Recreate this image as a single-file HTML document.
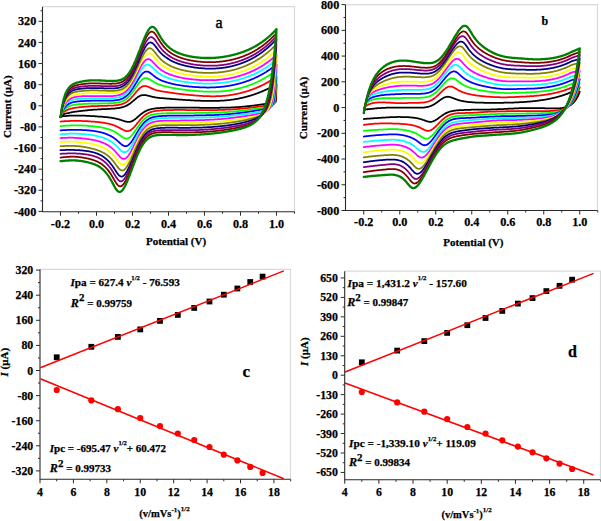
<!DOCTYPE html>
<html><head><meta charset="utf-8"><style>
html,body{margin:0;padding:0;background:#fff;}
svg{display:block;}
text{font-family:'Liberation Serif', serif;font-weight:bold;fill:#000;stroke:#000;stroke-width:0.25px;}
</style></head><body>
<svg width="601" height="521" viewBox="0 0 601 521">
<rect width="601" height="521" fill="#fff"/>
<g>
<polyline points="60.5,117.2 60.9,116.6 61.2,116.2 61.6,115.8 61.9,115.4 62.3,115.1 62.7,114.8 63.0,114.6 63.4,114.4 63.7,114.2 64.1,114.0 64.5,113.9 64.8,113.8 65.2,113.7 65.5,113.6 65.9,113.5 66.3,113.4 66.6,113.4 67.0,113.3 67.3,113.3 67.7,113.2 68.1,113.1 68.4,113.1 68.8,113.0 69.1,112.9 69.5,112.8 69.9,112.7 70.2,112.6 70.6,112.5 70.9,112.4 71.3,112.3 71.7,112.3 72.0,112.2 72.4,112.1 72.7,112.1 73.1,112.0 73.5,111.9 73.8,111.9 74.2,111.8 74.5,111.8 74.9,111.7 75.3,111.7 75.6,111.6 76.0,111.6 76.3,111.5 76.7,111.5 77.1,111.4 77.4,111.4 77.8,111.3 78.1,111.3 78.5,111.3 78.9,111.2 79.2,111.2 79.6,111.1 79.9,111.1 80.3,111.0 80.7,111.0 81.0,111.0 81.4,110.9 81.7,110.9 82.1,110.8 82.5,110.8 82.8,110.8 83.2,110.7 83.5,110.7 83.9,110.6 84.3,110.6 84.6,110.6 85.0,110.5 85.3,110.5 85.7,110.4 86.1,110.4 86.4,110.4 86.8,110.3 87.1,110.3 87.5,110.3 87.9,110.2 88.2,110.2 88.6,110.1 88.9,110.1 89.3,110.1 89.7,110.0 90.0,110.0 90.4,110.0 90.7,109.9 91.1,109.9 91.5,109.9 91.8,109.8 92.2,109.8 92.5,109.8 92.9,109.7 93.3,109.7 93.6,109.7 94.0,109.7 94.3,109.6 94.7,109.6 95.1,109.6 95.4,109.6 95.8,109.5 96.1,109.5 96.5,109.5 96.9,109.5 97.2,109.5 97.6,109.4 97.9,109.4 98.3,109.4 98.7,109.4 99.0,109.4 99.4,109.3 99.7,109.3 100.1,109.3 100.5,109.3 100.8,109.3 101.2,109.3 101.5,109.2 101.9,109.2 102.3,109.2 102.6,109.2 103.0,109.2 103.3,109.1 103.7,109.1 104.1,109.1 104.4,109.1 104.8,109.1 105.1,109.1 105.5,109.0 105.9,109.0 106.2,109.0 106.6,109.0 106.9,109.0 107.3,109.0 107.7,108.9 108.0,108.9 108.4,108.9 108.7,108.9 109.1,108.9 109.5,108.8 109.8,108.8 110.2,108.8 110.5,108.8 110.9,108.8 111.3,108.7 111.6,108.7 112.0,108.7 112.3,108.7 112.7,108.6 113.1,108.6 113.4,108.6 113.8,108.6 114.1,108.5 114.5,108.5 114.9,108.5 115.2,108.4 115.6,108.4 115.9,108.4 116.3,108.3 116.7,108.3 117.0,108.2 117.4,108.2 117.7,108.2 118.1,108.1 118.5,108.1 118.8,108.0 119.2,107.9 119.5,107.9 119.9,107.8 120.3,107.7 120.6,107.7 121.0,107.6 121.3,107.5 121.7,107.4 122.1,107.3 122.4,107.2 122.8,107.1 123.1,107.0 123.5,106.9 123.9,106.8 124.2,106.7 124.6,106.5 124.9,106.4 125.3,106.2 125.7,106.1 126.0,105.9 126.4,105.7 126.7,105.6 127.1,105.4 127.5,105.2 127.8,105.0 128.2,104.8 128.5,104.5 128.9,104.3 129.3,104.1 129.6,103.8 130.0,103.5 130.3,103.3 130.7,103.0 131.1,102.7 131.4,102.4 131.8,102.1 132.1,101.9 132.5,101.5 132.9,101.2 133.2,100.9 133.6,100.6 133.9,100.3 134.3,100.0 134.7,99.7 135.0,99.4 135.4,99.1 135.7,98.8 136.1,98.5 136.5,98.2 136.8,97.9 137.2,97.6 137.5,97.3 137.9,97.1 138.3,96.8 138.6,96.6 139.0,96.4 139.3,96.2 139.7,96.0 140.1,95.8 140.4,95.6 140.8,95.5 141.1,95.4 141.5,95.3 141.9,95.2 142.2,95.1 142.6,95.0 142.9,95.0 143.3,95.0 143.7,95.0 144.0,95.0 144.4,95.0 144.7,95.0 145.1,95.0 145.5,95.1 145.8,95.2 146.2,95.2 146.5,95.3 146.9,95.4 147.3,95.5 147.6,95.5 148.0,95.6 148.3,95.7 148.7,95.8 149.1,95.9 149.4,96.0 149.8,96.1 150.1,96.2 150.5,96.3 150.9,96.4 151.2,96.5 151.6,96.6 151.9,96.7 152.3,96.8 152.7,96.8 153.0,96.9 153.4,97.0 153.7,97.1 154.1,97.1 154.5,97.2 154.8,97.3 155.2,97.3 155.5,97.4 155.9,97.5 156.3,97.5 156.6,97.6 157.0,97.6 157.3,97.7 157.7,97.7 158.1,97.8 158.4,97.8 158.8,97.8 159.1,97.9 159.5,97.9 159.9,98.0 160.2,98.0 160.6,98.0 160.9,98.1 161.3,98.1 161.7,98.1 162.0,98.1 162.4,98.2 162.7,98.2 163.1,98.2 163.5,98.3 163.8,98.3 164.2,98.3 164.5,98.3 164.9,98.4 165.3,98.4 165.6,98.4 166.0,98.5 166.3,98.5 166.7,98.5 167.1,98.5 167.4,98.6 167.8,98.6 168.1,98.6 168.5,98.7 168.9,98.7 169.2,98.7 169.6,98.8 169.9,98.8 170.3,98.8 170.7,98.9 171.0,98.9 171.4,98.9 171.7,99.0 172.1,99.0 172.5,99.0 172.8,99.0 173.2,99.1 173.5,99.1 173.9,99.1 174.3,99.2 174.6,99.2 175.0,99.2 175.3,99.2 175.7,99.3 176.1,99.3 176.4,99.3 176.8,99.3 177.1,99.4 177.5,99.4 177.9,99.4 178.2,99.4 178.6,99.5 178.9,99.5 179.3,99.5 179.7,99.6 180.0,99.6 180.4,99.6 180.7,99.6 181.1,99.7 181.5,99.7 181.8,99.7 182.2,99.7 182.5,99.8 182.9,99.8 183.3,99.8 183.6,99.8 184.0,99.8 184.3,99.9 184.7,99.9 185.1,99.9 185.4,99.9 185.8,100.0 186.1,100.0 186.5,100.0 186.9,100.0 187.2,100.1 187.6,100.1 187.9,100.1 188.3,100.1 188.7,100.1 189.0,100.2 189.4,100.2 189.7,100.2 190.1,100.2 190.5,100.3 190.8,100.3 191.2,100.3 191.5,100.3 191.9,100.3 192.3,100.4 192.6,100.4 193.0,100.4 193.3,100.4 193.7,100.4 194.1,100.5 194.4,100.5 194.8,100.5 195.1,100.5 195.5,100.5 195.9,100.5 196.2,100.6 196.6,100.6 196.9,100.6 197.3,100.6 197.7,100.6 198.0,100.6 198.4,100.7 198.7,100.7 199.1,100.7 199.5,100.7 199.8,100.7 200.2,100.7 200.5,100.7 200.9,100.8 201.3,100.8 201.6,100.8 202.0,100.8 202.3,100.8 202.7,100.8 203.1,100.8 203.4,100.8 203.8,100.8 204.1,100.9 204.5,100.9 204.9,100.9 205.2,100.9 205.6,100.9 205.9,100.9 206.3,100.9 206.7,100.9 207.0,100.9 207.4,100.9 207.7,100.9 208.1,100.9 208.5,100.9 208.8,100.9 209.2,100.9 209.5,100.9 209.9,100.9 210.3,100.9 210.6,100.9 211.0,100.9 211.3,100.9 211.7,100.9 212.1,100.9 212.4,100.9 212.8,100.9 213.1,100.9 213.5,100.9 213.9,100.9 214.2,100.9 214.6,100.9 214.9,100.9 215.3,100.9 215.7,100.9 216.0,100.9 216.4,100.9 216.7,100.9 217.1,100.9 217.5,100.8 217.8,100.8 218.2,100.8 218.5,100.8 218.9,100.8 219.3,100.8 219.6,100.8 220.0,100.7 220.3,100.7 220.7,100.7 221.1,100.7 221.4,100.7 221.8,100.6 222.1,100.6 222.5,100.6 222.9,100.6 223.2,100.6 223.6,100.5 223.9,100.5 224.3,100.5 224.7,100.4 225.0,100.4 225.4,100.4 225.7,100.4 226.1,100.3 226.5,100.3 226.8,100.3 227.2,100.2 227.5,100.2 227.9,100.2 228.3,100.1 228.6,100.1 229.0,100.0 229.3,100.0 229.7,100.0 230.1,99.9 230.4,99.9 230.8,99.8 231.1,99.8 231.5,99.7 231.9,99.7 232.2,99.6 232.6,99.6 232.9,99.5 233.3,99.5 233.7,99.4 234.0,99.4 234.4,99.3 234.7,99.3 235.1,99.2 235.5,99.1 235.8,99.1 236.2,99.0 236.5,98.9 236.9,98.9 237.3,98.8 237.6,98.8 238.0,98.7 238.3,98.6 238.7,98.5 239.1,98.5 239.4,98.4 239.8,98.3 240.1,98.2 240.5,98.2 240.9,98.1 241.2,98.0 241.6,97.9 241.9,97.9 242.3,97.8 242.7,97.7 243.0,97.6 243.4,97.5 243.7,97.4 244.1,97.3 244.5,97.3 244.8,97.2 245.2,97.1 245.5,97.0 245.9,96.9 246.3,96.8 246.6,96.7 247.0,96.6 247.3,96.5 247.7,96.4 248.1,96.3 248.4,96.2 248.8,96.1 249.1,96.0 249.5,95.9 249.9,95.8 250.2,95.7 250.6,95.6 250.9,95.5 251.3,95.3 251.7,95.2 252.0,95.1 252.4,95.0 252.7,94.9 253.1,94.8 253.5,94.6 253.8,94.5 254.2,94.4 254.5,94.3 254.9,94.2 255.3,94.0 255.6,93.9 256.0,93.8 256.3,93.6 256.7,93.5 257.1,93.4 257.4,93.3 257.8,93.1 258.1,93.0 258.5,92.8 258.9,92.7 259.2,92.6 259.6,92.4 259.9,92.3 260.3,92.1 260.7,92.0 261.0,91.9 261.4,91.7 261.7,91.6 262.1,91.4 262.5,91.3 262.8,91.1 263.2,91.0 263.5,90.8 263.9,90.6 264.3,90.5 264.6,90.3 265.0,90.2 265.3,90.0 265.7,89.8 266.1,89.7 266.4,89.5 266.8,89.3 267.1,89.2 267.5,89.0 267.9,88.8 268.2,88.7 268.6,88.5 268.9,88.3 269.3,88.1 269.7,87.9 270.0,87.8 270.4,87.6 270.7,87.4 271.1,87.2 271.5,87.0 271.8,86.8 272.2,86.7 272.5,86.5 272.9,86.3 273.3,86.1 273.6,85.9 274.0,85.7 274.3,85.5 274.7,85.3 275.1,85.1 275.4,84.9 275.8,84.7 276.1,84.5 276.5,84.3 276.1,99.4 275.8,101.7 275.4,102.1 275.1,102.2 274.7,102.3 274.3,102.4 274.0,102.4 273.6,102.5 273.3,102.6 272.9,102.6 272.5,102.7 272.2,102.7 271.8,102.8 271.5,102.9 271.1,102.9 270.7,103.0 270.4,103.1 270.0,103.1 269.7,103.2 269.3,103.2 268.9,103.3 268.6,103.4 268.2,103.4 267.9,103.5 267.5,103.5 267.1,103.6 266.8,103.7 266.4,103.7 266.1,103.8 265.7,103.8 265.3,103.9 265.0,103.9 264.6,104.0 264.3,104.1 263.9,104.1 263.5,104.2 263.2,104.2 262.8,104.3 262.5,104.3 262.1,104.4 261.7,104.4 261.4,104.5 261.0,104.5 260.7,104.6 260.3,104.6 259.9,104.7 259.6,104.7 259.2,104.8 258.9,104.8 258.5,104.9 258.1,104.9 257.8,105.0 257.4,105.0 257.1,105.1 256.7,105.1 256.3,105.2 256.0,105.2 255.6,105.3 255.3,105.3 254.9,105.4 254.5,105.4 254.2,105.5 253.8,105.5 253.5,105.6 253.1,105.6 252.7,105.6 252.4,105.7 252.0,105.7 251.7,105.8 251.3,105.8 250.9,105.9 250.6,105.9 250.2,105.9 249.9,106.0 249.5,106.0 249.1,106.1 248.8,106.1 248.4,106.1 248.1,106.2 247.7,106.2 247.3,106.2 247.0,106.3 246.6,106.3 246.3,106.4 245.9,106.4 245.5,106.4 245.2,106.5 244.8,106.5 244.5,106.5 244.1,106.6 243.7,106.6 243.4,106.6 243.0,106.7 242.7,106.7 242.3,106.7 241.9,106.8 241.6,106.8 241.2,106.8 240.9,106.8 240.5,106.9 240.1,106.9 239.8,106.9 239.4,107.0 239.1,107.0 238.7,107.0 238.3,107.0 238.0,107.1 237.6,107.1 237.3,107.1 236.9,107.1 236.5,107.2 236.2,107.2 235.8,107.2 235.5,107.2 235.1,107.2 234.7,107.3 234.4,107.3 234.0,107.3 233.7,107.3 233.3,107.3 232.9,107.4 232.6,107.4 232.2,107.4 231.9,107.4 231.5,107.4 231.1,107.4 230.8,107.5 230.4,107.5 230.1,107.5 229.7,107.5 229.3,107.5 229.0,107.5 228.6,107.5 228.3,107.6 227.9,107.6 227.5,107.6 227.2,107.6 226.8,107.6 226.5,107.6 226.1,107.6 225.7,107.6 225.4,107.6 225.0,107.6 224.7,107.7 224.3,107.7 223.9,107.7 223.6,107.7 223.2,107.7 222.9,107.7 222.5,107.7 222.1,107.7 221.8,107.7 221.4,107.7 221.1,107.7 220.7,107.7 220.3,107.7 220.0,107.7 219.6,107.8 219.3,107.8 218.9,107.8 218.5,107.8 218.2,107.8 217.8,107.8 217.5,107.8 217.1,107.8 216.7,107.8 216.4,107.8 216.0,107.8 215.7,107.8 215.3,107.8 214.9,107.8 214.6,107.8 214.2,107.8 213.9,107.8 213.5,107.8 213.1,107.8 212.8,107.8 212.4,107.8 212.1,107.8 211.7,107.8 211.3,107.8 211.0,107.8 210.6,107.8 210.3,107.8 209.9,107.8 209.5,107.8 209.2,107.8 208.8,107.8 208.5,107.8 208.1,107.8 207.7,107.8 207.4,107.8 207.0,107.8 206.7,107.8 206.3,107.8 205.9,107.8 205.6,107.8 205.2,107.8 204.9,107.8 204.5,107.8 204.1,107.8 203.8,107.8 203.4,107.8 203.1,107.8 202.7,107.8 202.3,107.8 202.0,107.8 201.6,107.8 201.3,107.8 200.9,107.8 200.5,107.8 200.2,107.8 199.8,107.8 199.5,107.8 199.1,107.7 198.7,107.7 198.4,107.7 198.0,107.7 197.7,107.7 197.3,107.7 196.9,107.7 196.6,107.7 196.2,107.7 195.9,107.7 195.5,107.7 195.1,107.7 194.8,107.7 194.4,107.7 194.1,107.7 193.7,107.7 193.3,107.7 193.0,107.7 192.6,107.7 192.3,107.7 191.9,107.7 191.5,107.7 191.2,107.7 190.8,107.7 190.5,107.7 190.1,107.7 189.7,107.7 189.4,107.7 189.0,107.6 188.7,107.6 188.3,107.6 187.9,107.6 187.6,107.6 187.2,107.6 186.9,107.6 186.5,107.6 186.1,107.6 185.8,107.6 185.4,107.6 185.1,107.6 184.7,107.6 184.3,107.6 184.0,107.6 183.6,107.6 183.3,107.6 182.9,107.6 182.5,107.6 182.2,107.6 181.8,107.6 181.5,107.6 181.1,107.6 180.7,107.6 180.4,107.6 180.0,107.6 179.7,107.6 179.3,107.6 178.9,107.6 178.6,107.6 178.2,107.6 177.9,107.6 177.5,107.6 177.1,107.6 176.8,107.6 176.4,107.6 176.1,107.6 175.7,107.6 175.3,107.6 175.0,107.6 174.6,107.6 174.3,107.6 173.9,107.6 173.5,107.6 173.2,107.6 172.8,107.6 172.5,107.6 172.1,107.6 171.7,107.6 171.4,107.6 171.0,107.6 170.7,107.6 170.3,107.6 169.9,107.6 169.6,107.6 169.2,107.6 168.9,107.6 168.5,107.6 168.1,107.7 167.8,107.7 167.4,107.7 167.1,107.7 166.7,107.7 166.3,107.7 166.0,107.7 165.6,107.7 165.3,107.7 164.9,107.7 164.5,107.8 164.2,107.8 163.8,107.8 163.5,107.8 163.1,107.8 162.7,107.8 162.4,107.8 162.0,107.9 161.7,107.9 161.3,107.9 160.9,107.9 160.6,107.9 160.2,108.0 159.9,108.0 159.5,108.0 159.1,108.0 158.8,108.1 158.4,108.1 158.1,108.1 157.7,108.2 157.3,108.2 157.0,108.2 156.6,108.3 156.3,108.3 155.9,108.4 155.5,108.4 155.2,108.4 154.8,108.5 154.5,108.5 154.1,108.6 153.7,108.6 153.4,108.7 153.0,108.8 152.7,108.8 152.3,108.9 151.9,109.0 151.6,109.0 151.2,109.1 150.9,109.2 150.5,109.3 150.1,109.4 149.8,109.5 149.4,109.6 149.1,109.7 148.7,109.8 148.3,110.0 148.0,110.1 147.6,110.2 147.3,110.4 146.9,110.5 146.5,110.7 146.2,110.9 145.8,111.0 145.5,111.2 145.1,111.4 144.7,111.6 144.4,111.8 144.0,112.0 143.7,112.3 143.3,112.5 142.9,112.8 142.6,113.0 142.2,113.3 141.9,113.5 141.5,113.8 141.1,114.1 140.8,114.4 140.4,114.7 140.1,115.0 139.7,115.3 139.3,115.6 139.0,115.9 138.6,116.2 138.3,116.5 137.9,116.8 137.5,117.2 137.2,117.5 136.8,117.8 136.5,118.1 136.1,118.4 135.7,118.7 135.4,119.0 135.0,119.3 134.7,119.5 134.3,119.8 133.9,120.0 133.6,120.3 133.2,120.5 132.9,120.7 132.5,120.9 132.1,121.1 131.8,121.2 131.4,121.4 131.1,121.5 130.7,121.6 130.3,121.7 130.0,121.8 129.6,121.8 129.3,121.9 128.9,121.9 128.5,121.9 128.2,121.9 127.8,121.9 127.5,121.8 127.1,121.8 126.7,121.7 126.4,121.7 126.0,121.6 125.7,121.5 125.3,121.4 124.9,121.3 124.6,121.2 124.2,121.1 123.9,121.0 123.5,120.9 123.1,120.7 122.8,120.6 122.4,120.5 122.1,120.4 121.7,120.3 121.3,120.1 121.0,120.0 120.6,119.9 120.3,119.8 119.9,119.7 119.5,119.6 119.2,119.5 118.8,119.4 118.5,119.2 118.1,119.2 117.7,119.1 117.4,119.0 117.0,118.9 116.7,118.8 116.3,118.7 115.9,118.6 115.6,118.5 115.2,118.5 114.9,118.4 114.5,118.3 114.1,118.2 113.8,118.2 113.4,118.1 113.1,118.0 112.7,118.0 112.3,117.9 112.0,117.9 111.6,117.8 111.3,117.7 110.9,117.7 110.5,117.6 110.2,117.6 109.8,117.5 109.5,117.5 109.1,117.4 108.7,117.4 108.4,117.4 108.0,117.3 107.7,117.3 107.3,117.2 106.9,117.2 106.6,117.2 106.2,117.1 105.9,117.1 105.5,117.1 105.1,117.0 104.8,117.0 104.4,117.0 104.1,116.9 103.7,116.9 103.3,116.9 103.0,116.8 102.6,116.8 102.3,116.8 101.9,116.7 101.5,116.7 101.2,116.7 100.8,116.7 100.5,116.6 100.1,116.6 99.7,116.6 99.4,116.6 99.0,116.5 98.7,116.5 98.3,116.5 97.9,116.5 97.6,116.4 97.2,116.4 96.9,116.4 96.5,116.4 96.1,116.3 95.8,116.3 95.4,116.3 95.1,116.3 94.7,116.2 94.3,116.2 94.0,116.2 93.6,116.2 93.3,116.2 92.9,116.1 92.5,116.1 92.2,116.1 91.8,116.1 91.5,116.0 91.1,116.0 90.7,116.0 90.4,116.0 90.0,116.0 89.7,115.9 89.3,115.9 88.9,115.9 88.6,115.9 88.2,115.9 87.9,115.9 87.5,115.8 87.1,115.8 86.8,115.8 86.4,115.8 86.1,115.8 85.7,115.8 85.3,115.7 85.0,115.7 84.6,115.7 84.3,115.7 83.9,115.7 83.5,115.7 83.2,115.7 82.8,115.6 82.5,115.6 82.1,115.6 81.7,115.6 81.4,115.6 81.0,115.6 80.7,115.6 80.3,115.5 79.9,115.5 79.6,115.5 79.2,115.5 78.9,115.5 78.5,115.5 78.1,115.5 77.8,115.5 77.4,115.5 77.1,115.5 76.7,115.5 76.3,115.5 76.0,115.5 75.6,115.5 75.3,115.5 74.9,115.5 74.5,115.5 74.2,115.5 73.8,115.5 73.5,115.5 73.1,115.5 72.7,115.5 72.4,115.5 72.0,115.6 71.7,115.6 71.3,115.6 70.9,115.6 70.6,115.6 70.2,115.6 69.9,115.7 69.5,115.7 69.1,115.7 68.8,115.7 68.4,115.8 68.1,115.8 67.7,115.8 67.3,115.9 67.0,115.9 66.6,115.9 66.3,115.9 65.9,116.0 65.5,116.0 65.2,116.0 64.8,116.1 64.5,116.1 64.1,116.1 63.7,116.2 63.4,116.2 63.0,116.2 62.7,116.3 62.3,116.3 61.9,116.3 61.6,116.4 61.2,116.4 60.9,116.5 60.5,116.5" fill="none" stroke="#000000" stroke-width="1.75" stroke-linejoin="round" stroke-linecap="round"/>
<polyline points="60.5,117.2 60.9,116.4 61.2,115.6 61.6,115.0 61.9,114.4 62.3,113.8 62.7,113.4 63.0,112.9 63.4,112.5 63.7,112.2 64.1,111.8 64.5,111.5 64.8,111.3 65.2,111.0 65.5,110.8 65.9,110.6 66.3,110.4 66.6,110.2 67.0,110.1 67.3,109.9 67.7,109.8 68.1,109.6 68.4,109.5 68.8,109.4 69.1,109.2 69.5,109.1 69.9,109.0 70.2,108.9 70.6,108.7 70.9,108.6 71.3,108.5 71.7,108.5 72.0,108.4 72.4,108.3 72.7,108.2 73.1,108.1 73.5,108.1 73.8,108.0 74.2,107.9 74.5,107.9 74.9,107.8 75.3,107.8 75.6,107.7 76.0,107.7 76.3,107.6 76.7,107.6 77.1,107.5 77.4,107.5 77.8,107.4 78.1,107.4 78.5,107.4 78.9,107.3 79.2,107.3 79.6,107.2 79.9,107.2 80.3,107.2 80.7,107.1 81.0,107.1 81.4,107.0 81.7,107.0 82.1,107.0 82.5,106.9 82.8,106.9 83.2,106.9 83.5,106.8 83.9,106.8 84.3,106.8 84.6,106.7 85.0,106.7 85.3,106.7 85.7,106.7 86.1,106.6 86.4,106.6 86.8,106.6 87.1,106.5 87.5,106.5 87.9,106.5 88.2,106.4 88.6,106.4 88.9,106.4 89.3,106.4 89.7,106.3 90.0,106.3 90.4,106.3 90.7,106.3 91.1,106.2 91.5,106.2 91.8,106.2 92.2,106.2 92.5,106.2 92.9,106.1 93.3,106.1 93.6,106.1 94.0,106.1 94.3,106.1 94.7,106.1 95.1,106.0 95.4,106.0 95.8,106.0 96.1,106.0 96.5,106.0 96.9,106.0 97.2,106.0 97.6,106.0 97.9,106.0 98.3,106.0 98.7,105.9 99.0,105.9 99.4,105.9 99.7,105.9 100.1,105.9 100.5,105.9 100.8,105.9 101.2,105.9 101.5,105.9 101.9,105.9 102.3,105.9 102.6,105.9 103.0,105.9 103.3,105.8 103.7,105.8 104.1,105.8 104.4,105.8 104.8,105.8 105.1,105.8 105.5,105.8 105.9,105.8 106.2,105.8 106.6,105.8 106.9,105.8 107.3,105.8 107.7,105.7 108.0,105.7 108.4,105.7 108.7,105.7 109.1,105.7 109.5,105.7 109.8,105.7 110.2,105.7 110.5,105.6 110.9,105.6 111.3,105.6 111.6,105.6 112.0,105.6 112.3,105.6 112.7,105.5 113.1,105.5 113.4,105.5 113.8,105.5 114.1,105.4 114.5,105.4 114.9,105.4 115.2,105.4 115.6,105.3 115.9,105.3 116.3,105.2 116.7,105.2 117.0,105.2 117.4,105.1 117.7,105.1 118.1,105.0 118.5,104.9 118.8,104.9 119.2,104.8 119.5,104.7 119.9,104.7 120.3,104.6 120.6,104.5 121.0,104.4 121.3,104.3 121.7,104.2 122.1,104.1 122.4,103.9 122.8,103.8 123.1,103.7 123.5,103.5 123.9,103.4 124.2,103.2 124.6,103.0 124.9,102.9 125.3,102.7 125.7,102.4 126.0,102.2 126.4,102.0 126.7,101.8 127.1,101.5 127.5,101.3 127.8,101.0 128.2,100.7 128.5,100.4 128.9,100.1 129.3,99.8 129.6,99.4 130.0,99.1 130.3,98.7 130.7,98.4 131.1,98.0 131.4,97.6 131.8,97.2 132.1,96.8 132.5,96.4 132.9,96.0 133.2,95.6 133.6,95.1 133.9,94.7 134.3,94.3 134.7,93.8 135.0,93.4 135.4,93.0 135.7,92.5 136.1,92.1 136.5,91.7 136.8,91.3 137.2,90.8 137.5,90.4 137.9,90.0 138.3,89.7 138.6,89.3 139.0,88.9 139.3,88.6 139.7,88.3 140.1,88.0 140.4,87.7 140.8,87.4 141.1,87.2 141.5,86.9 141.9,86.7 142.2,86.6 142.6,86.4 142.9,86.3 143.3,86.2 143.7,86.1 144.0,86.0 144.4,86.0 144.7,86.0 145.1,86.0 145.5,86.0 145.8,86.1 146.2,86.2 146.5,86.2 146.9,86.3 147.3,86.5 147.6,86.6 148.0,86.7 148.3,86.9 148.7,87.0 149.1,87.2 149.4,87.3 149.8,87.5 150.1,87.7 150.5,87.8 150.9,88.0 151.2,88.2 151.6,88.3 151.9,88.5 152.3,88.6 152.7,88.8 153.0,88.9 153.4,89.1 153.7,89.2 154.1,89.4 154.5,89.5 154.8,89.6 155.2,89.7 155.5,89.9 155.9,90.0 156.3,90.1 156.6,90.2 157.0,90.3 157.3,90.4 157.7,90.5 158.1,90.6 158.4,90.7 158.8,90.7 159.1,90.8 159.5,90.9 159.9,91.0 160.2,91.0 160.6,91.1 160.9,91.2 161.3,91.2 161.7,91.3 162.0,91.4 162.4,91.4 162.7,91.5 163.1,91.5 163.5,91.6 163.8,91.6 164.2,91.7 164.5,91.7 164.9,91.8 165.3,91.8 165.6,91.9 166.0,92.0 166.3,92.0 166.7,92.1 167.1,92.1 167.4,92.2 167.8,92.2 168.1,92.3 168.5,92.3 168.9,92.4 169.2,92.5 169.6,92.5 169.9,92.6 170.3,92.6 170.7,92.7 171.0,92.7 171.4,92.8 171.7,92.8 172.1,92.9 172.5,92.9 172.8,93.0 173.2,93.0 173.5,93.1 173.9,93.1 174.3,93.2 174.6,93.2 175.0,93.3 175.3,93.3 175.7,93.4 176.1,93.4 176.4,93.5 176.8,93.5 177.1,93.5 177.5,93.6 177.9,93.6 178.2,93.7 178.6,93.7 178.9,93.8 179.3,93.8 179.7,93.9 180.0,93.9 180.4,93.9 180.7,94.0 181.1,94.0 181.5,94.1 181.8,94.1 182.2,94.1 182.5,94.2 182.9,94.2 183.3,94.3 183.6,94.3 184.0,94.3 184.3,94.4 184.7,94.4 185.1,94.5 185.4,94.5 185.8,94.5 186.1,94.6 186.5,94.6 186.9,94.7 187.2,94.7 187.6,94.7 187.9,94.8 188.3,94.8 188.7,94.8 189.0,94.9 189.4,94.9 189.7,94.9 190.1,95.0 190.5,95.0 190.8,95.0 191.2,95.1 191.5,95.1 191.9,95.1 192.3,95.2 192.6,95.2 193.0,95.2 193.3,95.3 193.7,95.3 194.1,95.3 194.4,95.4 194.8,95.4 195.1,95.4 195.5,95.5 195.9,95.5 196.2,95.5 196.6,95.6 196.9,95.6 197.3,95.6 197.7,95.6 198.0,95.7 198.4,95.7 198.7,95.7 199.1,95.7 199.5,95.8 199.8,95.8 200.2,95.8 200.5,95.8 200.9,95.9 201.3,95.9 201.6,95.9 202.0,95.9 202.3,95.9 202.7,96.0 203.1,96.0 203.4,96.0 203.8,96.0 204.1,96.0 204.5,96.1 204.9,96.1 205.2,96.1 205.6,96.1 205.9,96.1 206.3,96.1 206.7,96.2 207.0,96.2 207.4,96.2 207.7,96.2 208.1,96.2 208.5,96.2 208.8,96.2 209.2,96.2 209.5,96.2 209.9,96.2 210.3,96.3 210.6,96.3 211.0,96.3 211.3,96.3 211.7,96.3 212.1,96.3 212.4,96.3 212.8,96.3 213.1,96.3 213.5,96.3 213.9,96.3 214.2,96.3 214.6,96.3 214.9,96.3 215.3,96.3 215.7,96.3 216.0,96.2 216.4,96.2 216.7,96.2 217.1,96.2 217.5,96.2 217.8,96.2 218.2,96.2 218.5,96.2 218.9,96.2 219.3,96.1 219.6,96.1 220.0,96.1 220.3,96.1 220.7,96.1 221.1,96.0 221.4,96.0 221.8,96.0 222.1,96.0 222.5,95.9 222.9,95.9 223.2,95.9 223.6,95.9 223.9,95.8 224.3,95.8 224.7,95.8 225.0,95.7 225.4,95.7 225.7,95.7 226.1,95.6 226.5,95.6 226.8,95.5 227.2,95.5 227.5,95.5 227.9,95.4 228.3,95.4 228.6,95.3 229.0,95.3 229.3,95.2 229.7,95.2 230.1,95.1 230.4,95.1 230.8,95.0 231.1,94.9 231.5,94.9 231.9,94.8 232.2,94.8 232.6,94.7 232.9,94.6 233.3,94.6 233.7,94.5 234.0,94.4 234.4,94.4 234.7,94.3 235.1,94.2 235.5,94.2 235.8,94.1 236.2,94.0 236.5,94.0 236.9,93.9 237.3,93.8 237.6,93.7 238.0,93.6 238.3,93.6 238.7,93.5 239.1,93.4 239.4,93.3 239.8,93.2 240.1,93.1 240.5,93.1 240.9,93.0 241.2,92.9 241.6,92.8 241.9,92.7 242.3,92.6 242.7,92.5 243.0,92.4 243.4,92.3 243.7,92.2 244.1,92.1 244.5,92.0 244.8,91.9 245.2,91.8 245.5,91.7 245.9,91.6 246.3,91.5 246.6,91.4 247.0,91.3 247.3,91.1 247.7,91.0 248.1,90.9 248.4,90.8 248.8,90.7 249.1,90.6 249.5,90.4 249.9,90.3 250.2,90.2 250.6,90.1 250.9,89.9 251.3,89.8 251.7,89.7 252.0,89.5 252.4,89.4 252.7,89.3 253.1,89.1 253.5,89.0 253.8,88.9 254.2,88.7 254.5,88.6 254.9,88.4 255.3,88.3 255.6,88.2 256.0,88.0 256.3,87.9 256.7,87.7 257.1,87.6 257.4,87.4 257.8,87.2 258.1,87.1 258.5,86.9 258.9,86.8 259.2,86.6 259.6,86.4 259.9,86.3 260.3,86.1 260.7,85.9 261.0,85.8 261.4,85.6 261.7,85.4 262.1,85.3 262.5,85.1 262.8,84.9 263.2,84.7 263.5,84.5 263.9,84.4 264.3,84.2 264.6,84.0 265.0,83.8 265.3,83.6 265.7,83.4 266.1,83.2 266.4,83.0 266.8,82.8 267.1,82.6 267.5,82.4 267.9,82.2 268.2,82.0 268.6,81.8 268.9,81.6 269.3,81.4 269.7,81.2 270.0,80.9 270.4,80.7 270.7,80.5 271.1,80.3 271.5,80.1 271.8,79.8 272.2,79.6 272.5,79.4 272.9,79.1 273.3,78.9 273.6,78.7 274.0,78.4 274.3,78.2 274.7,77.9 275.1,77.7 275.4,77.4 275.8,77.2 276.1,76.9 276.5,76.7 276.1,90.4 275.8,97.2 275.4,100.6 275.1,102.3 274.7,103.2 274.3,103.6 274.0,103.9 273.6,104.1 273.3,104.2 272.9,104.3 272.5,104.4 272.2,104.4 271.8,104.5 271.5,104.6 271.1,104.6 270.7,104.7 270.4,104.8 270.0,104.8 269.7,104.9 269.3,105.0 268.9,105.0 268.6,105.1 268.2,105.1 267.9,105.2 267.5,105.3 267.1,105.3 266.8,105.4 266.4,105.4 266.1,105.5 265.7,105.6 265.3,105.6 265.0,105.7 264.6,105.7 264.3,105.8 263.9,105.8 263.5,105.9 263.2,106.0 262.8,106.0 262.5,106.1 262.1,106.1 261.7,106.2 261.4,106.2 261.0,106.3 260.7,106.3 260.3,106.4 259.9,106.4 259.6,106.5 259.2,106.6 258.9,106.6 258.5,106.7 258.1,106.7 257.8,106.8 257.4,106.8 257.1,106.9 256.7,106.9 256.3,107.0 256.0,107.0 255.6,107.1 255.3,107.1 254.9,107.1 254.5,107.2 254.2,107.2 253.8,107.3 253.5,107.3 253.1,107.4 252.7,107.4 252.4,107.5 252.0,107.5 251.7,107.6 251.3,107.6 250.9,107.6 250.6,107.7 250.2,107.7 249.9,107.8 249.5,107.8 249.1,107.9 248.8,107.9 248.4,107.9 248.1,108.0 247.7,108.0 247.3,108.1 247.0,108.1 246.6,108.1 246.3,108.2 245.9,108.2 245.5,108.2 245.2,108.3 244.8,108.3 244.5,108.4 244.1,108.4 243.7,108.4 243.4,108.5 243.0,108.5 242.7,108.5 242.3,108.6 241.9,108.6 241.6,108.6 241.2,108.7 240.9,108.7 240.5,108.7 240.1,108.8 239.8,108.8 239.4,108.8 239.1,108.9 238.7,108.9 238.3,108.9 238.0,108.9 237.6,109.0 237.3,109.0 236.9,109.0 236.5,109.1 236.2,109.1 235.8,109.1 235.5,109.1 235.1,109.2 234.7,109.2 234.4,109.2 234.0,109.2 233.7,109.3 233.3,109.3 232.9,109.3 232.6,109.3 232.2,109.4 231.9,109.4 231.5,109.4 231.1,109.4 230.8,109.5 230.4,109.5 230.1,109.5 229.7,109.5 229.3,109.5 229.0,109.6 228.6,109.6 228.3,109.6 227.9,109.6 227.5,109.6 227.2,109.6 226.8,109.7 226.5,109.7 226.1,109.7 225.7,109.7 225.4,109.7 225.0,109.7 224.7,109.8 224.3,109.8 223.9,109.8 223.6,109.8 223.2,109.8 222.9,109.8 222.5,109.8 222.1,109.8 221.8,109.9 221.4,109.9 221.1,109.9 220.7,109.9 220.3,109.9 220.0,109.9 219.6,109.9 219.3,109.9 218.9,109.9 218.5,109.9 218.2,110.0 217.8,110.0 217.5,110.0 217.1,110.0 216.7,110.0 216.4,110.0 216.0,110.0 215.7,110.0 215.3,110.0 214.9,110.0 214.6,110.0 214.2,110.0 213.9,110.0 213.5,110.0 213.1,110.0 212.8,110.0 212.4,110.1 212.1,110.1 211.7,110.1 211.3,110.1 211.0,110.1 210.6,110.1 210.3,110.1 209.9,110.1 209.5,110.1 209.2,110.1 208.8,110.1 208.5,110.1 208.1,110.1 207.7,110.1 207.4,110.1 207.0,110.1 206.7,110.1 206.3,110.1 205.9,110.1 205.6,110.1 205.2,110.1 204.9,110.1 204.5,110.1 204.1,110.1 203.8,110.1 203.4,110.1 203.1,110.1 202.7,110.1 202.3,110.1 202.0,110.1 201.6,110.1 201.3,110.1 200.9,110.1 200.5,110.1 200.2,110.1 199.8,110.1 199.5,110.1 199.1,110.1 198.7,110.1 198.4,110.1 198.0,110.1 197.7,110.0 197.3,110.0 196.9,110.0 196.6,110.0 196.2,110.0 195.9,110.0 195.5,110.0 195.1,110.0 194.8,110.0 194.4,110.0 194.1,110.0 193.7,110.0 193.3,110.0 193.0,110.0 192.6,110.0 192.3,110.0 191.9,110.0 191.5,110.0 191.2,110.0 190.8,110.0 190.5,110.0 190.1,110.0 189.7,110.0 189.4,110.0 189.0,110.0 188.7,110.0 188.3,110.0 187.9,110.0 187.6,110.0 187.2,110.0 186.9,110.0 186.5,110.0 186.1,110.0 185.8,110.0 185.4,110.0 185.1,109.9 184.7,109.9 184.3,109.9 184.0,109.9 183.6,109.9 183.3,109.9 182.9,109.9 182.5,109.9 182.2,109.9 181.8,109.9 181.5,109.9 181.1,109.9 180.7,109.9 180.4,109.9 180.0,109.9 179.7,109.9 179.3,109.9 178.9,109.9 178.6,109.9 178.2,109.9 177.9,109.9 177.5,109.9 177.1,109.9 176.8,109.9 176.4,109.9 176.1,109.9 175.7,109.9 175.3,109.9 175.0,109.9 174.6,109.9 174.3,109.9 173.9,109.9 173.5,109.9 173.2,110.0 172.8,110.0 172.5,110.0 172.1,110.0 171.7,110.0 171.4,110.0 171.0,110.0 170.7,110.0 170.3,110.0 169.9,110.0 169.6,110.0 169.2,110.0 168.9,110.0 168.5,110.0 168.1,110.0 167.8,110.0 167.4,110.1 167.1,110.1 166.7,110.1 166.3,110.1 166.0,110.1 165.6,110.1 165.3,110.1 164.9,110.1 164.5,110.2 164.2,110.2 163.8,110.2 163.5,110.2 163.1,110.2 162.7,110.3 162.4,110.3 162.0,110.3 161.7,110.3 161.3,110.3 160.9,110.4 160.6,110.4 160.2,110.4 159.9,110.5 159.5,110.5 159.1,110.5 158.8,110.6 158.4,110.6 158.1,110.6 157.7,110.7 157.3,110.7 157.0,110.8 156.6,110.8 156.3,110.9 155.9,110.9 155.5,111.0 155.2,111.0 154.8,111.1 154.5,111.2 154.1,111.2 153.7,111.3 153.4,111.4 153.0,111.5 152.7,111.6 152.3,111.6 151.9,111.7 151.6,111.8 151.2,112.0 150.9,112.1 150.5,112.2 150.1,112.3 149.8,112.5 149.4,112.6 149.1,112.8 148.7,112.9 148.3,113.1 148.0,113.3 147.6,113.5 147.3,113.7 146.9,113.9 146.5,114.1 146.2,114.3 145.8,114.6 145.5,114.8 145.1,115.1 144.7,115.3 144.4,115.6 144.0,115.9 143.7,116.2 143.3,116.6 142.9,116.9 142.6,117.2 142.2,117.6 141.9,118.0 141.5,118.3 141.1,118.7 140.8,119.1 140.4,119.5 140.1,119.9 139.7,120.4 139.3,120.8 139.0,121.2 138.6,121.7 138.3,122.1 137.9,122.5 137.5,123.0 137.2,123.4 136.8,123.9 136.5,124.3 136.1,124.8 135.7,125.2 135.4,125.6 135.0,126.1 134.7,126.5 134.3,126.9 133.9,127.3 133.6,127.7 133.2,128.0 132.9,128.4 132.5,128.7 132.1,129.0 131.8,129.3 131.4,129.6 131.1,129.9 130.7,130.1 130.3,130.3 130.0,130.5 129.6,130.7 129.3,130.8 128.9,130.9 128.5,131.0 128.2,131.1 127.8,131.1 127.5,131.1 127.1,131.1 126.7,131.1 126.4,131.1 126.0,131.0 125.7,130.9 125.3,130.8 124.9,130.6 124.6,130.5 124.2,130.4 123.9,130.2 123.5,130.0 123.1,129.8 122.8,129.6 122.4,129.5 122.1,129.3 121.7,129.1 121.3,128.9 121.0,128.7 120.6,128.5 120.3,128.3 119.9,128.1 119.5,127.9 119.2,127.7 118.8,127.5 118.5,127.3 118.1,127.1 117.7,126.9 117.4,126.8 117.0,126.6 116.7,126.4 116.3,126.3 115.9,126.1 115.6,125.9 115.2,125.8 114.9,125.7 114.5,125.5 114.1,125.4 113.8,125.2 113.4,125.1 113.1,125.0 112.7,124.9 112.3,124.8 112.0,124.6 111.6,124.5 111.3,124.4 110.9,124.3 110.5,124.2 110.2,124.1 109.8,124.0 109.5,123.9 109.1,123.9 108.7,123.8 108.4,123.7 108.0,123.6 107.7,123.5 107.3,123.4 106.9,123.4 106.6,123.3 106.2,123.2 105.9,123.2 105.5,123.1 105.1,123.0 104.8,123.0 104.4,122.9 104.1,122.9 103.7,122.8 103.3,122.7 103.0,122.7 102.6,122.6 102.3,122.6 101.9,122.5 101.5,122.5 101.2,122.4 100.8,122.4 100.5,122.3 100.1,122.3 99.7,122.2 99.4,122.2 99.0,122.2 98.7,122.1 98.3,122.1 97.9,122.0 97.6,122.0 97.2,122.0 96.9,121.9 96.5,121.9 96.1,121.9 95.8,121.8 95.4,121.8 95.1,121.8 94.7,121.7 94.3,121.7 94.0,121.7 93.6,121.6 93.3,121.6 92.9,121.6 92.5,121.6 92.2,121.5 91.8,121.5 91.5,121.5 91.1,121.5 90.7,121.4 90.4,121.4 90.0,121.4 89.7,121.4 89.3,121.3 88.9,121.3 88.6,121.3 88.2,121.3 87.9,121.2 87.5,121.2 87.1,121.2 86.8,121.2 86.4,121.2 86.1,121.1 85.7,121.1 85.3,121.1 85.0,121.1 84.6,121.1 84.3,121.0 83.9,121.0 83.5,121.0 83.2,121.0 82.8,121.0 82.5,121.0 82.1,121.0 81.7,120.9 81.4,120.9 81.0,120.9 80.7,120.9 80.3,120.9 79.9,120.9 79.6,120.9 79.2,120.9 78.9,120.9 78.5,120.8 78.1,120.8 77.8,120.8 77.4,120.8 77.1,120.8 76.7,120.8 76.3,120.8 76.0,120.8 75.6,120.8 75.3,120.8 74.9,120.8 74.5,120.8 74.2,120.8 73.8,120.8 73.5,120.8 73.1,120.8 72.7,120.9 72.4,120.9 72.0,120.9 71.7,120.9 71.3,120.9 70.9,120.9 70.6,120.9 70.2,120.9 69.9,120.9 69.5,121.0 69.1,121.0 68.8,121.0 68.4,121.0 68.1,121.0 67.7,121.0 67.3,121.1 67.0,121.1 66.6,121.1 66.3,121.1 65.9,121.1 65.5,121.2 65.2,121.2 64.8,121.2 64.5,121.2 64.1,121.3 63.7,121.3 63.4,121.3 63.0,121.3 62.7,121.4 62.3,121.4 61.9,121.4 61.6,121.4 61.2,121.5 60.9,121.5 60.5,121.5" fill="none" stroke="#ff0000" stroke-width="1.75" stroke-linejoin="round" stroke-linecap="round"/>
<polyline points="60.5,117.2 60.9,116.1 61.2,115.2 61.6,114.3 61.9,113.5 62.3,112.8 62.7,112.1 63.0,111.5 63.4,110.9 63.7,110.4 64.1,110.0 64.5,109.5 64.8,109.1 65.2,108.8 65.5,108.5 65.9,108.2 66.3,107.9 66.6,107.6 67.0,107.4 67.3,107.2 67.7,106.9 68.1,106.7 68.4,106.6 68.8,106.4 69.1,106.2 69.5,106.1 69.9,105.9 70.2,105.8 70.6,105.6 70.9,105.5 71.3,105.4 71.7,105.3 72.0,105.2 72.4,105.1 72.7,105.0 73.1,105.0 73.5,104.9 73.8,104.8 74.2,104.8 74.5,104.7 74.9,104.6 75.3,104.6 75.6,104.5 76.0,104.5 76.3,104.5 76.7,104.4 77.1,104.4 77.4,104.3 77.8,104.3 78.1,104.3 78.5,104.2 78.9,104.2 79.2,104.2 79.6,104.2 79.9,104.1 80.3,104.1 80.7,104.1 81.0,104.1 81.4,104.0 81.7,104.0 82.1,104.0 82.5,104.0 82.8,104.0 83.2,103.9 83.5,103.9 83.9,103.9 84.3,103.9 84.6,103.9 85.0,103.9 85.3,103.8 85.7,103.8 86.1,103.8 86.4,103.8 86.8,103.8 87.1,103.8 87.5,103.8 87.9,103.7 88.2,103.7 88.6,103.7 88.9,103.7 89.3,103.7 89.7,103.7 90.0,103.7 90.4,103.7 90.7,103.6 91.1,103.6 91.5,103.6 91.8,103.6 92.2,103.6 92.5,103.6 92.9,103.6 93.3,103.6 93.6,103.6 94.0,103.6 94.3,103.5 94.7,103.5 95.1,103.5 95.4,103.5 95.8,103.5 96.1,103.5 96.5,103.5 96.9,103.5 97.2,103.5 97.6,103.5 97.9,103.5 98.3,103.5 98.7,103.5 99.0,103.5 99.4,103.5 99.7,103.4 100.1,103.4 100.5,103.4 100.8,103.4 101.2,103.4 101.5,103.4 101.9,103.4 102.3,103.4 102.6,103.4 103.0,103.4 103.3,103.4 103.7,103.4 104.1,103.4 104.4,103.4 104.8,103.4 105.1,103.3 105.5,103.3 105.9,103.3 106.2,103.3 106.6,103.3 106.9,103.3 107.3,103.3 107.7,103.3 108.0,103.3 108.4,103.3 108.7,103.3 109.1,103.2 109.5,103.2 109.8,103.2 110.2,103.2 110.5,103.2 110.9,103.2 111.3,103.2 111.6,103.1 112.0,103.1 112.3,103.1 112.7,103.1 113.1,103.0 113.4,103.0 113.8,103.0 114.1,103.0 114.5,102.9 114.9,102.9 115.2,102.9 115.6,102.8 115.9,102.8 116.3,102.7 116.7,102.7 117.0,102.6 117.4,102.6 117.7,102.5 118.1,102.4 118.5,102.4 118.8,102.3 119.2,102.2 119.5,102.1 119.9,102.0 120.3,101.9 120.6,101.8 121.0,101.7 121.3,101.6 121.7,101.5 122.1,101.3 122.4,101.2 122.8,101.0 123.1,100.9 123.5,100.7 123.9,100.5 124.2,100.3 124.6,100.1 124.9,99.9 125.3,99.6 125.7,99.4 126.0,99.1 126.4,98.9 126.7,98.6 127.1,98.3 127.5,98.0 127.8,97.6 128.2,97.3 128.5,96.9 128.9,96.6 129.3,96.2 129.6,95.8 130.0,95.4 130.3,95.0 130.7,94.5 131.1,94.1 131.4,93.6 131.8,93.2 132.1,92.7 132.5,92.2 132.9,91.7 133.2,91.2 133.6,90.7 133.9,90.2 134.3,89.7 134.7,89.1 135.0,88.6 135.4,88.1 135.7,87.5 136.1,87.0 136.5,86.5 136.8,86.0 137.2,85.4 137.5,84.9 137.9,84.4 138.3,83.9 138.6,83.4 139.0,82.9 139.3,82.5 139.7,82.0 140.1,81.6 140.4,81.2 140.8,80.8 141.1,80.4 141.5,80.1 141.9,79.8 142.2,79.5 142.6,79.2 142.9,79.0 143.3,78.7 143.7,78.6 144.0,78.4 144.4,78.3 144.7,78.2 145.1,78.1 145.5,78.1 145.8,78.1 146.2,78.1 146.5,78.1 146.9,78.2 147.3,78.3 147.6,78.4 148.0,78.6 148.3,78.7 148.7,78.9 149.1,79.1 149.4,79.3 149.8,79.5 150.1,79.7 150.5,79.9 150.9,80.1 151.2,80.4 151.6,80.6 151.9,80.8 152.3,81.1 152.7,81.3 153.0,81.5 153.4,81.7 153.7,82.0 154.1,82.2 154.5,82.4 154.8,82.6 155.2,82.8 155.5,83.0 155.9,83.2 156.3,83.3 156.6,83.5 157.0,83.7 157.3,83.8 157.7,84.0 158.1,84.1 158.4,84.3 158.8,84.4 159.1,84.6 159.5,84.7 159.9,84.8 160.2,84.9 160.6,85.1 160.9,85.2 161.3,85.3 161.7,85.4 162.0,85.5 162.4,85.6 162.7,85.7 163.1,85.8 163.5,85.9 163.8,86.0 164.2,86.1 164.5,86.1 164.9,86.2 165.3,86.3 165.6,86.4 166.0,86.5 166.3,86.6 166.7,86.6 167.1,86.7 167.4,86.8 167.8,86.9 168.1,87.0 168.5,87.1 168.9,87.1 169.2,87.2 169.6,87.3 169.9,87.4 170.3,87.4 170.7,87.5 171.0,87.6 171.4,87.7 171.7,87.7 172.1,87.8 172.5,87.9 172.8,87.9 173.2,88.0 173.5,88.1 173.9,88.1 174.3,88.2 174.6,88.3 175.0,88.3 175.3,88.4 175.7,88.4 176.1,88.5 176.4,88.6 176.8,88.6 177.1,88.7 177.5,88.7 177.9,88.8 178.2,88.9 178.6,88.9 178.9,89.0 179.3,89.0 179.7,89.1 180.0,89.1 180.4,89.2 180.7,89.2 181.1,89.3 181.5,89.3 181.8,89.4 182.2,89.4 182.5,89.5 182.9,89.5 183.3,89.6 183.6,89.6 184.0,89.7 184.3,89.7 184.7,89.8 185.1,89.8 185.4,89.9 185.8,89.9 186.1,89.9 186.5,90.0 186.9,90.0 187.2,90.1 187.6,90.1 187.9,90.2 188.3,90.2 188.7,90.2 189.0,90.3 189.4,90.3 189.7,90.4 190.1,90.4 190.5,90.4 190.8,90.5 191.2,90.5 191.5,90.6 191.9,90.6 192.3,90.6 192.6,90.7 193.0,90.7 193.3,90.7 193.7,90.8 194.1,90.8 194.4,90.8 194.8,90.9 195.1,90.9 195.5,90.9 195.9,91.0 196.2,91.0 196.6,91.0 196.9,91.1 197.3,91.1 197.7,91.1 198.0,91.1 198.4,91.2 198.7,91.2 199.1,91.2 199.5,91.2 199.8,91.3 200.2,91.3 200.5,91.3 200.9,91.3 201.3,91.4 201.6,91.4 202.0,91.4 202.3,91.4 202.7,91.4 203.1,91.5 203.4,91.5 203.8,91.5 204.1,91.5 204.5,91.5 204.9,91.6 205.2,91.6 205.6,91.6 205.9,91.6 206.3,91.6 206.7,91.6 207.0,91.6 207.4,91.6 207.7,91.7 208.1,91.7 208.5,91.7 208.8,91.7 209.2,91.7 209.5,91.7 209.9,91.7 210.3,91.7 210.6,91.7 211.0,91.7 211.3,91.7 211.7,91.7 212.1,91.7 212.4,91.7 212.8,91.7 213.1,91.7 213.5,91.7 213.9,91.7 214.2,91.7 214.6,91.7 214.9,91.7 215.3,91.7 215.7,91.7 216.0,91.6 216.4,91.6 216.7,91.6 217.1,91.6 217.5,91.6 217.8,91.6 218.2,91.6 218.5,91.5 218.9,91.5 219.3,91.5 219.6,91.5 220.0,91.5 220.3,91.4 220.7,91.4 221.1,91.4 221.4,91.4 221.8,91.3 222.1,91.3 222.5,91.3 222.9,91.2 223.2,91.2 223.6,91.2 223.9,91.1 224.3,91.1 224.7,91.1 225.0,91.0 225.4,91.0 225.7,90.9 226.1,90.9 226.5,90.8 226.8,90.8 227.2,90.7 227.5,90.7 227.9,90.6 228.3,90.6 228.6,90.5 229.0,90.5 229.3,90.4 229.7,90.4 230.1,90.3 230.4,90.2 230.8,90.2 231.1,90.1 231.5,90.1 231.9,90.0 232.2,89.9 232.6,89.8 232.9,89.8 233.3,89.7 233.7,89.6 234.0,89.6 234.4,89.5 234.7,89.4 235.1,89.3 235.5,89.3 235.8,89.2 236.2,89.1 236.5,89.0 236.9,88.9 237.3,88.9 237.6,88.8 238.0,88.7 238.3,88.6 238.7,88.5 239.1,88.4 239.4,88.3 239.8,88.2 240.1,88.1 240.5,88.0 240.9,87.9 241.2,87.8 241.6,87.7 241.9,87.6 242.3,87.5 242.7,87.4 243.0,87.3 243.4,87.2 243.7,87.1 244.1,87.0 244.5,86.9 244.8,86.8 245.2,86.7 245.5,86.5 245.9,86.4 246.3,86.3 246.6,86.2 247.0,86.1 247.3,85.9 247.7,85.8 248.1,85.7 248.4,85.6 248.8,85.4 249.1,85.3 249.5,85.2 249.9,85.0 250.2,84.9 250.6,84.8 250.9,84.6 251.3,84.5 251.7,84.4 252.0,84.2 252.4,84.1 252.7,83.9 253.1,83.8 253.5,83.6 253.8,83.5 254.2,83.3 254.5,83.2 254.9,83.0 255.3,82.9 255.6,82.7 256.0,82.5 256.3,82.4 256.7,82.2 257.1,82.0 257.4,81.9 257.8,81.7 258.1,81.5 258.5,81.4 258.9,81.2 259.2,81.0 259.6,80.8 259.9,80.6 260.3,80.5 260.7,80.3 261.0,80.1 261.4,79.9 261.7,79.7 262.1,79.5 262.5,79.3 262.8,79.1 263.2,78.9 263.5,78.7 263.9,78.5 264.3,78.3 264.6,78.1 265.0,77.9 265.3,77.7 265.7,77.5 266.1,77.3 266.4,77.0 266.8,76.8 267.1,76.6 267.5,76.4 267.9,76.2 268.2,75.9 268.6,75.7 268.9,75.5 269.3,75.2 269.7,75.0 270.0,74.8 270.4,74.5 270.7,74.3 271.1,74.0 271.5,73.8 271.8,73.5 272.2,73.3 272.5,73.0 272.9,72.8 273.3,72.5 273.6,72.2 274.0,72.0 274.3,71.7 274.7,71.4 275.1,71.2 275.4,70.9 275.8,70.6 276.1,70.3 276.5,70.0 276.1,81.4 275.8,89.1 275.4,94.3 275.1,97.9 274.7,100.3 274.3,102.0 274.0,103.1 273.6,103.9 273.3,104.5 272.9,104.9 272.5,105.2 272.2,105.4 271.8,105.6 271.5,105.8 271.1,105.9 270.7,106.0 270.4,106.1 270.0,106.2 269.7,106.3 269.3,106.3 268.9,106.4 268.6,106.5 268.2,106.6 267.9,106.6 267.5,106.7 267.1,106.8 266.8,106.8 266.4,106.9 266.1,107.0 265.7,107.1 265.3,107.1 265.0,107.2 264.6,107.3 264.3,107.3 263.9,107.4 263.5,107.5 263.2,107.5 262.8,107.6 262.5,107.7 262.1,107.7 261.7,107.8 261.4,107.8 261.0,107.9 260.7,108.0 260.3,108.0 259.9,108.1 259.6,108.2 259.2,108.2 258.9,108.3 258.5,108.3 258.1,108.4 257.8,108.5 257.4,108.5 257.1,108.6 256.7,108.6 256.3,108.7 256.0,108.8 255.6,108.8 255.3,108.9 254.9,108.9 254.5,109.0 254.2,109.0 253.8,109.1 253.5,109.1 253.1,109.2 252.7,109.3 252.4,109.3 252.0,109.4 251.7,109.4 251.3,109.5 250.9,109.5 250.6,109.6 250.2,109.6 249.9,109.7 249.5,109.7 249.1,109.8 248.8,109.8 248.4,109.9 248.1,109.9 247.7,110.0 247.3,110.0 247.0,110.1 246.6,110.1 246.3,110.2 245.9,110.2 245.5,110.2 245.2,110.3 244.8,110.3 244.5,110.4 244.1,110.4 243.7,110.5 243.4,110.5 243.0,110.5 242.7,110.6 242.3,110.6 241.9,110.7 241.6,110.7 241.2,110.8 240.9,110.8 240.5,110.8 240.1,110.9 239.8,110.9 239.4,111.0 239.1,111.0 238.7,111.0 238.3,111.1 238.0,111.1 237.6,111.1 237.3,111.2 236.9,111.2 236.5,111.2 236.2,111.3 235.8,111.3 235.5,111.3 235.1,111.4 234.7,111.4 234.4,111.4 234.0,111.5 233.7,111.5 233.3,111.5 232.9,111.6 232.6,111.6 232.2,111.6 231.9,111.7 231.5,111.7 231.1,111.7 230.8,111.7 230.4,111.8 230.1,111.8 229.7,111.8 229.3,111.8 229.0,111.9 228.6,111.9 228.3,111.9 227.9,111.9 227.5,112.0 227.2,112.0 226.8,112.0 226.5,112.0 226.1,112.1 225.7,112.1 225.4,112.1 225.0,112.1 224.7,112.1 224.3,112.2 223.9,112.2 223.6,112.2 223.2,112.2 222.9,112.2 222.5,112.3 222.1,112.3 221.8,112.3 221.4,112.3 221.1,112.3 220.7,112.4 220.3,112.4 220.0,112.4 219.6,112.4 219.3,112.4 218.9,112.4 218.5,112.5 218.2,112.5 217.8,112.5 217.5,112.5 217.1,112.5 216.7,112.5 216.4,112.5 216.0,112.5 215.7,112.6 215.3,112.6 214.9,112.6 214.6,112.6 214.2,112.6 213.9,112.6 213.5,112.6 213.1,112.6 212.8,112.7 212.4,112.7 212.1,112.7 211.7,112.7 211.3,112.7 211.0,112.7 210.6,112.7 210.3,112.7 209.9,112.7 209.5,112.7 209.2,112.8 208.8,112.8 208.5,112.8 208.1,112.8 207.7,112.8 207.4,112.8 207.0,112.8 206.7,112.8 206.3,112.8 205.9,112.8 205.6,112.8 205.2,112.8 204.9,112.8 204.5,112.8 204.1,112.8 203.8,112.9 203.4,112.9 203.1,112.9 202.7,112.9 202.3,112.9 202.0,112.9 201.6,112.9 201.3,112.9 200.9,112.9 200.5,112.9 200.2,112.9 199.8,112.9 199.5,112.9 199.1,112.9 198.7,112.9 198.4,112.9 198.0,112.9 197.7,112.9 197.3,112.9 196.9,112.9 196.6,112.9 196.2,112.9 195.9,112.9 195.5,112.9 195.1,113.0 194.8,113.0 194.4,113.0 194.1,113.0 193.7,113.0 193.3,113.0 193.0,113.0 192.6,113.0 192.3,113.0 191.9,113.0 191.5,113.0 191.2,113.0 190.8,113.0 190.5,113.0 190.1,113.0 189.7,113.0 189.4,113.0 189.0,113.0 188.7,113.0 188.3,113.0 187.9,113.0 187.6,113.0 187.2,113.0 186.9,113.0 186.5,113.0 186.1,113.0 185.8,113.0 185.4,113.0 185.1,113.0 184.7,113.0 184.3,113.0 184.0,113.0 183.6,113.0 183.3,113.0 182.9,113.0 182.5,113.0 182.2,113.0 181.8,113.0 181.5,113.0 181.1,113.0 180.7,113.0 180.4,113.0 180.0,113.0 179.7,113.0 179.3,113.0 178.9,113.0 178.6,113.0 178.2,113.0 177.9,113.0 177.5,113.1 177.1,113.1 176.8,113.1 176.4,113.1 176.1,113.1 175.7,113.1 175.3,113.1 175.0,113.1 174.6,113.1 174.3,113.1 173.9,113.1 173.5,113.1 173.2,113.1 172.8,113.1 172.5,113.1 172.1,113.1 171.7,113.1 171.4,113.1 171.0,113.1 170.7,113.1 170.3,113.2 169.9,113.2 169.6,113.2 169.2,113.2 168.9,113.2 168.5,113.2 168.1,113.2 167.8,113.2 167.4,113.2 167.1,113.2 166.7,113.2 166.3,113.3 166.0,113.3 165.6,113.3 165.3,113.3 164.9,113.3 164.5,113.3 164.2,113.3 163.8,113.3 163.5,113.4 163.1,113.4 162.7,113.4 162.4,113.4 162.0,113.4 161.7,113.4 161.3,113.5 160.9,113.5 160.6,113.5 160.2,113.5 159.9,113.5 159.5,113.6 159.1,113.6 158.8,113.6 158.4,113.7 158.1,113.7 157.7,113.7 157.3,113.8 157.0,113.8 156.6,113.8 156.3,113.9 155.9,113.9 155.5,114.0 155.2,114.0 154.8,114.1 154.5,114.2 154.1,114.2 153.7,114.3 153.4,114.4 153.0,114.5 152.7,114.5 152.3,114.6 151.9,114.7 151.6,114.8 151.2,115.0 150.9,115.1 150.5,115.2 150.1,115.3 149.8,115.5 149.4,115.6 149.1,115.8 148.7,116.0 148.3,116.2 148.0,116.4 147.6,116.6 147.3,116.8 146.9,117.0 146.5,117.3 146.2,117.5 145.8,117.8 145.5,118.1 145.1,118.3 144.7,118.7 144.4,119.0 144.0,119.3 143.7,119.7 143.3,120.0 142.9,120.4 142.6,120.8 142.2,121.2 141.9,121.6 141.5,122.0 141.1,122.5 140.8,122.9 140.4,123.4 140.1,123.9 139.7,124.3 139.3,124.8 139.0,125.3 138.6,125.8 138.3,126.4 137.9,126.9 137.5,127.4 137.2,127.9 136.8,128.4 136.5,129.0 136.1,129.5 135.7,130.0 135.4,130.6 135.0,131.1 134.7,131.6 134.3,132.1 133.9,132.6 133.6,133.1 133.2,133.6 132.9,134.0 132.5,134.5 132.1,134.9 131.8,135.3 131.4,135.7 131.1,136.1 130.7,136.4 130.3,136.8 130.0,137.1 129.6,137.4 129.3,137.6 128.9,137.8 128.5,138.0 128.2,138.2 127.8,138.3 127.5,138.4 127.1,138.5 126.7,138.5 126.4,138.5 126.0,138.5 125.7,138.5 125.3,138.4 124.9,138.3 124.6,138.2 124.2,138.0 123.9,137.9 123.5,137.7 123.1,137.5 122.8,137.3 122.4,137.0 122.1,136.8 121.7,136.5 121.3,136.3 121.0,136.0 120.6,135.8 120.3,135.5 119.9,135.2 119.5,135.0 119.2,134.7 118.8,134.4 118.5,134.2 118.1,133.9 117.7,133.7 117.4,133.4 117.0,133.2 116.7,133.0 116.3,132.7 115.9,132.5 115.6,132.3 115.2,132.1 114.9,131.9 114.5,131.7 114.1,131.5 113.8,131.3 113.4,131.1 113.1,130.9 112.7,130.8 112.3,130.6 112.0,130.5 111.6,130.3 111.3,130.2 110.9,130.0 110.5,129.9 110.2,129.7 109.8,129.6 109.5,129.5 109.1,129.3 108.7,129.2 108.4,129.1 108.0,129.0 107.7,128.9 107.3,128.8 106.9,128.7 106.6,128.6 106.2,128.5 105.9,128.4 105.5,128.3 105.1,128.2 104.8,128.1 104.4,128.0 104.1,127.9 103.7,127.9 103.3,127.8 103.0,127.7 102.6,127.6 102.3,127.6 101.9,127.5 101.5,127.4 101.2,127.4 100.8,127.3 100.5,127.2 100.1,127.2 99.7,127.1 99.4,127.1 99.0,127.0 98.7,127.0 98.3,126.9 97.9,126.9 97.6,126.8 97.2,126.8 96.9,126.7 96.5,126.7 96.1,126.6 95.8,126.6 95.4,126.5 95.1,126.5 94.7,126.4 94.3,126.4 94.0,126.4 93.6,126.3 93.3,126.3 92.9,126.2 92.5,126.2 92.2,126.2 91.8,126.1 91.5,126.1 91.1,126.1 90.7,126.0 90.4,126.0 90.0,126.0 89.7,125.9 89.3,125.9 88.9,125.9 88.6,125.8 88.2,125.8 87.9,125.8 87.5,125.8 87.1,125.7 86.8,125.7 86.4,125.7 86.1,125.7 85.7,125.6 85.3,125.6 85.0,125.6 84.6,125.6 84.3,125.6 83.9,125.5 83.5,125.5 83.2,125.5 82.8,125.5 82.5,125.5 82.1,125.5 81.7,125.4 81.4,125.4 81.0,125.4 80.7,125.4 80.3,125.4 79.9,125.4 79.6,125.4 79.2,125.4 78.9,125.3 78.5,125.3 78.1,125.3 77.8,125.3 77.4,125.3 77.1,125.3 76.7,125.3 76.3,125.3 76.0,125.3 75.6,125.3 75.3,125.3 74.9,125.3 74.5,125.3 74.2,125.3 73.8,125.3 73.5,125.3 73.1,125.3 72.7,125.3 72.4,125.4 72.0,125.4 71.7,125.4 71.3,125.4 70.9,125.4 70.6,125.4 70.2,125.4 69.9,125.5 69.5,125.5 69.1,125.5 68.8,125.5 68.4,125.5 68.1,125.6 67.7,125.6 67.3,125.6 67.0,125.6 66.6,125.6 66.3,125.7 65.9,125.7 65.5,125.7 65.2,125.7 64.8,125.8 64.5,125.8 64.1,125.8 63.7,125.9 63.4,125.9 63.0,125.9 62.7,125.9 62.3,126.0 61.9,126.0 61.6,126.0 61.2,126.1 60.9,126.1 60.5,126.1" fill="none" stroke="#00ff00" stroke-width="1.75" stroke-linejoin="round" stroke-linecap="round"/>
<polyline points="60.5,117.2 60.9,115.9 61.2,114.8 61.6,113.7 61.9,112.7 62.3,111.9 62.7,111.0 63.0,110.3 63.4,109.6 63.7,109.0 64.1,108.4 64.5,107.8 64.8,107.3 65.2,106.9 65.5,106.5 65.9,106.1 66.3,105.7 66.6,105.4 67.0,105.1 67.3,104.8 67.7,104.6 68.1,104.3 68.4,104.1 68.8,103.9 69.1,103.7 69.5,103.5 69.9,103.3 70.2,103.2 70.6,103.0 70.9,102.9 71.3,102.7 71.7,102.6 72.0,102.5 72.4,102.4 72.7,102.3 73.1,102.2 73.5,102.1 73.8,102.0 74.2,102.0 74.5,101.9 74.9,101.8 75.3,101.8 75.6,101.7 76.0,101.7 76.3,101.6 76.7,101.6 77.1,101.5 77.4,101.5 77.8,101.4 78.1,101.4 78.5,101.4 78.9,101.3 79.2,101.3 79.6,101.3 79.9,101.3 80.3,101.2 80.7,101.2 81.0,101.2 81.4,101.1 81.7,101.1 82.1,101.1 82.5,101.1 82.8,101.1 83.2,101.0 83.5,101.0 83.9,101.0 84.3,101.0 84.6,101.0 85.0,101.0 85.3,100.9 85.7,100.9 86.1,100.9 86.4,100.9 86.8,100.9 87.1,100.9 87.5,100.8 87.9,100.8 88.2,100.8 88.6,100.8 88.9,100.8 89.3,100.8 89.7,100.8 90.0,100.8 90.4,100.8 90.7,100.8 91.1,100.7 91.5,100.7 91.8,100.7 92.2,100.7 92.5,100.7 92.9,100.7 93.3,100.7 93.6,100.7 94.0,100.7 94.3,100.7 94.7,100.7 95.1,100.7 95.4,100.7 95.8,100.7 96.1,100.7 96.5,100.7 96.9,100.7 97.2,100.7 97.6,100.7 97.9,100.7 98.3,100.7 98.7,100.7 99.0,100.7 99.4,100.7 99.7,100.7 100.1,100.7 100.5,100.7 100.8,100.7 101.2,100.7 101.5,100.7 101.9,100.7 102.3,100.7 102.6,100.7 103.0,100.7 103.3,100.7 103.7,100.7 104.1,100.7 104.4,100.7 104.8,100.7 105.1,100.7 105.5,100.7 105.9,100.7 106.2,100.7 106.6,100.7 106.9,100.7 107.3,100.7 107.7,100.7 108.0,100.7 108.4,100.7 108.7,100.7 109.1,100.7 109.5,100.7 109.8,100.7 110.2,100.6 110.5,100.6 110.9,100.6 111.3,100.6 111.6,100.6 112.0,100.6 112.3,100.6 112.7,100.5 113.1,100.5 113.4,100.5 113.8,100.5 114.1,100.4 114.5,100.4 114.9,100.4 115.2,100.3 115.6,100.3 115.9,100.2 116.3,100.2 116.7,100.2 117.0,100.1 117.4,100.0 117.7,100.0 118.1,99.9 118.5,99.8 118.8,99.8 119.2,99.7 119.5,99.6 119.9,99.5 120.3,99.4 120.6,99.3 121.0,99.1 121.3,99.0 121.7,98.9 122.1,98.7 122.4,98.6 122.8,98.4 123.1,98.2 123.5,98.0 123.9,97.8 124.2,97.6 124.6,97.4 124.9,97.1 125.3,96.9 125.7,96.6 126.0,96.3 126.4,96.0 126.7,95.7 127.1,95.4 127.5,95.1 127.8,94.7 128.2,94.3 128.5,94.0 128.9,93.6 129.3,93.1 129.6,92.7 130.0,92.3 130.3,91.8 130.7,91.3 131.1,90.8 131.4,90.3 131.8,89.8 132.1,89.3 132.5,88.8 132.9,88.2 133.2,87.7 133.6,87.1 133.9,86.5 134.3,85.9 134.7,85.3 135.0,84.7 135.4,84.1 135.7,83.6 136.1,82.9 136.5,82.3 136.8,81.7 137.2,81.2 137.5,80.6 137.9,80.0 138.3,79.4 138.6,78.8 139.0,78.3 139.3,77.7 139.7,77.2 140.1,76.6 140.4,76.1 140.8,75.6 141.1,75.2 141.5,74.7 141.9,74.3 142.2,73.9 142.6,73.5 142.9,73.2 143.3,72.9 143.7,72.6 144.0,72.3 144.4,72.1 144.7,71.9 145.1,71.8 145.5,71.6 145.8,71.5 146.2,71.5 146.5,71.5 146.9,71.5 147.3,71.5 147.6,71.6 148.0,71.7 148.3,71.9 148.7,72.0 149.1,72.2 149.4,72.4 149.8,72.6 150.1,72.9 150.5,73.1 150.9,73.4 151.2,73.7 151.6,74.0 151.9,74.3 152.3,74.6 152.7,74.8 153.0,75.1 153.4,75.4 153.7,75.7 154.1,76.0 154.5,76.3 154.8,76.6 155.2,76.8 155.5,77.1 155.9,77.4 156.3,77.6 156.6,77.9 157.0,78.1 157.3,78.3 157.7,78.5 158.1,78.7 158.4,79.0 158.8,79.2 159.1,79.3 159.5,79.5 159.9,79.7 160.2,79.9 160.6,80.1 160.9,80.2 161.3,80.4 161.7,80.5 162.0,80.7 162.4,80.8 162.7,81.0 163.1,81.1 163.5,81.2 163.8,81.4 164.2,81.5 164.5,81.6 164.9,81.7 165.3,81.8 165.6,82.0 166.0,82.1 166.3,82.2 166.7,82.3 167.1,82.4 167.4,82.5 167.8,82.6 168.1,82.7 168.5,82.8 168.9,82.9 169.2,83.0 169.6,83.1 169.9,83.2 170.3,83.3 170.7,83.4 171.0,83.5 171.4,83.6 171.7,83.7 172.1,83.8 172.5,83.9 172.8,83.9 173.2,84.0 173.5,84.1 173.9,84.2 174.3,84.3 174.6,84.3 175.0,84.4 175.3,84.5 175.7,84.5 176.1,84.6 176.4,84.7 176.8,84.8 177.1,84.8 177.5,84.9 177.9,84.9 178.2,85.0 178.6,85.1 178.9,85.1 179.3,85.2 179.7,85.2 180.0,85.3 180.4,85.4 180.7,85.4 181.1,85.5 181.5,85.5 181.8,85.6 182.2,85.6 182.5,85.7 182.9,85.7 183.3,85.8 183.6,85.8 184.0,85.9 184.3,85.9 184.7,86.0 185.1,86.0 185.4,86.1 185.8,86.1 186.1,86.1 186.5,86.2 186.9,86.2 187.2,86.3 187.6,86.3 187.9,86.4 188.3,86.4 188.7,86.4 189.0,86.5 189.4,86.5 189.7,86.5 190.1,86.6 190.5,86.6 190.8,86.6 191.2,86.7 191.5,86.7 191.9,86.7 192.3,86.8 192.6,86.8 193.0,86.8 193.3,86.9 193.7,86.9 194.1,86.9 194.4,86.9 194.8,87.0 195.1,87.0 195.5,87.0 195.9,87.0 196.2,87.1 196.6,87.1 196.9,87.1 197.3,87.1 197.7,87.2 198.0,87.2 198.4,87.2 198.7,87.2 199.1,87.2 199.5,87.3 199.8,87.3 200.2,87.3 200.5,87.3 200.9,87.3 201.3,87.3 201.6,87.3 202.0,87.4 202.3,87.4 202.7,87.4 203.1,87.4 203.4,87.4 203.8,87.4 204.1,87.4 204.5,87.4 204.9,87.4 205.2,87.4 205.6,87.4 205.9,87.4 206.3,87.5 206.7,87.5 207.0,87.5 207.4,87.5 207.7,87.5 208.1,87.5 208.5,87.5 208.8,87.5 209.2,87.5 209.5,87.5 209.9,87.4 210.3,87.4 210.6,87.4 211.0,87.4 211.3,87.4 211.7,87.4 212.1,87.4 212.4,87.4 212.8,87.4 213.1,87.4 213.5,87.4 213.9,87.3 214.2,87.3 214.6,87.3 214.9,87.3 215.3,87.3 215.7,87.3 216.0,87.2 216.4,87.2 216.7,87.2 217.1,87.2 217.5,87.1 217.8,87.1 218.2,87.1 218.5,87.1 218.9,87.0 219.3,87.0 219.6,87.0 220.0,86.9 220.3,86.9 220.7,86.9 221.1,86.8 221.4,86.8 221.8,86.8 222.1,86.7 222.5,86.7 222.9,86.7 223.2,86.6 223.6,86.6 223.9,86.5 224.3,86.5 224.7,86.4 225.0,86.4 225.4,86.3 225.7,86.3 226.1,86.2 226.5,86.2 226.8,86.1 227.2,86.1 227.5,86.0 227.9,86.0 228.3,85.9 228.6,85.9 229.0,85.8 229.3,85.7 229.7,85.7 230.1,85.6 230.4,85.5 230.8,85.5 231.1,85.4 231.5,85.3 231.9,85.3 232.2,85.2 232.6,85.1 232.9,85.0 233.3,85.0 233.7,84.9 234.0,84.8 234.4,84.7 234.7,84.7 235.1,84.6 235.5,84.5 235.8,84.4 236.2,84.3 236.5,84.2 236.9,84.1 237.3,84.1 237.6,84.0 238.0,83.9 238.3,83.8 238.7,83.7 239.1,83.6 239.4,83.5 239.8,83.4 240.1,83.3 240.5,83.2 240.9,83.1 241.2,83.0 241.6,82.9 241.9,82.8 242.3,82.7 242.7,82.6 243.0,82.5 243.4,82.3 243.7,82.2 244.1,82.1 244.5,82.0 244.8,81.9 245.2,81.8 245.5,81.6 245.9,81.5 246.3,81.4 246.6,81.3 247.0,81.1 247.3,81.0 247.7,80.9 248.1,80.8 248.4,80.6 248.8,80.5 249.1,80.4 249.5,80.2 249.9,80.1 250.2,79.9 250.6,79.8 250.9,79.7 251.3,79.5 251.7,79.4 252.0,79.2 252.4,79.1 252.7,78.9 253.1,78.8 253.5,78.6 253.8,78.5 254.2,78.3 254.5,78.1 254.9,78.0 255.3,77.8 255.6,77.6 256.0,77.5 256.3,77.3 256.7,77.1 257.1,77.0 257.4,76.8 257.8,76.6 258.1,76.4 258.5,76.2 258.9,76.1 259.2,75.9 259.6,75.7 259.9,75.5 260.3,75.3 260.7,75.1 261.0,74.9 261.4,74.7 261.7,74.5 262.1,74.3 262.5,74.1 262.8,73.9 263.2,73.7 263.5,73.5 263.9,73.3 264.3,73.1 264.6,72.9 265.0,72.6 265.3,72.4 265.7,72.2 266.1,72.0 266.4,71.8 266.8,71.5 267.1,71.3 267.5,71.1 267.9,70.8 268.2,70.6 268.6,70.3 268.9,70.1 269.3,69.9 269.7,69.6 270.0,69.4 270.4,69.1 270.7,68.8 271.1,68.6 271.5,68.3 271.8,68.1 272.2,67.8 272.5,67.5 272.9,67.3 273.3,67.0 273.6,66.7 274.0,66.4 274.3,66.1 274.7,65.9 275.1,65.6 275.4,65.3 275.8,65.0 276.1,64.7 276.5,64.4 276.1,74.0 275.8,81.5 275.4,87.3 275.1,91.8 274.7,95.2 274.3,98.0 274.0,100.1 273.6,101.7 273.3,103.0 272.9,104.0 272.5,104.8 272.2,105.5 271.8,106.0 271.5,106.4 271.1,106.7 270.7,107.0 270.4,107.2 270.0,107.4 269.7,107.6 269.3,107.8 268.9,107.9 268.6,108.0 268.2,108.1 267.9,108.2 267.5,108.3 267.1,108.4 266.8,108.5 266.4,108.6 266.1,108.7 265.7,108.7 265.3,108.8 265.0,108.9 264.6,109.0 264.3,109.0 263.9,109.1 263.5,109.2 263.2,109.3 262.8,109.3 262.5,109.4 262.1,109.5 261.7,109.5 261.4,109.6 261.0,109.7 260.7,109.8 260.3,109.8 259.9,109.9 259.6,110.0 259.2,110.0 258.9,110.1 258.5,110.2 258.1,110.2 257.8,110.3 257.4,110.3 257.1,110.4 256.7,110.5 256.3,110.5 256.0,110.6 255.6,110.7 255.3,110.7 254.9,110.8 254.5,110.8 254.2,110.9 253.8,111.0 253.5,111.0 253.1,111.1 252.7,111.1 252.4,111.2 252.0,111.3 251.7,111.3 251.3,111.4 250.9,111.4 250.6,111.5 250.2,111.5 249.9,111.6 249.5,111.6 249.1,111.7 248.8,111.8 248.4,111.8 248.1,111.9 247.7,111.9 247.3,112.0 247.0,112.0 246.6,112.1 246.3,112.1 245.9,112.2 245.5,112.2 245.2,112.3 244.8,112.3 244.5,112.4 244.1,112.4 243.7,112.5 243.4,112.5 243.0,112.6 242.7,112.6 242.3,112.7 241.9,112.7 241.6,112.7 241.2,112.8 240.9,112.8 240.5,112.9 240.1,112.9 239.8,113.0 239.4,113.0 239.1,113.1 238.7,113.1 238.3,113.1 238.0,113.2 237.6,113.2 237.3,113.3 236.9,113.3 236.5,113.3 236.2,113.4 235.8,113.4 235.5,113.5 235.1,113.5 234.7,113.5 234.4,113.6 234.0,113.6 233.7,113.6 233.3,113.7 232.9,113.7 232.6,113.8 232.2,113.8 231.9,113.8 231.5,113.9 231.1,113.9 230.8,113.9 230.4,114.0 230.1,114.0 229.7,114.0 229.3,114.0 229.0,114.1 228.6,114.1 228.3,114.1 227.9,114.2 227.5,114.2 227.2,114.2 226.8,114.3 226.5,114.3 226.1,114.3 225.7,114.3 225.4,114.4 225.0,114.4 224.7,114.4 224.3,114.4 223.9,114.5 223.6,114.5 223.2,114.5 222.9,114.5 222.5,114.6 222.1,114.6 221.8,114.6 221.4,114.6 221.1,114.6 220.7,114.7 220.3,114.7 220.0,114.7 219.6,114.7 219.3,114.7 218.9,114.8 218.5,114.8 218.2,114.8 217.8,114.8 217.5,114.8 217.1,114.9 216.7,114.9 216.4,114.9 216.0,114.9 215.7,114.9 215.3,114.9 214.9,115.0 214.6,115.0 214.2,115.0 213.9,115.0 213.5,115.0 213.1,115.0 212.8,115.0 212.4,115.1 212.1,115.1 211.7,115.1 211.3,115.1 211.0,115.1 210.6,115.1 210.3,115.1 209.9,115.1 209.5,115.2 209.2,115.2 208.8,115.2 208.5,115.2 208.1,115.2 207.7,115.2 207.4,115.2 207.0,115.2 206.7,115.2 206.3,115.2 205.9,115.3 205.6,115.3 205.2,115.3 204.9,115.3 204.5,115.3 204.1,115.3 203.8,115.3 203.4,115.3 203.1,115.3 202.7,115.3 202.3,115.3 202.0,115.3 201.6,115.3 201.3,115.4 200.9,115.4 200.5,115.4 200.2,115.4 199.8,115.4 199.5,115.4 199.1,115.4 198.7,115.4 198.4,115.4 198.0,115.4 197.7,115.4 197.3,115.4 196.9,115.4 196.6,115.4 196.2,115.4 195.9,115.4 195.5,115.4 195.1,115.4 194.8,115.4 194.4,115.4 194.1,115.5 193.7,115.5 193.3,115.5 193.0,115.5 192.6,115.5 192.3,115.5 191.9,115.5 191.5,115.5 191.2,115.5 190.8,115.5 190.5,115.5 190.1,115.5 189.7,115.5 189.4,115.5 189.0,115.5 188.7,115.5 188.3,115.5 187.9,115.5 187.6,115.5 187.2,115.5 186.9,115.5 186.5,115.5 186.1,115.5 185.8,115.5 185.4,115.5 185.1,115.5 184.7,115.5 184.3,115.5 184.0,115.5 183.6,115.5 183.3,115.5 182.9,115.5 182.5,115.5 182.2,115.5 181.8,115.5 181.5,115.5 181.1,115.5 180.7,115.5 180.4,115.5 180.0,115.5 179.7,115.5 179.3,115.5 178.9,115.6 178.6,115.6 178.2,115.6 177.9,115.6 177.5,115.6 177.1,115.6 176.8,115.6 176.4,115.6 176.1,115.6 175.7,115.6 175.3,115.6 175.0,115.6 174.6,115.6 174.3,115.6 173.9,115.6 173.5,115.6 173.2,115.6 172.8,115.6 172.5,115.6 172.1,115.6 171.7,115.6 171.4,115.6 171.0,115.6 170.7,115.7 170.3,115.7 169.9,115.7 169.6,115.7 169.2,115.7 168.9,115.7 168.5,115.7 168.1,115.7 167.8,115.7 167.4,115.7 167.1,115.7 166.7,115.8 166.3,115.8 166.0,115.8 165.6,115.8 165.3,115.8 164.9,115.8 164.5,115.8 164.2,115.8 163.8,115.9 163.5,115.9 163.1,115.9 162.7,115.9 162.4,115.9 162.0,116.0 161.7,116.0 161.3,116.0 160.9,116.0 160.6,116.1 160.2,116.1 159.9,116.1 159.5,116.2 159.1,116.2 158.8,116.2 158.4,116.3 158.1,116.3 157.7,116.3 157.3,116.4 157.0,116.4 156.6,116.5 156.3,116.5 155.9,116.6 155.5,116.7 155.2,116.7 154.8,116.8 154.5,116.9 154.1,117.0 153.7,117.0 153.4,117.1 153.0,117.2 152.7,117.3 152.3,117.4 151.9,117.6 151.6,117.7 151.2,117.8 150.9,117.9 150.5,118.1 150.1,118.3 149.8,118.4 149.4,118.6 149.1,118.8 148.7,119.0 148.3,119.2 148.0,119.4 147.6,119.7 147.3,119.9 146.9,120.2 146.5,120.4 146.2,120.7 145.8,121.0 145.5,121.3 145.1,121.7 144.7,122.0 144.4,122.4 144.0,122.8 143.7,123.2 143.3,123.6 142.9,124.0 142.6,124.4 142.2,124.9 141.9,125.3 141.5,125.8 141.1,126.3 140.8,126.8 140.4,127.3 140.1,127.9 139.7,128.4 139.3,129.0 139.0,129.5 138.6,130.1 138.3,130.7 137.9,131.3 137.5,131.9 137.2,132.5 136.8,133.1 136.5,133.7 136.1,134.3 135.7,134.9 135.4,135.5 135.0,136.1 134.7,136.7 134.3,137.3 133.9,137.9 133.6,138.5 133.2,139.1 132.9,139.6 132.5,140.2 132.1,140.7 131.8,141.2 131.4,141.7 131.1,142.2 130.7,142.7 130.3,143.1 130.0,143.6 129.6,143.9 129.3,144.3 128.9,144.6 128.5,144.9 128.2,145.2 127.8,145.5 127.5,145.7 127.1,145.8 126.7,146.0 126.4,146.1 126.0,146.2 125.7,146.2 125.3,146.2 124.9,146.2 124.6,146.1 124.2,146.0 123.9,145.8 123.5,145.7 123.1,145.5 122.8,145.3 122.4,145.1 122.1,144.8 121.7,144.5 121.3,144.2 121.0,143.9 120.6,143.6 120.3,143.3 119.9,143.0 119.5,142.7 119.2,142.3 118.8,142.0 118.5,141.7 118.1,141.4 117.7,141.0 117.4,140.7 117.0,140.4 116.7,140.1 116.3,139.8 115.9,139.5 115.6,139.2 115.2,138.9 114.9,138.7 114.5,138.4 114.1,138.1 113.8,137.9 113.4,137.6 113.1,137.4 112.7,137.2 112.3,136.9 112.0,136.7 111.6,136.5 111.3,136.3 110.9,136.1 110.5,135.9 110.2,135.7 109.8,135.5 109.5,135.4 109.1,135.2 108.7,135.0 108.4,134.9 108.0,134.7 107.7,134.6 107.3,134.4 106.9,134.3 106.6,134.1 106.2,134.0 105.9,133.9 105.5,133.7 105.1,133.6 104.8,133.5 104.4,133.4 104.1,133.2 103.7,133.1 103.3,133.0 103.0,132.9 102.6,132.8 102.3,132.7 101.9,132.6 101.5,132.5 101.2,132.4 100.8,132.3 100.5,132.2 100.1,132.2 99.7,132.1 99.4,132.0 99.0,131.9 98.7,131.8 98.3,131.8 97.9,131.7 97.6,131.6 97.2,131.5 96.9,131.5 96.5,131.4 96.1,131.3 95.8,131.3 95.4,131.2 95.1,131.2 94.7,131.1 94.3,131.1 94.0,131.0 93.6,130.9 93.3,130.9 92.9,130.8 92.5,130.8 92.2,130.8 91.8,130.7 91.5,130.7 91.1,130.6 90.7,130.6 90.4,130.6 90.0,130.5 89.7,130.5 89.3,130.4 88.9,130.4 88.6,130.4 88.2,130.3 87.9,130.3 87.5,130.3 87.1,130.3 86.8,130.2 86.4,130.2 86.1,130.2 85.7,130.2 85.3,130.1 85.0,130.1 84.6,130.1 84.3,130.1 83.9,130.0 83.5,130.0 83.2,130.0 82.8,130.0 82.5,130.0 82.1,130.0 81.7,129.9 81.4,129.9 81.0,129.9 80.7,129.9 80.3,129.9 79.9,129.9 79.6,129.9 79.2,129.8 78.9,129.8 78.5,129.8 78.1,129.8 77.8,129.8 77.4,129.8 77.1,129.8 76.7,129.8 76.3,129.8 76.0,129.8 75.6,129.8 75.3,129.8 74.9,129.8 74.5,129.8 74.2,129.8 73.8,129.8 73.5,129.8 73.1,129.8 72.7,129.8 72.4,129.8 72.0,129.8 71.7,129.8 71.3,129.8 70.9,129.8 70.6,129.8 70.2,129.8 69.9,129.9 69.5,129.9 69.1,129.9 68.8,129.9 68.4,129.9 68.1,129.9 67.7,129.9 67.3,129.9 67.0,130.0 66.6,130.0 66.3,130.0 65.9,130.0 65.5,130.0 65.2,130.1 64.8,130.1 64.5,130.1 64.1,130.1 63.7,130.1 63.4,130.2 63.0,130.2 62.7,130.2 62.3,130.2 61.9,130.3 61.6,130.3 61.2,130.3 60.9,130.3 60.5,130.4" fill="none" stroke="#0000ff" stroke-width="1.75" stroke-linejoin="round" stroke-linecap="round"/>
<polyline points="60.5,117.2 60.9,115.7 61.2,114.4 61.6,113.2 61.9,112.0 62.3,111.0 62.7,110.0 63.0,109.2 63.4,108.4 63.7,107.6 64.1,106.9 64.5,106.3 64.8,105.7 65.2,105.2 65.5,104.7 65.9,104.2 66.3,103.8 66.6,103.4 67.0,103.1 67.3,102.8 67.7,102.4 68.1,102.2 68.4,101.9 68.8,101.7 69.1,101.4 69.5,101.2 69.9,101.0 70.2,100.8 70.6,100.6 70.9,100.5 71.3,100.3 71.7,100.2 72.0,100.1 72.4,100.0 72.7,99.9 73.1,99.8 73.5,99.7 73.8,99.6 74.2,99.5 74.5,99.4 74.9,99.4 75.3,99.3 75.6,99.2 76.0,99.2 76.3,99.1 76.7,99.1 77.1,99.0 77.4,99.0 77.8,99.0 78.1,98.9 78.5,98.9 78.9,98.9 79.2,98.8 79.6,98.8 79.9,98.8 80.3,98.8 80.7,98.7 81.0,98.7 81.4,98.7 81.7,98.7 82.1,98.7 82.5,98.7 82.8,98.6 83.2,98.6 83.5,98.6 83.9,98.6 84.3,98.6 84.6,98.6 85.0,98.6 85.3,98.6 85.7,98.5 86.1,98.5 86.4,98.5 86.8,98.5 87.1,98.5 87.5,98.5 87.9,98.5 88.2,98.5 88.6,98.5 88.9,98.5 89.3,98.5 89.7,98.5 90.0,98.5 90.4,98.4 90.7,98.4 91.1,98.4 91.5,98.4 91.8,98.4 92.2,98.4 92.5,98.4 92.9,98.4 93.3,98.4 93.6,98.4 94.0,98.4 94.3,98.4 94.7,98.4 95.1,98.4 95.4,98.4 95.8,98.4 96.1,98.4 96.5,98.4 96.9,98.4 97.2,98.4 97.6,98.4 97.9,98.4 98.3,98.4 98.7,98.4 99.0,98.4 99.4,98.4 99.7,98.4 100.1,98.4 100.5,98.4 100.8,98.4 101.2,98.4 101.5,98.4 101.9,98.4 102.3,98.4 102.6,98.4 103.0,98.4 103.3,98.4 103.7,98.4 104.1,98.4 104.4,98.4 104.8,98.4 105.1,98.4 105.5,98.4 105.9,98.4 106.2,98.4 106.6,98.4 106.9,98.3 107.3,98.3 107.7,98.3 108.0,98.3 108.4,98.3 108.7,98.3 109.1,98.3 109.5,98.3 109.8,98.3 110.2,98.3 110.5,98.3 110.9,98.2 111.3,98.2 111.6,98.2 112.0,98.2 112.3,98.2 112.7,98.1 113.1,98.1 113.4,98.1 113.8,98.1 114.1,98.0 114.5,98.0 114.9,98.0 115.2,97.9 115.6,97.9 115.9,97.8 116.3,97.8 116.7,97.7 117.0,97.7 117.4,97.6 117.7,97.5 118.1,97.4 118.5,97.4 118.8,97.3 119.2,97.2 119.5,97.1 119.9,97.0 120.3,96.9 120.6,96.7 121.0,96.6 121.3,96.5 121.7,96.3 122.1,96.1 122.4,96.0 122.8,95.8 123.1,95.6 123.5,95.4 123.9,95.2 124.2,94.9 124.6,94.7 124.9,94.4 125.3,94.2 125.7,93.9 126.0,93.6 126.4,93.2 126.7,92.9 127.1,92.5 127.5,92.2 127.8,91.8 128.2,91.4 128.5,91.0 128.9,90.5 129.3,90.1 129.6,89.6 130.0,89.1 130.3,88.6 130.7,88.1 131.1,87.6 131.4,87.1 131.8,86.5 132.1,85.9 132.5,85.3 132.9,84.7 133.2,84.1 133.6,83.5 133.9,82.9 134.3,82.3 134.7,81.6 135.0,81.0 135.4,80.3 135.7,79.6 136.1,79.0 136.5,78.3 136.8,77.6 137.2,77.0 137.5,76.3 137.9,75.6 138.3,75.0 138.6,74.3 139.0,73.7 139.3,73.0 139.7,72.4 140.1,71.8 140.4,71.2 140.8,70.6 141.1,70.1 141.5,69.5 141.9,69.0 142.2,68.5 142.6,68.0 142.9,67.5 143.3,67.1 143.7,66.7 144.0,66.3 144.4,66.0 144.7,65.7 145.1,65.4 145.5,65.2 145.8,65.0 146.2,64.9 146.5,64.7 146.9,64.7 147.3,64.6 147.6,64.6 148.0,64.7 148.3,64.7 148.7,64.8 149.1,65.0 149.4,65.1 149.8,65.3 150.1,65.6 150.5,65.8 150.9,66.1 151.2,66.4 151.6,66.7 151.9,67.0 152.3,67.4 152.7,67.7 153.0,68.1 153.4,68.4 153.7,68.8 154.1,69.1 154.5,69.5 154.8,69.8 155.2,70.2 155.5,70.5 155.9,70.8 156.3,71.1 156.6,71.5 157.0,71.8 157.3,72.1 157.7,72.4 158.1,72.6 158.4,72.9 158.8,73.2 159.1,73.4 159.5,73.7 159.9,73.9 160.2,74.2 160.6,74.4 160.9,74.6 161.3,74.8 161.7,75.0 162.0,75.2 162.4,75.4 162.7,75.6 163.1,75.8 163.5,76.0 163.8,76.2 164.2,76.3 164.5,76.5 164.9,76.7 165.3,76.8 165.6,77.0 166.0,77.1 166.3,77.3 166.7,77.4 167.1,77.5 167.4,77.7 167.8,77.8 168.1,77.9 168.5,78.1 168.9,78.2 169.2,78.3 169.6,78.5 169.9,78.6 170.3,78.7 170.7,78.8 171.0,78.9 171.4,79.0 171.7,79.1 172.1,79.2 172.5,79.3 172.8,79.4 173.2,79.5 173.5,79.6 173.9,79.7 174.3,79.8 174.6,79.9 175.0,80.0 175.3,80.1 175.7,80.2 176.1,80.3 176.4,80.3 176.8,80.4 177.1,80.5 177.5,80.6 177.9,80.6 178.2,80.7 178.6,80.8 178.9,80.9 179.3,80.9 179.7,81.0 180.0,81.1 180.4,81.1 180.7,81.2 181.1,81.3 181.5,81.3 181.8,81.4 182.2,81.5 182.5,81.5 182.9,81.6 183.3,81.6 183.6,81.7 184.0,81.7 184.3,81.8 184.7,81.8 185.1,81.9 185.4,82.0 185.8,82.0 186.1,82.1 186.5,82.1 186.9,82.2 187.2,82.2 187.6,82.2 187.9,82.3 188.3,82.3 188.7,82.4 189.0,82.4 189.4,82.5 189.7,82.5 190.1,82.5 190.5,82.6 190.8,82.6 191.2,82.7 191.5,82.7 191.9,82.7 192.3,82.8 192.6,82.8 193.0,82.8 193.3,82.9 193.7,82.9 194.1,82.9 194.4,83.0 194.8,83.0 195.1,83.0 195.5,83.1 195.9,83.1 196.2,83.1 196.6,83.1 196.9,83.2 197.3,83.2 197.7,83.2 198.0,83.2 198.4,83.3 198.7,83.3 199.1,83.3 199.5,83.3 199.8,83.3 200.2,83.4 200.5,83.4 200.9,83.4 201.3,83.4 201.6,83.4 202.0,83.4 202.3,83.5 202.7,83.5 203.1,83.5 203.4,83.5 203.8,83.5 204.1,83.5 204.5,83.5 204.9,83.5 205.2,83.5 205.6,83.5 205.9,83.5 206.3,83.5 206.7,83.6 207.0,83.6 207.4,83.6 207.7,83.6 208.1,83.6 208.5,83.6 208.8,83.6 209.2,83.6 209.5,83.5 209.9,83.5 210.3,83.5 210.6,83.5 211.0,83.5 211.3,83.5 211.7,83.5 212.1,83.5 212.4,83.5 212.8,83.5 213.1,83.5 213.5,83.4 213.9,83.4 214.2,83.4 214.6,83.4 214.9,83.4 215.3,83.4 215.7,83.3 216.0,83.3 216.4,83.3 216.7,83.3 217.1,83.2 217.5,83.2 217.8,83.2 218.2,83.2 218.5,83.1 218.9,83.1 219.3,83.1 219.6,83.0 220.0,83.0 220.3,83.0 220.7,82.9 221.1,82.9 221.4,82.9 221.8,82.8 222.1,82.8 222.5,82.8 222.9,82.7 223.2,82.7 223.6,82.6 223.9,82.6 224.3,82.5 224.7,82.5 225.0,82.4 225.4,82.4 225.7,82.3 226.1,82.3 226.5,82.2 226.8,82.2 227.2,82.1 227.5,82.0 227.9,82.0 228.3,81.9 228.6,81.9 229.0,81.8 229.3,81.7 229.7,81.7 230.1,81.6 230.4,81.5 230.8,81.5 231.1,81.4 231.5,81.3 231.9,81.2 232.2,81.2 232.6,81.1 232.9,81.0 233.3,80.9 233.7,80.8 234.0,80.8 234.4,80.7 234.7,80.6 235.1,80.5 235.5,80.4 235.8,80.3 236.2,80.3 236.5,80.2 236.9,80.1 237.3,80.0 237.6,79.9 238.0,79.8 238.3,79.7 238.7,79.6 239.1,79.5 239.4,79.4 239.8,79.3 240.1,79.2 240.5,79.1 240.9,79.0 241.2,78.9 241.6,78.8 241.9,78.7 242.3,78.6 242.7,78.5 243.0,78.3 243.4,78.2 243.7,78.1 244.1,78.0 244.5,77.9 244.8,77.8 245.2,77.6 245.5,77.5 245.9,77.4 246.3,77.3 246.6,77.1 247.0,77.0 247.3,76.9 247.7,76.8 248.1,76.6 248.4,76.5 248.8,76.3 249.1,76.2 249.5,76.1 249.9,75.9 250.2,75.8 250.6,75.6 250.9,75.5 251.3,75.3 251.7,75.2 252.0,75.0 252.4,74.9 252.7,74.7 253.1,74.6 253.5,74.4 253.8,74.3 254.2,74.1 254.5,73.9 254.9,73.8 255.3,73.6 255.6,73.4 256.0,73.3 256.3,73.1 256.7,72.9 257.1,72.7 257.4,72.6 257.8,72.4 258.1,72.2 258.5,72.0 258.9,71.8 259.2,71.6 259.6,71.4 259.9,71.2 260.3,71.0 260.7,70.8 261.0,70.6 261.4,70.4 261.7,70.2 262.1,70.0 262.5,69.8 262.8,69.6 263.2,69.4 263.5,69.2 263.9,69.0 264.3,68.7 264.6,68.5 265.0,68.3 265.3,68.1 265.7,67.8 266.1,67.6 266.4,67.4 266.8,67.1 267.1,66.9 267.5,66.7 267.9,66.4 268.2,66.2 268.6,65.9 268.9,65.7 269.3,65.4 269.7,65.1 270.0,64.9 270.4,64.6 270.7,64.3 271.1,64.1 271.5,63.8 271.8,63.5 272.2,63.3 272.5,63.0 272.9,62.7 273.3,62.4 273.6,62.1 274.0,61.8 274.3,61.5 274.7,61.2 275.1,60.9 275.4,60.6 275.8,60.3 276.1,60.0 276.5,59.7 276.1,68.0 275.8,75.0 275.4,80.8 275.1,85.7 274.7,89.7 274.3,93.0 274.0,95.8 273.6,98.1 273.3,100.1 272.9,101.7 272.5,103.1 272.2,104.2 271.8,105.1 271.5,106.0 271.1,106.6 270.7,107.2 270.4,107.7 270.0,108.1 269.7,108.5 269.3,108.8 268.9,109.1 268.6,109.3 268.2,109.5 267.9,109.7 267.5,109.9 267.1,110.0 266.8,110.2 266.4,110.3 266.1,110.4 265.7,110.5 265.3,110.6 265.0,110.7 264.6,110.8 264.3,110.9 263.9,111.0 263.5,111.0 263.2,111.1 262.8,111.2 262.5,111.3 262.1,111.3 261.7,111.4 261.4,111.5 261.0,111.5 260.7,111.6 260.3,111.7 259.9,111.7 259.6,111.8 259.2,111.9 258.9,111.9 258.5,112.0 258.1,112.1 257.8,112.1 257.4,112.2 257.1,112.2 256.7,112.3 256.3,112.4 256.0,112.4 255.6,112.5 255.3,112.5 254.9,112.6 254.5,112.7 254.2,112.7 253.8,112.8 253.5,112.8 253.1,112.9 252.7,112.9 252.4,113.0 252.0,113.1 251.7,113.1 251.3,113.2 250.9,113.2 250.6,113.3 250.2,113.3 249.9,113.4 249.5,113.4 249.1,113.5 248.8,113.5 248.4,113.6 248.1,113.6 247.7,113.7 247.3,113.7 247.0,113.8 246.6,113.9 246.3,113.9 245.9,114.0 245.5,114.0 245.2,114.0 244.8,114.1 244.5,114.1 244.1,114.2 243.7,114.2 243.4,114.3 243.0,114.3 242.7,114.4 242.3,114.4 241.9,114.5 241.6,114.5 241.2,114.6 240.9,114.6 240.5,114.7 240.1,114.7 239.8,114.7 239.4,114.8 239.1,114.8 238.7,114.9 238.3,114.9 238.0,115.0 237.6,115.0 237.3,115.0 236.9,115.1 236.5,115.1 236.2,115.2 235.8,115.2 235.5,115.3 235.1,115.3 234.7,115.3 234.4,115.4 234.0,115.4 233.7,115.5 233.3,115.5 232.9,115.5 232.6,115.6 232.2,115.6 231.9,115.6 231.5,115.7 231.1,115.7 230.8,115.8 230.4,115.8 230.1,115.8 229.7,115.9 229.3,115.9 229.0,115.9 228.6,116.0 228.3,116.0 227.9,116.0 227.5,116.1 227.2,116.1 226.8,116.1 226.5,116.2 226.1,116.2 225.7,116.2 225.4,116.3 225.0,116.3 224.7,116.3 224.3,116.4 223.9,116.4 223.6,116.4 223.2,116.4 222.9,116.5 222.5,116.5 222.1,116.5 221.8,116.6 221.4,116.6 221.1,116.6 220.7,116.6 220.3,116.7 220.0,116.7 219.6,116.7 219.3,116.7 218.9,116.8 218.5,116.8 218.2,116.8 217.8,116.8 217.5,116.8 217.1,116.9 216.7,116.9 216.4,116.9 216.0,116.9 215.7,116.9 215.3,117.0 214.9,117.0 214.6,117.0 214.2,117.0 213.9,117.0 213.5,117.1 213.1,117.1 212.8,117.1 212.4,117.1 212.1,117.1 211.7,117.2 211.3,117.2 211.0,117.2 210.6,117.2 210.3,117.2 209.9,117.2 209.5,117.2 209.2,117.3 208.8,117.3 208.5,117.3 208.1,117.3 207.7,117.3 207.4,117.3 207.0,117.3 206.7,117.4 206.3,117.4 205.9,117.4 205.6,117.4 205.2,117.4 204.9,117.4 204.5,117.4 204.1,117.4 203.8,117.4 203.4,117.5 203.1,117.5 202.7,117.5 202.3,117.5 202.0,117.5 201.6,117.5 201.3,117.5 200.9,117.5 200.5,117.5 200.2,117.5 199.8,117.5 199.5,117.6 199.1,117.6 198.7,117.6 198.4,117.6 198.0,117.6 197.7,117.6 197.3,117.6 196.9,117.6 196.6,117.6 196.2,117.6 195.9,117.6 195.5,117.6 195.1,117.6 194.8,117.6 194.4,117.7 194.1,117.7 193.7,117.7 193.3,117.7 193.0,117.7 192.6,117.7 192.3,117.7 191.9,117.7 191.5,117.7 191.2,117.7 190.8,117.7 190.5,117.7 190.1,117.7 189.7,117.7 189.4,117.7 189.0,117.7 188.7,117.7 188.3,117.7 187.9,117.7 187.6,117.7 187.2,117.7 186.9,117.7 186.5,117.7 186.1,117.7 185.8,117.8 185.4,117.8 185.1,117.8 184.7,117.8 184.3,117.8 184.0,117.8 183.6,117.8 183.3,117.8 182.9,117.8 182.5,117.8 182.2,117.8 181.8,117.8 181.5,117.8 181.1,117.8 180.7,117.8 180.4,117.8 180.0,117.8 179.7,117.8 179.3,117.8 178.9,117.8 178.6,117.8 178.2,117.8 177.9,117.8 177.5,117.8 177.1,117.8 176.8,117.8 176.4,117.8 176.1,117.8 175.7,117.8 175.3,117.8 175.0,117.8 174.6,117.8 174.3,117.8 173.9,117.9 173.5,117.9 173.2,117.9 172.8,117.9 172.5,117.9 172.1,117.9 171.7,117.9 171.4,117.9 171.0,117.9 170.7,117.9 170.3,117.9 169.9,117.9 169.6,117.9 169.2,117.9 168.9,117.9 168.5,117.9 168.1,118.0 167.8,118.0 167.4,118.0 167.1,118.0 166.7,118.0 166.3,118.0 166.0,118.0 165.6,118.0 165.3,118.0 164.9,118.0 164.5,118.1 164.2,118.1 163.8,118.1 163.5,118.1 163.1,118.1 162.7,118.1 162.4,118.2 162.0,118.2 161.7,118.2 161.3,118.2 160.9,118.2 160.6,118.3 160.2,118.3 159.9,118.3 159.5,118.3 159.1,118.4 158.8,118.4 158.4,118.4 158.1,118.5 157.7,118.5 157.3,118.6 157.0,118.6 156.6,118.7 156.3,118.7 155.9,118.8 155.5,118.8 155.2,118.9 154.8,119.0 154.5,119.0 154.1,119.1 153.7,119.2 153.4,119.3 153.0,119.4 152.7,119.5 152.3,119.6 151.9,119.7 151.6,119.9 151.2,120.0 150.9,120.1 150.5,120.3 150.1,120.5 149.8,120.6 149.4,120.8 149.1,121.0 148.7,121.2 148.3,121.4 148.0,121.7 147.6,121.9 147.3,122.2 146.9,122.5 146.5,122.8 146.2,123.1 145.8,123.4 145.5,123.7 145.1,124.1 144.7,124.4 144.4,124.8 144.0,125.2 143.7,125.6 143.3,126.1 142.9,126.5 142.6,127.0 142.2,127.5 141.9,127.9 141.5,128.5 141.1,129.0 140.8,129.5 140.4,130.1 140.1,130.7 139.7,131.2 139.3,131.8 139.0,132.4 138.6,133.1 138.3,133.7 137.9,134.3 137.5,135.0 137.2,135.6 136.8,136.3 136.5,136.9 136.1,137.6 135.7,138.3 135.4,138.9 135.0,139.6 134.7,140.3 134.3,140.9 133.9,141.6 133.6,142.3 133.2,142.9 132.9,143.6 132.5,144.2 132.1,144.8 131.8,145.4 131.4,146.0 131.1,146.6 130.7,147.1 130.3,147.7 130.0,148.2 129.6,148.7 129.3,149.2 128.9,149.6 128.5,150.0 128.2,150.4 127.8,150.7 127.5,151.1 127.1,151.3 126.7,151.6 126.4,151.8 126.0,152.0 125.7,152.1 125.3,152.2 124.9,152.2 124.6,152.3 124.2,152.2 123.9,152.2 123.5,152.1 123.1,152.0 122.8,151.8 122.4,151.6 122.1,151.4 121.7,151.1 121.3,150.8 121.0,150.5 120.6,150.2 120.3,149.9 119.9,149.5 119.5,149.2 119.2,148.8 118.8,148.4 118.5,148.1 118.1,147.7 117.7,147.3 117.4,147.0 117.0,146.6 116.7,146.2 116.3,145.9 115.9,145.5 115.6,145.2 115.2,144.8 114.9,144.5 114.5,144.2 114.1,143.9 113.8,143.6 113.4,143.3 113.1,143.0 112.7,142.7 112.3,142.4 112.0,142.2 111.6,141.9 111.3,141.7 110.9,141.4 110.5,141.2 110.2,141.0 109.8,140.8 109.5,140.6 109.1,140.3 108.7,140.2 108.4,140.0 108.0,139.8 107.7,139.6 107.3,139.4 106.9,139.2 106.6,139.1 106.2,138.9 105.9,138.8 105.5,138.6 105.1,138.5 104.8,138.3 104.4,138.2 104.1,138.0 103.7,137.9 103.3,137.8 103.0,137.7 102.6,137.5 102.3,137.4 101.9,137.3 101.5,137.2 101.2,137.1 100.8,137.0 100.5,136.9 100.1,136.8 99.7,136.7 99.4,136.6 99.0,136.5 98.7,136.4 98.3,136.3 97.9,136.2 97.6,136.1 97.2,136.1 96.9,136.0 96.5,135.9 96.1,135.8 95.8,135.7 95.4,135.7 95.1,135.6 94.7,135.5 94.3,135.5 94.0,135.4 93.6,135.3 93.3,135.3 92.9,135.2 92.5,135.2 92.2,135.1 91.8,135.0 91.5,135.0 91.1,134.9 90.7,134.9 90.4,134.8 90.0,134.8 89.7,134.7 89.3,134.7 88.9,134.7 88.6,134.6 88.2,134.6 87.9,134.5 87.5,134.5 87.1,134.4 86.8,134.4 86.4,134.4 86.1,134.3 85.7,134.3 85.3,134.3 85.0,134.2 84.6,134.2 84.3,134.2 83.9,134.1 83.5,134.1 83.2,134.1 82.8,134.1 82.5,134.0 82.1,134.0 81.7,134.0 81.4,134.0 81.0,133.9 80.7,133.9 80.3,133.9 79.9,133.9 79.6,133.8 79.2,133.8 78.9,133.8 78.5,133.8 78.1,133.8 77.8,133.7 77.4,133.7 77.1,133.7 76.7,133.7 76.3,133.7 76.0,133.7 75.6,133.7 75.3,133.7 74.9,133.7 74.5,133.7 74.2,133.7 73.8,133.7 73.5,133.7 73.1,133.7 72.7,133.7 72.4,133.7 72.0,133.7 71.7,133.7 71.3,133.7 70.9,133.7 70.6,133.7 70.2,133.7 69.9,133.7 69.5,133.7 69.1,133.8 68.8,133.8 68.4,133.8 68.1,133.8 67.7,133.8 67.3,133.8 67.0,133.9 66.6,133.9 66.3,133.9 65.9,133.9 65.5,133.9 65.2,134.0 64.8,134.0 64.5,134.0 64.1,134.0 63.7,134.1 63.4,134.1 63.0,134.1 62.7,134.1 62.3,134.2 61.9,134.2 61.6,134.2 61.2,134.3 60.9,134.3 60.5,134.3" fill="none" stroke="#00ffff" stroke-width="1.75" stroke-linejoin="round" stroke-linecap="round"/>
<polyline points="60.5,117.2 60.9,115.5 61.2,114.0 61.6,112.6 61.9,111.4 62.3,110.2 62.7,109.1 63.0,108.1 63.4,107.2 63.7,106.4 64.1,105.6 64.5,104.9 64.8,104.3 65.2,103.7 65.5,103.1 65.9,102.6 66.3,102.1 66.6,101.7 67.0,101.3 67.3,100.9 67.7,100.6 68.1,100.3 68.4,100.0 68.8,99.7 69.1,99.4 69.5,99.2 69.9,99.0 70.2,98.8 70.6,98.6 70.9,98.4 71.3,98.2 71.7,98.1 72.0,97.9 72.4,97.8 72.7,97.7 73.1,97.6 73.5,97.4 73.8,97.4 74.2,97.3 74.5,97.2 74.9,97.1 75.3,97.0 75.6,97.0 76.0,96.9 76.3,96.8 76.7,96.8 77.1,96.7 77.4,96.7 77.8,96.6 78.1,96.6 78.5,96.6 78.9,96.5 79.2,96.5 79.6,96.4 79.9,96.4 80.3,96.4 80.7,96.4 81.0,96.3 81.4,96.3 81.7,96.3 82.1,96.3 82.5,96.2 82.8,96.2 83.2,96.2 83.5,96.2 83.9,96.2 84.3,96.2 84.6,96.1 85.0,96.1 85.3,96.1 85.7,96.1 86.1,96.1 86.4,96.1 86.8,96.1 87.1,96.1 87.5,96.0 87.9,96.0 88.2,96.0 88.6,96.0 88.9,96.0 89.3,96.0 89.7,96.0 90.0,96.0 90.4,96.0 90.7,96.0 91.1,96.0 91.5,96.0 91.8,96.0 92.2,96.0 92.5,96.0 92.9,96.0 93.3,96.0 93.6,96.0 94.0,96.0 94.3,96.0 94.7,96.0 95.1,96.0 95.4,96.0 95.8,96.0 96.1,96.0 96.5,96.0 96.9,96.0 97.2,96.0 97.6,96.0 97.9,96.0 98.3,96.0 98.7,96.0 99.0,96.0 99.4,96.0 99.7,96.1 100.1,96.1 100.5,96.1 100.8,96.1 101.2,96.1 101.5,96.1 101.9,96.1 102.3,96.1 102.6,96.1 103.0,96.1 103.3,96.1 103.7,96.1 104.1,96.1 104.4,96.1 104.8,96.1 105.1,96.1 105.5,96.1 105.9,96.1 106.2,96.1 106.6,96.1 106.9,96.1 107.3,96.1 107.7,96.1 108.0,96.1 108.4,96.1 108.7,96.1 109.1,96.1 109.5,96.1 109.8,96.1 110.2,96.1 110.5,96.1 110.9,96.1 111.3,96.0 111.6,96.0 112.0,96.0 112.3,96.0 112.7,96.0 113.1,96.0 113.4,95.9 113.8,95.9 114.1,95.9 114.5,95.8 114.9,95.8 115.2,95.8 115.6,95.7 115.9,95.7 116.3,95.6 116.7,95.6 117.0,95.5 117.4,95.4 117.7,95.4 118.1,95.3 118.5,95.2 118.8,95.1 119.2,95.0 119.5,94.9 119.9,94.8 120.3,94.7 120.6,94.6 121.0,94.4 121.3,94.3 121.7,94.1 122.1,94.0 122.4,93.8 122.8,93.6 123.1,93.4 123.5,93.2 123.9,93.0 124.2,92.7 124.6,92.5 124.9,92.2 125.3,91.9 125.7,91.6 126.0,91.3 126.4,91.0 126.7,90.6 127.1,90.3 127.5,89.9 127.8,89.5 128.2,89.0 128.5,88.6 128.9,88.2 129.3,87.7 129.6,87.2 130.0,86.7 130.3,86.2 130.7,85.6 131.1,85.1 131.4,84.5 131.8,83.9 132.1,83.3 132.5,82.7 132.9,82.1 133.2,81.4 133.6,80.8 133.9,80.1 134.3,79.5 134.7,78.8 135.0,78.1 135.4,77.4 135.7,76.7 136.1,76.0 136.5,75.3 136.8,74.5 137.2,73.8 137.5,73.1 137.9,72.4 138.3,71.7 138.6,71.0 139.0,70.2 139.3,69.5 139.7,68.9 140.1,68.2 140.4,67.5 140.8,66.8 141.1,66.2 141.5,65.6 141.9,65.0 142.2,64.4 142.6,63.8 142.9,63.3 143.3,62.7 143.7,62.3 144.0,61.8 144.4,61.4 144.7,61.0 145.1,60.6 145.5,60.3 145.8,60.0 146.2,59.7 146.5,59.5 146.9,59.3 147.3,59.2 147.6,59.1 148.0,59.1 148.3,59.1 148.7,59.1 149.1,59.2 149.4,59.3 149.8,59.5 150.1,59.6 150.5,59.9 150.9,60.1 151.2,60.4 151.6,60.7 151.9,61.0 152.3,61.4 152.7,61.7 153.0,62.1 153.4,62.5 153.7,62.9 154.1,63.3 154.5,63.7 154.8,64.1 155.2,64.5 155.5,64.9 155.9,65.2 156.3,65.6 156.6,66.0 157.0,66.4 157.3,66.7 157.7,67.1 158.1,67.4 158.4,67.7 158.8,68.0 159.1,68.3 159.5,68.6 159.9,68.9 160.2,69.2 160.6,69.5 160.9,69.8 161.3,70.0 161.7,70.3 162.0,70.5 162.4,70.7 162.7,70.9 163.1,71.2 163.5,71.4 163.8,71.6 164.2,71.8 164.5,72.0 164.9,72.2 165.3,72.4 165.6,72.5 166.0,72.7 166.3,72.9 166.7,73.1 167.1,73.2 167.4,73.4 167.8,73.5 168.1,73.7 168.5,73.9 168.9,74.0 169.2,74.2 169.6,74.3 169.9,74.4 170.3,74.6 170.7,74.7 171.0,74.9 171.4,75.0 171.7,75.1 172.1,75.2 172.5,75.3 172.8,75.5 173.2,75.6 173.5,75.7 173.9,75.8 174.3,75.9 174.6,76.0 175.0,76.1 175.3,76.2 175.7,76.3 176.1,76.4 176.4,76.5 176.8,76.6 177.1,76.7 177.5,76.8 177.9,76.9 178.2,77.0 178.6,77.0 178.9,77.1 179.3,77.2 179.7,77.3 180.0,77.4 180.4,77.5 180.7,77.5 181.1,77.6 181.5,77.7 181.8,77.7 182.2,77.8 182.5,77.9 182.9,78.0 183.3,78.0 183.6,78.1 184.0,78.1 184.3,78.2 184.7,78.3 185.1,78.3 185.4,78.4 185.8,78.5 186.1,78.5 186.5,78.6 186.9,78.6 187.2,78.7 187.6,78.7 187.9,78.8 188.3,78.8 188.7,78.9 189.0,78.9 189.4,79.0 189.7,79.0 190.1,79.1 190.5,79.1 190.8,79.2 191.2,79.2 191.5,79.3 191.9,79.3 192.3,79.3 192.6,79.4 193.0,79.4 193.3,79.5 193.7,79.5 194.1,79.5 194.4,79.6 194.8,79.6 195.1,79.6 195.5,79.7 195.9,79.7 196.2,79.7 196.6,79.8 196.9,79.8 197.3,79.8 197.7,79.8 198.0,79.9 198.4,79.9 198.7,79.9 199.1,79.9 199.5,80.0 199.8,80.0 200.2,80.0 200.5,80.0 200.9,80.0 201.3,80.1 201.6,80.1 202.0,80.1 202.3,80.1 202.7,80.1 203.1,80.1 203.4,80.2 203.8,80.2 204.1,80.2 204.5,80.2 204.9,80.2 205.2,80.2 205.6,80.2 205.9,80.2 206.3,80.2 206.7,80.2 207.0,80.2 207.4,80.2 207.7,80.2 208.1,80.2 208.5,80.2 208.8,80.2 209.2,80.2 209.5,80.2 209.9,80.2 210.3,80.2 210.6,80.2 211.0,80.2 211.3,80.2 211.7,80.2 212.1,80.2 212.4,80.2 212.8,80.2 213.1,80.1 213.5,80.1 213.9,80.1 214.2,80.1 214.6,80.1 214.9,80.1 215.3,80.0 215.7,80.0 216.0,80.0 216.4,80.0 216.7,80.0 217.1,79.9 217.5,79.9 217.8,79.9 218.2,79.9 218.5,79.8 218.9,79.8 219.3,79.8 219.6,79.7 220.0,79.7 220.3,79.7 220.7,79.6 221.1,79.6 221.4,79.5 221.8,79.5 222.1,79.5 222.5,79.4 222.9,79.4 223.2,79.3 223.6,79.3 223.9,79.2 224.3,79.2 224.7,79.1 225.0,79.1 225.4,79.0 225.7,79.0 226.1,78.9 226.5,78.9 226.8,78.8 227.2,78.7 227.5,78.7 227.9,78.6 228.3,78.6 228.6,78.5 229.0,78.4 229.3,78.4 229.7,78.3 230.1,78.2 230.4,78.1 230.8,78.1 231.1,78.0 231.5,77.9 231.9,77.8 232.2,77.8 232.6,77.7 232.9,77.6 233.3,77.5 233.7,77.4 234.0,77.3 234.4,77.3 234.7,77.2 235.1,77.1 235.5,77.0 235.8,76.9 236.2,76.8 236.5,76.7 236.9,76.6 237.3,76.5 237.6,76.4 238.0,76.3 238.3,76.2 238.7,76.1 239.1,76.0 239.4,75.9 239.8,75.8 240.1,75.7 240.5,75.6 240.9,75.5 241.2,75.4 241.6,75.3 241.9,75.1 242.3,75.0 242.7,74.9 243.0,74.8 243.4,74.7 243.7,74.5 244.1,74.4 244.5,74.3 244.8,74.2 245.2,74.0 245.5,73.9 245.9,73.8 246.3,73.6 246.6,73.5 247.0,73.4 247.3,73.2 247.7,73.1 248.1,73.0 248.4,72.8 248.8,72.7 249.1,72.5 249.5,72.4 249.9,72.2 250.2,72.1 250.6,71.9 250.9,71.8 251.3,71.6 251.7,71.4 252.0,71.3 252.4,71.1 252.7,70.9 253.1,70.8 253.5,70.6 253.8,70.4 254.2,70.3 254.5,70.1 254.9,69.9 255.3,69.7 255.6,69.6 256.0,69.4 256.3,69.2 256.7,69.0 257.1,68.8 257.4,68.6 257.8,68.4 258.1,68.2 258.5,68.0 258.9,67.8 259.2,67.6 259.6,67.4 259.9,67.2 260.3,67.0 260.7,66.8 261.0,66.6 261.4,66.4 261.7,66.1 262.1,65.9 262.5,65.7 262.8,65.5 263.2,65.2 263.5,65.0 263.9,64.8 264.3,64.5 264.6,64.3 265.0,64.1 265.3,63.8 265.7,63.6 266.1,63.3 266.4,63.1 266.8,62.8 267.1,62.6 267.5,62.3 267.9,62.0 268.2,61.8 268.6,61.5 268.9,61.2 269.3,61.0 269.7,60.7 270.0,60.4 270.4,60.1 270.7,59.8 271.1,59.6 271.5,59.3 271.8,59.0 272.2,58.7 272.5,58.4 272.9,58.1 273.3,57.8 273.6,57.5 274.0,57.1 274.3,56.8 274.7,56.5 275.1,56.2 275.4,55.9 275.8,55.5 276.1,55.2 276.5,54.9 276.1,62.2 275.8,68.8 275.4,74.4 275.1,79.3 274.7,83.5 274.3,87.2 274.0,90.5 273.6,93.2 273.3,95.7 272.9,97.8 272.5,99.6 272.2,101.2 271.8,102.6 271.5,103.8 271.1,104.9 270.7,105.8 270.4,106.7 270.0,107.4 269.7,108.0 269.3,108.6 268.9,109.1 268.6,109.5 268.2,109.9 267.9,110.3 267.5,110.6 267.1,110.8 266.8,111.1 266.4,111.3 266.1,111.5 265.7,111.7 265.3,111.9 265.0,112.1 264.6,112.2 264.3,112.4 263.9,112.5 263.5,112.6 263.2,112.7 262.8,112.8 262.5,112.9 262.1,113.0 261.7,113.1 261.4,113.2 261.0,113.3 260.7,113.4 260.3,113.5 259.9,113.6 259.6,113.6 259.2,113.7 258.9,113.8 258.5,113.9 258.1,113.9 257.8,114.0 257.4,114.1 257.1,114.1 256.7,114.2 256.3,114.3 256.0,114.3 255.6,114.4 255.3,114.5 254.9,114.5 254.5,114.6 254.2,114.7 253.8,114.7 253.5,114.8 253.1,114.9 252.7,114.9 252.4,115.0 252.0,115.0 251.7,115.1 251.3,115.2 250.9,115.2 250.6,115.3 250.2,115.3 249.9,115.4 249.5,115.5 249.1,115.5 248.8,115.6 248.4,115.6 248.1,115.7 247.7,115.7 247.3,115.8 247.0,115.9 246.6,115.9 246.3,116.0 245.9,116.0 245.5,116.1 245.2,116.1 244.8,116.2 244.5,116.2 244.1,116.3 243.7,116.3 243.4,116.4 243.0,116.4 242.7,116.5 242.3,116.5 241.9,116.6 241.6,116.6 241.2,116.7 240.9,116.7 240.5,116.8 240.1,116.8 239.8,116.9 239.4,116.9 239.1,117.0 238.7,117.0 238.3,117.1 238.0,117.1 237.6,117.2 237.3,117.2 236.9,117.3 236.5,117.3 236.2,117.4 235.8,117.4 235.5,117.5 235.1,117.5 234.7,117.5 234.4,117.6 234.0,117.6 233.7,117.7 233.3,117.7 232.9,117.8 232.6,117.8 232.2,117.9 231.9,117.9 231.5,117.9 231.1,118.0 230.8,118.0 230.4,118.1 230.1,118.1 229.7,118.1 229.3,118.2 229.0,118.2 228.6,118.3 228.3,118.3 227.9,118.3 227.5,118.4 227.2,118.4 226.8,118.5 226.5,118.5 226.1,118.5 225.7,118.6 225.4,118.6 225.0,118.6 224.7,118.7 224.3,118.7 223.9,118.7 223.6,118.8 223.2,118.8 222.9,118.8 222.5,118.9 222.1,118.9 221.8,118.9 221.4,119.0 221.1,119.0 220.7,119.0 220.3,119.0 220.0,119.1 219.6,119.1 219.3,119.1 218.9,119.2 218.5,119.2 218.2,119.2 217.8,119.2 217.5,119.3 217.1,119.3 216.7,119.3 216.4,119.3 216.0,119.4 215.7,119.4 215.3,119.4 214.9,119.4 214.6,119.5 214.2,119.5 213.9,119.5 213.5,119.5 213.1,119.5 212.8,119.6 212.4,119.6 212.1,119.6 211.7,119.6 211.3,119.6 211.0,119.7 210.6,119.7 210.3,119.7 209.9,119.7 209.5,119.7 209.2,119.8 208.8,119.8 208.5,119.8 208.1,119.8 207.7,119.8 207.4,119.8 207.0,119.9 206.7,119.9 206.3,119.9 205.9,119.9 205.6,119.9 205.2,119.9 204.9,120.0 204.5,120.0 204.1,120.0 203.8,120.0 203.4,120.0 203.1,120.0 202.7,120.0 202.3,120.1 202.0,120.1 201.6,120.1 201.3,120.1 200.9,120.1 200.5,120.1 200.2,120.1 199.8,120.1 199.5,120.1 199.1,120.2 198.7,120.2 198.4,120.2 198.0,120.2 197.7,120.2 197.3,120.2 196.9,120.2 196.6,120.2 196.2,120.2 195.9,120.2 195.5,120.2 195.1,120.3 194.8,120.3 194.4,120.3 194.1,120.3 193.7,120.3 193.3,120.3 193.0,120.3 192.6,120.3 192.3,120.3 191.9,120.3 191.5,120.3 191.2,120.3 190.8,120.3 190.5,120.3 190.1,120.3 189.7,120.4 189.4,120.4 189.0,120.4 188.7,120.4 188.3,120.4 187.9,120.4 187.6,120.4 187.2,120.4 186.9,120.4 186.5,120.4 186.1,120.4 185.8,120.4 185.4,120.4 185.1,120.4 184.7,120.4 184.3,120.4 184.0,120.4 183.6,120.4 183.3,120.4 182.9,120.4 182.5,120.4 182.2,120.4 181.8,120.4 181.5,120.4 181.1,120.4 180.7,120.4 180.4,120.5 180.0,120.5 179.7,120.5 179.3,120.5 178.9,120.5 178.6,120.5 178.2,120.5 177.9,120.5 177.5,120.5 177.1,120.5 176.8,120.5 176.4,120.5 176.1,120.5 175.7,120.5 175.3,120.5 175.0,120.5 174.6,120.5 174.3,120.5 173.9,120.5 173.5,120.5 173.2,120.5 172.8,120.5 172.5,120.5 172.1,120.5 171.7,120.5 171.4,120.5 171.0,120.5 170.7,120.5 170.3,120.6 169.9,120.6 169.6,120.6 169.2,120.6 168.9,120.6 168.5,120.6 168.1,120.6 167.8,120.6 167.4,120.6 167.1,120.6 166.7,120.6 166.3,120.6 166.0,120.6 165.6,120.7 165.3,120.7 164.9,120.7 164.5,120.7 164.2,120.7 163.8,120.7 163.5,120.7 163.1,120.7 162.7,120.8 162.4,120.8 162.0,120.8 161.7,120.8 161.3,120.8 160.9,120.9 160.6,120.9 160.2,120.9 159.9,120.9 159.5,121.0 159.1,121.0 158.8,121.0 158.4,121.1 158.1,121.1 157.7,121.2 157.3,121.2 157.0,121.3 156.6,121.3 156.3,121.4 155.9,121.4 155.5,121.5 155.2,121.6 154.8,121.6 154.5,121.7 154.1,121.8 153.7,121.9 153.4,122.0 153.0,122.1 152.7,122.2 152.3,122.3 151.9,122.4 151.6,122.6 151.2,122.7 150.9,122.9 150.5,123.0 150.1,123.2 149.8,123.4 149.4,123.6 149.1,123.8 148.7,124.0 148.3,124.2 148.0,124.5 147.6,124.7 147.3,125.0 146.9,125.3 146.5,125.6 146.2,125.9 145.8,126.3 145.5,126.6 145.1,127.0 144.7,127.4 144.4,127.8 144.0,128.2 143.7,128.6 143.3,129.1 142.9,129.6 142.6,130.1 142.2,130.6 141.9,131.1 141.5,131.6 141.1,132.2 140.8,132.8 140.4,133.4 140.1,134.0 139.7,134.6 139.3,135.2 139.0,135.9 138.6,136.5 138.3,137.2 137.9,137.9 137.5,138.5 137.2,139.2 136.8,139.9 136.5,140.7 136.1,141.4 135.7,142.1 135.4,142.8 135.0,143.5 134.7,144.3 134.3,145.0 133.9,145.7 133.6,146.4 133.2,147.2 132.9,147.9 132.5,148.6 132.1,149.3 131.8,150.0 131.4,150.6 131.1,151.3 130.7,151.9 130.3,152.6 130.0,153.2 129.6,153.7 129.3,154.3 128.9,154.8 128.5,155.4 128.2,155.8 127.8,156.3 127.5,156.7 127.1,157.1 126.7,157.4 126.4,157.8 126.0,158.0 125.7,158.3 125.3,158.5 124.9,158.6 124.6,158.8 124.2,158.8 123.9,158.9 123.5,158.9 123.1,158.8 122.8,158.7 122.4,158.6 122.1,158.4 121.7,158.2 121.3,157.9 121.0,157.7 120.6,157.4 120.3,157.0 119.9,156.7 119.5,156.3 119.2,155.9 118.8,155.5 118.5,155.1 118.1,154.7 117.7,154.3 117.4,153.9 117.0,153.5 116.7,153.0 116.3,152.6 115.9,152.2 115.6,151.8 115.2,151.4 114.9,151.0 114.5,150.6 114.1,150.3 113.8,149.9 113.4,149.5 113.1,149.2 112.7,148.9 112.3,148.5 112.0,148.2 111.6,147.9 111.3,147.6 110.9,147.3 110.5,147.0 110.2,146.8 109.8,146.5 109.5,146.2 109.1,146.0 108.7,145.7 108.4,145.5 108.0,145.3 107.7,145.1 107.3,144.9 106.9,144.6 106.6,144.4 106.2,144.3 105.9,144.1 105.5,143.9 105.1,143.7 104.8,143.5 104.4,143.4 104.1,143.2 103.7,143.0 103.3,142.9 103.0,142.7 102.6,142.6 102.3,142.4 101.9,142.3 101.5,142.2 101.2,142.0 100.8,141.9 100.5,141.8 100.1,141.7 99.7,141.6 99.4,141.4 99.0,141.3 98.7,141.2 98.3,141.1 97.9,141.0 97.6,140.9 97.2,140.8 96.9,140.7 96.5,140.6 96.1,140.6 95.8,140.5 95.4,140.4 95.1,140.3 94.7,140.2 94.3,140.1 94.0,140.1 93.6,140.0 93.3,139.9 92.9,139.9 92.5,139.8 92.2,139.7 91.8,139.7 91.5,139.6 91.1,139.5 90.7,139.5 90.4,139.4 90.0,139.3 89.7,139.3 89.3,139.2 88.9,139.2 88.6,139.1 88.2,139.1 87.9,139.0 87.5,139.0 87.1,138.9 86.8,138.9 86.4,138.8 86.1,138.8 85.7,138.7 85.3,138.7 85.0,138.6 84.6,138.6 84.3,138.6 83.9,138.5 83.5,138.5 83.2,138.4 82.8,138.4 82.5,138.4 82.1,138.3 81.7,138.3 81.4,138.3 81.0,138.2 80.7,138.2 80.3,138.2 79.9,138.1 79.6,138.1 79.2,138.1 78.9,138.0 78.5,138.0 78.1,138.0 77.8,138.0 77.4,137.9 77.1,137.9 76.7,137.9 76.3,137.9 76.0,137.8 75.6,137.8 75.3,137.8 74.9,137.8 74.5,137.8 74.2,137.8 73.8,137.8 73.5,137.8 73.1,137.7 72.7,137.7 72.4,137.7 72.0,137.7 71.7,137.7 71.3,137.7 70.9,137.7 70.6,137.7 70.2,137.7 69.9,137.7 69.5,137.7 69.1,137.7 68.8,137.7 68.4,137.7 68.1,137.7 67.7,137.7 67.3,137.8 67.0,137.8 66.6,137.8 66.3,137.8 65.9,137.8 65.5,137.8 65.2,137.8 64.8,137.8 64.5,137.8 64.1,137.8 63.7,137.9 63.4,137.9 63.0,137.9 62.7,137.9 62.3,137.9 61.9,137.9 61.6,138.0 61.2,138.0 60.9,138.0 60.5,138.0" fill="none" stroke="#ff00ff" stroke-width="1.75" stroke-linejoin="round" stroke-linecap="round"/>
<polyline points="60.5,117.2 60.9,115.3 61.2,113.7 61.6,112.1 61.9,110.7 62.3,109.4 62.7,108.2 63.0,107.1 63.4,106.1 63.7,105.1 64.1,104.3 64.5,103.5 64.8,102.8 65.2,102.1 65.5,101.5 65.9,100.9 66.3,100.4 66.6,99.9 67.0,99.4 67.3,99.0 67.7,98.6 68.1,98.3 68.4,98.0 68.8,97.6 69.1,97.4 69.5,97.1 69.9,96.8 70.2,96.6 70.6,96.4 70.9,96.2 71.3,96.0 71.7,95.8 72.0,95.7 72.4,95.5 72.7,95.4 73.1,95.2 73.5,95.1 73.8,95.0 74.2,94.9 74.5,94.8 74.9,94.7 75.3,94.6 75.6,94.5 76.0,94.4 76.3,94.4 76.7,94.3 77.1,94.2 77.4,94.2 77.8,94.1 78.1,94.1 78.5,94.0 78.9,94.0 79.2,93.9 79.6,93.9 79.9,93.8 80.3,93.8 80.7,93.7 81.0,93.7 81.4,93.7 81.7,93.6 82.1,93.6 82.5,93.5 82.8,93.5 83.2,93.5 83.5,93.5 83.9,93.4 84.3,93.4 84.6,93.4 85.0,93.3 85.3,93.3 85.7,93.3 86.1,93.3 86.4,93.2 86.8,93.2 87.1,93.2 87.5,93.2 87.9,93.2 88.2,93.1 88.6,93.1 88.9,93.1 89.3,93.1 89.7,93.1 90.0,93.1 90.4,93.1 90.7,93.0 91.1,93.0 91.5,93.0 91.8,93.0 92.2,93.0 92.5,93.0 92.9,93.0 93.3,93.0 93.6,93.0 94.0,93.0 94.3,93.0 94.7,93.0 95.1,93.0 95.4,93.0 95.8,93.0 96.1,93.0 96.5,93.0 96.9,93.0 97.2,93.0 97.6,93.0 97.9,93.0 98.3,93.0 98.7,93.0 99.0,93.1 99.4,93.1 99.7,93.1 100.1,93.1 100.5,93.1 100.8,93.1 101.2,93.1 101.5,93.1 101.9,93.1 102.3,93.1 102.6,93.1 103.0,93.2 103.3,93.2 103.7,93.2 104.1,93.2 104.4,93.2 104.8,93.2 105.1,93.2 105.5,93.2 105.9,93.2 106.2,93.2 106.6,93.2 106.9,93.2 107.3,93.2 107.7,93.2 108.0,93.2 108.4,93.2 108.7,93.2 109.1,93.2 109.5,93.2 109.8,93.2 110.2,93.2 110.5,93.2 110.9,93.2 111.3,93.2 111.6,93.2 112.0,93.2 112.3,93.2 112.7,93.2 113.1,93.2 113.4,93.1 113.8,93.1 114.1,93.1 114.5,93.1 114.9,93.0 115.2,93.0 115.6,93.0 115.9,92.9 116.3,92.9 116.7,92.8 117.0,92.8 117.4,92.7 117.7,92.7 118.1,92.6 118.5,92.5 118.8,92.4 119.2,92.3 119.5,92.2 119.9,92.1 120.3,92.0 120.6,91.9 121.0,91.8 121.3,91.6 121.7,91.5 122.1,91.3 122.4,91.1 122.8,90.9 123.1,90.7 123.5,90.5 123.9,90.3 124.2,90.1 124.6,89.8 124.9,89.5 125.3,89.2 125.7,88.9 126.0,88.6 126.4,88.3 126.7,87.9 127.1,87.5 127.5,87.1 127.8,86.7 128.2,86.3 128.5,85.9 128.9,85.4 129.3,84.9 129.6,84.4 130.0,83.9 130.3,83.4 130.7,82.8 131.1,82.2 131.4,81.6 131.8,81.0 132.1,80.4 132.5,79.8 132.9,79.1 133.2,78.5 133.6,77.8 133.9,77.1 134.3,76.4 134.7,75.7 135.0,75.0 135.4,74.2 135.7,73.5 136.1,72.8 136.5,72.0 136.8,71.2 137.2,70.5 137.5,69.7 137.9,69.0 138.3,68.2 138.6,67.4 139.0,66.7 139.3,65.9 139.7,65.2 140.1,64.4 140.4,63.7 140.8,63.0 141.1,62.3 141.5,61.6 141.9,60.9 142.2,60.2 142.6,59.6 142.9,59.0 143.3,58.4 143.7,57.8 144.0,57.2 144.4,56.7 144.7,56.2 145.1,55.8 145.5,55.3 145.8,54.9 146.2,54.6 146.5,54.3 146.9,54.0 147.3,53.8 147.6,53.6 148.0,53.4 148.3,53.3 148.7,53.3 149.1,53.3 149.4,53.3 149.8,53.4 150.1,53.5 150.5,53.7 150.9,53.8 151.2,54.1 151.6,54.3 151.9,54.6 152.3,55.0 152.7,55.3 153.0,55.7 153.4,56.1 153.7,56.5 154.1,56.9 154.5,57.3 154.8,57.8 155.2,58.2 155.5,58.7 155.9,59.1 156.3,59.5 156.6,59.9 157.0,60.4 157.3,60.8 157.7,61.2 158.1,61.6 158.4,61.9 158.8,62.3 159.1,62.7 159.5,63.0 159.9,63.4 160.2,63.7 160.6,64.0 160.9,64.3 161.3,64.6 161.7,64.9 162.0,65.2 162.4,65.5 162.7,65.7 163.1,66.0 163.5,66.2 163.8,66.5 164.2,66.7 164.5,66.9 164.9,67.1 165.3,67.4 165.6,67.6 166.0,67.8 166.3,68.0 166.7,68.2 167.1,68.4 167.4,68.6 167.8,68.7 168.1,68.9 168.5,69.1 168.9,69.3 169.2,69.5 169.6,69.6 169.9,69.8 170.3,70.0 170.7,70.1 171.0,70.3 171.4,70.4 171.7,70.6 172.1,70.7 172.5,70.8 172.8,71.0 173.2,71.1 173.5,71.2 173.9,71.4 174.3,71.5 174.6,71.6 175.0,71.7 175.3,71.9 175.7,72.0 176.1,72.1 176.4,72.2 176.8,72.3 177.1,72.4 177.5,72.5 177.9,72.6 178.2,72.7 178.6,72.8 178.9,72.9 179.3,73.0 179.7,73.1 180.0,73.2 180.4,73.3 180.7,73.4 181.1,73.5 181.5,73.5 181.8,73.6 182.2,73.7 182.5,73.8 182.9,73.9 183.3,73.9 183.6,74.0 184.0,74.1 184.3,74.2 184.7,74.2 185.1,74.3 185.4,74.4 185.8,74.4 186.1,74.5 186.5,74.6 186.9,74.6 187.2,74.7 187.6,74.8 187.9,74.8 188.3,74.9 188.7,74.9 189.0,75.0 189.4,75.1 189.7,75.1 190.1,75.2 190.5,75.2 190.8,75.3 191.2,75.3 191.5,75.4 191.9,75.4 192.3,75.5 192.6,75.5 193.0,75.6 193.3,75.6 193.7,75.7 194.1,75.7 194.4,75.7 194.8,75.8 195.1,75.8 195.5,75.9 195.9,75.9 196.2,75.9 196.6,76.0 196.9,76.0 197.3,76.0 197.7,76.1 198.0,76.1 198.4,76.1 198.7,76.2 199.1,76.2 199.5,76.2 199.8,76.3 200.2,76.3 200.5,76.3 200.9,76.3 201.3,76.4 201.6,76.4 202.0,76.4 202.3,76.4 202.7,76.4 203.1,76.5 203.4,76.5 203.8,76.5 204.1,76.5 204.5,76.5 204.9,76.5 205.2,76.6 205.6,76.6 205.9,76.6 206.3,76.6 206.7,76.6 207.0,76.6 207.4,76.6 207.7,76.6 208.1,76.6 208.5,76.6 208.8,76.6 209.2,76.6 209.5,76.6 209.9,76.6 210.3,76.6 210.6,76.6 211.0,76.6 211.3,76.6 211.7,76.6 212.1,76.6 212.4,76.6 212.8,76.6 213.1,76.6 213.5,76.6 213.9,76.6 214.2,76.5 214.6,76.5 214.9,76.5 215.3,76.5 215.7,76.5 216.0,76.5 216.4,76.4 216.7,76.4 217.1,76.4 217.5,76.4 217.8,76.3 218.2,76.3 218.5,76.3 218.9,76.2 219.3,76.2 219.6,76.2 220.0,76.2 220.3,76.1 220.7,76.1 221.1,76.0 221.4,76.0 221.8,76.0 222.1,75.9 222.5,75.9 222.9,75.8 223.2,75.8 223.6,75.7 223.9,75.7 224.3,75.6 224.7,75.6 225.0,75.5 225.4,75.5 225.7,75.4 226.1,75.4 226.5,75.3 226.8,75.3 227.2,75.2 227.5,75.1 227.9,75.1 228.3,75.0 228.6,74.9 229.0,74.9 229.3,74.8 229.7,74.7 230.1,74.6 230.4,74.6 230.8,74.5 231.1,74.4 231.5,74.3 231.9,74.3 232.2,74.2 232.6,74.1 232.9,74.0 233.3,73.9 233.7,73.8 234.0,73.7 234.4,73.7 234.7,73.6 235.1,73.5 235.5,73.4 235.8,73.3 236.2,73.2 236.5,73.1 236.9,73.0 237.3,72.9 237.6,72.8 238.0,72.7 238.3,72.6 238.7,72.5 239.1,72.4 239.4,72.2 239.8,72.1 240.1,72.0 240.5,71.9 240.9,71.8 241.2,71.7 241.6,71.5 241.9,71.4 242.3,71.3 242.7,71.2 243.0,71.0 243.4,70.9 243.7,70.8 244.1,70.7 244.5,70.5 244.8,70.4 245.2,70.3 245.5,70.1 245.9,70.0 246.3,69.8 246.6,69.7 247.0,69.5 247.3,69.4 247.7,69.2 248.1,69.1 248.4,68.9 248.8,68.8 249.1,68.6 249.5,68.5 249.9,68.3 250.2,68.1 250.6,68.0 250.9,67.8 251.3,67.6 251.7,67.5 252.0,67.3 252.4,67.1 252.7,67.0 253.1,66.8 253.5,66.6 253.8,66.4 254.2,66.2 254.5,66.0 254.9,65.8 255.3,65.7 255.6,65.5 256.0,65.3 256.3,65.1 256.7,64.9 257.1,64.7 257.4,64.5 257.8,64.2 258.1,64.0 258.5,63.8 258.9,63.6 259.2,63.4 259.6,63.2 259.9,63.0 260.3,62.7 260.7,62.5 261.0,62.3 261.4,62.0 261.7,61.8 262.1,61.6 262.5,61.3 262.8,61.1 263.2,60.8 263.5,60.6 263.9,60.4 264.3,60.1 264.6,59.8 265.0,59.6 265.3,59.3 265.7,59.1 266.1,58.8 266.4,58.5 266.8,58.3 267.1,58.0 267.5,57.7 267.9,57.4 268.2,57.1 268.6,56.9 268.9,56.6 269.3,56.3 269.7,56.0 270.0,55.7 270.4,55.4 270.7,55.1 271.1,54.8 271.5,54.5 271.8,54.1 272.2,53.8 272.5,53.5 272.9,53.2 273.3,52.8 273.6,52.5 274.0,52.2 274.3,51.8 274.7,51.5 275.1,51.2 275.4,50.8 275.8,50.5 276.1,50.1 276.5,49.7 276.1,56.4 275.8,62.5 275.4,67.9 275.1,72.7 274.7,77.1 274.3,80.9 274.0,84.4 273.6,87.5 273.3,90.2 272.9,92.7 272.5,94.9 272.2,96.9 271.8,98.7 271.5,100.2 271.1,101.7 270.7,103.0 270.4,104.1 270.0,105.1 269.7,106.1 269.3,106.9 268.9,107.7 268.6,108.4 268.2,109.0 267.9,109.6 267.5,110.1 267.1,110.5 266.8,111.0 266.4,111.3 266.1,111.7 265.7,112.0 265.3,112.3 265.0,112.6 264.6,112.9 264.3,113.1 263.9,113.3 263.5,113.5 263.2,113.7 262.8,113.9 262.5,114.1 262.1,114.2 261.7,114.4 261.4,114.5 261.0,114.6 260.7,114.8 260.3,114.9 259.9,115.0 259.6,115.1 259.2,115.2 258.9,115.3 258.5,115.4 258.1,115.5 257.8,115.6 257.4,115.7 257.1,115.8 256.7,115.9 256.3,116.0 256.0,116.1 255.6,116.2 255.3,116.3 254.9,116.3 254.5,116.4 254.2,116.5 253.8,116.6 253.5,116.7 253.1,116.7 252.7,116.8 252.4,116.9 252.0,117.0 251.7,117.0 251.3,117.1 250.9,117.2 250.6,117.2 250.2,117.3 249.9,117.4 249.5,117.5 249.1,117.5 248.8,117.6 248.4,117.7 248.1,117.7 247.7,117.8 247.3,117.9 247.0,117.9 246.6,118.0 246.3,118.0 245.9,118.1 245.5,118.2 245.2,118.2 244.8,118.3 244.5,118.4 244.1,118.4 243.7,118.5 243.4,118.5 243.0,118.6 242.7,118.7 242.3,118.7 241.9,118.8 241.6,118.8 241.2,118.9 240.9,119.0 240.5,119.0 240.1,119.1 239.8,119.1 239.4,119.2 239.1,119.2 238.7,119.3 238.3,119.3 238.0,119.4 237.6,119.4 237.3,119.5 236.9,119.6 236.5,119.6 236.2,119.7 235.8,119.7 235.5,119.8 235.1,119.8 234.7,119.9 234.4,119.9 234.0,120.0 233.7,120.0 233.3,120.1 232.9,120.1 232.6,120.2 232.2,120.2 231.9,120.2 231.5,120.3 231.1,120.3 230.8,120.4 230.4,120.4 230.1,120.5 229.7,120.5 229.3,120.6 229.0,120.6 228.6,120.7 228.3,120.7 227.9,120.7 227.5,120.8 227.2,120.8 226.8,120.9 226.5,120.9 226.1,120.9 225.7,121.0 225.4,121.0 225.0,121.1 224.7,121.1 224.3,121.1 223.9,121.2 223.6,121.2 223.2,121.2 222.9,121.3 222.5,121.3 222.1,121.3 221.8,121.4 221.4,121.4 221.1,121.4 220.7,121.5 220.3,121.5 220.0,121.5 219.6,121.6 219.3,121.6 218.9,121.6 218.5,121.7 218.2,121.7 217.8,121.7 217.5,121.7 217.1,121.8 216.7,121.8 216.4,121.8 216.0,121.8 215.7,121.9 215.3,121.9 214.9,121.9 214.6,121.9 214.2,122.0 213.9,122.0 213.5,122.0 213.1,122.0 212.8,122.1 212.4,122.1 212.1,122.1 211.7,122.1 211.3,122.2 211.0,122.2 210.6,122.2 210.3,122.2 209.9,122.2 209.5,122.3 209.2,122.3 208.8,122.3 208.5,122.3 208.1,122.3 207.7,122.3 207.4,122.4 207.0,122.4 206.7,122.4 206.3,122.4 205.9,122.4 205.6,122.4 205.2,122.5 204.9,122.5 204.5,122.5 204.1,122.5 203.8,122.5 203.4,122.5 203.1,122.5 202.7,122.6 202.3,122.6 202.0,122.6 201.6,122.6 201.3,122.6 200.9,122.6 200.5,122.6 200.2,122.6 199.8,122.6 199.5,122.7 199.1,122.7 198.7,122.7 198.4,122.7 198.0,122.7 197.7,122.7 197.3,122.7 196.9,122.7 196.6,122.7 196.2,122.7 195.9,122.7 195.5,122.7 195.1,122.8 194.8,122.8 194.4,122.8 194.1,122.8 193.7,122.8 193.3,122.8 193.0,122.8 192.6,122.8 192.3,122.8 191.9,122.8 191.5,122.8 191.2,122.8 190.8,122.8 190.5,122.8 190.1,122.8 189.7,122.8 189.4,122.8 189.0,122.8 188.7,122.8 188.3,122.8 187.9,122.9 187.6,122.9 187.2,122.9 186.9,122.9 186.5,122.9 186.1,122.9 185.8,122.9 185.4,122.9 185.1,122.9 184.7,122.9 184.3,122.9 184.0,122.9 183.6,122.9 183.3,122.9 182.9,122.9 182.5,122.9 182.2,122.9 181.8,122.9 181.5,122.9 181.1,122.9 180.7,122.9 180.4,122.9 180.0,122.9 179.7,122.9 179.3,122.9 178.9,122.9 178.6,122.9 178.2,122.9 177.9,122.9 177.5,122.9 177.1,122.9 176.8,122.9 176.4,122.9 176.1,122.9 175.7,122.9 175.3,122.9 175.0,122.9 174.6,122.9 174.3,122.9 173.9,122.9 173.5,122.9 173.2,122.9 172.8,122.9 172.5,122.9 172.1,122.9 171.7,122.9 171.4,122.9 171.0,122.9 170.7,122.9 170.3,122.9 169.9,122.9 169.6,122.9 169.2,122.9 168.9,123.0 168.5,123.0 168.1,123.0 167.8,123.0 167.4,123.0 167.1,123.0 166.7,123.0 166.3,123.0 166.0,123.0 165.6,123.0 165.3,123.0 164.9,123.0 164.5,123.0 164.2,123.1 163.8,123.1 163.5,123.1 163.1,123.1 162.7,123.1 162.4,123.1 162.0,123.1 161.7,123.2 161.3,123.2 160.9,123.2 160.6,123.2 160.2,123.3 159.9,123.3 159.5,123.3 159.1,123.3 158.8,123.4 158.4,123.4 158.1,123.4 157.7,123.5 157.3,123.5 157.0,123.6 156.6,123.6 156.3,123.7 155.9,123.7 155.5,123.8 155.2,123.9 154.8,123.9 154.5,124.0 154.1,124.1 153.7,124.2 153.4,124.3 153.0,124.4 152.7,124.5 152.3,124.6 151.9,124.8 151.6,124.9 151.2,125.0 150.9,125.2 150.5,125.4 150.1,125.5 149.8,125.7 149.4,125.9 149.1,126.1 148.7,126.4 148.3,126.6 148.0,126.9 147.6,127.1 147.3,127.4 146.9,127.7 146.5,128.0 146.2,128.4 145.8,128.7 145.5,129.1 145.1,129.4 144.7,129.8 144.4,130.3 144.0,130.7 143.7,131.2 143.3,131.6 142.9,132.1 142.6,132.6 142.2,133.1 141.9,133.7 141.5,134.3 141.1,134.8 140.8,135.4 140.4,136.0 140.1,136.7 139.7,137.3 139.3,138.0 139.0,138.6 138.6,139.3 138.3,140.0 137.9,140.7 137.5,141.5 137.2,142.2 136.8,142.9 136.5,143.7 136.1,144.4 135.7,145.2 135.4,146.0 135.0,146.7 134.7,147.5 134.3,148.3 133.9,149.1 133.6,149.8 133.2,150.6 132.9,151.4 132.5,152.1 132.1,152.9 131.8,153.6 131.4,154.4 131.1,155.1 130.7,155.8 130.3,156.5 130.0,157.2 129.6,157.9 129.3,158.5 128.9,159.1 128.5,159.7 128.2,160.3 127.8,160.8 127.5,161.4 127.1,161.8 126.7,162.3 126.4,162.7 126.0,163.1 125.7,163.4 125.3,163.7 124.9,164.0 124.6,164.2 124.2,164.4 123.9,164.5 123.5,164.6 123.1,164.7 122.8,164.7 122.4,164.6 122.1,164.5 121.7,164.4 121.3,164.2 121.0,164.0 120.6,163.7 120.3,163.4 119.9,163.1 119.5,162.8 119.2,162.4 118.8,162.0 118.5,161.6 118.1,161.1 117.7,160.7 117.4,160.2 117.0,159.8 116.7,159.3 116.3,158.8 115.9,158.4 115.6,157.9 115.2,157.5 114.9,157.0 114.5,156.6 114.1,156.1 113.8,155.7 113.4,155.3 113.1,154.9 112.7,154.5 112.3,154.1 112.0,153.8 111.6,153.4 111.3,153.1 110.9,152.7 110.5,152.4 110.2,152.1 109.8,151.8 109.5,151.5 109.1,151.2 108.7,150.9 108.4,150.6 108.0,150.4 107.7,150.1 107.3,149.9 106.9,149.6 106.6,149.4 106.2,149.2 105.9,148.9 105.5,148.7 105.1,148.5 104.8,148.3 104.4,148.1 104.1,147.9 103.7,147.8 103.3,147.6 103.0,147.4 102.6,147.2 102.3,147.1 101.9,146.9 101.5,146.8 101.2,146.6 100.8,146.5 100.5,146.3 100.1,146.2 99.7,146.1 99.4,145.9 99.0,145.8 98.7,145.7 98.3,145.6 97.9,145.4 97.6,145.3 97.2,145.2 96.9,145.1 96.5,145.0 96.1,144.9 95.8,144.8 95.4,144.7 95.1,144.6 94.7,144.5 94.3,144.4 94.0,144.3 93.6,144.3 93.3,144.2 92.9,144.1 92.5,144.0 92.2,143.9 91.8,143.9 91.5,143.8 91.1,143.7 90.7,143.6 90.4,143.6 90.0,143.5 89.7,143.4 89.3,143.4 88.9,143.3 88.6,143.2 88.2,143.2 87.9,143.1 87.5,143.1 87.1,143.0 86.8,143.0 86.4,142.9 86.1,142.8 85.7,142.8 85.3,142.7 85.0,142.7 84.6,142.6 84.3,142.6 83.9,142.6 83.5,142.5 83.2,142.5 82.8,142.4 82.5,142.4 82.1,142.3 81.7,142.3 81.4,142.3 81.0,142.2 80.7,142.2 80.3,142.1 79.9,142.1 79.6,142.1 79.2,142.0 78.9,142.0 78.5,142.0 78.1,141.9 77.8,141.9 77.4,141.9 77.1,141.9 76.7,141.8 76.3,141.8 76.0,141.8 75.6,141.8 75.3,141.7 74.9,141.7 74.5,141.7 74.2,141.7 73.8,141.7 73.5,141.7 73.1,141.7 72.7,141.7 72.4,141.7 72.0,141.6 71.7,141.6 71.3,141.6 70.9,141.6 70.6,141.6 70.2,141.6 69.9,141.6 69.5,141.6 69.1,141.6 68.8,141.6 68.4,141.7 68.1,141.7 67.7,141.7 67.3,141.7 67.0,141.7 66.6,141.7 66.3,141.7 65.9,141.7 65.5,141.7 65.2,141.7 64.8,141.8 64.5,141.8 64.1,141.8 63.7,141.8 63.4,141.8 63.0,141.8 62.7,141.9 62.3,141.9 61.9,141.9 61.6,141.9 61.2,141.9 60.9,141.9 60.5,142.0" fill="none" stroke="#ffff00" stroke-width="1.75" stroke-linejoin="round" stroke-linecap="round"/>
<polyline points="60.5,117.2 60.9,115.1 61.2,113.3 61.6,111.6 61.9,110.0 62.3,108.5 62.7,107.2 63.0,105.9 63.4,104.8 63.7,103.8 64.1,102.8 64.5,101.9 64.8,101.1 65.2,100.3 65.5,99.6 65.9,99.0 66.3,98.4 66.6,97.9 67.0,97.3 67.3,96.9 67.7,96.4 68.1,96.0 68.4,95.7 68.8,95.3 69.1,95.0 69.5,94.7 69.9,94.4 70.2,94.2 70.6,93.9 70.9,93.7 71.3,93.5 71.7,93.3 72.0,93.1 72.4,93.0 72.7,92.8 73.1,92.7 73.5,92.5 73.8,92.4 74.2,92.3 74.5,92.2 74.9,92.1 75.3,92.0 75.6,91.9 76.0,91.8 76.3,91.8 76.7,91.7 77.1,91.6 77.4,91.5 77.8,91.5 78.1,91.4 78.5,91.4 78.9,91.3 79.2,91.3 79.6,91.2 79.9,91.2 80.3,91.1 80.7,91.1 81.0,91.0 81.4,91.0 81.7,91.0 82.1,90.9 82.5,90.9 82.8,90.9 83.2,90.8 83.5,90.8 83.9,90.8 84.3,90.7 84.6,90.7 85.0,90.7 85.3,90.7 85.7,90.6 86.1,90.6 86.4,90.6 86.8,90.6 87.1,90.6 87.5,90.5 87.9,90.5 88.2,90.5 88.6,90.5 88.9,90.5 89.3,90.5 89.7,90.4 90.0,90.4 90.4,90.4 90.7,90.4 91.1,90.4 91.5,90.4 91.8,90.4 92.2,90.4 92.5,90.4 92.9,90.4 93.3,90.4 93.6,90.4 94.0,90.4 94.3,90.4 94.7,90.4 95.1,90.4 95.4,90.4 95.8,90.4 96.1,90.4 96.5,90.4 96.9,90.4 97.2,90.4 97.6,90.4 97.9,90.4 98.3,90.5 98.7,90.5 99.0,90.5 99.4,90.5 99.7,90.5 100.1,90.5 100.5,90.5 100.8,90.5 101.2,90.5 101.5,90.6 101.9,90.6 102.3,90.6 102.6,90.6 103.0,90.6 103.3,90.6 103.7,90.6 104.1,90.7 104.4,90.7 104.8,90.7 105.1,90.7 105.5,90.7 105.9,90.7 106.2,90.7 106.6,90.7 106.9,90.8 107.3,90.8 107.7,90.8 108.0,90.8 108.4,90.8 108.7,90.8 109.1,90.8 109.5,90.8 109.8,90.8 110.2,90.8 110.5,90.8 110.9,90.8 111.3,90.8 111.6,90.8 112.0,90.8 112.3,90.8 112.7,90.8 113.1,90.8 113.4,90.8 113.8,90.8 114.1,90.8 114.5,90.8 114.9,90.7 115.2,90.7 115.6,90.7 115.9,90.6 116.3,90.6 116.7,90.6 117.0,90.5 117.4,90.5 117.7,90.4 118.1,90.3 118.5,90.3 118.8,90.2 119.2,90.1 119.5,90.0 119.9,89.9 120.3,89.8 120.6,89.7 121.0,89.6 121.3,89.4 121.7,89.3 122.1,89.1 122.4,89.0 122.8,88.8 123.1,88.6 123.5,88.4 123.9,88.1 124.2,87.9 124.6,87.6 124.9,87.4 125.3,87.1 125.7,86.8 126.0,86.4 126.4,86.1 126.7,85.8 127.1,85.4 127.5,85.0 127.8,84.6 128.2,84.1 128.5,83.7 128.9,83.2 129.3,82.7 129.6,82.2 130.0,81.7 130.3,81.2 130.7,80.6 131.1,80.0 131.4,79.4 131.8,78.8 132.1,78.2 132.5,77.5 132.9,76.8 133.2,76.2 133.6,75.5 133.9,74.8 134.3,74.0 134.7,73.3 135.0,72.6 135.4,71.8 135.7,71.0 136.1,70.3 136.5,69.5 136.8,68.7 137.2,67.9 137.5,67.1 137.9,66.3 138.3,65.5 138.6,64.7 139.0,63.9 139.3,63.1 139.7,62.3 140.1,61.5 140.4,60.7 140.8,60.0 141.1,59.2 141.5,58.4 141.9,57.7 142.2,57.0 142.6,56.3 142.9,55.6 143.3,54.9 143.7,54.2 144.0,53.6 144.4,53.0 144.7,52.4 145.1,51.9 145.5,51.4 145.8,50.9 146.2,50.4 146.5,50.0 146.9,49.7 147.3,49.3 147.6,49.0 148.0,48.8 148.3,48.6 148.7,48.4 149.1,48.3 149.4,48.3 149.8,48.2 150.1,48.3 150.5,48.4 150.9,48.5 151.2,48.6 151.6,48.9 151.9,49.1 152.3,49.4 152.7,49.7 153.0,50.1 153.4,50.4 153.7,50.8 154.1,51.3 154.5,51.7 154.8,52.1 155.2,52.6 155.5,53.1 155.9,53.5 156.3,54.0 156.6,54.5 157.0,54.9 157.3,55.4 157.7,55.8 158.1,56.3 158.4,56.7 158.8,57.1 159.1,57.5 159.5,57.9 159.9,58.3 160.2,58.7 160.6,59.1 160.9,59.4 161.3,59.8 161.7,60.1 162.0,60.4 162.4,60.7 162.7,61.0 163.1,61.3 163.5,61.6 163.8,61.9 164.2,62.1 164.5,62.4 164.9,62.6 165.3,62.9 165.6,63.1 166.0,63.4 166.3,63.6 166.7,63.8 167.1,64.0 167.4,64.2 167.8,64.5 168.1,64.7 168.5,64.9 168.9,65.1 169.2,65.3 169.6,65.5 169.9,65.7 170.3,65.8 170.7,66.0 171.0,66.2 171.4,66.4 171.7,66.5 172.1,66.7 172.5,66.9 172.8,67.0 173.2,67.2 173.5,67.3 173.9,67.4 174.3,67.6 174.6,67.7 175.0,67.9 175.3,68.0 175.7,68.1 176.1,68.2 176.4,68.4 176.8,68.5 177.1,68.6 177.5,68.7 177.9,68.8 178.2,68.9 178.6,69.0 178.9,69.2 179.3,69.3 179.7,69.4 180.0,69.5 180.4,69.6 180.7,69.6 181.1,69.7 181.5,69.8 181.8,69.9 182.2,70.0 182.5,70.1 182.9,70.2 183.3,70.3 183.6,70.3 184.0,70.4 184.3,70.5 184.7,70.6 185.1,70.6 185.4,70.7 185.8,70.8 186.1,70.9 186.5,70.9 186.9,71.0 187.2,71.1 187.6,71.1 187.9,71.2 188.3,71.3 188.7,71.3 189.0,71.4 189.4,71.4 189.7,71.5 190.1,71.5 190.5,71.6 190.8,71.6 191.2,71.7 191.5,71.8 191.9,71.8 192.3,71.8 192.6,71.9 193.0,71.9 193.3,72.0 193.7,72.0 194.1,72.1 194.4,72.1 194.8,72.2 195.1,72.2 195.5,72.2 195.9,72.3 196.2,72.3 196.6,72.3 196.9,72.4 197.3,72.4 197.7,72.4 198.0,72.5 198.4,72.5 198.7,72.5 199.1,72.5 199.5,72.6 199.8,72.6 200.2,72.6 200.5,72.6 200.9,72.7 201.3,72.7 201.6,72.7 202.0,72.7 202.3,72.7 202.7,72.8 203.1,72.8 203.4,72.8 203.8,72.8 204.1,72.8 204.5,72.8 204.9,72.8 205.2,72.8 205.6,72.9 205.9,72.9 206.3,72.9 206.7,72.9 207.0,72.9 207.4,72.9 207.7,72.9 208.1,72.9 208.5,72.9 208.8,72.9 209.2,72.9 209.5,72.9 209.9,72.9 210.3,72.9 210.6,72.9 211.0,72.8 211.3,72.8 211.7,72.8 212.1,72.8 212.4,72.8 212.8,72.8 213.1,72.8 213.5,72.8 213.9,72.7 214.2,72.7 214.6,72.7 214.9,72.7 215.3,72.7 215.7,72.6 216.0,72.6 216.4,72.6 216.7,72.6 217.1,72.5 217.5,72.5 217.8,72.5 218.2,72.4 218.5,72.4 218.9,72.4 219.3,72.3 219.6,72.3 220.0,72.3 220.3,72.2 220.7,72.2 221.1,72.2 221.4,72.1 221.8,72.1 222.1,72.0 222.5,72.0 222.9,71.9 223.2,71.9 223.6,71.8 223.9,71.8 224.3,71.7 224.7,71.7 225.0,71.6 225.4,71.6 225.7,71.5 226.1,71.4 226.5,71.4 226.8,71.3 227.2,71.3 227.5,71.2 227.9,71.1 228.3,71.1 228.6,71.0 229.0,70.9 229.3,70.8 229.7,70.8 230.1,70.7 230.4,70.6 230.8,70.5 231.1,70.5 231.5,70.4 231.9,70.3 232.2,70.2 232.6,70.1 232.9,70.0 233.3,69.9 233.7,69.8 234.0,69.8 234.4,69.7 234.7,69.6 235.1,69.5 235.5,69.4 235.8,69.3 236.2,69.2 236.5,69.1 236.9,69.0 237.3,68.8 237.6,68.7 238.0,68.6 238.3,68.5 238.7,68.4 239.1,68.3 239.4,68.2 239.8,68.0 240.1,67.9 240.5,67.8 240.9,67.7 241.2,67.5 241.6,67.4 241.9,67.3 242.3,67.2 242.7,67.0 243.0,66.9 243.4,66.7 243.7,66.6 244.1,66.5 244.5,66.3 244.8,66.2 245.2,66.0 245.5,65.9 245.9,65.7 246.3,65.6 246.6,65.4 247.0,65.3 247.3,65.1 247.7,64.9 248.1,64.8 248.4,64.6 248.8,64.4 249.1,64.3 249.5,64.1 249.9,63.9 250.2,63.8 250.6,63.6 250.9,63.4 251.3,63.2 251.7,63.0 252.0,62.9 252.4,62.7 252.7,62.5 253.1,62.3 253.5,62.1 253.8,61.9 254.2,61.7 254.5,61.5 254.9,61.3 255.3,61.1 255.6,60.9 256.0,60.7 256.3,60.4 256.7,60.2 257.1,60.0 257.4,59.8 257.8,59.6 258.1,59.3 258.5,59.1 258.9,58.9 259.2,58.7 259.6,58.4 259.9,58.2 260.3,57.9 260.7,57.7 261.0,57.5 261.4,57.2 261.7,57.0 262.1,56.7 262.5,56.4 262.8,56.2 263.2,55.9 263.5,55.7 263.9,55.4 264.3,55.1 264.6,54.9 265.0,54.6 265.3,54.3 265.7,54.0 266.1,53.7 266.4,53.4 266.8,53.2 267.1,52.9 267.5,52.6 267.9,52.3 268.2,52.0 268.6,51.7 268.9,51.4 269.3,51.0 269.7,50.7 270.0,50.4 270.4,50.1 270.7,49.8 271.1,49.4 271.5,49.1 271.8,48.8 272.2,48.4 272.5,48.1 272.9,47.8 273.3,47.4 273.6,47.1 274.0,46.7 274.3,46.4 274.7,46.0 275.1,45.6 275.4,45.3 275.8,44.9 276.1,44.5 276.5,44.1 276.1,50.2 275.8,55.9 275.4,61.1 275.1,65.8 274.7,70.1 274.3,74.1 274.0,77.6 273.6,80.9 273.3,83.9 272.9,86.6 272.5,89.1 272.2,91.4 271.8,93.4 271.5,95.3 271.1,97.1 270.7,98.7 270.4,100.1 270.0,101.4 269.7,102.7 269.3,103.8 268.9,104.8 268.6,105.7 268.2,106.6 267.9,107.4 267.5,108.1 267.1,108.8 266.8,109.4 266.4,110.0 266.1,110.6 265.7,111.1 265.3,111.5 265.0,111.9 264.6,112.3 264.3,112.7 263.9,113.1 263.5,113.4 263.2,113.7 262.8,114.0 262.5,114.2 262.1,114.5 261.7,114.7 261.4,114.9 261.0,115.1 260.7,115.4 260.3,115.5 259.9,115.7 259.6,115.9 259.2,116.1 258.9,116.2 258.5,116.4 258.1,116.5 257.8,116.7 257.4,116.8 257.1,116.9 256.7,117.1 256.3,117.2 256.0,117.3 255.6,117.4 255.3,117.5 254.9,117.7 254.5,117.8 254.2,117.9 253.8,118.0 253.5,118.1 253.1,118.2 252.7,118.3 252.4,118.4 252.0,118.5 251.7,118.6 251.3,118.7 250.9,118.7 250.6,118.8 250.2,118.9 249.9,119.0 249.5,119.1 249.1,119.2 248.8,119.3 248.4,119.4 248.1,119.4 247.7,119.5 247.3,119.6 247.0,119.7 246.6,119.8 246.3,119.8 245.9,119.9 245.5,120.0 245.2,120.1 244.8,120.1 244.5,120.2 244.1,120.3 243.7,120.4 243.4,120.4 243.0,120.5 242.7,120.6 242.3,120.6 241.9,120.7 241.6,120.8 241.2,120.8 240.9,120.9 240.5,121.0 240.1,121.0 239.8,121.1 239.4,121.2 239.1,121.2 238.7,121.3 238.3,121.4 238.0,121.4 237.6,121.5 237.3,121.6 236.9,121.6 236.5,121.7 236.2,121.7 235.8,121.8 235.5,121.8 235.1,121.9 234.7,122.0 234.4,122.0 234.0,122.1 233.7,122.1 233.3,122.2 232.9,122.2 232.6,122.3 232.2,122.3 231.9,122.4 231.5,122.4 231.1,122.5 230.8,122.5 230.4,122.6 230.1,122.6 229.7,122.7 229.3,122.7 229.0,122.8 228.6,122.8 228.3,122.9 227.9,122.9 227.5,123.0 227.2,123.0 226.8,123.1 226.5,123.1 226.1,123.1 225.7,123.2 225.4,123.2 225.0,123.3 224.7,123.3 224.3,123.3 223.9,123.4 223.6,123.4 223.2,123.5 222.9,123.5 222.5,123.5 222.1,123.6 221.8,123.6 221.4,123.6 221.1,123.7 220.7,123.7 220.3,123.7 220.0,123.8 219.6,123.8 219.3,123.8 218.9,123.9 218.5,123.9 218.2,123.9 217.8,124.0 217.5,124.0 217.1,124.0 216.7,124.1 216.4,124.1 216.0,124.1 215.7,124.1 215.3,124.2 214.9,124.2 214.6,124.2 214.2,124.2 213.9,124.3 213.5,124.3 213.1,124.3 212.8,124.3 212.4,124.4 212.1,124.4 211.7,124.4 211.3,124.4 211.0,124.4 210.6,124.5 210.3,124.5 209.9,124.5 209.5,124.5 209.2,124.6 208.8,124.6 208.5,124.6 208.1,124.6 207.7,124.6 207.4,124.6 207.0,124.7 206.7,124.7 206.3,124.7 205.9,124.7 205.6,124.7 205.2,124.7 204.9,124.8 204.5,124.8 204.1,124.8 203.8,124.8 203.4,124.8 203.1,124.8 202.7,124.8 202.3,124.8 202.0,124.9 201.6,124.9 201.3,124.9 200.9,124.9 200.5,124.9 200.2,124.9 199.8,124.9 199.5,124.9 199.1,124.9 198.7,124.9 198.4,125.0 198.0,125.0 197.7,125.0 197.3,125.0 196.9,125.0 196.6,125.0 196.2,125.0 195.9,125.0 195.5,125.0 195.1,125.0 194.8,125.0 194.4,125.0 194.1,125.0 193.7,125.0 193.3,125.0 193.0,125.0 192.6,125.0 192.3,125.1 191.9,125.1 191.5,125.1 191.2,125.1 190.8,125.1 190.5,125.1 190.1,125.1 189.7,125.1 189.4,125.1 189.0,125.1 188.7,125.1 188.3,125.1 187.9,125.1 187.6,125.1 187.2,125.1 186.9,125.1 186.5,125.1 186.1,125.1 185.8,125.1 185.4,125.1 185.1,125.1 184.7,125.1 184.3,125.1 184.0,125.1 183.6,125.1 183.3,125.1 182.9,125.1 182.5,125.1 182.2,125.1 181.8,125.1 181.5,125.1 181.1,125.1 180.7,125.1 180.4,125.1 180.0,125.1 179.7,125.1 179.3,125.1 178.9,125.1 178.6,125.1 178.2,125.1 177.9,125.1 177.5,125.1 177.1,125.1 176.8,125.1 176.4,125.1 176.1,125.1 175.7,125.1 175.3,125.1 175.0,125.1 174.6,125.1 174.3,125.1 173.9,125.1 173.5,125.1 173.2,125.1 172.8,125.1 172.5,125.1 172.1,125.1 171.7,125.1 171.4,125.1 171.0,125.1 170.7,125.1 170.3,125.1 169.9,125.1 169.6,125.1 169.2,125.1 168.9,125.1 168.5,125.1 168.1,125.1 167.8,125.1 167.4,125.1 167.1,125.1 166.7,125.1 166.3,125.1 166.0,125.1 165.6,125.1 165.3,125.1 164.9,125.1 164.5,125.1 164.2,125.2 163.8,125.2 163.5,125.2 163.1,125.2 162.7,125.2 162.4,125.2 162.0,125.2 161.7,125.3 161.3,125.3 160.9,125.3 160.6,125.3 160.2,125.4 159.9,125.4 159.5,125.4 159.1,125.4 158.8,125.5 158.4,125.5 158.1,125.6 157.7,125.6 157.3,125.6 157.0,125.7 156.6,125.7 156.3,125.8 155.9,125.9 155.5,125.9 155.2,126.0 154.8,126.1 154.5,126.2 154.1,126.2 153.7,126.3 153.4,126.4 153.0,126.6 152.7,126.7 152.3,126.8 151.9,126.9 151.6,127.1 151.2,127.2 150.9,127.4 150.5,127.6 150.1,127.7 149.8,127.9 149.4,128.2 149.1,128.4 148.7,128.6 148.3,128.9 148.0,129.1 147.6,129.4 147.3,129.7 146.9,130.0 146.5,130.3 146.2,130.7 145.8,131.0 145.5,131.4 145.1,131.8 144.7,132.2 144.4,132.7 144.0,133.1 143.7,133.6 143.3,134.1 142.9,134.6 142.6,135.1 142.2,135.7 141.9,136.2 141.5,136.8 141.1,137.4 140.8,138.0 140.4,138.7 140.1,139.3 139.7,140.0 139.3,140.7 139.0,141.4 138.6,142.1 138.3,142.8 137.9,143.6 137.5,144.3 137.2,145.1 136.8,145.8 136.5,146.6 136.1,147.4 135.7,148.2 135.4,149.0 135.0,149.8 134.7,150.7 134.3,151.5 133.9,152.3 133.6,153.1 133.2,154.0 132.9,154.8 132.5,155.6 132.1,156.4 131.8,157.2 131.4,158.0 131.1,158.8 130.7,159.6 130.3,160.3 130.0,161.1 129.6,161.8 129.3,162.5 128.9,163.2 128.5,163.9 128.2,164.6 127.8,165.2 127.5,165.8 127.1,166.4 126.7,166.9 126.4,167.5 126.0,167.9 125.7,168.4 125.3,168.8 124.9,169.2 124.6,169.5 124.2,169.8 123.9,170.0 123.5,170.2 123.1,170.3 122.8,170.4 122.4,170.5 122.1,170.5 121.7,170.4 121.3,170.3 121.0,170.2 120.6,170.0 120.3,169.8 119.9,169.5 119.5,169.2 119.2,168.8 118.8,168.5 118.5,168.1 118.1,167.6 117.7,167.2 117.4,166.7 117.0,166.2 116.7,165.7 116.3,165.3 115.9,164.8 115.6,164.3 115.2,163.8 114.9,163.3 114.5,162.8 114.1,162.3 113.8,161.8 113.4,161.4 113.1,160.9 112.7,160.5 112.3,160.1 112.0,159.6 111.6,159.2 111.3,158.9 110.9,158.5 110.5,158.1 110.2,157.7 109.8,157.4 109.5,157.1 109.1,156.7 108.7,156.4 108.4,156.1 108.0,155.8 107.7,155.5 107.3,155.3 106.9,155.0 106.6,154.7 106.2,154.5 105.9,154.2 105.5,154.0 105.1,153.8 104.8,153.6 104.4,153.3 104.1,153.1 103.7,152.9 103.3,152.7 103.0,152.5 102.6,152.4 102.3,152.2 101.9,152.0 101.5,151.8 101.2,151.7 100.8,151.5 100.5,151.4 100.1,151.2 99.7,151.1 99.4,150.9 99.0,150.8 98.7,150.6 98.3,150.5 97.9,150.4 97.6,150.2 97.2,150.1 96.9,150.0 96.5,149.9 96.1,149.8 95.8,149.7 95.4,149.6 95.1,149.4 94.7,149.3 94.3,149.2 94.0,149.1 93.6,149.0 93.3,148.9 92.9,148.8 92.5,148.7 92.2,148.6 91.8,148.5 91.5,148.5 91.1,148.4 90.7,148.3 90.4,148.2 90.0,148.1 89.7,148.0 89.3,147.9 88.9,147.9 88.6,147.8 88.2,147.7 87.9,147.6 87.5,147.6 87.1,147.5 86.8,147.4 86.4,147.3 86.1,147.3 85.7,147.2 85.3,147.1 85.0,147.1 84.6,147.0 84.3,147.0 83.9,146.9 83.5,146.8 83.2,146.8 82.8,146.7 82.5,146.7 82.1,146.6 81.7,146.6 81.4,146.5 81.0,146.5 80.7,146.4 80.3,146.4 79.9,146.3 79.6,146.3 79.2,146.3 78.9,146.2 78.5,146.2 78.1,146.2 77.8,146.1 77.4,146.1 77.1,146.1 76.7,146.0 76.3,146.0 76.0,146.0 75.6,146.0 75.3,145.9 74.9,145.9 74.5,145.9 74.2,145.9 73.8,145.9 73.5,145.9 73.1,145.9 72.7,145.8 72.4,145.8 72.0,145.8 71.7,145.8 71.3,145.8 70.9,145.8 70.6,145.8 70.2,145.8 69.9,145.8 69.5,145.8 69.1,145.8 68.8,145.8 68.4,145.8 68.1,145.8 67.7,145.8 67.3,145.8 67.0,145.9 66.6,145.9 66.3,145.9 65.9,145.9 65.5,145.9 65.2,145.9 64.8,145.9 64.5,146.0 64.1,146.0 63.7,146.0 63.4,146.0 63.0,146.0 62.7,146.1 62.3,146.1 61.9,146.1 61.6,146.1 61.2,146.1 60.9,146.2 60.5,146.2" fill="none" stroke="#808000" stroke-width="1.75" stroke-linejoin="round" stroke-linecap="round"/>
<polyline points="60.5,117.2 60.9,115.0 61.2,112.9 61.6,111.1 61.9,109.3 62.3,107.7 62.7,106.3 63.0,104.9 63.4,103.7 63.7,102.6 64.1,101.5 64.5,100.5 64.8,99.6 65.2,98.8 65.5,98.1 65.9,97.4 66.3,96.7 66.6,96.1 67.0,95.6 67.3,95.1 67.7,94.6 68.1,94.2 68.4,93.8 68.8,93.4 69.1,93.0 69.5,92.7 69.9,92.4 70.2,92.1 70.6,91.9 70.9,91.6 71.3,91.4 71.7,91.2 72.0,91.0 72.4,90.8 72.7,90.6 73.1,90.5 73.5,90.3 73.8,90.2 74.2,90.1 74.5,90.0 74.9,89.9 75.3,89.7 75.6,89.7 76.0,89.6 76.3,89.5 76.7,89.4 77.1,89.3 77.4,89.2 77.8,89.2 78.1,89.1 78.5,89.1 78.9,89.0 79.2,88.9 79.6,88.9 79.9,88.8 80.3,88.8 80.7,88.7 81.0,88.7 81.4,88.7 81.7,88.6 82.1,88.6 82.5,88.5 82.8,88.5 83.2,88.5 83.5,88.4 83.9,88.4 84.3,88.4 84.6,88.3 85.0,88.3 85.3,88.3 85.7,88.3 86.1,88.2 86.4,88.2 86.8,88.2 87.1,88.2 87.5,88.2 87.9,88.1 88.2,88.1 88.6,88.1 88.9,88.1 89.3,88.1 89.7,88.0 90.0,88.0 90.4,88.0 90.7,88.0 91.1,88.0 91.5,88.0 91.8,88.0 92.2,88.0 92.5,88.0 92.9,88.0 93.3,88.0 93.6,88.0 94.0,88.0 94.3,88.0 94.7,88.0 95.1,88.0 95.4,88.0 95.8,88.0 96.1,88.0 96.5,88.0 96.9,88.0 97.2,88.0 97.6,88.0 97.9,88.0 98.3,88.1 98.7,88.1 99.0,88.1 99.4,88.1 99.7,88.1 100.1,88.1 100.5,88.1 100.8,88.1 101.2,88.2 101.5,88.2 101.9,88.2 102.3,88.2 102.6,88.2 103.0,88.2 103.3,88.2 103.7,88.3 104.1,88.3 104.4,88.3 104.8,88.3 105.1,88.3 105.5,88.3 105.9,88.3 106.2,88.3 106.6,88.3 106.9,88.4 107.3,88.4 107.7,88.4 108.0,88.4 108.4,88.4 108.7,88.4 109.1,88.4 109.5,88.4 109.8,88.4 110.2,88.4 110.5,88.4 110.9,88.4 111.3,88.4 111.6,88.4 112.0,88.4 112.3,88.4 112.7,88.4 113.1,88.4 113.4,88.4 113.8,88.4 114.1,88.3 114.5,88.3 114.9,88.3 115.2,88.3 115.6,88.2 115.9,88.2 116.3,88.2 116.7,88.1 117.0,88.1 117.4,88.0 117.7,88.0 118.1,87.9 118.5,87.8 118.8,87.7 119.2,87.6 119.5,87.5 119.9,87.4 120.3,87.3 120.6,87.2 121.0,87.1 121.3,86.9 121.7,86.8 122.1,86.6 122.4,86.4 122.8,86.2 123.1,86.0 123.5,85.8 123.9,85.6 124.2,85.3 124.6,85.1 124.9,84.8 125.3,84.5 125.7,84.2 126.0,83.8 126.4,83.5 126.7,83.1 127.1,82.7 127.5,82.3 127.8,81.9 128.2,81.5 128.5,81.0 128.9,80.5 129.3,80.0 129.6,79.5 130.0,79.0 130.3,78.4 130.7,77.8 131.1,77.2 131.4,76.6 131.8,76.0 132.1,75.3 132.5,74.6 132.9,74.0 133.2,73.3 133.6,72.5 133.9,71.8 134.3,71.1 134.7,70.3 135.0,69.5 135.4,68.7 135.7,68.0 136.1,67.1 136.5,66.3 136.8,65.5 137.2,64.7 137.5,63.9 137.9,63.0 138.3,62.2 138.6,61.3 139.0,60.5 139.3,59.6 139.7,58.8 140.1,58.0 140.4,57.1 140.8,56.3 141.1,55.5 141.5,54.7 141.9,53.9 142.2,53.1 142.6,52.3 142.9,51.6 143.3,50.8 143.7,50.1 144.0,49.4 144.4,48.7 144.7,48.0 145.1,47.4 145.5,46.8 145.8,46.2 146.2,45.7 146.5,45.2 146.9,44.7 147.3,44.3 147.6,43.9 148.0,43.6 148.3,43.3 148.7,43.0 149.1,42.8 149.4,42.6 149.8,42.5 150.1,42.5 150.5,42.4 150.9,42.5 151.2,42.6 151.6,42.7 151.9,42.9 152.3,43.1 152.7,43.3 153.0,43.6 153.4,43.9 153.7,44.3 154.1,44.7 154.5,45.1 154.8,45.5 155.2,46.0 155.5,46.4 155.9,46.9 156.3,47.4 156.6,47.9 157.0,48.4 157.3,48.8 157.7,49.3 158.1,49.8 158.4,50.2 158.8,50.7 159.1,51.1 159.5,51.6 159.9,52.0 160.2,52.4 160.6,52.8 160.9,53.1 161.3,53.5 161.7,53.9 162.0,54.2 162.4,54.5 162.7,54.9 163.1,55.2 163.5,55.5 163.8,55.8 164.2,56.1 164.5,56.3 164.9,56.6 165.3,56.9 165.6,57.1 166.0,57.4 166.3,57.6 166.7,57.9 167.1,58.1 167.4,58.4 167.8,58.6 168.1,58.8 168.5,59.1 168.9,59.3 169.2,59.5 169.6,59.7 169.9,60.0 170.3,60.2 170.7,60.4 171.0,60.6 171.4,60.8 171.7,61.0 172.1,61.1 172.5,61.3 172.8,61.5 173.2,61.7 173.5,61.8 173.9,62.0 174.3,62.1 174.6,62.3 175.0,62.5 175.3,62.6 175.7,62.8 176.1,62.9 176.4,63.0 176.8,63.2 177.1,63.3 177.5,63.4 177.9,63.6 178.2,63.7 178.6,63.8 178.9,63.9 179.3,64.1 179.7,64.2 180.0,64.3 180.4,64.4 180.7,64.5 181.1,64.6 181.5,64.7 181.8,64.8 182.2,64.9 182.5,65.0 182.9,65.1 183.3,65.2 183.6,65.3 184.0,65.4 184.3,65.5 184.7,65.6 185.1,65.7 185.4,65.8 185.8,65.8 186.1,65.9 186.5,66.0 186.9,66.1 187.2,66.2 187.6,66.2 187.9,66.3 188.3,66.4 188.7,66.5 189.0,66.5 189.4,66.6 189.7,66.7 190.1,66.7 190.5,66.8 190.8,66.9 191.2,66.9 191.5,67.0 191.9,67.1 192.3,67.1 192.6,67.2 193.0,67.2 193.3,67.3 193.7,67.3 194.1,67.4 194.4,67.5 194.8,67.5 195.1,67.6 195.5,67.6 195.9,67.6 196.2,67.7 196.6,67.7 196.9,67.8 197.3,67.8 197.7,67.9 198.0,67.9 198.4,67.9 198.7,68.0 199.1,68.0 199.5,68.1 199.8,68.1 200.2,68.1 200.5,68.2 200.9,68.2 201.3,68.2 201.6,68.2 202.0,68.3 202.3,68.3 202.7,68.3 203.1,68.4 203.4,68.4 203.8,68.4 204.1,68.4 204.5,68.4 204.9,68.5 205.2,68.5 205.6,68.5 205.9,68.5 206.3,68.5 206.7,68.5 207.0,68.5 207.4,68.6 207.7,68.6 208.1,68.6 208.5,68.6 208.8,68.6 209.2,68.6 209.5,68.6 209.9,68.6 210.3,68.6 210.6,68.6 211.0,68.6 211.3,68.6 211.7,68.6 212.1,68.6 212.4,68.6 212.8,68.6 213.1,68.6 213.5,68.6 213.9,68.5 214.2,68.5 214.6,68.5 214.9,68.5 215.3,68.5 215.7,68.5 216.0,68.4 216.4,68.4 216.7,68.4 217.1,68.4 217.5,68.4 217.8,68.3 218.2,68.3 218.5,68.3 218.9,68.2 219.3,68.2 219.6,68.2 220.0,68.1 220.3,68.1 220.7,68.1 221.1,68.0 221.4,68.0 221.8,68.0 222.1,67.9 222.5,67.9 222.9,67.8 223.2,67.8 223.6,67.7 223.9,67.7 224.3,67.6 224.7,67.6 225.0,67.5 225.4,67.5 225.7,67.4 226.1,67.4 226.5,67.3 226.8,67.2 227.2,67.2 227.5,67.1 227.9,67.0 228.3,67.0 228.6,66.9 229.0,66.8 229.3,66.7 229.7,66.7 230.1,66.6 230.4,66.5 230.8,66.4 231.1,66.4 231.5,66.3 231.9,66.2 232.2,66.1 232.6,66.0 232.9,65.9 233.3,65.8 233.7,65.7 234.0,65.6 234.4,65.5 234.7,65.4 235.1,65.3 235.5,65.2 235.8,65.1 236.2,65.0 236.5,64.9 236.9,64.8 237.3,64.7 237.6,64.6 238.0,64.5 238.3,64.4 238.7,64.3 239.1,64.1 239.4,64.0 239.8,63.9 240.1,63.8 240.5,63.6 240.9,63.5 241.2,63.4 241.6,63.3 241.9,63.1 242.3,63.0 242.7,62.9 243.0,62.7 243.4,62.6 243.7,62.4 244.1,62.3 244.5,62.1 244.8,62.0 245.2,61.8 245.5,61.7 245.9,61.5 246.3,61.4 246.6,61.2 247.0,61.1 247.3,60.9 247.7,60.7 248.1,60.6 248.4,60.4 248.8,60.2 249.1,60.0 249.5,59.9 249.9,59.7 250.2,59.5 250.6,59.3 250.9,59.1 251.3,59.0 251.7,58.8 252.0,58.6 252.4,58.4 252.7,58.2 253.1,58.0 253.5,57.8 253.8,57.6 254.2,57.4 254.5,57.2 254.9,57.0 255.3,56.7 255.6,56.5 256.0,56.3 256.3,56.1 256.7,55.9 257.1,55.6 257.4,55.4 257.8,55.2 258.1,55.0 258.5,54.7 258.9,54.5 259.2,54.2 259.6,54.0 259.9,53.7 260.3,53.5 260.7,53.2 261.0,53.0 261.4,52.7 261.7,52.5 262.1,52.2 262.5,51.9 262.8,51.7 263.2,51.4 263.5,51.1 263.9,50.9 264.3,50.6 264.6,50.3 265.0,50.0 265.3,49.7 265.7,49.4 266.1,49.1 266.4,48.8 266.8,48.5 267.1,48.2 267.5,47.9 267.9,47.6 268.2,47.3 268.6,47.0 268.9,46.7 269.3,46.3 269.7,46.0 270.0,45.7 270.4,45.3 270.7,45.0 271.1,44.7 271.5,44.3 271.8,44.0 272.2,43.6 272.5,43.3 272.9,42.9 273.3,42.5 273.6,42.2 274.0,41.8 274.3,41.4 274.7,41.1 275.1,40.7 275.4,40.3 275.8,39.9 276.1,39.5 276.5,39.1 276.1,44.7 275.8,50.1 275.4,55.0 275.1,59.6 274.7,63.9 274.3,67.8 274.0,71.4 273.6,74.8 273.3,77.9 272.9,80.8 272.5,83.5 272.2,86.0 271.8,88.3 271.5,90.4 271.1,92.4 270.7,94.2 270.4,95.9 270.0,97.5 269.7,98.9 269.3,100.3 268.9,101.5 268.6,102.7 268.2,103.8 267.9,104.8 267.5,105.8 267.1,106.7 266.8,107.5 266.4,108.3 266.1,109.0 265.7,109.7 265.3,110.3 265.0,110.9 264.6,111.5 264.3,112.0 263.9,112.5 263.5,112.9 263.2,113.4 262.8,113.8 262.5,114.1 262.1,114.5 261.7,114.9 261.4,115.2 261.0,115.5 260.7,115.8 260.3,116.1 259.9,116.3 259.6,116.6 259.2,116.8 258.9,117.0 258.5,117.3 258.1,117.5 257.8,117.7 257.4,117.9 257.1,118.1 256.7,118.2 256.3,118.4 256.0,118.6 255.6,118.7 255.3,118.9 254.9,119.1 254.5,119.2 254.2,119.3 253.8,119.5 253.5,119.6 253.1,119.8 252.7,119.9 252.4,120.0 252.0,120.1 251.7,120.3 251.3,120.4 250.9,120.5 250.6,120.6 250.2,120.7 249.9,120.8 249.5,120.9 249.1,121.0 248.8,121.1 248.4,121.2 248.1,121.3 247.7,121.4 247.3,121.5 247.0,121.6 246.6,121.7 246.3,121.8 245.9,121.9 245.5,122.0 245.2,122.1 244.8,122.2 244.5,122.3 244.1,122.4 243.7,122.4 243.4,122.5 243.0,122.6 242.7,122.7 242.3,122.8 241.9,122.9 241.6,122.9 241.2,123.0 240.9,123.1 240.5,123.2 240.1,123.2 239.8,123.3 239.4,123.4 239.1,123.5 238.7,123.5 238.3,123.6 238.0,123.7 237.6,123.7 237.3,123.8 236.9,123.9 236.5,123.9 236.2,124.0 235.8,124.1 235.5,124.1 235.1,124.2 234.7,124.3 234.4,124.3 234.0,124.4 233.7,124.5 233.3,124.5 232.9,124.6 232.6,124.6 232.2,124.7 231.9,124.7 231.5,124.8 231.1,124.9 230.8,124.9 230.4,125.0 230.1,125.0 229.7,125.1 229.3,125.1 229.0,125.2 228.6,125.2 228.3,125.3 227.9,125.3 227.5,125.4 227.2,125.4 226.8,125.5 226.5,125.5 226.1,125.6 225.7,125.6 225.4,125.6 225.0,125.7 224.7,125.7 224.3,125.8 223.9,125.8 223.6,125.9 223.2,125.9 222.9,125.9 222.5,126.0 222.1,126.0 221.8,126.1 221.4,126.1 221.1,126.1 220.7,126.2 220.3,126.2 220.0,126.3 219.6,126.3 219.3,126.3 218.9,126.4 218.5,126.4 218.2,126.4 217.8,126.5 217.5,126.5 217.1,126.5 216.7,126.6 216.4,126.6 216.0,126.6 215.7,126.7 215.3,126.7 214.9,126.7 214.6,126.7 214.2,126.8 213.9,126.8 213.5,126.8 213.1,126.9 212.8,126.9 212.4,126.9 212.1,126.9 211.7,127.0 211.3,127.0 211.0,127.0 210.6,127.0 210.3,127.1 209.9,127.1 209.5,127.1 209.2,127.1 208.8,127.1 208.5,127.2 208.1,127.2 207.7,127.2 207.4,127.2 207.0,127.3 206.7,127.3 206.3,127.3 205.9,127.3 205.6,127.3 205.2,127.3 204.9,127.4 204.5,127.4 204.1,127.4 203.8,127.4 203.4,127.4 203.1,127.4 202.7,127.5 202.3,127.5 202.0,127.5 201.6,127.5 201.3,127.5 200.9,127.5 200.5,127.5 200.2,127.5 199.8,127.6 199.5,127.6 199.1,127.6 198.7,127.6 198.4,127.6 198.0,127.6 197.7,127.6 197.3,127.6 196.9,127.6 196.6,127.7 196.2,127.7 195.9,127.7 195.5,127.7 195.1,127.7 194.8,127.7 194.4,127.7 194.1,127.7 193.7,127.7 193.3,127.7 193.0,127.7 192.6,127.7 192.3,127.7 191.9,127.7 191.5,127.7 191.2,127.7 190.8,127.7 190.5,127.8 190.1,127.8 189.7,127.8 189.4,127.8 189.0,127.8 188.7,127.8 188.3,127.8 187.9,127.8 187.6,127.8 187.2,127.8 186.9,127.8 186.5,127.8 186.1,127.8 185.8,127.8 185.4,127.8 185.1,127.8 184.7,127.8 184.3,127.8 184.0,127.8 183.6,127.8 183.3,127.8 182.9,127.8 182.5,127.8 182.2,127.8 181.8,127.8 181.5,127.8 181.1,127.8 180.7,127.8 180.4,127.8 180.0,127.8 179.7,127.8 179.3,127.8 178.9,127.8 178.6,127.8 178.2,127.8 177.9,127.7 177.5,127.7 177.1,127.7 176.8,127.7 176.4,127.7 176.1,127.7 175.7,127.7 175.3,127.7 175.0,127.7 174.6,127.7 174.3,127.7 173.9,127.7 173.5,127.7 173.2,127.7 172.8,127.7 172.5,127.7 172.1,127.7 171.7,127.7 171.4,127.7 171.0,127.7 170.7,127.7 170.3,127.7 169.9,127.7 169.6,127.7 169.2,127.7 168.9,127.7 168.5,127.7 168.1,127.7 167.8,127.7 167.4,127.7 167.1,127.7 166.7,127.7 166.3,127.7 166.0,127.7 165.6,127.7 165.3,127.7 164.9,127.8 164.5,127.8 164.2,127.8 163.8,127.8 163.5,127.8 163.1,127.8 162.7,127.8 162.4,127.8 162.0,127.9 161.7,127.9 161.3,127.9 160.9,127.9 160.6,127.9 160.2,128.0 159.9,128.0 159.5,128.0 159.1,128.1 158.8,128.1 158.4,128.1 158.1,128.2 157.7,128.2 157.3,128.3 157.0,128.3 156.6,128.4 156.3,128.4 155.9,128.5 155.5,128.6 155.2,128.6 154.8,128.7 154.5,128.8 154.1,128.9 153.7,129.0 153.4,129.1 153.0,129.2 152.7,129.3 152.3,129.4 151.9,129.6 151.6,129.7 151.2,129.9 150.9,130.1 150.5,130.2 150.1,130.4 149.8,130.6 149.4,130.8 149.1,131.1 148.7,131.3 148.3,131.6 148.0,131.8 147.6,132.1 147.3,132.4 146.9,132.8 146.5,133.1 146.2,133.4 145.8,133.8 145.5,134.2 145.1,134.6 144.7,135.0 144.4,135.5 144.0,135.9 143.7,136.4 143.3,136.9 142.9,137.5 142.6,138.0 142.2,138.6 141.9,139.1 141.5,139.7 141.1,140.4 140.8,141.0 140.4,141.7 140.1,142.3 139.7,143.0 139.3,143.7 139.0,144.5 138.6,145.2 138.3,145.9 137.9,146.7 137.5,147.5 137.2,148.3 136.8,149.1 136.5,149.9 136.1,150.7 135.7,151.6 135.4,152.4 135.0,153.3 134.7,154.1 134.3,155.0 133.9,155.8 133.6,156.7 133.2,157.6 132.9,158.4 132.5,159.3 132.1,160.1 131.8,161.0 131.4,161.9 131.1,162.7 130.7,163.5 130.3,164.4 130.0,165.2 129.6,166.0 129.3,166.8 128.9,167.5 128.5,168.3 128.2,169.0 127.8,169.7 127.5,170.4 127.1,171.1 126.7,171.7 126.4,172.3 126.0,172.9 125.7,173.4 125.3,173.9 124.9,174.4 124.6,174.8 124.2,175.2 123.9,175.5 123.5,175.8 123.1,176.0 122.8,176.2 122.4,176.4 122.1,176.5 121.7,176.5 121.3,176.5 121.0,176.5 120.6,176.4 120.3,176.2 119.9,176.0 119.5,175.8 119.2,175.5 118.8,175.1 118.5,174.7 118.1,174.3 117.7,173.9 117.4,173.4 117.0,172.9 116.7,172.4 116.3,171.8 115.9,171.3 115.6,170.7 115.2,170.2 114.9,169.6 114.5,169.0 114.1,168.5 113.8,167.9 113.4,167.4 113.1,166.9 112.7,166.3 112.3,165.8 112.0,165.3 111.6,164.8 111.3,164.4 110.9,163.9 110.5,163.5 110.2,163.0 109.8,162.6 109.5,162.2 109.1,161.8 108.7,161.4 108.4,161.0 108.0,160.6 107.7,160.3 107.3,159.9 106.9,159.6 106.6,159.3 106.2,159.0 105.9,158.7 105.5,158.4 105.1,158.1 104.8,157.8 104.4,157.5 104.1,157.3 103.7,157.0 103.3,156.8 103.0,156.5 102.6,156.3 102.3,156.1 101.9,155.8 101.5,155.6 101.2,155.4 100.8,155.2 100.5,155.0 100.1,154.9 99.7,154.7 99.4,154.5 99.0,154.3 98.7,154.2 98.3,154.0 97.9,153.9 97.6,153.7 97.2,153.6 96.9,153.4 96.5,153.3 96.1,153.2 95.8,153.1 95.4,153.0 95.1,152.8 94.7,152.7 94.3,152.6 94.0,152.5 93.6,152.4 93.3,152.3 92.9,152.2 92.5,152.1 92.2,152.1 91.8,152.0 91.5,151.9 91.1,151.8 90.7,151.7 90.4,151.7 90.0,151.6 89.7,151.5 89.3,151.4 88.9,151.4 88.6,151.3 88.2,151.2 87.9,151.2 87.5,151.1 87.1,151.1 86.8,151.0 86.4,151.0 86.1,150.9 85.7,150.9 85.3,150.8 85.0,150.8 84.6,150.7 84.3,150.7 83.9,150.6 83.5,150.6 83.2,150.6 82.8,150.5 82.5,150.5 82.1,150.4 81.7,150.4 81.4,150.4 81.0,150.3 80.7,150.3 80.3,150.3 79.9,150.3 79.6,150.2 79.2,150.2 78.9,150.2 78.5,150.2 78.1,150.1 77.8,150.1 77.4,150.1 77.1,150.1 76.7,150.0 76.3,150.0 76.0,150.0 75.6,150.0 75.3,150.0 74.9,150.0 74.5,150.0 74.2,149.9 73.8,149.9 73.5,149.9 73.1,149.9 72.7,149.9 72.4,149.9 72.0,149.9 71.7,149.9 71.3,149.9 70.9,149.9 70.6,149.9 70.2,149.9 69.9,149.9 69.5,149.9 69.1,149.9 68.8,149.9 68.4,149.9 68.1,149.9 67.7,149.9 67.3,149.9 67.0,149.9 66.6,149.9 66.3,149.9 65.9,149.9 65.5,149.9 65.2,150.0 64.8,150.0 64.5,150.0 64.1,150.0 63.7,150.0 63.4,150.0 63.0,150.0 62.7,150.0 62.3,150.1 61.9,150.1 61.6,150.1 61.2,150.1 60.9,150.1 60.5,150.2" fill="none" stroke="#000080" stroke-width="1.75" stroke-linejoin="round" stroke-linecap="round"/>
<polyline points="60.5,117.2 60.9,114.8 61.2,112.6 61.6,110.6 61.9,108.7 62.3,107.0 62.7,105.5 63.0,104.0 63.4,102.7 63.7,101.5 64.1,100.4 64.5,99.3 64.8,98.4 65.2,97.5 65.5,96.7 65.9,96.0 66.3,95.3 66.6,94.7 67.0,94.1 67.3,93.5 67.7,93.0 68.1,92.6 68.4,92.1 68.8,91.7 69.1,91.4 69.5,91.0 69.9,90.7 70.2,90.4 70.6,90.1 70.9,89.8 71.3,89.6 71.7,89.4 72.0,89.2 72.4,89.0 72.7,88.8 73.1,88.6 73.5,88.4 73.8,88.3 74.2,88.2 74.5,88.0 74.9,87.9 75.3,87.8 75.6,87.7 76.0,87.6 76.3,87.5 76.7,87.4 77.1,87.3 77.4,87.2 77.8,87.2 78.1,87.1 78.5,87.0 78.9,87.0 79.2,86.9 79.6,86.8 79.9,86.8 80.3,86.7 80.7,86.7 81.0,86.6 81.4,86.6 81.7,86.5 82.1,86.5 82.5,86.4 82.8,86.4 83.2,86.4 83.5,86.3 83.9,86.3 84.3,86.3 84.6,86.2 85.0,86.2 85.3,86.2 85.7,86.1 86.1,86.1 86.4,86.1 86.8,86.0 87.1,86.0 87.5,86.0 87.9,86.0 88.2,85.9 88.6,85.9 88.9,85.9 89.3,85.9 89.7,85.9 90.0,85.8 90.4,85.8 90.7,85.8 91.1,85.8 91.5,85.8 91.8,85.8 92.2,85.8 92.5,85.8 92.9,85.8 93.3,85.8 93.6,85.8 94.0,85.8 94.3,85.8 94.7,85.8 95.1,85.8 95.4,85.8 95.8,85.8 96.1,85.8 96.5,85.8 96.9,85.8 97.2,85.8 97.6,85.8 97.9,85.9 98.3,85.9 98.7,85.9 99.0,85.9 99.4,85.9 99.7,85.9 100.1,85.9 100.5,85.9 100.8,86.0 101.2,86.0 101.5,86.0 101.9,86.0 102.3,86.0 102.6,86.0 103.0,86.0 103.3,86.1 103.7,86.1 104.1,86.1 104.4,86.1 104.8,86.1 105.1,86.1 105.5,86.1 105.9,86.1 106.2,86.2 106.6,86.2 106.9,86.2 107.3,86.2 107.7,86.2 108.0,86.2 108.4,86.2 108.7,86.2 109.1,86.2 109.5,86.2 109.8,86.2 110.2,86.2 110.5,86.2 110.9,86.2 111.3,86.2 111.6,86.2 112.0,86.2 112.3,86.2 112.7,86.2 113.1,86.2 113.4,86.2 113.8,86.2 114.1,86.2 114.5,86.1 114.9,86.1 115.2,86.1 115.6,86.1 115.9,86.0 116.3,86.0 116.7,85.9 117.0,85.9 117.4,85.8 117.7,85.8 118.1,85.7 118.5,85.6 118.8,85.5 119.2,85.4 119.5,85.3 119.9,85.2 120.3,85.1 120.6,85.0 121.0,84.9 121.3,84.7 121.7,84.6 122.1,84.4 122.4,84.2 122.8,84.0 123.1,83.8 123.5,83.6 123.9,83.4 124.2,83.1 124.6,82.8 124.9,82.5 125.3,82.2 125.7,81.9 126.0,81.6 126.4,81.2 126.7,80.9 127.1,80.5 127.5,80.1 127.8,79.6 128.2,79.2 128.5,78.7 128.9,78.2 129.3,77.7 129.6,77.2 130.0,76.6 130.3,76.0 130.7,75.4 131.1,74.8 131.4,74.2 131.8,73.6 132.1,72.9 132.5,72.2 132.9,71.5 133.2,70.8 133.6,70.0 133.9,69.3 134.3,68.5 134.7,67.7 135.0,67.0 135.4,66.1 135.7,65.3 136.1,64.5 136.5,63.7 136.8,62.8 137.2,62.0 137.5,61.1 137.9,60.2 138.3,59.4 138.6,58.5 139.0,57.6 139.3,56.7 139.7,55.8 140.1,55.0 140.4,54.1 140.8,53.2 141.1,52.3 141.5,51.5 141.9,50.6 142.2,49.8 142.6,49.0 142.9,48.1 143.3,47.3 143.7,46.5 144.0,45.8 144.4,45.0 144.7,44.3 145.1,43.6 145.5,42.9 145.8,42.3 146.2,41.6 146.5,41.1 146.9,40.5 147.3,40.0 147.6,39.5 148.0,39.1 148.3,38.7 148.7,38.3 149.1,38.0 149.4,37.7 149.8,37.5 150.1,37.3 150.5,37.2 150.9,37.2 151.2,37.2 151.6,37.2 151.9,37.3 152.3,37.4 152.7,37.6 153.0,37.9 153.4,38.2 153.7,38.5 154.1,38.8 154.5,39.2 154.8,39.7 155.2,40.1 155.5,40.6 155.9,41.1 156.3,41.6 156.6,42.2 157.0,42.7 157.3,43.2 157.7,43.8 158.1,44.3 158.4,44.9 158.8,45.4 159.1,45.9 159.5,46.4 159.9,46.9 160.2,47.4 160.6,47.8 160.9,48.3 161.3,48.7 161.7,49.2 162.0,49.6 162.4,50.0 162.7,50.4 163.1,50.8 163.5,51.1 163.8,51.5 164.2,51.8 164.5,52.2 164.9,52.5 165.3,52.8 165.6,53.1 166.0,53.4 166.3,53.7 166.7,54.0 167.1,54.3 167.4,54.6 167.8,54.8 168.1,55.1 168.5,55.4 168.9,55.6 169.2,55.9 169.6,56.1 169.9,56.4 170.3,56.6 170.7,56.8 171.0,57.1 171.4,57.3 171.7,57.5 172.1,57.7 172.5,57.9 172.8,58.1 173.2,58.3 173.5,58.5 173.9,58.6 174.3,58.8 174.6,59.0 175.0,59.2 175.3,59.3 175.7,59.5 176.1,59.6 176.4,59.8 176.8,59.9 177.1,60.1 177.5,60.2 177.9,60.4 178.2,60.5 178.6,60.6 178.9,60.8 179.3,60.9 179.7,61.0 180.0,61.2 180.4,61.3 180.7,61.4 181.1,61.5 181.5,61.6 181.8,61.7 182.2,61.9 182.5,62.0 182.9,62.1 183.3,62.2 183.6,62.3 184.0,62.4 184.3,62.5 184.7,62.6 185.1,62.7 185.4,62.8 185.8,62.9 186.1,62.9 186.5,63.0 186.9,63.1 187.2,63.2 187.6,63.3 187.9,63.4 188.3,63.4 188.7,63.5 189.0,63.6 189.4,63.7 189.7,63.7 190.1,63.8 190.5,63.9 190.8,64.0 191.2,64.0 191.5,64.1 191.9,64.2 192.3,64.2 192.6,64.3 193.0,64.3 193.3,64.4 193.7,64.5 194.1,64.5 194.4,64.6 194.8,64.6 195.1,64.7 195.5,64.7 195.9,64.8 196.2,64.8 196.6,64.9 196.9,64.9 197.3,65.0 197.7,65.0 198.0,65.0 198.4,65.1 198.7,65.1 199.1,65.2 199.5,65.2 199.8,65.2 200.2,65.3 200.5,65.3 200.9,65.3 201.3,65.4 201.6,65.4 202.0,65.4 202.3,65.4 202.7,65.5 203.1,65.5 203.4,65.5 203.8,65.5 204.1,65.6 204.5,65.6 204.9,65.6 205.2,65.6 205.6,65.6 205.9,65.7 206.3,65.7 206.7,65.7 207.0,65.7 207.4,65.7 207.7,65.7 208.1,65.7 208.5,65.7 208.8,65.7 209.2,65.7 209.5,65.7 209.9,65.7 210.3,65.7 210.6,65.7 211.0,65.7 211.3,65.7 211.7,65.7 212.1,65.7 212.4,65.7 212.8,65.7 213.1,65.7 213.5,65.7 213.9,65.7 214.2,65.7 214.6,65.7 214.9,65.6 215.3,65.6 215.7,65.6 216.0,65.6 216.4,65.6 216.7,65.5 217.1,65.5 217.5,65.5 217.8,65.5 218.2,65.4 218.5,65.4 218.9,65.4 219.3,65.3 219.6,65.3 220.0,65.3 220.3,65.2 220.7,65.2 221.1,65.2 221.4,65.1 221.8,65.1 222.1,65.0 222.5,65.0 222.9,64.9 223.2,64.9 223.6,64.8 223.9,64.8 224.3,64.7 224.7,64.7 225.0,64.6 225.4,64.6 225.7,64.5 226.1,64.5 226.5,64.4 226.8,64.3 227.2,64.3 227.5,64.2 227.9,64.1 228.3,64.1 228.6,64.0 229.0,63.9 229.3,63.8 229.7,63.8 230.1,63.7 230.4,63.6 230.8,63.5 231.1,63.4 231.5,63.4 231.9,63.3 232.2,63.2 232.6,63.1 232.9,63.0 233.3,62.9 233.7,62.8 234.0,62.7 234.4,62.6 234.7,62.5 235.1,62.4 235.5,62.3 235.8,62.2 236.2,62.1 236.5,62.0 236.9,61.9 237.3,61.8 237.6,61.7 238.0,61.6 238.3,61.5 238.7,61.3 239.1,61.2 239.4,61.1 239.8,61.0 240.1,60.9 240.5,60.7 240.9,60.6 241.2,60.5 241.6,60.4 241.9,60.2 242.3,60.1 242.7,59.9 243.0,59.8 243.4,59.7 243.7,59.5 244.1,59.4 244.5,59.2 244.8,59.1 245.2,58.9 245.5,58.8 245.9,58.6 246.3,58.5 246.6,58.3 247.0,58.2 247.3,58.0 247.7,57.8 248.1,57.7 248.4,57.5 248.8,57.3 249.1,57.2 249.5,57.0 249.9,56.8 250.2,56.6 250.6,56.4 250.9,56.3 251.3,56.1 251.7,55.9 252.0,55.7 252.4,55.5 252.7,55.3 253.1,55.1 253.5,54.9 253.8,54.7 254.2,54.5 254.5,54.3 254.9,54.1 255.3,53.9 255.6,53.7 256.0,53.4 256.3,53.2 256.7,53.0 257.1,52.8 257.4,52.5 257.8,52.3 258.1,52.1 258.5,51.9 258.9,51.6 259.2,51.4 259.6,51.1 259.9,50.9 260.3,50.6 260.7,50.4 261.0,50.1 261.4,49.9 261.7,49.6 262.1,49.3 262.5,49.1 262.8,48.8 263.2,48.5 263.5,48.3 263.9,48.0 264.3,47.7 264.6,47.4 265.0,47.1 265.3,46.8 265.7,46.6 266.1,46.3 266.4,46.0 266.8,45.7 267.1,45.3 267.5,45.0 267.9,44.7 268.2,44.4 268.6,44.1 268.9,43.8 269.3,43.4 269.7,43.1 270.0,42.8 270.4,42.4 270.7,42.1 271.1,41.8 271.5,41.4 271.8,41.1 272.2,40.7 272.5,40.3 272.9,40.0 273.3,39.6 273.6,39.2 274.0,38.9 274.3,38.5 274.7,38.1 275.1,37.7 275.4,37.3 275.8,36.9 276.1,36.5 276.5,36.1 276.1,41.3 275.8,46.3 275.4,51.1 275.1,55.5 274.7,59.6 274.3,63.5 274.0,67.1 273.6,70.5 273.3,73.7 272.9,76.6 272.5,79.4 272.2,82.0 271.8,84.5 271.5,86.7 271.1,88.9 270.7,90.9 270.4,92.7 270.0,94.5 269.7,96.1 269.3,97.7 268.9,99.1 268.6,100.5 268.2,101.8 267.9,103.0 267.5,104.1 267.1,105.1 266.8,106.1 266.4,107.1 266.1,108.0 265.7,108.8 265.3,109.6 265.0,110.3 264.6,111.0 264.3,111.6 263.9,112.3 263.5,112.8 263.2,113.4 262.8,113.9 262.5,114.4 262.1,114.9 261.7,115.3 261.4,115.7 261.0,116.1 260.7,116.5 260.3,116.9 259.9,117.2 259.6,117.5 259.2,117.8 258.9,118.1 258.5,118.4 258.1,118.7 257.8,118.9 257.4,119.2 257.1,119.4 256.7,119.6 256.3,119.9 256.0,120.1 255.6,120.3 255.3,120.5 254.9,120.6 254.5,120.8 254.2,121.0 253.8,121.2 253.5,121.3 253.1,121.5 252.7,121.6 252.4,121.8 252.0,121.9 251.7,122.1 251.3,122.2 250.9,122.3 250.6,122.5 250.2,122.6 249.9,122.7 249.5,122.8 249.1,122.9 248.8,123.1 248.4,123.2 248.1,123.3 247.7,123.4 247.3,123.5 247.0,123.6 246.6,123.7 246.3,123.8 245.9,123.9 245.5,124.0 245.2,124.1 244.8,124.2 244.5,124.3 244.1,124.3 243.7,124.4 243.4,124.5 243.0,124.6 242.7,124.7 242.3,124.8 241.9,124.9 241.6,124.9 241.2,125.0 240.9,125.1 240.5,125.2 240.1,125.2 239.8,125.3 239.4,125.4 239.1,125.5 238.7,125.5 238.3,125.6 238.0,125.7 237.6,125.8 237.3,125.8 236.9,125.9 236.5,126.0 236.2,126.0 235.8,126.1 235.5,126.2 235.1,126.2 234.7,126.3 234.4,126.4 234.0,126.4 233.7,126.5 233.3,126.6 232.9,126.6 232.6,126.7 232.2,126.7 231.9,126.8 231.5,126.9 231.1,126.9 230.8,127.0 230.4,127.0 230.1,127.1 229.7,127.1 229.3,127.2 229.0,127.2 228.6,127.3 228.3,127.3 227.9,127.4 227.5,127.5 227.2,127.5 226.8,127.6 226.5,127.6 226.1,127.7 225.7,127.7 225.4,127.8 225.0,127.8 224.7,127.8 224.3,127.9 223.9,127.9 223.6,128.0 223.2,128.0 222.9,128.1 222.5,128.1 222.1,128.2 221.8,128.2 221.4,128.2 221.1,128.3 220.7,128.3 220.3,128.4 220.0,128.4 219.6,128.5 219.3,128.5 218.9,128.5 218.5,128.6 218.2,128.6 217.8,128.6 217.5,128.7 217.1,128.7 216.7,128.8 216.4,128.8 216.0,128.8 215.7,128.9 215.3,128.9 214.9,128.9 214.6,129.0 214.2,129.0 213.9,129.0 213.5,129.1 213.1,129.1 212.8,129.1 212.4,129.1 212.1,129.2 211.7,129.2 211.3,129.2 211.0,129.3 210.6,129.3 210.3,129.3 209.9,129.3 209.5,129.4 209.2,129.4 208.8,129.4 208.5,129.4 208.1,129.5 207.7,129.5 207.4,129.5 207.0,129.5 206.7,129.6 206.3,129.6 205.9,129.6 205.6,129.6 205.2,129.7 204.9,129.7 204.5,129.7 204.1,129.7 203.8,129.7 203.4,129.8 203.1,129.8 202.7,129.8 202.3,129.8 202.0,129.8 201.6,129.8 201.3,129.9 200.9,129.9 200.5,129.9 200.2,129.9 199.8,129.9 199.5,129.9 199.1,129.9 198.7,130.0 198.4,130.0 198.0,130.0 197.7,130.0 197.3,130.0 196.9,130.0 196.6,130.0 196.2,130.0 195.9,130.0 195.5,130.1 195.1,130.1 194.8,130.1 194.4,130.1 194.1,130.1 193.7,130.1 193.3,130.1 193.0,130.1 192.6,130.1 192.3,130.1 191.9,130.1 191.5,130.1 191.2,130.1 190.8,130.2 190.5,130.2 190.1,130.2 189.7,130.2 189.4,130.2 189.0,130.2 188.7,130.2 188.3,130.2 187.9,130.2 187.6,130.2 187.2,130.2 186.9,130.2 186.5,130.2 186.1,130.2 185.8,130.2 185.4,130.2 185.1,130.2 184.7,130.2 184.3,130.2 184.0,130.2 183.6,130.2 183.3,130.2 182.9,130.2 182.5,130.2 182.2,130.2 181.8,130.2 181.5,130.2 181.1,130.2 180.7,130.2 180.4,130.2 180.0,130.2 179.7,130.2 179.3,130.2 178.9,130.2 178.6,130.2 178.2,130.2 177.9,130.2 177.5,130.2 177.1,130.2 176.8,130.2 176.4,130.2 176.1,130.2 175.7,130.1 175.3,130.1 175.0,130.1 174.6,130.1 174.3,130.1 173.9,130.1 173.5,130.1 173.2,130.1 172.8,130.1 172.5,130.1 172.1,130.1 171.7,130.1 171.4,130.1 171.0,130.1 170.7,130.1 170.3,130.1 169.9,130.1 169.6,130.1 169.2,130.1 168.9,130.1 168.5,130.1 168.1,130.1 167.8,130.1 167.4,130.1 167.1,130.1 166.7,130.1 166.3,130.1 166.0,130.1 165.6,130.1 165.3,130.1 164.9,130.1 164.5,130.1 164.2,130.1 163.8,130.1 163.5,130.1 163.1,130.1 162.7,130.1 162.4,130.1 162.0,130.2 161.7,130.2 161.3,130.2 160.9,130.2 160.6,130.2 160.2,130.2 159.9,130.3 159.5,130.3 159.1,130.3 158.8,130.3 158.4,130.4 158.1,130.4 157.7,130.4 157.3,130.5 157.0,130.5 156.6,130.6 156.3,130.6 155.9,130.7 155.5,130.7 155.2,130.8 154.8,130.9 154.5,131.0 154.1,131.0 153.7,131.1 153.4,131.2 153.0,131.3 152.7,131.5 152.3,131.6 151.9,131.7 151.6,131.8 151.2,132.0 150.9,132.2 150.5,132.3 150.1,132.5 149.8,132.7 149.4,132.9 149.1,133.1 148.7,133.4 148.3,133.6 148.0,133.9 147.6,134.2 147.3,134.5 146.9,134.8 146.5,135.1 146.2,135.5 145.8,135.9 145.5,136.2 145.1,136.7 144.7,137.1 144.4,137.5 144.0,138.0 143.7,138.5 143.3,139.0 142.9,139.5 142.6,140.1 142.2,140.6 141.9,141.2 141.5,141.8 141.1,142.4 140.8,143.1 140.4,143.7 140.1,144.4 139.7,145.1 139.3,145.8 139.0,146.6 138.6,147.3 138.3,148.1 137.9,148.9 137.5,149.7 137.2,150.5 136.8,151.3 136.5,152.1 136.1,153.0 135.7,153.8 135.4,154.7 135.0,155.5 134.7,156.4 134.3,157.3 133.9,158.2 133.6,159.1 133.2,160.0 132.9,160.9 132.5,161.8 132.1,162.7 131.8,163.6 131.4,164.5 131.1,165.3 130.7,166.2 130.3,167.1 130.0,167.9 129.6,168.8 129.3,169.6 128.9,170.5 128.5,171.3 128.2,172.1 127.8,172.8 127.5,173.6 127.1,174.3 126.7,175.0 126.4,175.7 126.0,176.3 125.7,177.0 125.3,177.5 124.9,178.1 124.6,178.6 124.2,179.1 123.9,179.5 123.5,179.9 123.1,180.3 122.8,180.6 122.4,180.8 122.1,181.0 121.7,181.2 121.3,181.3 121.0,181.3 120.6,181.3 120.3,181.2 119.9,181.1 119.5,180.9 119.2,180.7 118.8,180.4 118.5,180.1 118.1,179.7 117.7,179.3 117.4,178.9 117.0,178.4 116.7,177.9 116.3,177.4 115.9,176.8 115.6,176.2 115.2,175.7 114.9,175.1 114.5,174.5 114.1,173.9 113.8,173.3 113.4,172.7 113.1,172.1 112.7,171.5 112.3,171.0 112.0,170.4 111.6,169.9 111.3,169.3 110.9,168.8 110.5,168.3 110.2,167.8 109.8,167.3 109.5,166.9 109.1,166.4 108.7,166.0 108.4,165.6 108.0,165.2 107.7,164.8 107.3,164.4 106.9,164.0 106.6,163.6 106.2,163.3 105.9,162.9 105.5,162.6 105.1,162.3 104.8,162.0 104.4,161.7 104.1,161.4 103.7,161.1 103.3,160.8 103.0,160.6 102.6,160.3 102.3,160.1 101.9,159.8 101.5,159.6 101.2,159.4 100.8,159.1 100.5,158.9 100.1,158.7 99.7,158.5 99.4,158.3 99.0,158.1 98.7,158.0 98.3,157.8 97.9,157.6 97.6,157.5 97.2,157.3 96.9,157.2 96.5,157.0 96.1,156.9 95.8,156.7 95.4,156.6 95.1,156.5 94.7,156.4 94.3,156.3 94.0,156.1 93.6,156.0 93.3,155.9 92.9,155.8 92.5,155.7 92.2,155.6 91.8,155.5 91.5,155.4 91.1,155.4 90.7,155.3 90.4,155.2 90.0,155.1 89.7,155.0 89.3,155.0 88.9,154.9 88.6,154.8 88.2,154.7 87.9,154.7 87.5,154.6 87.1,154.6 86.8,154.5 86.4,154.4 86.1,154.4 85.7,154.3 85.3,154.3 85.0,154.2 84.6,154.2 84.3,154.1 83.9,154.1 83.5,154.1 83.2,154.0 82.8,154.0 82.5,153.9 82.1,153.9 81.7,153.9 81.4,153.8 81.0,153.8 80.7,153.8 80.3,153.7 79.9,153.7 79.6,153.7 79.2,153.6 78.9,153.6 78.5,153.6 78.1,153.6 77.8,153.5 77.4,153.5 77.1,153.5 76.7,153.5 76.3,153.5 76.0,153.4 75.6,153.4 75.3,153.4 74.9,153.4 74.5,153.4 74.2,153.4 73.8,153.4 73.5,153.4 73.1,153.4 72.7,153.4 72.4,153.4 72.0,153.4 71.7,153.4 71.3,153.4 70.9,153.4 70.6,153.4 70.2,153.4 69.9,153.4 69.5,153.4 69.1,153.4 68.8,153.4 68.4,153.4 68.1,153.4 67.7,153.4 67.3,153.4 67.0,153.5 66.6,153.5 66.3,153.5 65.9,153.5 65.5,153.5 65.2,153.5 64.8,153.6 64.5,153.6 64.1,153.6 63.7,153.6 63.4,153.6 63.0,153.7 62.7,153.7 62.3,153.7 61.9,153.7 61.6,153.8 61.2,153.8 60.9,153.8 60.5,153.8" fill="none" stroke="#800080" stroke-width="1.75" stroke-linejoin="round" stroke-linecap="round"/>
<polyline points="60.5,117.2 60.9,114.6 61.2,112.3 61.6,110.1 61.9,108.1 62.3,106.3 62.7,104.6 63.0,103.1 63.4,101.7 63.7,100.4 64.1,99.2 64.5,98.1 64.8,97.1 65.2,96.1 65.5,95.3 65.9,94.5 66.3,93.7 66.6,93.1 67.0,92.4 67.3,91.9 67.7,91.3 68.1,90.8 68.4,90.4 68.8,90.0 69.1,89.5 69.5,89.2 69.9,88.8 70.2,88.5 70.6,88.2 70.9,87.9 71.3,87.6 71.7,87.4 72.0,87.2 72.4,86.9 72.7,86.7 73.1,86.6 73.5,86.4 73.8,86.2 74.2,86.1 74.5,85.9 74.9,85.8 75.3,85.7 75.6,85.6 76.0,85.4 76.3,85.3 76.7,85.2 77.1,85.1 77.4,85.0 77.8,85.0 78.1,84.9 78.5,84.8 78.9,84.7 79.2,84.7 79.6,84.6 79.9,84.5 80.3,84.5 80.7,84.4 81.0,84.3 81.4,84.3 81.7,84.2 82.1,84.2 82.5,84.1 82.8,84.1 83.2,84.0 83.5,84.0 83.9,83.9 84.3,83.9 84.6,83.8 85.0,83.8 85.3,83.8 85.7,83.7 86.1,83.7 86.4,83.7 86.8,83.6 87.1,83.6 87.5,83.6 87.9,83.5 88.2,83.5 88.6,83.5 88.9,83.4 89.3,83.4 89.7,83.4 90.0,83.4 90.4,83.4 90.7,83.3 91.1,83.3 91.5,83.3 91.8,83.3 92.2,83.3 92.5,83.3 92.9,83.3 93.3,83.3 93.6,83.3 94.0,83.3 94.3,83.3 94.7,83.3 95.1,83.3 95.4,83.3 95.8,83.3 96.1,83.3 96.5,83.3 96.9,83.3 97.2,83.3 97.6,83.3 97.9,83.4 98.3,83.4 98.7,83.4 99.0,83.4 99.4,83.4 99.7,83.4 100.1,83.4 100.5,83.5 100.8,83.5 101.2,83.5 101.5,83.5 101.9,83.5 102.3,83.5 102.6,83.5 103.0,83.6 103.3,83.6 103.7,83.6 104.1,83.6 104.4,83.6 104.8,83.6 105.1,83.6 105.5,83.7 105.9,83.7 106.2,83.7 106.6,83.7 106.9,83.7 107.3,83.7 107.7,83.7 108.0,83.7 108.4,83.7 108.7,83.7 109.1,83.7 109.5,83.8 109.8,83.8 110.2,83.8 110.5,83.8 110.9,83.8 111.3,83.8 111.6,83.8 112.0,83.7 112.3,83.7 112.7,83.7 113.1,83.7 113.4,83.7 113.8,83.7 114.1,83.7 114.5,83.6 114.9,83.6 115.2,83.6 115.6,83.6 115.9,83.5 116.3,83.5 116.7,83.4 117.0,83.4 117.4,83.3 117.7,83.2 118.1,83.2 118.5,83.1 118.8,83.0 119.2,82.9 119.5,82.8 119.9,82.7 120.3,82.6 120.6,82.5 121.0,82.3 121.3,82.2 121.7,82.0 122.1,81.9 122.4,81.7 122.8,81.5 123.1,81.3 123.5,81.0 123.9,80.8 124.2,80.5 124.6,80.3 124.9,80.0 125.3,79.7 125.7,79.4 126.0,79.0 126.4,78.6 126.7,78.3 127.1,77.9 127.5,77.5 127.8,77.0 128.2,76.6 128.5,76.1 128.9,75.6 129.3,75.1 129.6,74.5 130.0,74.0 130.3,73.4 130.7,72.8 131.1,72.2 131.4,71.5 131.8,70.8 132.1,70.2 132.5,69.5 132.9,68.8 133.2,68.0 133.6,67.3 133.9,66.5 134.3,65.7 134.7,64.9 135.0,64.1 135.4,63.3 135.7,62.4 136.1,61.6 136.5,60.7 136.8,59.9 137.2,59.0 137.5,58.1 137.9,57.2 138.3,56.3 138.6,55.4 139.0,54.5 139.3,53.6 139.7,52.6 140.1,51.7 140.4,50.8 140.8,49.9 141.1,49.0 141.5,48.1 141.9,47.2 142.2,46.3 142.6,45.4 142.9,44.5 143.3,43.7 143.7,42.8 144.0,42.0 144.4,41.2 144.7,40.4 145.1,39.6 145.5,38.9 145.8,38.2 146.2,37.5 146.5,36.8 146.9,36.2 147.3,35.6 147.6,35.0 148.0,34.5 148.3,34.0 148.7,33.5 149.1,33.1 149.4,32.7 149.8,32.4 150.1,32.2 150.5,31.9 150.9,31.8 151.2,31.7 151.6,31.6 151.9,31.6 152.3,31.7 152.7,31.8 153.0,32.0 153.4,32.2 153.7,32.4 154.1,32.7 154.5,33.1 154.8,33.5 155.2,34.0 155.5,34.4 155.9,34.9 156.3,35.5 156.6,36.0 157.0,36.6 157.3,37.2 157.7,37.8 158.1,38.4 158.4,39.0 158.8,39.5 159.1,40.1 159.5,40.7 159.9,41.3 160.2,41.8 160.6,42.4 160.9,42.9 161.3,43.4 161.7,43.9 162.0,44.4 162.4,44.9 162.7,45.4 163.1,45.8 163.5,46.2 163.8,46.7 164.2,47.1 164.5,47.5 164.9,47.8 165.3,48.2 165.6,48.6 166.0,48.9 166.3,49.3 166.7,49.6 167.1,49.9 167.4,50.2 167.8,50.6 168.1,50.9 168.5,51.2 168.9,51.4 169.2,51.7 169.6,52.0 169.9,52.3 170.3,52.5 170.7,52.8 171.0,53.0 171.4,53.3 171.7,53.5 172.1,53.7 172.5,53.9 172.8,54.1 173.2,54.4 173.5,54.6 173.9,54.8 174.3,55.0 174.6,55.1 175.0,55.3 175.3,55.5 175.7,55.7 176.1,55.8 176.4,56.0 176.8,56.2 177.1,56.3 177.5,56.5 177.9,56.6 178.2,56.8 178.6,56.9 178.9,57.1 179.3,57.2 179.7,57.4 180.0,57.5 180.4,57.6 180.7,57.8 181.1,57.9 181.5,58.0 181.8,58.1 182.2,58.2 182.5,58.4 182.9,58.5 183.3,58.6 183.6,58.7 184.0,58.8 184.3,58.9 184.7,59.0 185.1,59.1 185.4,59.2 185.8,59.3 186.1,59.4 186.5,59.5 186.9,59.6 187.2,59.6 187.6,59.7 187.9,59.8 188.3,59.9 188.7,60.0 189.0,60.0 189.4,60.1 189.7,60.2 190.1,60.3 190.5,60.3 190.8,60.4 191.2,60.5 191.5,60.5 191.9,60.6 192.3,60.7 192.6,60.7 193.0,60.8 193.3,60.9 193.7,60.9 194.1,61.0 194.4,61.0 194.8,61.1 195.1,61.1 195.5,61.2 195.9,61.2 196.2,61.3 196.6,61.3 196.9,61.4 197.3,61.4 197.7,61.5 198.0,61.5 198.4,61.5 198.7,61.6 199.1,61.6 199.5,61.6 199.8,61.7 200.2,61.7 200.5,61.7 200.9,61.8 201.3,61.8 201.6,61.8 202.0,61.9 202.3,61.9 202.7,61.9 203.1,61.9 203.4,62.0 203.8,62.0 204.1,62.0 204.5,62.0 204.9,62.0 205.2,62.1 205.6,62.1 205.9,62.1 206.3,62.1 206.7,62.1 207.0,62.1 207.4,62.1 207.7,62.1 208.1,62.1 208.5,62.1 208.8,62.1 209.2,62.1 209.5,62.1 209.9,62.1 210.3,62.1 210.6,62.1 211.0,62.1 211.3,62.1 211.7,62.1 212.1,62.1 212.4,62.1 212.8,62.1 213.1,62.1 213.5,62.1 213.9,62.1 214.2,62.1 214.6,62.0 214.9,62.0 215.3,62.0 215.7,62.0 216.0,62.0 216.4,61.9 216.7,61.9 217.1,61.9 217.5,61.9 217.8,61.8 218.2,61.8 218.5,61.8 218.9,61.8 219.3,61.7 219.6,61.7 220.0,61.7 220.3,61.6 220.7,61.6 221.1,61.5 221.4,61.5 221.8,61.5 222.1,61.4 222.5,61.4 222.9,61.3 223.2,61.3 223.6,61.2 223.9,61.2 224.3,61.1 224.7,61.1 225.0,61.0 225.4,61.0 225.7,60.9 226.1,60.9 226.5,60.8 226.8,60.7 227.2,60.7 227.5,60.6 227.9,60.6 228.3,60.5 228.6,60.4 229.0,60.3 229.3,60.3 229.7,60.2 230.1,60.1 230.4,60.1 230.8,60.0 231.1,59.9 231.5,59.8 231.9,59.7 232.2,59.7 232.6,59.6 232.9,59.5 233.3,59.4 233.7,59.3 234.0,59.2 234.4,59.1 234.7,59.0 235.1,58.9 235.5,58.8 235.8,58.7 236.2,58.6 236.5,58.5 236.9,58.4 237.3,58.3 237.6,58.2 238.0,58.1 238.3,58.0 238.7,57.9 239.1,57.8 239.4,57.6 239.8,57.5 240.1,57.4 240.5,57.3 240.9,57.2 241.2,57.0 241.6,56.9 241.9,56.8 242.3,56.7 242.7,56.5 243.0,56.4 243.4,56.2 243.7,56.1 244.1,56.0 244.5,55.8 244.8,55.7 245.2,55.5 245.5,55.4 245.9,55.2 246.3,55.1 246.6,54.9 247.0,54.8 247.3,54.6 247.7,54.5 248.1,54.3 248.4,54.1 248.8,54.0 249.1,53.8 249.5,53.6 249.9,53.5 250.2,53.3 250.6,53.1 250.9,52.9 251.3,52.7 251.7,52.5 252.0,52.4 252.4,52.2 252.7,52.0 253.1,51.8 253.5,51.6 253.8,51.4 254.2,51.2 254.5,51.0 254.9,50.8 255.3,50.6 255.6,50.4 256.0,50.2 256.3,49.9 256.7,49.7 257.1,49.5 257.4,49.3 257.8,49.0 258.1,48.8 258.5,48.6 258.9,48.3 259.2,48.1 259.6,47.9 259.9,47.6 260.3,47.4 260.7,47.1 261.0,46.9 261.4,46.6 261.7,46.4 262.1,46.1 262.5,45.9 262.8,45.6 263.2,45.3 263.5,45.0 263.9,44.8 264.3,44.5 264.6,44.2 265.0,43.9 265.3,43.6 265.7,43.3 266.1,43.1 266.4,42.8 266.8,42.5 267.1,42.2 267.5,41.8 267.9,41.5 268.2,41.2 268.6,40.9 268.9,40.6 269.3,40.3 269.7,39.9 270.0,39.6 270.4,39.3 270.7,38.9 271.1,38.6 271.5,38.2 271.8,37.9 272.2,37.5 272.5,37.2 272.9,36.8 273.3,36.5 273.6,36.1 274.0,35.7 274.3,35.4 274.7,35.0 275.1,34.6 275.4,34.2 275.8,33.8 276.1,33.4 276.5,33.0 276.1,37.8 275.8,42.6 275.4,47.1 275.1,51.3 274.7,55.4 274.3,59.2 274.0,62.7 273.6,66.1 273.3,69.3 272.9,72.3 272.5,75.1 272.2,77.8 271.8,80.3 271.5,82.7 271.1,85.0 270.7,87.1 270.4,89.1 270.0,91.0 269.7,92.8 269.3,94.5 268.9,96.1 268.6,97.6 268.2,99.0 267.9,100.4 267.5,101.7 267.1,102.9 266.8,104.0 266.4,105.1 266.1,106.1 265.7,107.1 265.3,108.0 265.0,108.9 264.6,109.7 264.3,110.5 263.9,111.3 263.5,112.0 263.2,112.6 262.8,113.3 262.5,113.9 262.1,114.5 261.7,115.0 261.4,115.5 261.0,116.0 260.7,116.5 260.3,116.9 259.9,117.4 259.6,117.8 259.2,118.2 258.9,118.5 258.5,118.9 258.1,119.2 257.8,119.6 257.4,119.9 257.1,120.2 256.7,120.5 256.3,120.7 256.0,121.0 255.6,121.2 255.3,121.5 254.9,121.7 254.5,121.9 254.2,122.2 253.8,122.4 253.5,122.6 253.1,122.8 252.7,122.9 252.4,123.1 252.0,123.3 251.7,123.5 251.3,123.6 250.9,123.8 250.6,123.9 250.2,124.1 249.9,124.2 249.5,124.4 249.1,124.5 248.8,124.6 248.4,124.8 248.1,124.9 247.7,125.0 247.3,125.1 247.0,125.3 246.6,125.4 246.3,125.5 245.9,125.6 245.5,125.7 245.2,125.8 244.8,125.9 244.5,126.0 244.1,126.1 243.7,126.2 243.4,126.3 243.0,126.4 242.7,126.5 242.3,126.6 241.9,126.7 241.6,126.7 241.2,126.8 240.9,126.9 240.5,127.0 240.1,127.1 239.8,127.2 239.4,127.2 239.1,127.3 238.7,127.4 238.3,127.5 238.0,127.6 237.6,127.6 237.3,127.7 236.9,127.8 236.5,127.9 236.2,127.9 235.8,128.0 235.5,128.1 235.1,128.1 234.7,128.2 234.4,128.3 234.0,128.3 233.7,128.4 233.3,128.5 232.9,128.5 232.6,128.6 232.2,128.7 231.9,128.7 231.5,128.8 231.1,128.9 230.8,128.9 230.4,129.0 230.1,129.0 229.7,129.1 229.3,129.2 229.0,129.2 228.6,129.3 228.3,129.3 227.9,129.4 227.5,129.4 227.2,129.5 226.8,129.5 226.5,129.6 226.1,129.7 225.7,129.7 225.4,129.8 225.0,129.8 224.7,129.9 224.3,129.9 223.9,130.0 223.6,130.0 223.2,130.1 222.9,130.1 222.5,130.2 222.1,130.2 221.8,130.2 221.4,130.3 221.1,130.3 220.7,130.4 220.3,130.4 220.0,130.5 219.6,130.5 219.3,130.6 218.9,130.6 218.5,130.6 218.2,130.7 217.8,130.7 217.5,130.8 217.1,130.8 216.7,130.8 216.4,130.9 216.0,130.9 215.7,130.9 215.3,131.0 214.9,131.0 214.6,131.1 214.2,131.1 213.9,131.1 213.5,131.2 213.1,131.2 212.8,131.2 212.4,131.3 212.1,131.3 211.7,131.3 211.3,131.4 211.0,131.4 210.6,131.4 210.3,131.4 209.9,131.5 209.5,131.5 209.2,131.5 208.8,131.6 208.5,131.6 208.1,131.6 207.7,131.6 207.4,131.7 207.0,131.7 206.7,131.7 206.3,131.7 205.9,131.8 205.6,131.8 205.2,131.8 204.9,131.8 204.5,131.9 204.1,131.9 203.8,131.9 203.4,131.9 203.1,131.9 202.7,132.0 202.3,132.0 202.0,132.0 201.6,132.0 201.3,132.0 200.9,132.0 200.5,132.1 200.2,132.1 199.8,132.1 199.5,132.1 199.1,132.1 198.7,132.1 198.4,132.2 198.0,132.2 197.7,132.2 197.3,132.2 196.9,132.2 196.6,132.2 196.2,132.2 195.9,132.2 195.5,132.2 195.1,132.3 194.8,132.3 194.4,132.3 194.1,132.3 193.7,132.3 193.3,132.3 193.0,132.3 192.6,132.3 192.3,132.3 191.9,132.3 191.5,132.3 191.2,132.3 190.8,132.4 190.5,132.4 190.1,132.4 189.7,132.4 189.4,132.4 189.0,132.4 188.7,132.4 188.3,132.4 187.9,132.4 187.6,132.4 187.2,132.4 186.9,132.4 186.5,132.4 186.1,132.4 185.8,132.4 185.4,132.4 185.1,132.4 184.7,132.4 184.3,132.4 184.0,132.4 183.6,132.4 183.3,132.4 182.9,132.4 182.5,132.4 182.2,132.4 181.8,132.4 181.5,132.4 181.1,132.4 180.7,132.4 180.4,132.4 180.0,132.4 179.7,132.4 179.3,132.4 178.9,132.4 178.6,132.3 178.2,132.3 177.9,132.3 177.5,132.3 177.1,132.3 176.8,132.3 176.4,132.3 176.1,132.3 175.7,132.3 175.3,132.3 175.0,132.3 174.6,132.3 174.3,132.3 173.9,132.3 173.5,132.3 173.2,132.3 172.8,132.3 172.5,132.3 172.1,132.2 171.7,132.2 171.4,132.2 171.0,132.2 170.7,132.2 170.3,132.2 169.9,132.2 169.6,132.2 169.2,132.2 168.9,132.2 168.5,132.2 168.1,132.2 167.8,132.2 167.4,132.2 167.1,132.2 166.7,132.2 166.3,132.2 166.0,132.2 165.6,132.2 165.3,132.2 164.9,132.2 164.5,132.2 164.2,132.2 163.8,132.2 163.5,132.2 163.1,132.2 162.7,132.2 162.4,132.2 162.0,132.2 161.7,132.2 161.3,132.2 160.9,132.3 160.6,132.3 160.2,132.3 159.9,132.3 159.5,132.3 159.1,132.4 158.8,132.4 158.4,132.4 158.1,132.4 157.7,132.5 157.3,132.5 157.0,132.6 156.6,132.6 156.3,132.7 155.9,132.7 155.5,132.8 155.2,132.8 154.8,132.9 154.5,133.0 154.1,133.1 153.7,133.2 153.4,133.3 153.0,133.4 152.7,133.5 152.3,133.6 151.9,133.7 151.6,133.9 151.2,134.0 150.9,134.2 150.5,134.4 150.1,134.6 149.8,134.8 149.4,135.0 149.1,135.2 148.7,135.4 148.3,135.7 148.0,135.9 147.6,136.2 147.3,136.5 146.9,136.9 146.5,137.2 146.2,137.5 145.8,137.9 145.5,138.3 145.1,138.7 144.7,139.2 144.4,139.6 144.0,140.1 143.7,140.6 143.3,141.1 142.9,141.6 142.6,142.2 142.2,142.7 141.9,143.3 141.5,144.0 141.1,144.6 140.8,145.2 140.4,145.9 140.1,146.6 139.7,147.3 139.3,148.0 139.0,148.8 138.6,149.6 138.3,150.3 137.9,151.1 137.5,151.9 137.2,152.8 136.8,153.6 136.5,154.5 136.1,155.3 135.7,156.2 135.4,157.1 135.0,158.0 134.7,158.9 134.3,159.8 133.9,160.7 133.6,161.6 133.2,162.6 132.9,163.5 132.5,164.4 132.1,165.4 131.8,166.3 131.4,167.2 131.1,168.1 130.7,169.1 130.3,170.0 130.0,170.9 129.6,171.8 129.3,172.7 128.9,173.5 128.5,174.4 128.2,175.3 127.8,176.1 127.5,176.9 127.1,177.7 126.7,178.5 126.4,179.2 126.0,179.9 125.7,180.6 125.3,181.3 124.9,181.9 124.6,182.5 124.2,183.1 123.9,183.6 123.5,184.1 123.1,184.5 122.8,184.9 122.4,185.3 122.1,185.6 121.7,185.8 121.3,186.0 121.0,186.2 120.6,186.3 120.3,186.3 119.9,186.3 119.5,186.2 119.2,186.1 118.8,185.9 118.5,185.7 118.1,185.4 117.7,185.0 117.4,184.6 117.0,184.2 116.7,183.7 116.3,183.2 115.9,182.7 115.6,182.1 115.2,181.5 114.9,180.9 114.5,180.3 114.1,179.6 113.8,179.0 113.4,178.4 113.1,177.8 112.7,177.1 112.3,176.5 112.0,175.9 111.6,175.3 111.3,174.8 110.9,174.2 110.5,173.6 110.2,173.1 109.8,172.6 109.5,172.1 109.1,171.6 108.7,171.1 108.4,170.6 108.0,170.2 107.7,169.7 107.3,169.3 106.9,168.9 106.6,168.5 106.2,168.1 105.9,167.7 105.5,167.4 105.1,167.0 104.8,166.7 104.4,166.3 104.1,166.0 103.7,165.7 103.3,165.4 103.0,165.1 102.6,164.8 102.3,164.6 101.9,164.3 101.5,164.0 101.2,163.8 100.8,163.5 100.5,163.3 100.1,163.1 99.7,162.9 99.4,162.7 99.0,162.5 98.7,162.3 98.3,162.1 97.9,161.9 97.6,161.7 97.2,161.6 96.9,161.4 96.5,161.2 96.1,161.1 95.8,160.9 95.4,160.8 95.1,160.7 94.7,160.5 94.3,160.4 94.0,160.3 93.6,160.1 93.3,160.0 92.9,159.9 92.5,159.8 92.2,159.7 91.8,159.6 91.5,159.5 91.1,159.4 90.7,159.3 90.4,159.2 90.0,159.1 89.7,159.0 89.3,158.9 88.9,158.8 88.6,158.7 88.2,158.6 87.9,158.5 87.5,158.5 87.1,158.4 86.8,158.3 86.4,158.2 86.1,158.2 85.7,158.1 85.3,158.0 85.0,158.0 84.6,157.9 84.3,157.8 83.9,157.8 83.5,157.7 83.2,157.7 82.8,157.6 82.5,157.5 82.1,157.5 81.7,157.4 81.4,157.4 81.0,157.3 80.7,157.3 80.3,157.2 79.9,157.2 79.6,157.1 79.2,157.1 78.9,157.1 78.5,157.0 78.1,157.0 77.8,156.9 77.4,156.9 77.1,156.9 76.7,156.8 76.3,156.8 76.0,156.8 75.6,156.8 75.3,156.8 74.9,156.7 74.5,156.7 74.2,156.7 73.8,156.7 73.5,156.7 73.1,156.7 72.7,156.7 72.4,156.7 72.0,156.7 71.7,156.7 71.3,156.7 70.9,156.7 70.6,156.7 70.2,156.7 69.9,156.8 69.5,156.8 69.1,156.8 68.8,156.8 68.4,156.8 68.1,156.8 67.7,156.9 67.3,156.9 67.0,156.9 66.6,156.9 66.3,157.0 65.9,157.0 65.5,157.0 65.2,157.1 64.8,157.1 64.5,157.1 64.1,157.2 63.7,157.2 63.4,157.2 63.0,157.3 62.7,157.3 62.3,157.3 61.9,157.4 61.6,157.4 61.2,157.5 60.9,157.5 60.5,157.5" fill="none" stroke="#800000" stroke-width="1.75" stroke-linejoin="round" stroke-linecap="round"/>
<polyline points="60.5,117.2 60.9,114.4 61.2,111.9 61.6,109.6 61.9,107.5 62.3,105.5 62.7,103.7 63.0,102.0 63.4,100.5 63.7,99.1 64.1,97.8 64.5,96.6 64.8,95.6 65.2,94.5 65.5,93.6 65.9,92.8 66.3,92.0 66.6,91.3 67.0,90.6 67.3,90.0 67.7,89.4 68.1,88.9 68.4,88.4 68.8,87.9 69.1,87.5 69.5,87.1 69.9,86.7 70.2,86.3 70.6,86.0 70.9,85.7 71.3,85.4 71.7,85.1 72.0,84.9 72.4,84.7 72.7,84.4 73.1,84.2 73.5,84.0 73.8,83.9 74.2,83.7 74.5,83.5 74.9,83.4 75.3,83.3 75.6,83.1 76.0,83.0 76.3,82.9 76.7,82.8 77.1,82.6 77.4,82.5 77.8,82.4 78.1,82.3 78.5,82.3 78.9,82.2 79.2,82.1 79.6,82.0 79.9,81.9 80.3,81.8 80.7,81.8 81.0,81.7 81.4,81.6 81.7,81.6 82.1,81.5 82.5,81.4 82.8,81.4 83.2,81.3 83.5,81.2 83.9,81.2 84.3,81.1 84.6,81.1 85.0,81.0 85.3,81.0 85.7,80.9 86.1,80.9 86.4,80.8 86.8,80.8 87.1,80.7 87.5,80.7 87.9,80.7 88.2,80.6 88.6,80.6 88.9,80.5 89.3,80.5 89.7,80.5 90.0,80.4 90.4,80.4 90.7,80.4 91.1,80.4 91.5,80.3 91.8,80.3 92.2,80.3 92.5,80.3 92.9,80.3 93.3,80.3 93.6,80.3 94.0,80.3 94.3,80.3 94.7,80.3 95.1,80.3 95.4,80.3 95.8,80.3 96.1,80.3 96.5,80.3 96.9,80.3 97.2,80.3 97.6,80.3 97.9,80.4 98.3,80.4 98.7,80.4 99.0,80.4 99.4,80.4 99.7,80.5 100.1,80.5 100.5,80.5 100.8,80.5 101.2,80.5 101.5,80.5 101.9,80.6 102.3,80.6 102.6,80.6 103.0,80.6 103.3,80.6 103.7,80.7 104.1,80.7 104.4,80.7 104.8,80.7 105.1,80.7 105.5,80.8 105.9,80.8 106.2,80.8 106.6,80.8 106.9,80.8 107.3,80.8 107.7,80.9 108.0,80.9 108.4,80.9 108.7,80.9 109.1,80.9 109.5,80.9 109.8,80.9 110.2,81.0 110.5,81.0 110.9,81.0 111.3,81.0 111.6,81.0 112.0,81.0 112.3,81.0 112.7,81.0 113.1,81.0 113.4,81.0 113.8,81.0 114.1,81.0 114.5,80.9 114.9,80.9 115.2,80.9 115.6,80.9 115.9,80.8 116.3,80.8 116.7,80.8 117.0,80.7 117.4,80.7 117.7,80.6 118.1,80.6 118.5,80.5 118.8,80.4 119.2,80.3 119.5,80.2 119.9,80.2 120.3,80.0 120.6,79.9 121.0,79.8 121.3,79.7 121.7,79.5 122.1,79.3 122.4,79.2 122.8,79.0 123.1,78.8 123.5,78.6 123.9,78.3 124.2,78.1 124.6,77.8 124.9,77.5 125.3,77.2 125.7,76.9 126.0,76.6 126.4,76.2 126.7,75.9 127.1,75.5 127.5,75.1 127.8,74.6 128.2,74.2 128.5,73.7 128.9,73.2 129.3,72.7 129.6,72.2 130.0,71.6 130.3,71.0 130.7,70.4 131.1,69.8 131.4,69.2 131.8,68.5 132.1,67.8 132.5,67.1 132.9,66.4 133.2,65.7 133.6,64.9 133.9,64.2 134.3,63.4 134.7,62.6 135.0,61.7 135.4,60.9 135.7,60.1 136.1,59.2 136.5,58.3 136.8,57.4 137.2,56.6 137.5,55.6 137.9,54.7 138.3,53.8 138.6,52.9 139.0,52.0 139.3,51.0 139.7,50.1 140.1,49.1 140.4,48.2 140.8,47.3 141.1,46.3 141.5,45.4 141.9,44.5 142.2,43.5 142.6,42.6 142.9,41.7 143.3,40.8 143.7,39.9 144.0,39.0 144.4,38.2 144.7,37.3 145.1,36.5 145.5,35.7 145.8,34.9 146.2,34.2 146.5,33.4 146.9,32.7 147.3,32.0 147.6,31.4 148.0,30.8 148.3,30.2 148.7,29.7 149.1,29.2 149.4,28.7 149.8,28.3 150.1,27.9 150.5,27.6 150.9,27.4 151.2,27.2 151.6,27.0 151.9,26.9 152.3,26.9 152.7,26.9 153.0,27.0 153.4,27.1 153.7,27.3 154.1,27.5 154.5,27.8 154.8,28.1 155.2,28.5 155.5,29.0 155.9,29.4 156.3,29.9 156.6,30.5 157.0,31.0 157.3,31.6 157.7,32.2 158.1,32.9 158.4,33.5 158.8,34.1 159.1,34.8 159.5,35.4 159.9,36.0 160.2,36.6 160.6,37.2 160.9,37.8 161.3,38.4 161.7,38.9 162.0,39.5 162.4,40.0 162.7,40.5 163.1,41.0 163.5,41.5 163.8,42.0 164.2,42.4 164.5,42.9 164.9,43.3 165.3,43.7 165.6,44.1 166.0,44.5 166.3,44.9 166.7,45.2 167.1,45.6 167.4,45.9 167.8,46.3 168.1,46.6 168.5,46.9 168.9,47.2 169.2,47.5 169.6,47.8 169.9,48.1 170.3,48.4 170.7,48.7 171.0,48.9 171.4,49.2 171.7,49.4 172.1,49.7 172.5,49.9 172.8,50.1 173.2,50.4 173.5,50.6 173.9,50.8 174.3,51.0 174.6,51.2 175.0,51.4 175.3,51.6 175.7,51.8 176.1,51.9 176.4,52.1 176.8,52.3 177.1,52.4 177.5,52.6 177.9,52.8 178.2,52.9 178.6,53.1 178.9,53.2 179.3,53.4 179.7,53.5 180.0,53.6 180.4,53.8 180.7,53.9 181.1,54.0 181.5,54.2 181.8,54.3 182.2,54.4 182.5,54.5 182.9,54.6 183.3,54.7 183.6,54.8 184.0,55.0 184.3,55.1 184.7,55.2 185.1,55.3 185.4,55.4 185.8,55.4 186.1,55.5 186.5,55.6 186.9,55.7 187.2,55.8 187.6,55.9 187.9,56.0 188.3,56.0 188.7,56.1 189.0,56.2 189.4,56.3 189.7,56.3 190.1,56.4 190.5,56.5 190.8,56.5 191.2,56.6 191.5,56.7 191.9,56.7 192.3,56.8 192.6,56.9 193.0,56.9 193.3,57.0 193.7,57.0 194.1,57.1 194.4,57.1 194.8,57.2 195.1,57.2 195.5,57.3 195.9,57.3 196.2,57.4 196.6,57.4 196.9,57.4 197.3,57.5 197.7,57.5 198.0,57.5 198.4,57.6 198.7,57.6 199.1,57.6 199.5,57.7 199.8,57.7 200.2,57.7 200.5,57.8 200.9,57.8 201.3,57.8 201.6,57.8 202.0,57.9 202.3,57.9 202.7,57.9 203.1,57.9 203.4,57.9 203.8,57.9 204.1,58.0 204.5,58.0 204.9,58.0 205.2,58.0 205.6,58.0 205.9,58.0 206.3,58.0 206.7,58.0 207.0,58.0 207.4,58.0 207.7,58.0 208.1,58.0 208.5,58.0 208.8,58.0 209.2,58.0 209.5,58.0 209.9,58.0 210.3,58.0 210.6,58.0 211.0,58.0 211.3,58.0 211.7,58.0 212.1,57.9 212.4,57.9 212.8,57.9 213.1,57.9 213.5,57.9 213.9,57.9 214.2,57.8 214.6,57.8 214.9,57.8 215.3,57.8 215.7,57.7 216.0,57.7 216.4,57.7 216.7,57.7 217.1,57.6 217.5,57.6 217.8,57.6 218.2,57.5 218.5,57.5 218.9,57.5 219.3,57.4 219.6,57.4 220.0,57.3 220.3,57.3 220.7,57.2 221.1,57.2 221.4,57.2 221.8,57.1 222.1,57.1 222.5,57.0 222.9,57.0 223.2,56.9 223.6,56.9 223.9,56.8 224.3,56.7 224.7,56.7 225.0,56.6 225.4,56.6 225.7,56.5 226.1,56.4 226.5,56.4 226.8,56.3 227.2,56.2 227.5,56.2 227.9,56.1 228.3,56.0 228.6,55.9 229.0,55.9 229.3,55.8 229.7,55.7 230.1,55.6 230.4,55.6 230.8,55.5 231.1,55.4 231.5,55.3 231.9,55.2 232.2,55.1 232.6,55.0 232.9,55.0 233.3,54.9 233.7,54.8 234.0,54.7 234.4,54.6 234.7,54.5 235.1,54.4 235.5,54.3 235.8,54.2 236.2,54.1 236.5,54.0 236.9,53.9 237.3,53.8 237.6,53.7 238.0,53.6 238.3,53.5 238.7,53.3 239.1,53.2 239.4,53.1 239.8,53.0 240.1,52.9 240.5,52.8 240.9,52.6 241.2,52.5 241.6,52.4 241.9,52.3 242.3,52.1 242.7,52.0 243.0,51.9 243.4,51.8 243.7,51.6 244.1,51.5 244.5,51.3 244.8,51.2 245.2,51.1 245.5,50.9 245.9,50.8 246.3,50.6 246.6,50.5 247.0,50.3 247.3,50.2 247.7,50.0 248.1,49.9 248.4,49.7 248.8,49.5 249.1,49.4 249.5,49.2 249.9,49.1 250.2,48.9 250.6,48.7 250.9,48.5 251.3,48.4 251.7,48.2 252.0,48.0 252.4,47.8 252.7,47.6 253.1,47.5 253.5,47.3 253.8,47.1 254.2,46.9 254.5,46.7 254.9,46.5 255.3,46.3 255.6,46.1 256.0,45.9 256.3,45.7 256.7,45.5 257.1,45.2 257.4,45.0 257.8,44.8 258.1,44.6 258.5,44.4 258.9,44.1 259.2,43.9 259.6,43.7 259.9,43.4 260.3,43.2 260.7,43.0 261.0,42.7 261.4,42.5 261.7,42.2 262.1,42.0 262.5,41.7 262.8,41.5 263.2,41.2 263.5,40.9 263.9,40.7 264.3,40.4 264.6,40.1 265.0,39.9 265.3,39.6 265.7,39.3 266.1,39.0 266.4,38.7 266.8,38.4 267.1,38.1 267.5,37.8 267.9,37.5 268.2,37.2 268.6,36.9 268.9,36.6 269.3,36.3 269.7,36.0 270.0,35.6 270.4,35.3 270.7,35.0 271.1,34.6 271.5,34.3 271.8,34.0 272.2,33.6 272.5,33.3 272.9,32.9 273.3,32.6 273.6,32.2 274.0,31.8 274.3,31.5 274.7,31.1 275.1,30.7 275.4,30.3 275.8,29.9 276.1,29.5 276.5,29.1 276.1,33.6 275.8,38.1 275.4,42.5 275.1,46.6 274.7,50.5 274.3,54.2 274.0,57.7 273.6,61.1 273.3,64.3 272.9,67.3 272.5,70.2 272.2,72.9 271.8,75.5 271.5,78.0 271.1,80.3 270.7,82.5 270.4,84.6 270.0,86.7 269.7,88.6 269.3,90.4 268.9,92.1 268.6,93.8 268.2,95.4 267.9,96.9 267.5,98.3 267.1,99.6 266.8,100.9 266.4,102.1 266.1,103.3 265.7,104.4 265.3,105.5 265.0,106.5 264.6,107.5 264.3,108.4 263.9,109.3 263.5,110.1 263.2,110.9 262.8,111.7 262.5,112.4 262.1,113.1 261.7,113.8 261.4,114.4 261.0,115.0 260.7,115.6 260.3,116.1 259.9,116.7 259.6,117.2 259.2,117.7 258.9,118.1 258.5,118.6 258.1,119.0 257.8,119.4 257.4,119.8 257.1,120.2 256.7,120.5 256.3,120.9 256.0,121.2 255.6,121.5 255.3,121.8 254.9,122.1 254.5,122.4 254.2,122.7 253.8,123.0 253.5,123.2 253.1,123.5 252.7,123.7 252.4,123.9 252.0,124.2 251.7,124.4 251.3,124.6 250.9,124.8 250.6,125.0 250.2,125.2 249.9,125.4 249.5,125.5 249.1,125.7 248.8,125.9 248.4,126.0 248.1,126.2 247.7,126.3 247.3,126.5 247.0,126.6 246.6,126.8 246.3,126.9 245.9,127.1 245.5,127.2 245.2,127.3 244.8,127.4 244.5,127.6 244.1,127.7 243.7,127.8 243.4,127.9 243.0,128.0 242.7,128.1 242.3,128.2 241.9,128.3 241.6,128.5 241.2,128.6 240.9,128.7 240.5,128.8 240.1,128.8 239.8,128.9 239.4,129.0 239.1,129.1 238.7,129.2 238.3,129.3 238.0,129.4 237.6,129.5 237.3,129.6 236.9,129.6 236.5,129.7 236.2,129.8 235.8,129.9 235.5,130.0 235.1,130.0 234.7,130.1 234.4,130.2 234.0,130.3 233.7,130.3 233.3,130.4 232.9,130.5 232.6,130.6 232.2,130.6 231.9,130.7 231.5,130.8 231.1,130.8 230.8,130.9 230.4,131.0 230.1,131.0 229.7,131.1 229.3,131.2 229.0,131.2 228.6,131.3 228.3,131.4 227.9,131.4 227.5,131.5 227.2,131.5 226.8,131.6 226.5,131.7 226.1,131.7 225.7,131.8 225.4,131.8 225.0,131.9 224.7,131.9 224.3,132.0 223.9,132.1 223.6,132.1 223.2,132.2 222.9,132.2 222.5,132.3 222.1,132.3 221.8,132.4 221.4,132.4 221.1,132.5 220.7,132.5 220.3,132.6 220.0,132.6 219.6,132.7 219.3,132.7 218.9,132.8 218.5,132.8 218.2,132.9 217.8,132.9 217.5,132.9 217.1,133.0 216.7,133.0 216.4,133.1 216.0,133.1 215.7,133.2 215.3,133.2 214.9,133.2 214.6,133.3 214.2,133.3 213.9,133.4 213.5,133.4 213.1,133.4 212.8,133.5 212.4,133.5 212.1,133.6 211.7,133.6 211.3,133.6 211.0,133.7 210.6,133.7 210.3,133.7 209.9,133.8 209.5,133.8 209.2,133.8 208.8,133.9 208.5,133.9 208.1,133.9 207.7,134.0 207.4,134.0 207.0,134.0 206.7,134.1 206.3,134.1 205.9,134.1 205.6,134.1 205.2,134.2 204.9,134.2 204.5,134.2 204.1,134.3 203.8,134.3 203.4,134.3 203.1,134.3 202.7,134.4 202.3,134.4 202.0,134.4 201.6,134.4 201.3,134.4 200.9,134.5 200.5,134.5 200.2,134.5 199.8,134.5 199.5,134.6 199.1,134.6 198.7,134.6 198.4,134.6 198.0,134.6 197.7,134.6 197.3,134.7 196.9,134.7 196.6,134.7 196.2,134.7 195.9,134.7 195.5,134.7 195.1,134.8 194.8,134.8 194.4,134.8 194.1,134.8 193.7,134.8 193.3,134.8 193.0,134.8 192.6,134.8 192.3,134.9 191.9,134.9 191.5,134.9 191.2,134.9 190.8,134.9 190.5,134.9 190.1,134.9 189.7,134.9 189.4,134.9 189.0,134.9 188.7,134.9 188.3,134.9 187.9,135.0 187.6,135.0 187.2,135.0 186.9,135.0 186.5,135.0 186.1,135.0 185.8,135.0 185.4,135.0 185.1,135.0 184.7,135.0 184.3,135.0 184.0,135.0 183.6,135.0 183.3,135.0 182.9,135.0 182.5,135.0 182.2,135.0 181.8,135.0 181.5,135.0 181.1,135.0 180.7,135.0 180.4,135.0 180.0,135.0 179.7,135.0 179.3,135.0 178.9,135.0 178.6,135.0 178.2,135.0 177.9,135.0 177.5,135.0 177.1,135.0 176.8,135.0 176.4,135.0 176.1,135.0 175.7,134.9 175.3,134.9 175.0,134.9 174.6,134.9 174.3,134.9 173.9,134.9 173.5,134.9 173.2,134.9 172.8,134.9 172.5,134.9 172.1,134.9 171.7,134.9 171.4,134.9 171.0,134.9 170.7,134.9 170.3,134.9 169.9,134.9 169.6,134.9 169.2,134.8 168.9,134.8 168.5,134.8 168.1,134.8 167.8,134.8 167.4,134.8 167.1,134.8 166.7,134.8 166.3,134.8 166.0,134.8 165.6,134.8 165.3,134.8 164.9,134.8 164.5,134.8 164.2,134.8 163.8,134.8 163.5,134.8 163.1,134.8 162.7,134.8 162.4,134.8 162.0,134.8 161.7,134.9 161.3,134.9 160.9,134.9 160.6,134.9 160.2,134.9 159.9,134.9 159.5,135.0 159.1,135.0 158.8,135.0 158.4,135.0 158.1,135.1 157.7,135.1 157.3,135.1 157.0,135.2 156.6,135.2 156.3,135.3 155.9,135.3 155.5,135.4 155.2,135.5 154.8,135.5 154.5,135.6 154.1,135.7 153.7,135.8 153.4,135.9 153.0,136.0 152.7,136.1 152.3,136.2 151.9,136.4 151.6,136.5 151.2,136.7 150.9,136.8 150.5,137.0 150.1,137.2 149.8,137.4 149.4,137.6 149.1,137.8 148.7,138.1 148.3,138.3 148.0,138.6 147.6,138.9 147.3,139.2 146.9,139.5 146.5,139.8 146.2,140.2 145.8,140.6 145.5,141.0 145.1,141.4 144.7,141.8 144.4,142.3 144.0,142.8 143.7,143.3 143.3,143.8 142.9,144.3 142.6,144.9 142.2,145.5 141.9,146.1 141.5,146.7 141.1,147.3 140.8,148.0 140.4,148.7 140.1,149.4 139.7,150.1 139.3,150.8 139.0,151.6 138.6,152.4 138.3,153.2 137.9,154.0 137.5,154.8 137.2,155.6 136.8,156.5 136.5,157.4 136.1,158.3 135.7,159.2 135.4,160.1 135.0,161.0 134.7,161.9 134.3,162.8 133.9,163.8 133.6,164.7 133.2,165.7 132.9,166.6 132.5,167.6 132.1,168.6 131.8,169.5 131.4,170.5 131.1,171.5 130.7,172.4 130.3,173.4 130.0,174.3 129.6,175.3 129.3,176.2 128.9,177.1 128.5,178.0 128.2,178.9 127.8,179.8 127.5,180.7 127.1,181.5 126.7,182.4 126.4,183.2 126.0,184.0 125.7,184.7 125.3,185.5 124.9,186.2 124.6,186.8 124.2,187.5 123.9,188.1 123.5,188.7 123.1,189.2 122.8,189.7 122.4,190.1 122.1,190.5 121.7,190.9 121.3,191.2 121.0,191.4 120.6,191.6 120.3,191.8 119.9,191.8 119.5,191.9 119.2,191.8 118.8,191.7 118.5,191.6 118.1,191.4 117.7,191.1 117.4,190.8 117.0,190.4 116.7,190.0 116.3,189.5 115.9,189.0 115.6,188.4 115.2,187.8 114.9,187.2 114.5,186.6 114.1,185.9 113.8,185.2 113.4,184.6 113.1,183.9 112.7,183.2 112.3,182.6 112.0,181.9 111.6,181.2 111.3,180.6 110.9,179.9 110.5,179.3 110.2,178.7 109.8,178.1 109.5,177.5 109.1,177.0 108.7,176.4 108.4,175.9 108.0,175.4 107.7,174.9 107.3,174.4 106.9,173.9 106.6,173.5 106.2,173.0 105.9,172.6 105.5,172.2 105.1,171.8 104.8,171.4 104.4,171.0 104.1,170.6 103.7,170.3 103.3,169.9 103.0,169.6 102.6,169.3 102.3,168.9 101.9,168.6 101.5,168.3 101.2,168.1 100.8,167.8 100.5,167.5 100.1,167.3 99.7,167.0 99.4,166.8 99.0,166.6 98.7,166.3 98.3,166.1 97.9,165.9 97.6,165.7 97.2,165.5 96.9,165.4 96.5,165.2 96.1,165.0 95.8,164.9 95.4,164.7 95.1,164.6 94.7,164.4 94.3,164.3 94.0,164.1 93.6,164.0 93.3,163.9 92.9,163.8 92.5,163.6 92.2,163.5 91.8,163.4 91.5,163.3 91.1,163.2 90.7,163.1 90.4,163.0 90.0,162.9 89.7,162.8 89.3,162.7 88.9,162.6 88.6,162.5 88.2,162.4 87.9,162.3 87.5,162.2 87.1,162.1 86.8,162.1 86.4,162.0 86.1,161.9 85.7,161.8 85.3,161.8 85.0,161.7 84.6,161.6 84.3,161.5 83.9,161.5 83.5,161.4 83.2,161.4 82.8,161.3 82.5,161.2 82.1,161.2 81.7,161.1 81.4,161.1 81.0,161.0 80.7,161.0 80.3,160.9 79.9,160.9 79.6,160.8 79.2,160.8 78.9,160.8 78.5,160.7 78.1,160.7 77.8,160.6 77.4,160.6 77.1,160.6 76.7,160.5 76.3,160.5 76.0,160.5 75.6,160.5 75.3,160.5 74.9,160.4 74.5,160.4 74.2,160.4 73.8,160.4 73.5,160.4 73.1,160.4 72.7,160.4 72.4,160.4 72.0,160.4 71.7,160.4 71.3,160.4 70.9,160.4 70.6,160.4 70.2,160.4 69.9,160.4 69.5,160.5 69.1,160.5 68.8,160.5 68.4,160.5 68.1,160.5 67.7,160.6 67.3,160.6 67.0,160.6 66.6,160.6 66.3,160.7 65.9,160.7 65.5,160.7 65.2,160.7 64.8,160.8 64.5,160.8 64.1,160.8 63.7,160.9 63.4,160.9 63.0,161.0 62.7,161.0 62.3,161.0 61.9,161.1 61.6,161.1 61.2,161.2 60.9,161.2 60.5,161.2" fill="none" stroke="#008000" stroke-width="2.3" stroke-linejoin="round" stroke-linecap="round"/>
<path d="M42.5,6.7H294.5V211.7" fill="none" stroke="#d9d9d9" stroke-width="1.2"/>
<path d="M42.5,6.7V211.7H294.5" fill="none" stroke="#2a2a2a" stroke-width="1.1"/>
<path d="M38.5,211.40H42.5M38.5,190.28H42.5M38.5,169.16H42.5M38.5,148.04H42.5M38.5,126.92H42.5M38.5,105.80H42.5M38.5,84.68H42.5M38.5,63.56H42.5M38.5,42.44H42.5M38.5,21.32H42.5M40.5,200.84H42.5M40.5,179.72H42.5M40.5,158.60H42.5M40.5,137.48H42.5M40.5,116.36H42.5M40.5,95.24H42.5M40.5,74.12H42.5M40.5,53.00H42.5M40.5,31.88H42.5M40.5,10.76H42.5M60.50,211.7V215.7M96.50,211.7V215.7M132.50,211.7V215.7M168.50,211.7V215.7M204.50,211.7V215.7M240.50,211.7V215.7M276.50,211.7V215.7M78.50,211.7V213.7M114.50,211.7V213.7M150.50,211.7V213.7M186.50,211.7V213.7M222.50,211.7V213.7M258.50,211.7V213.7M294.50,211.7V213.7" stroke="#2a2a2a" stroke-width="1"/>
<text x="36.3" y="215.55" text-anchor="end" font-size="12.2">-400</text>
<text x="36.3" y="194.43" text-anchor="end" font-size="12.2">-320</text>
<text x="36.3" y="173.31" text-anchor="end" font-size="12.2">-240</text>
<text x="36.3" y="152.19" text-anchor="end" font-size="12.2">-160</text>
<text x="36.3" y="131.07" text-anchor="end" font-size="12.2">-80</text>
<text x="36.3" y="109.95" text-anchor="end" font-size="12.2">0</text>
<text x="36.3" y="88.83" text-anchor="end" font-size="12.2">80</text>
<text x="36.3" y="67.71" text-anchor="end" font-size="12.2">160</text>
<text x="36.3" y="46.59" text-anchor="end" font-size="12.2">240</text>
<text x="36.3" y="25.47" text-anchor="end" font-size="12.2">320</text>
<text x="60.50" y="227.7" text-anchor="middle" font-size="12.2">-0.2</text>
<text x="96.50" y="227.7" text-anchor="middle" font-size="12.2">0.0</text>
<text x="132.50" y="227.7" text-anchor="middle" font-size="12.2">0.2</text>
<text x="168.50" y="227.7" text-anchor="middle" font-size="12.2">0.4</text>
<text x="204.50" y="227.7" text-anchor="middle" font-size="12.2">0.6</text>
<text x="240.50" y="227.7" text-anchor="middle" font-size="12.2">0.8</text>
<text x="276.50" y="227.7" text-anchor="middle" font-size="12.2">1.0</text>
</g>
<polyline points="363.8,113.1 364.1,110.3 364.5,109.8 364.8,109.6 365.2,109.6 365.6,109.5 365.9,109.4 366.3,109.4 366.6,109.4 367.0,109.3 367.4,109.3 367.7,109.2 368.1,109.2 368.4,109.2 368.8,109.1 369.1,109.1 369.5,109.1 369.9,109.0 370.2,109.0 370.6,108.9 370.9,108.9 371.3,108.9 371.7,108.8 372.0,108.8 372.4,108.8 372.8,108.7 373.1,108.7 373.5,108.6 373.8,108.6 374.2,108.5 374.6,108.5 374.9,108.5 375.3,108.4 375.6,108.4 376.0,108.4 376.4,108.3 376.7,108.3 377.1,108.3 377.4,108.2 377.8,108.2 378.1,108.2 378.5,108.1 378.9,108.1 379.2,108.1 379.6,108.1 379.9,108.0 380.3,108.0 380.7,108.0 381.0,108.0 381.4,108.0 381.8,107.9 382.1,107.9 382.5,107.9 382.8,107.9 383.2,107.9 383.6,107.8 383.9,107.8 384.3,107.8 384.6,107.8 385.0,107.8 385.4,107.8 385.7,107.8 386.1,107.7 386.4,107.7 386.8,107.7 387.1,107.7 387.5,107.7 387.9,107.7 388.2,107.7 388.6,107.7 388.9,107.7 389.3,107.6 389.7,107.6 390.0,107.6 390.4,107.6 390.8,107.6 391.1,107.6 391.5,107.6 391.8,107.6 392.2,107.6 392.6,107.6 392.9,107.6 393.3,107.6 393.6,107.6 394.0,107.6 394.4,107.6 394.7,107.6 395.1,107.6 395.4,107.6 395.8,107.6 396.1,107.6 396.5,107.5 396.9,107.5 397.2,107.5 397.6,107.5 397.9,107.5 398.3,107.5 398.7,107.5 399.0,107.5 399.4,107.5 399.8,107.5 400.1,107.6 400.5,107.6 400.8,107.6 401.2,107.6 401.6,107.6 401.9,107.6 402.3,107.6 402.6,107.6 403.0,107.6 403.4,107.6 403.7,107.6 404.1,107.6 404.4,107.6 404.8,107.6 405.1,107.6 405.5,107.6 405.9,107.6 406.2,107.6 406.6,107.6 406.9,107.6 407.3,107.6 407.7,107.6 408.0,107.6 408.4,107.6 408.8,107.6 409.1,107.6 409.5,107.7 409.8,107.7 410.2,107.7 410.6,107.7 410.9,107.7 411.3,107.7 411.6,107.7 412.0,107.7 412.4,107.7 412.7,107.7 413.1,107.7 413.4,107.7 413.8,107.7 414.1,107.7 414.5,107.7 414.9,107.7 415.2,107.7 415.6,107.7 415.9,107.7 416.3,107.7 416.7,107.7 417.0,107.7 417.4,107.7 417.8,107.7 418.1,107.7 418.5,107.7 418.8,107.7 419.2,107.7 419.6,107.7 419.9,107.7 420.3,107.7 420.6,107.7 421.0,107.7 421.4,107.7 421.7,107.6 422.1,107.6 422.4,107.6 422.8,107.6 423.1,107.6 423.5,107.5 423.9,107.5 424.2,107.5 424.6,107.4 424.9,107.4 425.3,107.3 425.7,107.3 426.0,107.2 426.4,107.2 426.8,107.1 427.1,107.0 427.5,106.9 427.8,106.9 428.2,106.8 428.6,106.7 428.9,106.6 429.3,106.5 429.6,106.4 430.0,106.2 430.4,106.1 430.7,106.0 431.1,105.8 431.4,105.7 431.8,105.5 432.1,105.3 432.5,105.2 432.9,105.0 433.2,104.8 433.6,104.6 433.9,104.4 434.3,104.2 434.7,103.9 435.0,103.7 435.4,103.5 435.8,103.2 436.1,103.0 436.5,102.8 436.8,102.5 437.2,102.2 437.6,102.0 437.9,101.7 438.3,101.5 438.6,101.2 439.0,100.9 439.4,100.7 439.7,100.4 440.1,100.1 440.4,99.9 440.8,99.6 441.1,99.4 441.5,99.1 441.9,98.9 442.2,98.7 442.6,98.4 442.9,98.2 443.3,98.0 443.7,97.8 444.0,97.7 444.4,97.5 444.8,97.3 445.1,97.2 445.5,97.1 445.8,97.0 446.2,96.9 446.6,96.8 446.9,96.8 447.3,96.8 447.6,96.7 448.0,96.7 448.4,96.8 448.7,96.8 449.1,96.8 449.4,96.9 449.8,97.0 450.1,97.1 450.5,97.2 450.9,97.3 451.2,97.4 451.6,97.5 451.9,97.7 452.3,97.8 452.7,97.9 453.0,98.1 453.4,98.2 453.8,98.4 454.1,98.5 454.5,98.7 454.8,98.8 455.2,98.9 455.6,99.1 455.9,99.2 456.3,99.3 456.6,99.5 457.0,99.6 457.4,99.7 457.7,99.8 458.1,100.0 458.4,100.1 458.8,100.2 459.1,100.3 459.5,100.4 459.9,100.5 460.2,100.6 460.6,100.6 460.9,100.7 461.3,100.8 461.7,100.9 462.0,101.0 462.4,101.0 462.8,101.1 463.1,101.2 463.5,101.2 463.8,101.3 464.2,101.4 464.6,101.4 464.9,101.5 465.3,101.5 465.6,101.6 466.0,101.6 466.4,101.7 466.7,101.7 467.1,101.8 467.4,101.8 467.8,101.9 468.1,101.9 468.5,102.0 468.9,102.0 469.2,102.0 469.6,102.1 469.9,102.1 470.3,102.1 470.7,102.2 471.0,102.2 471.4,102.2 471.8,102.2 472.1,102.3 472.5,102.3 472.8,102.3 473.2,102.3 473.6,102.4 473.9,102.4 474.3,102.4 474.6,102.4 475.0,102.5 475.4,102.5 475.7,102.5 476.1,102.5 476.4,102.5 476.8,102.5 477.1,102.6 477.5,102.6 477.9,102.6 478.2,102.6 478.6,102.6 478.9,102.6 479.3,102.6 479.7,102.7 480.0,102.7 480.4,102.7 480.8,102.7 481.1,102.7 481.5,102.7 481.8,102.7 482.2,102.7 482.6,102.7 482.9,102.7 483.3,102.7 483.6,102.7 484.0,102.8 484.4,102.8 484.7,102.8 485.1,102.8 485.4,102.8 485.8,102.8 486.1,102.8 486.5,102.8 486.9,102.8 487.2,102.8 487.6,102.8 487.9,102.8 488.3,102.8 488.7,102.8 489.0,102.8 489.4,102.8 489.8,102.8 490.1,102.8 490.5,102.8 490.8,102.8 491.2,102.8 491.6,102.8 491.9,102.8 492.3,102.8 492.6,102.8 493.0,102.8 493.4,102.8 493.7,102.8 494.1,102.8 494.4,102.8 494.8,102.8 495.1,102.8 495.5,102.8 495.9,102.8 496.2,102.8 496.6,102.8 496.9,102.8 497.3,102.8 497.7,102.8 498.0,102.8 498.4,102.8 498.8,102.8 499.1,102.8 499.5,102.8 499.8,102.8 500.2,102.8 500.6,102.8 500.9,102.8 501.3,102.8 501.6,102.8 502.0,102.8 502.4,102.8 502.7,102.8 503.1,102.8 503.4,102.8 503.8,102.7 504.1,102.7 504.5,102.7 504.9,102.7 505.2,102.7 505.6,102.7 506.0,102.7 506.3,102.7 506.7,102.7 507.0,102.7 507.4,102.7 507.8,102.7 508.1,102.7 508.5,102.6 508.8,102.6 509.2,102.6 509.6,102.6 509.9,102.6 510.3,102.6 510.6,102.6 511.0,102.6 511.4,102.6 511.7,102.6 512.1,102.5 512.4,102.5 512.8,102.5 513.1,102.5 513.5,102.5 513.9,102.5 514.2,102.5 514.6,102.4 515.0,102.4 515.3,102.4 515.7,102.4 516.0,102.4 516.4,102.4 516.8,102.4 517.1,102.3 517.5,102.3 517.8,102.3 518.2,102.3 518.5,102.3 518.9,102.3 519.3,102.2 519.6,102.2 520.0,102.2 520.4,102.2 520.7,102.2 521.1,102.1 521.4,102.1 521.8,102.1 522.1,102.1 522.5,102.1 522.9,102.0 523.2,102.0 523.6,102.0 524.0,102.0 524.3,101.9 524.7,101.9 525.0,101.9 525.4,101.9 525.8,101.8 526.1,101.8 526.5,101.8 526.8,101.8 527.2,101.7 527.5,101.7 527.9,101.7 528.3,101.6 528.6,101.6 529.0,101.6 529.4,101.6 529.7,101.5 530.1,101.5 530.4,101.5 530.8,101.4 531.1,101.4 531.5,101.4 531.9,101.3 532.2,101.3 532.6,101.3 533.0,101.2 533.3,101.2 533.7,101.1 534.0,101.1 534.4,101.1 534.8,101.0 535.1,101.0 535.5,100.9 535.8,100.9 536.2,100.9 536.5,100.8 536.9,100.8 537.3,100.7 537.6,100.7 538.0,100.6 538.4,100.6 538.7,100.5 539.1,100.5 539.4,100.4 539.8,100.4 540.1,100.3 540.5,100.3 540.9,100.2 541.2,100.2 541.6,100.1 542.0,100.1 542.3,100.0 542.7,100.0 543.0,99.9 543.4,99.9 543.8,99.8 544.1,99.8 544.5,99.7 544.8,99.6 545.2,99.6 545.5,99.5 545.9,99.5 546.3,99.4 546.6,99.3 547.0,99.3 547.4,99.2 547.7,99.1 548.1,99.1 548.4,99.0 548.8,98.9 549.1,98.8 549.5,98.8 549.9,98.7 550.2,98.6 550.6,98.6 551.0,98.5 551.3,98.4 551.7,98.3 552.0,98.2 552.4,98.2 552.8,98.1 553.1,98.0 553.5,97.9 553.8,97.8 554.2,97.8 554.5,97.7 554.9,97.6 555.3,97.5 555.6,97.4 556.0,97.3 556.4,97.2 556.7,97.1 557.1,97.0 557.4,96.9 557.8,96.8 558.2,96.7 558.5,96.6 558.9,96.5 559.2,96.4 559.6,96.3 560.0,96.2 560.3,96.1 560.7,96.0 561.0,95.9 561.4,95.8 561.8,95.7 562.1,95.6 562.5,95.4 562.8,95.3 563.2,95.2 563.5,95.1 563.9,95.0 564.3,94.8 564.6,94.7 565.0,94.6 565.4,94.5 565.7,94.3 566.1,94.2 566.4,94.1 566.8,93.9 567.2,93.8 567.5,93.7 567.9,93.5 568.2,93.4 568.6,93.2 569.0,93.1 569.3,92.9 569.7,92.8 570.0,92.6 570.4,92.5 570.8,92.3 571.1,92.2 571.5,92.1 571.8,92.0 572.2,92.0 572.5,91.9 572.9,91.8 573.3,91.8 573.6,91.8 574.0,91.8 574.4,91.8 574.7,91.8 575.1,91.8 575.4,91.8 575.8,91.8 576.1,91.8 576.5,91.8 576.9,91.8 577.2,91.9 577.6,91.9 578.0,91.9 578.3,91.9 578.7,91.9 579.0,91.9 579.4,91.9 579.8,91.8 579.4,92.8 579.0,93.6 578.7,94.5 578.3,95.2 578.0,96.0 577.6,96.7 577.2,97.4 576.9,98.0 576.5,98.6 576.1,99.2 575.8,99.7 575.4,100.2 575.1,100.7 574.7,101.2 574.4,101.6 574.0,102.0 573.6,102.4 573.3,102.8 572.9,103.2 572.5,103.5 572.2,103.8 571.8,104.1 571.5,104.4 571.1,104.6 570.8,104.9 570.4,105.1 570.0,105.4 569.7,105.6 569.3,105.8 569.0,106.0 568.6,106.1 568.2,106.3 567.9,106.5 567.5,106.6 567.1,106.7 566.8,106.9 566.4,107.0 566.1,107.1 565.7,107.2 565.4,107.3 565.0,107.4 564.6,107.5 564.3,107.6 563.9,107.7 563.5,107.7 563.2,107.8 562.8,107.9 562.5,107.9 562.1,108.0 561.8,108.0 561.4,108.1 561.0,108.1 560.7,108.2 560.3,108.2 560.0,108.2 559.6,108.3 559.2,108.3 558.9,108.3 558.5,108.3 558.1,108.4 557.8,108.4 557.4,108.4 557.1,108.4 556.7,108.4 556.4,108.4 556.0,108.4 555.6,108.4 555.3,108.4 554.9,108.4 554.5,108.4 554.2,108.4 553.8,108.4 553.5,108.4 553.1,108.4 552.8,108.4 552.4,108.4 552.0,108.4 551.7,108.4 551.3,108.4 551.0,108.4 550.6,108.4 550.2,108.4 549.9,108.4 549.5,108.4 549.1,108.4 548.8,108.4 548.4,108.4 548.1,108.3 547.7,108.3 547.4,108.3 547.0,108.3 546.6,108.3 546.3,108.3 545.9,108.3 545.5,108.3 545.2,108.3 544.8,108.3 544.5,108.2 544.1,108.2 543.8,108.2 543.4,108.2 543.0,108.2 542.7,108.2 542.3,108.2 542.0,108.2 541.6,108.2 541.2,108.2 540.9,108.1 540.5,108.1 540.1,108.1 539.8,108.1 539.4,108.1 539.1,108.1 538.7,108.1 538.4,108.1 538.0,108.1 537.6,108.1 537.3,108.1 536.9,108.1 536.5,108.1 536.2,108.0 535.8,108.0 535.5,108.0 535.1,108.0 534.8,108.0 534.4,108.0 534.0,108.0 533.7,108.0 533.3,108.0 533.0,108.0 532.6,108.0 532.2,108.0 531.9,108.0 531.5,108.0 531.1,108.0 530.8,108.0 530.4,108.0 530.1,108.0 529.7,108.0 529.4,108.0 529.0,108.0 528.6,108.0 528.3,108.0 527.9,108.0 527.5,108.0 527.2,108.0 526.8,108.0 526.5,108.0 526.1,108.0 525.8,108.1 525.4,108.1 525.0,108.1 524.7,108.1 524.3,108.1 524.0,108.1 523.6,108.1 523.2,108.1 522.9,108.1 522.5,108.1 522.1,108.1 521.8,108.2 521.4,108.2 521.1,108.2 520.7,108.2 520.4,108.2 520.0,108.2 519.6,108.2 519.3,108.2 518.9,108.3 518.5,108.3 518.2,108.3 517.8,108.3 517.5,108.3 517.1,108.3 516.8,108.3 516.4,108.4 516.0,108.4 515.7,108.4 515.3,108.4 515.0,108.4 514.6,108.4 514.2,108.4 513.9,108.5 513.5,108.5 513.1,108.5 512.8,108.5 512.4,108.5 512.1,108.6 511.7,108.6 511.4,108.6 511.0,108.6 510.6,108.6 510.3,108.6 509.9,108.7 509.6,108.7 509.2,108.7 508.8,108.7 508.5,108.7 508.1,108.7 507.8,108.8 507.4,108.8 507.0,108.8 506.7,108.8 506.3,108.8 505.9,108.9 505.6,108.9 505.2,108.9 504.9,108.9 504.5,108.9 504.1,108.9 503.8,109.0 503.4,109.0 503.1,109.0 502.7,109.0 502.4,109.0 502.0,109.0 501.6,109.1 501.3,109.1 500.9,109.1 500.6,109.1 500.2,109.1 499.8,109.1 499.5,109.2 499.1,109.2 498.8,109.2 498.4,109.2 498.0,109.2 497.7,109.2 497.3,109.3 496.9,109.3 496.6,109.3 496.2,109.3 495.9,109.3 495.5,109.3 495.1,109.3 494.8,109.3 494.4,109.4 494.1,109.4 493.7,109.4 493.4,109.4 493.0,109.4 492.6,109.4 492.3,109.4 491.9,109.4 491.6,109.4 491.2,109.4 490.8,109.5 490.5,109.5 490.1,109.5 489.8,109.5 489.4,109.5 489.0,109.5 488.7,109.5 488.3,109.5 487.9,109.5 487.6,109.5 487.2,109.5 486.9,109.5 486.5,109.5 486.1,109.5 485.8,109.5 485.4,109.5 485.1,109.6 484.7,109.6 484.4,109.6 484.0,109.6 483.6,109.6 483.3,109.6 482.9,109.6 482.6,109.6 482.2,109.6 481.8,109.6 481.5,109.6 481.1,109.6 480.8,109.6 480.4,109.6 480.0,109.6 479.7,109.6 479.3,109.6 478.9,109.6 478.6,109.6 478.2,109.6 477.9,109.6 477.5,109.6 477.1,109.7 476.8,109.7 476.4,109.7 476.1,109.7 475.7,109.7 475.4,109.7 475.0,109.7 474.6,109.7 474.3,109.7 473.9,109.7 473.6,109.7 473.2,109.7 472.8,109.7 472.5,109.7 472.1,109.7 471.8,109.7 471.4,109.7 471.0,109.8 470.7,109.8 470.3,109.8 469.9,109.8 469.6,109.8 469.2,109.8 468.9,109.8 468.5,109.8 468.1,109.8 467.8,109.8 467.4,109.8 467.1,109.9 466.7,109.9 466.4,109.9 466.0,109.9 465.6,109.9 465.3,109.9 464.9,109.9 464.6,109.9 464.2,110.0 463.8,110.0 463.5,110.0 463.1,110.0 462.8,110.0 462.4,110.0 462.0,110.0 461.7,110.1 461.3,110.1 460.9,110.1 460.6,110.1 460.2,110.1 459.9,110.2 459.5,110.2 459.1,110.2 458.8,110.2 458.4,110.3 458.1,110.3 457.7,110.3 457.4,110.3 457.0,110.4 456.6,110.4 456.3,110.4 455.9,110.5 455.6,110.5 455.2,110.6 454.8,110.6 454.5,110.7 454.1,110.7 453.8,110.8 453.4,110.8 453.0,110.9 452.7,111.0 452.3,111.0 451.9,111.1 451.6,111.2 451.2,111.3 450.9,111.3 450.5,111.4 450.1,111.5 449.8,111.6 449.4,111.8 449.1,111.9 448.7,112.0 448.4,112.1 448.0,112.3 447.6,112.4 447.3,112.6 446.9,112.7 446.6,112.9 446.2,113.1 445.8,113.2 445.5,113.4 445.1,113.6 444.8,113.8 444.4,114.0 444.0,114.3 443.7,114.5 443.3,114.7 442.9,115.0 442.6,115.2 442.2,115.4 441.9,115.7 441.5,116.0 441.1,116.2 440.8,116.5 440.4,116.7 440.1,117.0 439.7,117.3 439.4,117.5 439.0,117.8 438.6,118.1 438.3,118.3 437.9,118.6 437.6,118.9 437.2,119.1 436.8,119.4 436.5,119.6 436.1,119.8 435.8,120.0 435.4,120.3 435.0,120.5 434.7,120.7 434.3,120.8 433.9,121.0 433.6,121.2 433.2,121.3 432.9,121.4 432.5,121.5 432.1,121.6 431.8,121.7 431.4,121.8 431.1,121.8 430.7,121.8 430.3,121.8 430.0,121.8 429.6,121.8 429.3,121.8 428.9,121.7 428.6,121.6 428.2,121.6 427.8,121.5 427.5,121.4 427.1,121.3 426.8,121.2 426.4,121.0 426.0,120.9 425.7,120.8 425.3,120.7 424.9,120.5 424.6,120.4 424.2,120.3 423.9,120.1 423.5,120.0 423.1,119.9 422.8,119.8 422.4,119.6 422.1,119.5 421.7,119.4 421.4,119.3 421.0,119.2 420.6,119.1 420.3,119.0 419.9,118.9 419.6,118.8 419.2,118.7 418.8,118.6 418.5,118.5 418.1,118.4 417.8,118.4 417.4,118.3 417.0,118.2 416.7,118.2 416.3,118.1 415.9,118.0 415.6,118.0 415.2,117.9 414.9,117.9 414.5,117.8 414.1,117.8 413.8,117.7 413.4,117.7 413.1,117.6 412.7,117.6 412.3,117.5 412.0,117.5 411.6,117.5 411.3,117.4 410.9,117.4 410.6,117.4 410.2,117.3 409.8,117.3 409.5,117.3 409.1,117.3 408.8,117.2 408.4,117.2 408.0,117.2 407.7,117.2 407.3,117.2 406.9,117.1 406.6,117.1 406.2,117.1 405.9,117.1 405.5,117.1 405.1,117.1 404.8,117.0 404.4,117.0 404.1,117.0 403.7,117.0 403.4,117.0 403.0,117.0 402.6,117.0 402.3,117.0 401.9,117.0 401.6,117.0 401.2,117.0 400.8,117.0 400.5,117.0 400.1,116.9 399.8,116.9 399.4,116.9 399.0,116.9 398.7,116.9 398.3,116.9 397.9,116.9 397.6,116.9 397.2,116.9 396.9,117.0 396.5,117.0 396.1,117.0 395.8,117.0 395.4,117.0 395.1,117.0 394.7,117.0 394.4,117.0 394.0,117.0 393.6,117.0 393.3,117.1 392.9,117.1 392.6,117.1 392.2,117.1 391.8,117.1 391.5,117.1 391.1,117.2 390.8,117.2 390.4,117.2 390.0,117.2 389.7,117.2 389.3,117.3 388.9,117.3 388.6,117.3 388.2,117.3 387.9,117.3 387.5,117.4 387.1,117.4 386.8,117.4 386.4,117.4 386.1,117.4 385.7,117.5 385.3,117.5 385.0,117.5 384.6,117.5 384.3,117.6 383.9,117.6 383.6,117.6 383.2,117.6 382.8,117.7 382.5,117.7 382.1,117.7 381.8,117.7 381.4,117.7 381.0,117.8 380.7,117.8 380.3,117.8 379.9,117.8 379.6,117.9 379.2,117.9 378.9,117.9 378.5,117.9 378.1,117.9 377.8,118.0 377.4,118.0 377.1,118.0 376.7,118.0 376.3,118.1 376.0,118.1 375.6,118.1 375.3,118.1 374.9,118.2 374.5,118.2 374.2,118.2 373.8,118.2 373.5,118.3 373.1,118.3 372.8,118.3 372.4,118.3 372.0,118.4 371.7,118.4 371.3,118.4 370.9,118.4 370.6,118.5 370.2,118.5 369.9,118.5 369.5,118.6 369.2,118.6 368.8,118.6 368.4,118.6 368.1,118.7 367.7,118.7 367.4,118.7 367.0,118.7 366.6,118.8 366.3,118.8 365.9,118.8 365.6,118.9 365.2,118.9 364.8,118.9 364.5,118.9 364.1,119.0 363.8,119.0" fill="none" stroke="#000000" stroke-width="1.75" stroke-linejoin="round" stroke-linecap="round"/>
<polyline points="363.8,113.1 364.1,110.0 364.5,108.3 364.8,107.4 365.2,106.8 365.6,106.3 365.9,106.0 366.3,105.8 366.6,105.5 367.0,105.3 367.4,105.1 367.7,105.0 368.1,104.8 368.4,104.6 368.8,104.4 369.1,104.3 369.5,104.1 369.9,104.0 370.2,103.9 370.6,103.7 370.9,103.6 371.3,103.5 371.7,103.4 372.0,103.3 372.4,103.2 372.8,103.1 373.1,103.0 373.5,103.0 373.8,102.9 374.2,102.8 374.6,102.8 374.9,102.7 375.3,102.7 375.6,102.6 376.0,102.6 376.4,102.6 376.7,102.5 377.1,102.5 377.4,102.5 377.8,102.4 378.1,102.4 378.5,102.4 378.9,102.4 379.2,102.4 379.6,102.3 379.9,102.3 380.3,102.3 380.7,102.3 381.0,102.3 381.4,102.3 381.8,102.3 382.1,102.3 382.5,102.3 382.8,102.3 383.2,102.3 383.6,102.4 383.9,102.4 384.3,102.4 384.6,102.4 385.0,102.4 385.4,102.4 385.7,102.4 386.1,102.5 386.4,102.5 386.8,102.5 387.1,102.5 387.5,102.5 387.9,102.6 388.2,102.6 388.6,102.6 388.9,102.6 389.3,102.6 389.7,102.7 390.0,102.7 390.4,102.7 390.8,102.7 391.1,102.8 391.5,102.8 391.8,102.8 392.2,102.8 392.6,102.9 392.9,102.9 393.3,102.9 393.6,102.9 394.0,102.9 394.4,102.9 394.7,103.0 395.1,103.0 395.4,103.0 395.8,103.0 396.1,103.0 396.5,103.0 396.9,103.0 397.2,103.0 397.6,103.1 397.9,103.1 398.3,103.1 398.7,103.1 399.0,103.1 399.4,103.1 399.8,103.0 400.1,103.0 400.5,103.0 400.8,103.0 401.2,103.0 401.6,103.0 401.9,103.0 402.3,103.0 402.6,103.0 403.0,103.0 403.4,103.0 403.7,103.0 404.1,103.0 404.4,103.0 404.8,103.0 405.1,103.0 405.5,103.0 405.9,103.0 406.2,103.0 406.6,103.0 406.9,103.0 407.3,103.0 407.7,103.0 408.0,102.9 408.4,102.9 408.8,102.9 409.1,102.9 409.5,102.9 409.8,102.9 410.2,102.9 410.6,102.9 410.9,102.9 411.3,102.9 411.6,102.9 412.0,102.9 412.4,102.9 412.7,102.9 413.1,102.9 413.4,102.9 413.8,102.9 414.1,102.9 414.5,102.9 414.9,102.9 415.2,102.9 415.6,102.9 415.9,102.9 416.3,102.9 416.7,102.9 417.0,102.8 417.4,102.8 417.8,102.8 418.1,102.8 418.5,102.8 418.8,102.8 419.2,102.8 419.6,102.8 419.9,102.7 420.3,102.7 420.6,102.7 421.0,102.7 421.4,102.7 421.7,102.6 422.1,102.6 422.4,102.6 422.8,102.5 423.1,102.5 423.5,102.5 423.9,102.4 424.2,102.4 424.6,102.3 424.9,102.3 425.3,102.2 425.7,102.1 426.0,102.1 426.4,102.0 426.8,101.9 427.1,101.8 427.5,101.7 427.8,101.6 428.2,101.5 428.6,101.4 428.9,101.3 429.3,101.1 429.6,101.0 430.0,100.8 430.4,100.7 430.7,100.5 431.1,100.4 431.4,100.2 431.8,100.0 432.1,99.8 432.5,99.6 432.9,99.3 433.2,99.1 433.6,98.9 433.9,98.6 434.3,98.4 434.7,98.1 435.0,97.8 435.4,97.5 435.8,97.2 436.1,96.9 436.5,96.6 436.8,96.3 437.2,96.0 437.6,95.7 437.9,95.3 438.3,95.0 438.6,94.6 439.0,94.3 439.4,93.9 439.7,93.6 440.1,93.2 440.4,92.9 440.8,92.5 441.1,92.2 441.5,91.8 441.9,91.5 442.2,91.1 442.6,90.8 442.9,90.4 443.3,90.1 443.7,89.8 444.0,89.5 444.4,89.2 444.8,88.9 445.1,88.6 445.5,88.3 445.8,88.1 446.2,87.8 446.6,87.6 446.9,87.4 447.3,87.2 447.6,87.0 448.0,86.9 448.4,86.7 448.7,86.6 449.1,86.6 449.4,86.5 449.8,86.5 450.1,86.4 450.5,86.5 450.9,86.5 451.2,86.5 451.6,86.6 451.9,86.7 452.3,86.8 452.7,87.0 453.0,87.1 453.4,87.3 453.8,87.5 454.1,87.6 454.5,87.8 454.8,88.1 455.2,88.3 455.6,88.5 455.9,88.7 456.3,88.9 456.6,89.1 457.0,89.3 457.4,89.6 457.7,89.8 458.1,90.0 458.4,90.2 458.8,90.4 459.1,90.6 459.5,90.7 459.9,90.9 460.2,91.1 460.6,91.3 460.9,91.4 461.3,91.6 461.7,91.7 462.0,91.9 462.4,92.0 462.8,92.2 463.1,92.3 463.5,92.5 463.8,92.6 464.2,92.7 464.6,92.8 464.9,92.9 465.3,93.1 465.6,93.2 466.0,93.3 466.4,93.4 466.7,93.5 467.1,93.6 467.4,93.7 467.8,93.8 468.1,93.9 468.5,93.9 468.9,94.0 469.2,94.1 469.6,94.2 469.9,94.3 470.3,94.4 470.7,94.4 471.0,94.5 471.4,94.6 471.8,94.6 472.1,94.7 472.5,94.8 472.8,94.8 473.2,94.9 473.6,95.0 473.9,95.0 474.3,95.1 474.6,95.1 475.0,95.2 475.4,95.3 475.7,95.3 476.1,95.4 476.4,95.4 476.8,95.5 477.1,95.5 477.5,95.6 477.9,95.6 478.2,95.7 478.6,95.7 478.9,95.8 479.3,95.8 479.7,95.8 480.0,95.9 480.4,95.9 480.8,96.0 481.1,96.0 481.5,96.0 481.8,96.1 482.2,96.1 482.6,96.2 482.9,96.2 483.3,96.2 483.6,96.3 484.0,96.3 484.4,96.3 484.7,96.4 485.1,96.4 485.4,96.4 485.8,96.5 486.1,96.5 486.5,96.5 486.9,96.5 487.2,96.6 487.6,96.6 487.9,96.6 488.3,96.7 488.7,96.7 489.0,96.7 489.4,96.7 489.8,96.8 490.1,96.8 490.5,96.8 490.8,96.8 491.2,96.9 491.6,96.9 491.9,96.9 492.3,96.9 492.6,96.9 493.0,97.0 493.4,97.0 493.7,97.0 494.1,97.0 494.4,97.0 494.8,97.1 495.1,97.1 495.5,97.1 495.9,97.1 496.2,97.1 496.6,97.1 496.9,97.1 497.3,97.2 497.7,97.2 498.0,97.2 498.4,97.2 498.8,97.2 499.1,97.2 499.5,97.2 499.8,97.2 500.2,97.3 500.6,97.3 500.9,97.3 501.3,97.3 501.6,97.3 502.0,97.3 502.4,97.3 502.7,97.3 503.1,97.3 503.4,97.3 503.8,97.3 504.1,97.3 504.5,97.3 504.9,97.3 505.2,97.3 505.6,97.3 506.0,97.3 506.3,97.3 506.7,97.3 507.0,97.3 507.4,97.3 507.8,97.2 508.1,97.2 508.5,97.2 508.8,97.2 509.2,97.2 509.6,97.2 509.9,97.2 510.3,97.2 510.6,97.2 511.0,97.1 511.4,97.1 511.7,97.1 512.1,97.1 512.4,97.1 512.8,97.1 513.1,97.1 513.5,97.0 513.9,97.0 514.2,97.0 514.6,97.0 515.0,97.0 515.3,97.0 515.7,96.9 516.0,96.9 516.4,96.9 516.8,96.9 517.1,96.9 517.5,96.8 517.8,96.8 518.2,96.8 518.5,96.8 518.9,96.8 519.3,96.8 519.6,96.7 520.0,96.7 520.4,96.7 520.7,96.7 521.1,96.7 521.4,96.6 521.8,96.6 522.1,96.6 522.5,96.6 522.9,96.6 523.2,96.6 523.6,96.5 524.0,96.5 524.3,96.5 524.7,96.5 525.0,96.5 525.4,96.5 525.8,96.5 526.1,96.4 526.5,96.4 526.8,96.4 527.2,96.4 527.5,96.4 527.9,96.4 528.3,96.3 528.6,96.3 529.0,96.3 529.4,96.3 529.7,96.3 530.1,96.2 530.4,96.2 530.8,96.2 531.1,96.2 531.5,96.1 531.9,96.1 532.2,96.1 532.6,96.1 533.0,96.0 533.3,96.0 533.7,96.0 534.0,96.0 534.4,95.9 534.8,95.9 535.1,95.9 535.5,95.8 535.8,95.8 536.2,95.8 536.5,95.7 536.9,95.7 537.3,95.7 537.6,95.6 538.0,95.6 538.4,95.6 538.7,95.5 539.1,95.5 539.4,95.5 539.8,95.4 540.1,95.4 540.5,95.3 540.9,95.3 541.2,95.3 541.6,95.2 542.0,95.2 542.3,95.1 542.7,95.1 543.0,95.0 543.4,95.0 543.8,94.9 544.1,94.9 544.5,94.8 544.8,94.8 545.2,94.7 545.5,94.7 545.9,94.6 546.3,94.6 546.6,94.5 547.0,94.5 547.4,94.4 547.7,94.4 548.1,94.3 548.4,94.2 548.8,94.2 549.1,94.1 549.5,94.1 549.9,94.0 550.2,93.9 550.6,93.9 551.0,93.8 551.3,93.7 551.7,93.7 552.0,93.6 552.4,93.5 552.8,93.4 553.1,93.4 553.5,93.3 553.8,93.2 554.2,93.1 554.5,93.1 554.9,93.0 555.3,92.9 555.6,92.8 556.0,92.7 556.4,92.7 556.7,92.6 557.1,92.5 557.4,92.4 557.8,92.3 558.2,92.2 558.5,92.1 558.9,92.0 559.2,91.9 559.6,91.8 560.0,91.7 560.3,91.6 560.7,91.5 561.0,91.4 561.4,91.3 561.8,91.2 562.1,91.1 562.5,91.0 562.8,90.9 563.2,90.8 563.5,90.7 563.9,90.5 564.3,90.4 564.6,90.3 565.0,90.2 565.4,90.1 565.7,89.9 566.1,89.8 566.4,89.7 566.8,89.5 567.2,89.4 567.5,89.3 567.9,89.1 568.2,89.0 568.6,88.9 569.0,88.7 569.3,88.6 569.7,88.4 570.0,88.3 570.4,88.1 570.8,88.0 571.1,87.8 571.5,87.7 571.8,87.6 572.2,87.6 572.5,87.5 572.9,87.4 573.3,87.4 573.6,87.4 574.0,87.3 574.4,87.3 574.7,87.3 575.1,87.3 575.4,87.3 575.8,87.3 576.1,87.3 576.5,87.3 576.9,87.3 577.2,87.3 577.6,87.3 578.0,87.3 578.3,87.3 578.7,87.3 579.0,87.2 579.4,87.2 579.8,87.2 579.4,88.3 579.0,89.4 578.7,90.5 578.3,91.5 578.0,92.4 577.6,93.3 577.2,94.2 576.9,95.0 576.5,95.8 576.1,96.6 575.8,97.3 575.4,98.0 575.1,98.6 574.7,99.3 574.4,99.9 574.0,100.4 573.6,101.0 573.3,101.5 572.9,102.0 572.5,102.4 572.2,102.9 571.8,103.3 571.5,103.7 571.1,104.1 570.8,104.5 570.4,104.8 570.0,105.1 569.7,105.4 569.3,105.7 569.0,106.0 568.6,106.3 568.2,106.6 567.9,106.8 567.5,107.0 567.1,107.3 566.8,107.5 566.4,107.7 566.1,107.9 565.7,108.0 565.4,108.2 565.0,108.4 564.6,108.5 564.3,108.7 563.9,108.8 563.5,109.0 563.2,109.1 562.8,109.2 562.5,109.3 562.1,109.4 561.8,109.5 561.4,109.6 561.0,109.7 560.7,109.8 560.3,109.9 560.0,110.0 559.6,110.0 559.2,110.1 558.9,110.2 558.5,110.2 558.1,110.3 557.8,110.3 557.4,110.4 557.1,110.4 556.7,110.5 556.4,110.5 556.0,110.6 555.6,110.6 555.3,110.6 554.9,110.7 554.5,110.7 554.2,110.7 553.8,110.8 553.5,110.8 553.1,110.8 552.8,110.8 552.4,110.8 552.0,110.9 551.7,110.9 551.3,110.9 551.0,110.9 550.6,110.9 550.2,110.9 549.9,111.0 549.5,111.0 549.1,111.0 548.8,111.0 548.4,111.0 548.1,111.0 547.7,111.0 547.4,111.0 547.0,111.0 546.6,111.0 546.3,111.0 545.9,111.0 545.5,111.0 545.2,111.0 544.8,111.0 544.5,111.0 544.1,111.0 543.8,111.0 543.4,111.0 543.0,111.0 542.7,111.0 542.3,111.0 542.0,111.0 541.6,111.0 541.2,111.0 540.9,111.0 540.5,111.0 540.1,111.0 539.8,111.0 539.4,111.0 539.1,111.0 538.7,111.0 538.4,111.0 538.0,111.0 537.6,111.0 537.3,111.0 536.9,111.0 536.5,111.0 536.2,111.0 535.8,111.0 535.5,111.0 535.1,111.0 534.8,111.0 534.4,111.0 534.0,111.0 533.7,111.0 533.3,111.0 533.0,111.0 532.6,111.0 532.2,111.0 531.9,111.0 531.5,111.0 531.1,111.0 530.8,111.0 530.4,111.0 530.1,111.0 529.7,111.0 529.4,111.0 529.0,111.0 528.6,111.0 528.3,111.0 527.9,111.0 527.5,111.0 527.2,111.0 526.8,111.0 526.5,111.0 526.1,111.0 525.8,111.0 525.4,111.0 525.0,111.0 524.7,111.0 524.3,111.0 524.0,111.0 523.6,111.0 523.2,111.0 522.9,111.0 522.5,111.1 522.1,111.1 521.8,111.1 521.4,111.1 521.1,111.1 520.7,111.1 520.4,111.1 520.0,111.1 519.6,111.1 519.3,111.1 518.9,111.1 518.5,111.1 518.2,111.1 517.8,111.1 517.5,111.1 517.1,111.1 516.8,111.1 516.4,111.1 516.0,111.1 515.7,111.1 515.3,111.1 515.0,111.1 514.6,111.1 514.2,111.1 513.9,111.1 513.5,111.1 513.1,111.2 512.8,111.2 512.4,111.2 512.1,111.2 511.7,111.2 511.4,111.2 511.0,111.2 510.6,111.2 510.3,111.2 509.9,111.2 509.6,111.2 509.2,111.2 508.8,111.2 508.5,111.2 508.1,111.2 507.8,111.2 507.4,111.2 507.0,111.2 506.7,111.2 506.3,111.3 505.9,111.3 505.6,111.3 505.2,111.3 504.9,111.3 504.5,111.3 504.1,111.3 503.8,111.3 503.4,111.3 503.1,111.3 502.7,111.3 502.4,111.3 502.0,111.3 501.6,111.3 501.3,111.3 500.9,111.4 500.6,111.4 500.2,111.4 499.8,111.4 499.5,111.4 499.1,111.4 498.8,111.4 498.4,111.4 498.0,111.4 497.7,111.4 497.3,111.4 496.9,111.4 496.6,111.5 496.2,111.5 495.9,111.5 495.5,111.5 495.1,111.5 494.8,111.5 494.4,111.5 494.1,111.5 493.7,111.5 493.4,111.5 493.0,111.6 492.6,111.6 492.3,111.6 491.9,111.6 491.6,111.6 491.2,111.6 490.8,111.6 490.5,111.6 490.1,111.7 489.8,111.7 489.4,111.7 489.0,111.7 488.7,111.7 488.3,111.7 487.9,111.7 487.6,111.8 487.2,111.8 486.9,111.8 486.5,111.8 486.1,111.8 485.8,111.9 485.4,111.9 485.1,111.9 484.7,111.9 484.4,112.0 484.0,112.0 483.6,112.0 483.3,112.1 482.9,112.1 482.6,112.1 482.2,112.1 481.8,112.2 481.5,112.2 481.1,112.2 480.8,112.2 480.4,112.3 480.0,112.3 479.7,112.3 479.3,112.4 478.9,112.4 478.6,112.4 478.2,112.4 477.9,112.5 477.5,112.5 477.1,112.5 476.8,112.5 476.4,112.6 476.1,112.6 475.7,112.6 475.4,112.6 475.0,112.7 474.6,112.7 474.3,112.7 473.9,112.7 473.6,112.7 473.2,112.8 472.8,112.8 472.5,112.8 472.1,112.8 471.8,112.8 471.4,112.8 471.0,112.9 470.7,112.9 470.3,112.9 469.9,112.9 469.6,112.9 469.2,112.9 468.9,112.9 468.5,112.9 468.1,112.9 467.8,112.9 467.4,112.9 467.1,112.9 466.7,112.9 466.4,112.9 466.0,112.9 465.6,112.9 465.3,112.9 464.9,113.0 464.6,113.0 464.2,113.0 463.8,113.0 463.5,113.0 463.1,113.0 462.8,113.0 462.4,113.0 462.0,113.0 461.7,113.0 461.3,113.0 460.9,113.0 460.6,113.0 460.2,113.0 459.9,113.1 459.5,113.1 459.1,113.1 458.8,113.1 458.4,113.1 458.1,113.2 457.7,113.2 457.4,113.2 457.0,113.3 456.6,113.3 456.3,113.3 455.9,113.4 455.6,113.4 455.2,113.5 454.8,113.5 454.5,113.6 454.1,113.7 453.8,113.7 453.4,113.8 453.0,113.9 452.7,114.0 452.3,114.1 451.9,114.2 451.6,114.3 451.2,114.4 450.9,114.5 450.5,114.6 450.1,114.8 449.8,114.9 449.4,115.1 449.1,115.2 448.7,115.4 448.4,115.6 448.0,115.7 447.6,115.9 447.3,116.1 446.9,116.3 446.6,116.6 446.2,116.8 445.8,117.0 445.5,117.3 445.1,117.5 444.8,117.8 444.4,118.1 444.0,118.4 443.7,118.7 443.3,119.0 442.9,119.3 442.6,119.6 442.2,119.9 441.9,120.3 441.5,120.6 441.1,120.9 440.8,121.3 440.4,121.7 440.1,122.0 439.7,122.4 439.4,122.7 439.0,123.1 438.6,123.5 438.3,123.9 437.9,124.2 437.6,124.6 437.2,125.0 436.8,125.3 436.5,125.7 436.1,126.1 435.8,126.4 435.4,126.8 435.0,127.1 434.7,127.4 434.3,127.7 433.9,128.1 433.6,128.4 433.2,128.6 432.9,128.9 432.5,129.2 432.1,129.4 431.8,129.7 431.4,129.9 431.1,130.1 430.7,130.2 430.3,130.4 430.0,130.5 429.6,130.6 429.3,130.7 428.9,130.8 428.6,130.8 428.2,130.8 427.8,130.8 427.5,130.8 427.1,130.8 426.8,130.7 426.4,130.6 426.0,130.5 425.7,130.4 425.3,130.3 424.9,130.1 424.6,130.0 424.2,129.8 423.9,129.6 423.5,129.4 423.1,129.3 422.8,129.1 422.4,128.9 422.1,128.7 421.7,128.5 421.4,128.3 421.0,128.2 420.6,128.0 420.3,127.8 419.9,127.6 419.6,127.5 419.2,127.3 418.8,127.2 418.5,127.0 418.1,126.9 417.8,126.7 417.4,126.6 417.0,126.5 416.7,126.4 416.3,126.2 415.9,126.1 415.6,126.0 415.2,125.9 414.9,125.8 414.5,125.7 414.1,125.6 413.8,125.5 413.4,125.4 413.1,125.4 412.7,125.3 412.3,125.2 412.0,125.1 411.6,125.1 411.3,125.0 410.9,124.9 410.6,124.9 410.2,124.8 409.8,124.7 409.5,124.7 409.1,124.6 408.8,124.6 408.4,124.5 408.0,124.5 407.7,124.4 407.3,124.4 406.9,124.4 406.6,124.3 406.2,124.3 405.9,124.2 405.5,124.2 405.1,124.2 404.8,124.1 404.4,124.1 404.1,124.1 403.7,124.0 403.4,124.0 403.0,124.0 402.6,124.0 402.3,123.9 401.9,123.9 401.6,123.9 401.2,123.9 400.8,123.8 400.5,123.8 400.1,123.8 399.8,123.8 399.4,123.7 399.0,123.7 398.7,123.7 398.3,123.7 397.9,123.7 397.6,123.7 397.2,123.6 396.9,123.6 396.5,123.6 396.1,123.6 395.8,123.6 395.4,123.6 395.1,123.5 394.7,123.5 394.4,123.5 394.0,123.5 393.6,123.5 393.3,123.5 392.9,123.5 392.6,123.5 392.2,123.4 391.8,123.4 391.5,123.4 391.1,123.4 390.8,123.4 390.4,123.4 390.0,123.4 389.7,123.4 389.3,123.4 388.9,123.4 388.6,123.4 388.2,123.4 387.9,123.4 387.5,123.4 387.1,123.4 386.8,123.4 386.4,123.3 386.1,123.3 385.7,123.3 385.3,123.3 385.0,123.3 384.6,123.3 384.3,123.3 383.9,123.4 383.6,123.4 383.2,123.4 382.8,123.4 382.5,123.4 382.1,123.4 381.8,123.4 381.4,123.4 381.0,123.4 380.7,123.4 380.3,123.4 379.9,123.4 379.6,123.4 379.2,123.5 378.9,123.5 378.5,123.5 378.1,123.5 377.8,123.5 377.4,123.5 377.1,123.6 376.7,123.6 376.3,123.6 376.0,123.6 375.6,123.6 375.3,123.7 374.9,123.7 374.5,123.7 374.2,123.7 373.8,123.8 373.5,123.8 373.1,123.8 372.8,123.9 372.4,123.9 372.0,123.9 371.7,124.0 371.3,124.0 370.9,124.0 370.6,124.1 370.2,124.1 369.9,124.1 369.5,124.2 369.2,124.2 368.8,124.2 368.4,124.3 368.1,124.3 367.7,124.3 367.4,124.4 367.0,124.4 366.6,124.5 366.3,124.5 365.9,124.5 365.6,124.6 365.2,124.6 364.8,124.7 364.5,124.7 364.1,124.8 363.8,124.8" fill="none" stroke="#ff0000" stroke-width="1.75" stroke-linejoin="round" stroke-linecap="round"/>
<polyline points="363.8,113.1 364.1,110.2 364.5,108.1 364.8,106.6 365.2,105.5 365.6,104.7 365.9,104.0 366.3,103.5 366.6,103.1 367.0,102.7 367.4,102.4 367.7,102.1 368.1,101.8 368.4,101.6 368.8,101.4 369.1,101.2 369.5,101.0 369.9,100.8 370.2,100.6 370.6,100.5 370.9,100.3 371.3,100.2 371.7,100.0 372.0,99.9 372.4,99.8 372.8,99.7 373.1,99.6 373.5,99.5 373.8,99.4 374.2,99.3 374.6,99.3 374.9,99.2 375.3,99.1 375.6,99.0 376.0,99.0 376.4,98.9 376.7,98.9 377.1,98.8 377.4,98.7 377.8,98.7 378.1,98.6 378.5,98.6 378.9,98.5 379.2,98.5 379.6,98.5 379.9,98.4 380.3,98.4 380.7,98.4 381.0,98.3 381.4,98.3 381.8,98.3 382.1,98.3 382.5,98.2 382.8,98.2 383.2,98.2 383.6,98.2 383.9,98.2 384.3,98.1 384.6,98.1 385.0,98.1 385.4,98.1 385.7,98.1 386.1,98.1 386.4,98.1 386.8,98.1 387.1,98.1 387.5,98.1 387.9,98.1 388.2,98.1 388.6,98.1 388.9,98.1 389.3,98.1 389.7,98.1 390.0,98.1 390.4,98.1 390.8,98.1 391.1,98.1 391.5,98.1 391.8,98.1 392.2,98.1 392.6,98.1 392.9,98.1 393.3,98.1 393.6,98.1 394.0,98.1 394.4,98.1 394.7,98.1 395.1,98.1 395.4,98.1 395.8,98.1 396.1,98.1 396.5,98.1 396.9,98.1 397.2,98.1 397.6,98.1 397.9,98.1 398.3,98.1 398.7,98.1 399.0,98.0 399.4,98.0 399.8,98.0 400.1,98.0 400.5,98.0 400.8,98.0 401.2,98.0 401.6,98.0 401.9,98.0 402.3,98.0 402.6,97.9 403.0,97.9 403.4,97.9 403.7,97.9 404.1,97.9 404.4,97.9 404.8,97.9 405.1,97.9 405.5,97.9 405.9,97.9 406.2,97.9 406.6,97.9 406.9,97.9 407.3,97.9 407.7,97.9 408.0,97.9 408.4,97.9 408.8,97.9 409.1,97.9 409.5,97.9 409.8,97.9 410.2,97.9 410.6,97.9 410.9,97.9 411.3,97.9 411.6,97.9 412.0,97.9 412.4,97.9 412.7,97.9 413.1,97.9 413.4,97.9 413.8,97.9 414.1,97.9 414.5,97.8 414.9,97.8 415.2,97.8 415.6,97.8 415.9,97.8 416.3,97.8 416.7,97.8 417.0,97.8 417.4,97.8 417.8,97.8 418.1,97.8 418.5,97.8 418.8,97.8 419.2,97.8 419.6,97.8 419.9,97.8 420.3,97.8 420.6,97.7 421.0,97.7 421.4,97.7 421.7,97.7 422.1,97.7 422.4,97.6 422.8,97.6 423.1,97.6 423.5,97.5 423.9,97.5 424.2,97.5 424.6,97.4 424.9,97.4 425.3,97.3 425.7,97.3 426.0,97.2 426.4,97.1 426.8,97.0 427.1,97.0 427.5,96.9 427.8,96.8 428.2,96.7 428.6,96.6 428.9,96.4 429.3,96.3 429.6,96.2 430.0,96.0 430.4,95.9 430.7,95.7 431.1,95.6 431.4,95.4 431.8,95.2 432.1,95.0 432.5,94.8 432.9,94.5 433.2,94.3 433.6,94.1 433.9,93.8 434.3,93.6 434.7,93.3 435.0,93.0 435.4,92.7 435.8,92.4 436.1,92.1 436.5,91.8 436.8,91.4 437.2,91.1 437.6,90.7 437.9,90.4 438.3,90.0 438.6,89.6 439.0,89.3 439.4,88.9 439.7,88.5 440.1,88.1 440.4,87.7 440.8,87.3 441.1,86.9 441.5,86.5 441.9,86.1 442.2,85.7 442.6,85.3 442.9,84.9 443.3,84.5 443.7,84.1 444.0,83.7 444.4,83.3 444.8,82.9 445.1,82.5 445.5,82.2 445.8,81.8 446.2,81.5 446.6,81.1 446.9,80.8 447.3,80.5 447.6,80.2 448.0,79.9 448.4,79.7 448.7,79.4 449.1,79.2 449.4,79.0 449.8,78.8 450.1,78.7 450.5,78.5 450.9,78.4 451.2,78.4 451.6,78.3 451.9,78.3 452.3,78.3 452.7,78.3 453.0,78.4 453.4,78.4 453.8,78.6 454.1,78.7 454.5,78.8 454.8,79.0 455.2,79.2 455.6,79.4 455.9,79.7 456.3,79.9 456.6,80.2 457.0,80.4 457.4,80.7 457.7,81.0 458.1,81.3 458.4,81.5 458.8,81.8 459.1,82.1 459.5,82.4 459.9,82.6 460.2,82.9 460.6,83.1 460.9,83.4 461.3,83.6 461.7,83.9 462.0,84.1 462.4,84.3 462.8,84.5 463.1,84.7 463.5,84.9 463.8,85.1 464.2,85.3 464.6,85.5 464.9,85.7 465.3,85.9 465.6,86.0 466.0,86.2 466.4,86.4 466.7,86.5 467.1,86.7 467.4,86.8 467.8,86.9 468.1,87.1 468.5,87.2 468.9,87.4 469.2,87.5 469.6,87.6 469.9,87.7 470.3,87.8 470.7,88.0 471.0,88.1 471.4,88.2 471.8,88.3 472.1,88.4 472.5,88.5 472.8,88.6 473.2,88.7 473.6,88.8 473.9,88.9 474.3,89.0 474.6,89.1 475.0,89.2 475.4,89.2 475.7,89.3 476.1,89.4 476.4,89.5 476.8,89.6 477.1,89.7 477.5,89.7 477.9,89.8 478.2,89.9 478.6,90.0 478.9,90.0 479.3,90.1 479.7,90.2 480.0,90.2 480.4,90.3 480.8,90.4 481.1,90.4 481.5,90.5 481.8,90.6 482.2,90.6 482.6,90.7 482.9,90.7 483.3,90.8 483.6,90.9 484.0,90.9 484.4,91.0 484.7,91.0 485.1,91.1 485.4,91.1 485.8,91.2 486.1,91.3 486.5,91.3 486.9,91.4 487.2,91.4 487.6,91.5 487.9,91.5 488.3,91.6 488.7,91.6 489.0,91.6 489.4,91.7 489.8,91.7 490.1,91.8 490.5,91.8 490.8,91.9 491.2,91.9 491.6,92.0 491.9,92.0 492.3,92.0 492.6,92.1 493.0,92.1 493.4,92.2 493.7,92.2 494.1,92.2 494.4,92.3 494.8,92.3 495.1,92.3 495.5,92.4 495.9,92.4 496.2,92.4 496.6,92.5 496.9,92.5 497.3,92.5 497.7,92.6 498.0,92.6 498.4,92.6 498.8,92.7 499.1,92.7 499.5,92.7 499.8,92.7 500.2,92.8 500.6,92.8 500.9,92.8 501.3,92.8 501.6,92.9 502.0,92.9 502.4,92.9 502.7,92.9 503.1,92.9 503.4,92.9 503.8,92.9 504.1,93.0 504.5,93.0 504.9,93.0 505.2,93.0 505.6,93.0 506.0,93.0 506.3,93.0 506.7,93.0 507.0,93.0 507.4,93.0 507.8,93.0 508.1,93.0 508.5,93.0 508.8,93.0 509.2,93.0 509.6,93.0 509.9,93.0 510.3,93.0 510.6,93.0 511.0,93.0 511.4,93.0 511.7,92.9 512.1,92.9 512.4,92.9 512.8,92.9 513.1,92.9 513.5,92.9 513.9,92.9 514.2,92.9 514.6,92.9 515.0,92.8 515.3,92.8 515.7,92.8 516.0,92.8 516.4,92.8 516.8,92.8 517.1,92.8 517.5,92.8 517.8,92.7 518.2,92.7 518.5,92.7 518.9,92.7 519.3,92.7 519.6,92.7 520.0,92.7 520.4,92.6 520.7,92.6 521.1,92.6 521.4,92.6 521.8,92.6 522.1,92.6 522.5,92.6 522.9,92.6 523.2,92.5 523.6,92.5 524.0,92.5 524.3,92.5 524.7,92.5 525.0,92.5 525.4,92.5 525.8,92.5 526.1,92.5 526.5,92.5 526.8,92.4 527.2,92.4 527.5,92.4 527.9,92.4 528.3,92.4 528.6,92.4 529.0,92.4 529.4,92.4 529.7,92.3 530.1,92.3 530.4,92.3 530.8,92.3 531.1,92.3 531.5,92.2 531.9,92.2 532.2,92.2 532.6,92.2 533.0,92.2 533.3,92.1 533.7,92.1 534.0,92.1 534.4,92.1 534.8,92.1 535.1,92.0 535.5,92.0 535.8,92.0 536.2,91.9 536.5,91.9 536.9,91.9 537.3,91.9 537.6,91.8 538.0,91.8 538.4,91.8 538.7,91.7 539.1,91.7 539.4,91.7 539.8,91.6 540.1,91.6 540.5,91.6 540.9,91.5 541.2,91.5 541.6,91.4 542.0,91.4 542.3,91.4 542.7,91.3 543.0,91.3 543.4,91.2 543.8,91.2 544.1,91.2 544.5,91.1 544.8,91.1 545.2,91.0 545.5,91.0 545.9,90.9 546.3,90.9 546.6,90.8 547.0,90.8 547.4,90.7 547.7,90.6 548.1,90.6 548.4,90.5 548.8,90.5 549.1,90.4 549.5,90.4 549.9,90.3 550.2,90.2 550.6,90.2 551.0,90.1 551.3,90.0 551.7,90.0 552.0,89.9 552.4,89.8 552.8,89.8 553.1,89.7 553.5,89.6 553.8,89.5 554.2,89.5 554.5,89.4 554.9,89.3 555.3,89.2 555.6,89.2 556.0,89.1 556.4,89.0 556.7,88.9 557.1,88.8 557.4,88.7 557.8,88.6 558.2,88.5 558.5,88.4 558.9,88.4 559.2,88.3 559.6,88.2 560.0,88.1 560.3,88.0 560.7,87.9 561.0,87.8 561.4,87.6 561.8,87.5 562.1,87.4 562.5,87.3 562.8,87.2 563.2,87.1 563.5,87.0 563.9,86.9 564.3,86.7 564.6,86.6 565.0,86.5 565.4,86.4 565.7,86.2 566.1,86.1 566.4,86.0 566.8,85.8 567.2,85.7 567.5,85.6 567.9,85.4 568.2,85.3 568.6,85.1 569.0,85.0 569.3,84.8 569.7,84.7 570.0,84.5 570.4,84.4 570.8,84.2 571.1,84.1 571.5,84.0 571.8,83.9 572.2,83.8 572.5,83.7 572.9,83.7 573.3,83.6 573.6,83.6 574.0,83.5 574.4,83.5 574.7,83.5 575.1,83.4 575.4,83.4 575.8,83.4 576.1,83.4 576.5,83.4 576.9,83.4 577.2,83.4 577.6,83.3 578.0,83.3 578.3,83.3 578.7,83.3 579.0,83.2 579.4,83.2 579.8,83.1 579.4,84.5 579.0,85.8 578.7,87.0 578.3,88.2 578.0,89.3 577.6,90.4 577.2,91.4 576.9,92.4 576.5,93.4 576.1,94.3 575.8,95.1 575.4,95.9 575.1,96.7 574.7,97.5 574.4,98.2 574.0,98.9 573.6,99.6 573.3,100.2 572.9,100.8 572.5,101.4 572.2,101.9 571.8,102.4 571.5,102.9 571.1,103.4 570.8,103.9 570.4,104.3 570.0,104.7 569.7,105.1 569.3,105.5 569.0,105.9 568.6,106.2 568.2,106.6 567.9,106.9 567.5,107.2 567.1,107.5 566.8,107.8 566.4,108.0 566.1,108.3 565.7,108.5 565.4,108.7 565.0,109.0 564.6,109.2 564.3,109.4 563.9,109.6 563.5,109.7 563.2,109.9 562.8,110.1 562.5,110.2 562.1,110.4 561.8,110.5 561.4,110.7 561.0,110.8 560.7,110.9 560.3,111.1 560.0,111.2 559.6,111.3 559.2,111.4 558.9,111.5 558.5,111.6 558.1,111.7 557.8,111.7 557.4,111.8 557.1,111.9 556.7,112.0 556.4,112.1 556.0,112.1 555.6,112.2 555.3,112.2 554.9,112.3 554.5,112.4 554.2,112.4 553.8,112.5 553.5,112.5 553.1,112.6 552.8,112.6 552.4,112.6 552.0,112.7 551.7,112.7 551.3,112.7 551.0,112.8 550.6,112.8 550.2,112.8 549.9,112.9 549.5,112.9 549.1,112.9 548.8,112.9 548.4,113.0 548.1,113.0 547.7,113.0 547.4,113.0 547.0,113.0 546.6,113.1 546.3,113.1 545.9,113.1 545.5,113.1 545.2,113.1 544.8,113.1 544.5,113.2 544.1,113.2 543.8,113.2 543.4,113.2 543.0,113.2 542.7,113.2 542.3,113.2 542.0,113.2 541.6,113.2 541.2,113.2 540.9,113.3 540.5,113.3 540.1,113.3 539.8,113.3 539.4,113.3 539.1,113.3 538.7,113.3 538.4,113.3 538.0,113.3 537.6,113.3 537.3,113.3 536.9,113.3 536.5,113.3 536.2,113.3 535.8,113.3 535.5,113.3 535.1,113.3 534.8,113.4 534.4,113.4 534.0,113.4 533.7,113.4 533.3,113.4 533.0,113.4 532.6,113.4 532.2,113.4 531.9,113.4 531.5,113.4 531.1,113.4 530.8,113.4 530.4,113.4 530.1,113.4 529.7,113.4 529.4,113.4 529.0,113.4 528.6,113.4 528.3,113.4 527.9,113.4 527.5,113.4 527.2,113.4 526.8,113.4 526.5,113.4 526.1,113.5 525.8,113.5 525.4,113.5 525.0,113.5 524.7,113.5 524.3,113.5 524.0,113.5 523.6,113.5 523.2,113.5 522.9,113.5 522.5,113.5 522.1,113.5 521.8,113.5 521.4,113.5 521.1,113.5 520.7,113.5 520.4,113.5 520.0,113.5 519.6,113.5 519.3,113.5 518.9,113.5 518.5,113.6 518.2,113.6 517.8,113.6 517.5,113.6 517.1,113.6 516.8,113.6 516.4,113.6 516.0,113.6 515.7,113.6 515.3,113.6 515.0,113.6 514.6,113.6 514.2,113.6 513.9,113.6 513.5,113.6 513.1,113.6 512.8,113.6 512.4,113.6 512.1,113.6 511.7,113.6 511.4,113.6 511.0,113.6 510.6,113.6 510.3,113.7 509.9,113.7 509.6,113.7 509.2,113.7 508.8,113.7 508.5,113.7 508.1,113.7 507.8,113.7 507.4,113.7 507.0,113.7 506.7,113.7 506.3,113.7 505.9,113.7 505.6,113.7 505.2,113.7 504.9,113.7 504.5,113.8 504.1,113.8 503.8,113.8 503.4,113.8 503.1,113.8 502.7,113.8 502.4,113.8 502.0,113.8 501.6,113.8 501.3,113.8 500.9,113.8 500.6,113.8 500.2,113.9 499.8,113.9 499.5,113.9 499.1,113.9 498.8,113.9 498.4,113.9 498.0,113.9 497.7,113.9 497.3,113.9 496.9,114.0 496.6,114.0 496.2,114.0 495.9,114.0 495.5,114.0 495.1,114.0 494.8,114.0 494.4,114.0 494.1,114.1 493.7,114.1 493.4,114.1 493.0,114.1 492.6,114.1 492.3,114.1 491.9,114.1 491.6,114.2 491.2,114.2 490.8,114.2 490.5,114.2 490.1,114.2 489.8,114.2 489.4,114.3 489.0,114.3 488.7,114.3 488.3,114.3 487.9,114.3 487.6,114.3 487.2,114.4 486.9,114.4 486.5,114.4 486.1,114.4 485.8,114.4 485.4,114.5 485.1,114.5 484.7,114.5 484.4,114.5 484.0,114.5 483.6,114.5 483.3,114.6 482.9,114.6 482.6,114.6 482.2,114.6 481.8,114.6 481.5,114.7 481.1,114.7 480.8,114.7 480.4,114.7 480.0,114.7 479.7,114.7 479.3,114.8 478.9,114.8 478.6,114.8 478.2,114.8 477.9,114.8 477.5,114.9 477.1,114.9 476.8,114.9 476.4,114.9 476.1,114.9 475.7,114.9 475.4,115.0 475.0,115.0 474.6,115.0 474.3,115.0 473.9,115.0 473.6,115.1 473.2,115.1 472.8,115.1 472.5,115.1 472.1,115.1 471.8,115.1 471.4,115.2 471.0,115.2 470.7,115.2 470.3,115.2 469.9,115.2 469.6,115.2 469.2,115.3 468.9,115.3 468.5,115.3 468.1,115.3 467.8,115.3 467.4,115.3 467.1,115.3 466.7,115.4 466.4,115.4 466.0,115.4 465.6,115.4 465.3,115.4 464.9,115.4 464.6,115.4 464.2,115.5 463.8,115.5 463.5,115.5 463.1,115.5 462.8,115.5 462.4,115.5 462.0,115.6 461.7,115.6 461.3,115.6 460.9,115.6 460.6,115.7 460.2,115.7 459.9,115.7 459.5,115.7 459.1,115.8 458.8,115.8 458.4,115.8 458.1,115.9 457.7,115.9 457.4,115.9 457.0,116.0 456.6,116.0 456.3,116.1 455.9,116.1 455.6,116.2 455.2,116.3 454.8,116.3 454.5,116.4 454.1,116.5 453.8,116.6 453.4,116.6 453.0,116.7 452.7,116.8 452.3,116.9 451.9,117.1 451.6,117.2 451.2,117.3 450.9,117.5 450.5,117.6 450.1,117.8 449.8,117.9 449.4,118.1 449.1,118.3 448.7,118.5 448.4,118.7 448.0,118.9 447.6,119.1 447.3,119.3 446.9,119.6 446.6,119.8 446.2,120.1 445.8,120.4 445.5,120.7 445.1,121.0 444.8,121.3 444.4,121.6 444.0,121.9 443.7,122.3 443.3,122.6 442.9,123.0 442.6,123.3 442.2,123.7 441.9,124.1 441.5,124.5 441.1,124.9 440.8,125.3 440.4,125.7 440.1,126.1 439.7,126.6 439.4,127.0 439.0,127.4 438.6,127.9 438.3,128.3 437.9,128.7 437.6,129.2 437.2,129.6 436.8,130.1 436.5,130.5 436.1,131.0 435.8,131.4 435.4,131.9 435.0,132.3 434.7,132.7 434.3,133.1 433.9,133.6 433.6,134.0 433.2,134.4 432.9,134.7 432.5,135.1 432.1,135.5 431.8,135.8 431.4,136.2 431.1,136.5 430.7,136.8 430.3,137.1 430.0,137.3 429.6,137.6 429.3,137.8 428.9,138.0 428.6,138.2 428.2,138.3 427.8,138.5 427.5,138.6 427.1,138.6 426.8,138.7 426.4,138.7 426.0,138.7 425.7,138.6 425.3,138.6 424.9,138.5 424.6,138.4 424.2,138.3 423.9,138.1 423.5,137.9 423.1,137.8 422.8,137.6 422.4,137.3 422.1,137.1 421.7,136.9 421.4,136.7 421.0,136.4 420.6,136.2 420.3,135.9 419.9,135.7 419.6,135.5 419.2,135.2 418.8,135.0 418.5,134.8 418.1,134.6 417.8,134.4 417.4,134.2 417.0,134.0 416.7,133.8 416.3,133.6 415.9,133.4 415.6,133.2 415.2,133.1 414.9,132.9 414.5,132.8 414.1,132.6 413.8,132.5 413.4,132.3 413.1,132.2 412.7,132.1 412.3,131.9 412.0,131.8 411.6,131.7 411.3,131.6 410.9,131.5 410.6,131.4 410.2,131.3 409.8,131.2 409.5,131.1 409.1,131.0 408.8,130.9 408.4,130.8 408.0,130.7 407.7,130.7 407.3,130.6 406.9,130.5 406.6,130.4 406.2,130.4 405.9,130.3 405.5,130.2 405.1,130.2 404.8,130.1 404.4,130.1 404.1,130.0 403.7,129.9 403.4,129.9 403.0,129.8 402.6,129.8 402.3,129.7 401.9,129.7 401.6,129.6 401.2,129.6 400.8,129.6 400.5,129.5 400.1,129.5 399.8,129.4 399.4,129.4 399.0,129.4 398.7,129.3 398.3,129.3 397.9,129.3 397.6,129.2 397.2,129.2 396.9,129.2 396.5,129.2 396.1,129.2 395.8,129.1 395.4,129.1 395.1,129.1 394.7,129.1 394.4,129.1 394.0,129.1 393.6,129.1 393.3,129.1 392.9,129.1 392.6,129.1 392.2,129.1 391.8,129.1 391.5,129.1 391.1,129.1 390.8,129.1 390.4,129.2 390.0,129.2 389.7,129.2 389.3,129.2 388.9,129.2 388.6,129.2 388.2,129.2 387.9,129.2 387.5,129.3 387.1,129.3 386.8,129.3 386.4,129.3 386.1,129.3 385.7,129.4 385.3,129.4 385.0,129.4 384.6,129.4 384.3,129.4 383.9,129.4 383.6,129.5 383.2,129.5 382.8,129.5 382.5,129.5 382.1,129.5 381.8,129.6 381.4,129.6 381.0,129.6 380.7,129.6 380.3,129.6 379.9,129.6 379.6,129.7 379.2,129.7 378.9,129.7 378.5,129.7 378.1,129.7 377.8,129.8 377.4,129.8 377.1,129.8 376.7,129.8 376.3,129.9 376.0,129.9 375.6,129.9 375.3,129.9 374.9,129.9 374.5,130.0 374.2,130.0 373.8,130.0 373.5,130.0 373.1,130.1 372.8,130.1 372.4,130.1 372.0,130.2 371.7,130.2 371.3,130.2 370.9,130.2 370.6,130.3 370.2,130.3 369.9,130.3 369.5,130.3 369.2,130.4 368.8,130.4 368.4,130.4 368.1,130.5 367.7,130.5 367.4,130.5 367.0,130.6 366.6,130.6 366.3,130.6 365.9,130.6 365.6,130.7 365.2,130.7 364.8,130.7 364.5,130.8 364.1,130.8 363.8,130.8" fill="none" stroke="#00ff00" stroke-width="1.75" stroke-linejoin="round" stroke-linecap="round"/>
<polyline points="363.8,113.1 364.1,110.4 364.5,108.2 364.8,106.5 365.2,105.1 365.6,104.0 365.9,103.1 366.3,102.3 366.6,101.6 367.0,101.1 367.4,100.6 367.7,100.2 368.1,99.9 368.4,99.5 368.8,99.3 369.1,99.0 369.5,98.8 369.9,98.5 370.2,98.3 370.6,98.2 370.9,98.0 371.3,97.8 371.7,97.7 372.0,97.5 372.4,97.4 372.8,97.3 373.1,97.1 373.5,97.0 373.8,96.9 374.2,96.8 374.6,96.7 374.9,96.6 375.3,96.5 375.6,96.4 376.0,96.3 376.4,96.2 376.7,96.1 377.1,96.1 377.4,96.0 377.8,95.9 378.1,95.8 378.5,95.8 378.9,95.7 379.2,95.6 379.6,95.6 379.9,95.5 380.3,95.4 380.7,95.4 381.0,95.3 381.4,95.3 381.8,95.2 382.1,95.2 382.5,95.1 382.8,95.1 383.2,95.0 383.6,95.0 383.9,95.0 384.3,94.9 384.6,94.9 385.0,94.8 385.4,94.8 385.7,94.8 386.1,94.7 386.4,94.7 386.8,94.7 387.1,94.6 387.5,94.6 387.9,94.6 388.2,94.6 388.6,94.5 388.9,94.5 389.3,94.5 389.7,94.5 390.0,94.5 390.4,94.4 390.8,94.4 391.1,94.4 391.5,94.4 391.8,94.4 392.2,94.4 392.6,94.3 392.9,94.3 393.3,94.3 393.6,94.3 394.0,94.3 394.4,94.3 394.7,94.3 395.1,94.2 395.4,94.2 395.8,94.2 396.1,94.2 396.5,94.2 396.9,94.2 397.2,94.2 397.6,94.1 397.9,94.1 398.3,94.1 398.7,94.1 399.0,94.1 399.4,94.1 399.8,94.0 400.1,94.0 400.5,94.0 400.8,94.0 401.2,94.0 401.6,94.0 401.9,93.9 402.3,93.9 402.6,93.9 403.0,93.9 403.4,93.9 403.7,93.9 404.1,93.9 404.4,93.9 404.8,93.9 405.1,93.9 405.5,93.8 405.9,93.8 406.2,93.8 406.6,93.8 406.9,93.8 407.3,93.8 407.7,93.8 408.0,93.8 408.4,93.8 408.8,93.8 409.1,93.8 409.5,93.8 409.8,93.8 410.2,93.8 410.6,93.8 410.9,93.8 411.3,93.8 411.6,93.8 412.0,93.8 412.4,93.8 412.7,93.8 413.1,93.8 413.4,93.8 413.8,93.8 414.1,93.8 414.5,93.8 414.9,93.8 415.2,93.8 415.6,93.8 415.9,93.8 416.3,93.8 416.7,93.8 417.0,93.8 417.4,93.8 417.8,93.8 418.1,93.8 418.5,93.8 418.8,93.8 419.2,93.8 419.6,93.8 419.9,93.8 420.3,93.8 420.6,93.8 421.0,93.8 421.4,93.7 421.7,93.7 422.1,93.7 422.4,93.7 422.8,93.7 423.1,93.6 423.5,93.6 423.9,93.6 424.2,93.5 424.6,93.5 424.9,93.4 425.3,93.4 425.7,93.3 426.0,93.3 426.4,93.2 426.8,93.2 427.1,93.1 427.5,93.0 427.8,92.9 428.2,92.8 428.6,92.7 428.9,92.6 429.3,92.5 429.6,92.4 430.0,92.2 430.4,92.1 430.7,91.9 431.1,91.8 431.4,91.6 431.8,91.4 432.1,91.2 432.5,91.0 432.9,90.8 433.2,90.6 433.6,90.3 433.9,90.1 434.3,89.8 434.7,89.5 435.0,89.3 435.4,89.0 435.8,88.7 436.1,88.3 436.5,88.0 436.8,87.7 437.2,87.3 437.6,87.0 437.9,86.6 438.3,86.2 438.6,85.9 439.0,85.5 439.4,85.1 439.7,84.7 440.1,84.2 440.4,83.8 440.8,83.4 441.1,83.0 441.5,82.5 441.9,82.1 442.2,81.7 442.6,81.2 442.9,80.8 443.3,80.3 443.7,79.9 444.0,79.4 444.4,79.0 444.8,78.6 445.1,78.1 445.5,77.7 445.8,77.3 446.2,76.8 446.6,76.4 446.9,76.0 447.3,75.6 447.6,75.2 448.0,74.9 448.4,74.5 448.7,74.1 449.1,73.8 449.4,73.5 449.8,73.2 450.1,72.9 450.5,72.6 450.9,72.4 451.2,72.2 451.6,72.0 451.9,71.8 452.3,71.7 452.7,71.6 453.0,71.5 453.4,71.4 453.8,71.4 454.1,71.4 454.5,71.4 454.8,71.5 455.2,71.6 455.6,71.7 455.9,71.9 456.3,72.1 456.6,72.3 457.0,72.5 457.4,72.8 457.7,73.0 458.1,73.3 458.4,73.6 458.8,73.9 459.1,74.3 459.5,74.6 459.9,74.9 460.2,75.2 460.6,75.6 460.9,75.9 461.3,76.2 461.7,76.5 462.0,76.8 462.4,77.1 462.8,77.4 463.1,77.7 463.5,78.0 463.8,78.2 464.2,78.5 464.6,78.8 464.9,79.0 465.3,79.2 465.6,79.5 466.0,79.7 466.4,79.9 466.7,80.1 467.1,80.3 467.4,80.5 467.8,80.7 468.1,80.9 468.5,81.1 468.9,81.3 469.2,81.5 469.6,81.6 469.9,81.8 470.3,82.0 470.7,82.1 471.0,82.3 471.4,82.4 471.8,82.6 472.1,82.7 472.5,82.9 472.8,83.0 473.2,83.1 473.6,83.3 473.9,83.4 474.3,83.5 474.6,83.6 475.0,83.8 475.4,83.9 475.7,84.0 476.1,84.1 476.4,84.2 476.8,84.3 477.1,84.4 477.5,84.6 477.9,84.7 478.2,84.8 478.6,84.9 478.9,85.0 479.3,85.1 479.7,85.2 480.0,85.3 480.4,85.3 480.8,85.4 481.1,85.5 481.5,85.6 481.8,85.7 482.2,85.8 482.6,85.9 482.9,86.0 483.3,86.0 483.6,86.1 484.0,86.2 484.4,86.3 484.7,86.4 485.1,86.4 485.4,86.5 485.8,86.6 486.1,86.7 486.5,86.7 486.9,86.8 487.2,86.9 487.6,86.9 487.9,87.0 488.3,87.1 488.7,87.2 489.0,87.2 489.4,87.3 489.8,87.3 490.1,87.4 490.5,87.5 490.8,87.5 491.2,87.6 491.6,87.6 491.9,87.7 492.3,87.8 492.6,87.8 493.0,87.9 493.4,87.9 493.7,88.0 494.1,88.0 494.4,88.1 494.8,88.1 495.1,88.2 495.5,88.2 495.9,88.3 496.2,88.3 496.6,88.4 496.9,88.4 497.3,88.5 497.7,88.5 498.0,88.5 498.4,88.6 498.8,88.6 499.1,88.7 499.5,88.7 499.8,88.7 500.2,88.8 500.6,88.8 500.9,88.8 501.3,88.9 501.6,88.9 502.0,88.9 502.4,89.0 502.7,89.0 503.1,89.0 503.4,89.0 503.8,89.0 504.1,89.1 504.5,89.1 504.9,89.1 505.2,89.1 505.6,89.1 506.0,89.1 506.3,89.1 506.7,89.1 507.0,89.1 507.4,89.1 507.8,89.1 508.1,89.1 508.5,89.1 508.8,89.1 509.2,89.1 509.6,89.1 509.9,89.1 510.3,89.1 510.6,89.1 511.0,89.1 511.4,89.1 511.7,89.1 512.1,89.1 512.4,89.1 512.8,89.1 513.1,89.1 513.5,89.1 513.9,89.1 514.2,89.0 514.6,89.0 515.0,89.0 515.3,89.0 515.7,89.0 516.0,89.0 516.4,89.0 516.8,89.0 517.1,89.0 517.5,88.9 517.8,88.9 518.2,88.9 518.5,88.9 518.9,88.9 519.3,88.9 519.6,88.9 520.0,88.9 520.4,88.9 520.7,88.8 521.1,88.8 521.4,88.8 521.8,88.8 522.1,88.8 522.5,88.8 522.9,88.8 523.2,88.8 523.6,88.8 524.0,88.8 524.3,88.8 524.7,88.8 525.0,88.8 525.4,88.8 525.8,88.8 526.1,88.8 526.5,88.7 526.8,88.7 527.2,88.7 527.5,88.7 527.9,88.7 528.3,88.7 528.6,88.7 529.0,88.7 529.4,88.7 529.7,88.7 530.1,88.7 530.4,88.7 530.8,88.6 531.1,88.6 531.5,88.6 531.9,88.6 532.2,88.6 532.6,88.6 533.0,88.6 533.3,88.5 533.7,88.5 534.0,88.5 534.4,88.5 534.8,88.5 535.1,88.4 535.5,88.4 535.8,88.4 536.2,88.4 536.5,88.3 536.9,88.3 537.3,88.3 537.6,88.3 538.0,88.2 538.4,88.2 538.7,88.2 539.1,88.2 539.4,88.1 539.8,88.1 540.1,88.1 540.5,88.0 540.9,88.0 541.2,88.0 541.6,87.9 542.0,87.9 542.3,87.8 542.7,87.8 543.0,87.8 543.4,87.7 543.8,87.7 544.1,87.6 544.5,87.6 544.8,87.5 545.2,87.5 545.5,87.5 545.9,87.4 546.3,87.4 546.6,87.3 547.0,87.3 547.4,87.2 547.7,87.1 548.1,87.1 548.4,87.0 548.8,87.0 549.1,86.9 549.5,86.9 549.9,86.8 550.2,86.7 550.6,86.7 551.0,86.6 551.3,86.5 551.7,86.5 552.0,86.4 552.4,86.3 552.8,86.3 553.1,86.2 553.5,86.1 553.8,86.0 554.2,86.0 554.5,85.9 554.9,85.8 555.3,85.7 555.6,85.6 556.0,85.5 556.4,85.5 556.7,85.4 557.1,85.3 557.4,85.2 557.8,85.1 558.2,85.0 558.5,84.9 558.9,84.8 559.2,84.7 559.6,84.6 560.0,84.5 560.3,84.4 560.7,84.3 561.0,84.2 561.4,84.1 561.8,84.0 562.1,83.9 562.5,83.7 562.8,83.6 563.2,83.5 563.5,83.4 563.9,83.3 564.3,83.1 564.6,83.0 565.0,82.9 565.4,82.7 565.7,82.6 566.1,82.5 566.4,82.3 566.8,82.2 567.2,82.0 567.5,81.9 567.9,81.8 568.2,81.6 568.6,81.5 569.0,81.3 569.3,81.1 569.7,81.0 570.0,80.8 570.4,80.7 570.8,80.5 571.1,80.4 571.5,80.2 571.8,80.1 572.2,80.0 572.5,79.9 572.9,79.9 573.3,79.8 573.6,79.7 574.0,79.7 574.4,79.6 574.7,79.6 575.1,79.6 575.4,79.5 575.8,79.5 576.1,79.5 576.5,79.5 576.9,79.4 577.2,79.4 577.6,79.4 578.0,79.3 578.3,79.3 578.7,79.3 579.0,79.2 579.4,79.1 579.8,79.1 579.4,80.6 579.0,82.1 578.7,83.5 578.3,84.8 578.0,86.1 577.6,87.4 577.2,88.6 576.9,89.7 576.5,90.8 576.1,91.8 575.8,92.8 575.4,93.8 575.1,94.7 574.7,95.6 574.4,96.4 574.0,97.2 573.6,98.0 573.3,98.7 572.9,99.4 572.5,100.1 572.2,100.8 571.8,101.4 571.5,102.0 571.1,102.6 570.8,103.1 570.4,103.6 570.0,104.1 569.7,104.6 569.3,105.1 569.0,105.5 568.6,105.9 568.2,106.3 567.9,106.7 567.5,107.1 567.1,107.5 566.8,107.8 566.4,108.1 566.1,108.4 565.7,108.7 565.4,109.0 565.0,109.3 564.6,109.6 564.3,109.8 563.9,110.1 563.5,110.3 563.2,110.5 562.8,110.7 562.5,110.9 562.1,111.1 561.8,111.3 561.4,111.5 561.0,111.7 560.7,111.8 560.3,112.0 560.0,112.1 559.6,112.3 559.2,112.4 558.9,112.5 558.5,112.7 558.1,112.8 557.8,112.9 557.4,113.0 557.1,113.1 556.7,113.2 556.4,113.3 556.0,113.4 555.6,113.5 555.3,113.6 554.9,113.7 554.5,113.8 554.2,113.8 553.8,113.9 553.5,114.0 553.1,114.1 552.8,114.1 552.4,114.2 552.0,114.2 551.7,114.3 551.3,114.4 551.0,114.4 550.6,114.5 550.2,114.5 549.9,114.6 549.5,114.6 549.1,114.6 548.8,114.7 548.4,114.7 548.1,114.8 547.7,114.8 547.4,114.8 547.0,114.9 546.6,114.9 546.3,114.9 545.9,115.0 545.5,115.0 545.2,115.0 544.8,115.0 544.5,115.1 544.1,115.1 543.8,115.1 543.4,115.1 543.0,115.2 542.7,115.2 542.3,115.2 542.0,115.2 541.6,115.3 541.2,115.3 540.9,115.3 540.5,115.3 540.1,115.3 539.8,115.3 539.4,115.4 539.1,115.4 538.7,115.4 538.4,115.4 538.0,115.4 537.6,115.4 537.3,115.4 536.9,115.5 536.5,115.5 536.2,115.5 535.8,115.5 535.5,115.5 535.1,115.5 534.8,115.5 534.4,115.5 534.0,115.6 533.7,115.6 533.3,115.6 533.0,115.6 532.6,115.6 532.2,115.6 531.9,115.6 531.5,115.6 531.1,115.6 530.8,115.6 530.4,115.7 530.1,115.7 529.7,115.7 529.4,115.7 529.0,115.7 528.6,115.7 528.3,115.7 527.9,115.7 527.5,115.7 527.2,115.7 526.8,115.7 526.5,115.8 526.1,115.8 525.8,115.8 525.4,115.8 525.0,115.8 524.7,115.8 524.3,115.8 524.0,115.8 523.6,115.8 523.2,115.8 522.9,115.8 522.5,115.8 522.1,115.8 521.8,115.9 521.4,115.9 521.1,115.9 520.7,115.9 520.4,115.9 520.0,115.9 519.6,115.9 519.3,115.9 518.9,115.9 518.5,115.9 518.2,115.9 517.8,115.9 517.5,115.9 517.1,115.9 516.8,115.9 516.4,115.9 516.0,116.0 515.7,116.0 515.3,116.0 515.0,116.0 514.6,116.0 514.2,116.0 513.9,116.0 513.5,116.0 513.1,116.0 512.8,116.0 512.4,116.0 512.1,116.0 511.7,116.0 511.4,116.0 511.0,116.0 510.6,116.0 510.3,116.0 509.9,116.1 509.6,116.1 509.2,116.1 508.8,116.1 508.5,116.1 508.1,116.1 507.8,116.1 507.4,116.1 507.0,116.1 506.7,116.1 506.3,116.1 505.9,116.1 505.6,116.1 505.2,116.1 504.9,116.2 504.5,116.2 504.1,116.2 503.8,116.2 503.4,116.2 503.1,116.2 502.7,116.2 502.4,116.2 502.0,116.2 501.6,116.2 501.3,116.2 500.9,116.3 500.6,116.3 500.2,116.3 499.8,116.3 499.5,116.3 499.1,116.3 498.8,116.3 498.4,116.3 498.0,116.3 497.7,116.4 497.3,116.4 496.9,116.4 496.6,116.4 496.2,116.4 495.9,116.4 495.5,116.4 495.1,116.4 494.8,116.5 494.4,116.5 494.1,116.5 493.7,116.5 493.4,116.5 493.0,116.5 492.6,116.5 492.3,116.6 491.9,116.6 491.6,116.6 491.2,116.6 490.8,116.6 490.5,116.7 490.1,116.7 489.8,116.7 489.4,116.7 489.0,116.7 488.7,116.7 488.3,116.8 487.9,116.8 487.6,116.8 487.2,116.8 486.9,116.8 486.5,116.9 486.1,116.9 485.8,116.9 485.4,116.9 485.1,116.9 484.7,117.0 484.4,117.0 484.0,117.0 483.6,117.0 483.3,117.1 482.9,117.1 482.6,117.1 482.2,117.1 481.8,117.1 481.5,117.2 481.1,117.2 480.8,117.2 480.4,117.2 480.0,117.2 479.7,117.3 479.3,117.3 478.9,117.3 478.6,117.3 478.2,117.3 477.9,117.4 477.5,117.4 477.1,117.4 476.8,117.4 476.4,117.5 476.1,117.5 475.7,117.5 475.4,117.5 475.0,117.5 474.6,117.6 474.3,117.6 473.9,117.6 473.6,117.6 473.2,117.6 472.8,117.7 472.5,117.7 472.1,117.7 471.8,117.7 471.4,117.7 471.0,117.8 470.7,117.8 470.3,117.8 469.9,117.8 469.6,117.8 469.2,117.8 468.9,117.8 468.5,117.9 468.1,117.9 467.8,117.9 467.4,117.9 467.1,117.9 466.7,117.9 466.4,117.9 466.0,117.9 465.6,118.0 465.3,118.0 464.9,118.0 464.6,118.0 464.2,118.0 463.8,118.0 463.5,118.0 463.1,118.1 462.8,118.1 462.4,118.1 462.0,118.1 461.7,118.1 461.3,118.1 460.9,118.2 460.6,118.2 460.2,118.2 459.9,118.2 459.5,118.3 459.1,118.3 458.8,118.3 458.4,118.4 458.1,118.4 457.7,118.4 457.4,118.5 457.0,118.5 456.6,118.6 456.3,118.6 455.9,118.7 455.6,118.8 455.2,118.8 454.8,118.9 454.5,119.0 454.1,119.0 453.8,119.1 453.4,119.2 453.0,119.3 452.7,119.4 452.3,119.5 451.9,119.7 451.6,119.8 451.2,119.9 450.9,120.1 450.5,120.2 450.1,120.4 449.8,120.6 449.4,120.8 449.1,120.9 448.7,121.1 448.4,121.4 448.0,121.6 447.6,121.8 447.3,122.1 446.9,122.3 446.6,122.6 446.2,122.9 445.8,123.1 445.5,123.5 445.1,123.8 444.8,124.1 444.4,124.4 444.0,124.8 443.7,125.1 443.3,125.5 442.9,125.9 442.6,126.3 442.2,126.7 441.9,127.1 441.5,127.5 441.1,127.9 440.8,128.3 440.4,128.8 440.1,129.2 439.7,129.7 439.4,130.2 439.0,130.6 438.6,131.1 438.3,131.6 437.9,132.1 437.6,132.6 437.2,133.0 436.8,133.5 436.5,134.0 436.1,134.5 435.8,135.0 435.4,135.5 435.0,136.0 434.7,136.5 434.3,137.0 433.9,137.5 433.6,138.0 433.2,138.4 432.9,138.9 432.5,139.4 432.1,139.8 431.8,140.2 431.4,140.7 431.1,141.1 430.7,141.5 430.3,141.9 430.0,142.3 429.6,142.6 429.3,143.0 428.9,143.3 428.6,143.6 428.2,143.9 427.8,144.1 427.5,144.4 427.1,144.6 426.8,144.8 426.4,144.9 426.0,145.0 425.7,145.1 425.3,145.2 424.9,145.2 424.6,145.3 424.2,145.2 423.9,145.2 423.5,145.1 423.1,145.0 422.8,144.9 422.4,144.7 422.1,144.5 421.7,144.3 421.4,144.1 421.0,143.9 420.6,143.6 420.3,143.3 419.9,143.1 419.6,142.8 419.2,142.5 418.8,142.2 418.5,142.0 418.1,141.7 417.8,141.4 417.4,141.2 417.0,140.9 416.7,140.6 416.3,140.4 415.9,140.1 415.6,139.9 415.2,139.7 414.9,139.5 414.5,139.3 414.1,139.0 413.8,138.8 413.4,138.7 413.1,138.5 412.7,138.3 412.3,138.1 412.0,138.0 411.6,137.8 411.3,137.6 410.9,137.5 410.6,137.3 410.2,137.2 409.8,137.1 409.5,136.9 409.1,136.8 408.8,136.7 408.4,136.6 408.0,136.5 407.7,136.4 407.3,136.3 406.9,136.1 406.6,136.1 406.2,136.0 405.9,135.9 405.5,135.8 405.1,135.7 404.8,135.6 404.4,135.5 404.1,135.4 403.7,135.4 403.4,135.3 403.0,135.2 402.6,135.2 402.3,135.1 401.9,135.0 401.6,135.0 401.2,134.9 400.8,134.9 400.5,134.8 400.1,134.8 399.8,134.7 399.4,134.7 399.0,134.6 398.7,134.6 398.3,134.5 397.9,134.5 397.6,134.5 397.2,134.4 396.9,134.4 396.5,134.4 396.1,134.4 395.8,134.4 395.4,134.3 395.1,134.3 394.7,134.3 394.4,134.3 394.0,134.3 393.6,134.3 393.3,134.3 392.9,134.3 392.6,134.3 392.2,134.3 391.8,134.3 391.5,134.3 391.1,134.3 390.8,134.3 390.4,134.3 390.0,134.4 389.7,134.4 389.3,134.4 388.9,134.4 388.6,134.4 388.2,134.4 387.9,134.5 387.5,134.5 387.1,134.5 386.8,134.5 386.4,134.5 386.1,134.6 385.7,134.6 385.3,134.6 385.0,134.6 384.6,134.7 384.3,134.7 383.9,134.7 383.6,134.7 383.2,134.7 382.8,134.8 382.5,134.8 382.1,134.8 381.8,134.8 381.4,134.9 381.0,134.9 380.7,134.9 380.3,134.9 379.9,134.9 379.6,135.0 379.2,135.0 378.9,135.0 378.5,135.0 378.1,135.1 377.8,135.1 377.4,135.1 377.1,135.2 376.7,135.2 376.3,135.2 376.0,135.2 375.6,135.3 375.3,135.3 374.9,135.3 374.5,135.4 374.2,135.4 373.8,135.4 373.5,135.5 373.1,135.5 372.8,135.5 372.4,135.6 372.0,135.6 371.7,135.6 371.3,135.7 370.9,135.7 370.6,135.7 370.2,135.8 369.9,135.8 369.5,135.9 369.2,135.9 368.8,135.9 368.4,136.0 368.1,136.0 367.7,136.0 367.4,136.1 367.0,136.1 366.6,136.2 366.3,136.2 365.9,136.3 365.6,136.3 365.2,136.3 364.8,136.4 364.5,136.4 364.1,136.5 363.8,136.5" fill="none" stroke="#0000ff" stroke-width="1.75" stroke-linejoin="round" stroke-linecap="round"/>
<polyline points="363.8,113.1 364.1,110.5 364.5,108.4 364.8,106.6 365.2,105.0 365.6,103.7 365.9,102.6 366.3,101.6 366.6,100.8 367.0,100.0 367.4,99.4 367.7,98.8 368.1,98.3 368.4,97.9 368.8,97.4 369.1,97.1 369.5,96.8 369.9,96.5 370.2,96.2 370.6,95.9 370.9,95.7 371.3,95.5 371.7,95.3 372.0,95.1 372.4,94.9 372.8,94.7 373.1,94.6 373.5,94.4 373.8,94.3 374.2,94.2 374.6,94.0 374.9,93.9 375.3,93.8 375.6,93.6 376.0,93.5 376.4,93.4 376.7,93.3 377.1,93.2 377.4,93.1 377.8,93.0 378.1,92.9 378.5,92.8 378.9,92.7 379.2,92.6 379.6,92.5 379.9,92.4 380.3,92.4 380.7,92.3 381.0,92.2 381.4,92.1 381.8,92.0 382.1,92.0 382.5,91.9 382.8,91.8 383.2,91.8 383.6,91.7 383.9,91.6 384.3,91.6 384.6,91.5 385.0,91.5 385.4,91.4 385.7,91.3 386.1,91.3 386.4,91.2 386.8,91.2 387.1,91.1 387.5,91.1 387.9,91.0 388.2,91.0 388.6,91.0 388.9,90.9 389.3,90.9 389.7,90.8 390.0,90.8 390.4,90.8 390.8,90.7 391.1,90.7 391.5,90.6 391.8,90.6 392.2,90.6 392.6,90.6 392.9,90.5 393.3,90.5 393.6,90.5 394.0,90.4 394.4,90.4 394.7,90.4 395.1,90.4 395.4,90.3 395.8,90.3 396.1,90.3 396.5,90.3 396.9,90.2 397.2,90.2 397.6,90.2 397.9,90.2 398.3,90.1 398.7,90.1 399.0,90.1 399.4,90.1 399.8,90.0 400.1,90.0 400.5,90.0 400.8,90.0 401.2,90.0 401.6,89.9 401.9,89.9 402.3,89.9 402.6,89.9 403.0,89.9 403.4,89.9 403.7,89.9 404.1,89.9 404.4,89.8 404.8,89.8 405.1,89.8 405.5,89.8 405.9,89.8 406.2,89.8 406.6,89.8 406.9,89.8 407.3,89.8 407.7,89.8 408.0,89.8 408.4,89.8 408.8,89.8 409.1,89.8 409.5,89.8 409.8,89.8 410.2,89.8 410.6,89.8 410.9,89.8 411.3,89.8 411.6,89.8 412.0,89.8 412.4,89.8 412.7,89.8 413.1,89.8 413.4,89.8 413.8,89.8 414.1,89.8 414.5,89.8 414.9,89.8 415.2,89.8 415.6,89.8 415.9,89.8 416.3,89.8 416.7,89.8 417.0,89.8 417.4,89.8 417.8,89.8 418.1,89.8 418.5,89.8 418.8,89.8 419.2,89.8 419.6,89.8 419.9,89.8 420.3,89.8 420.6,89.8 421.0,89.8 421.4,89.8 421.7,89.8 422.1,89.7 422.4,89.7 422.8,89.7 423.1,89.7 423.5,89.7 423.9,89.6 424.2,89.6 424.6,89.6 424.9,89.5 425.3,89.5 425.7,89.4 426.0,89.4 426.4,89.3 426.8,89.3 427.1,89.2 427.5,89.1 427.8,89.0 428.2,89.0 428.6,88.9 428.9,88.8 429.3,88.7 429.6,88.5 430.0,88.4 430.4,88.3 430.7,88.1 431.1,88.0 431.4,87.8 431.8,87.6 432.1,87.5 432.5,87.3 432.9,87.1 433.2,86.8 433.6,86.6 433.9,86.4 434.3,86.1 434.7,85.9 435.0,85.6 435.4,85.3 435.8,85.0 436.1,84.7 436.5,84.4 436.8,84.0 437.2,83.7 437.6,83.3 437.9,83.0 438.3,82.6 438.6,82.2 439.0,81.8 439.4,81.4 439.7,81.0 440.1,80.6 440.4,80.1 440.8,79.7 441.1,79.2 441.5,78.8 441.9,78.3 442.2,77.9 442.6,77.4 442.9,76.9 443.3,76.5 443.7,76.0 444.0,75.5 444.4,75.0 444.8,74.6 445.1,74.1 445.5,73.6 445.8,73.1 446.2,72.7 446.6,72.2 446.9,71.7 447.3,71.3 447.6,70.8 448.0,70.4 448.4,69.9 448.7,69.5 449.1,69.1 449.4,68.7 449.8,68.3 450.1,67.9 450.5,67.5 450.9,67.2 451.2,66.9 451.6,66.5 451.9,66.2 452.3,66.0 452.7,65.7 453.0,65.5 453.4,65.3 453.8,65.1 454.1,65.0 454.5,64.9 454.8,64.8 455.2,64.8 455.6,64.8 455.9,64.8 456.3,64.8 456.6,64.9 457.0,65.0 457.4,65.2 457.7,65.4 458.1,65.6 458.4,65.9 458.8,66.1 459.1,66.4 459.5,66.8 459.9,67.1 460.2,67.4 460.6,67.8 460.9,68.2 461.3,68.5 461.7,68.9 462.0,69.3 462.4,69.6 462.8,70.0 463.1,70.4 463.5,70.7 463.8,71.1 464.2,71.4 464.6,71.7 464.9,72.1 465.3,72.4 465.6,72.7 466.0,73.0 466.4,73.3 466.7,73.5 467.1,73.8 467.4,74.1 467.8,74.3 468.1,74.6 468.5,74.8 468.9,75.1 469.2,75.3 469.6,75.5 469.9,75.7 470.3,75.9 470.7,76.1 471.0,76.3 471.4,76.5 471.8,76.7 472.1,76.9 472.5,77.1 472.8,77.3 473.2,77.4 473.6,77.6 473.9,77.8 474.3,78.0 474.6,78.1 475.0,78.3 475.4,78.4 475.7,78.6 476.1,78.7 476.4,78.9 476.8,79.0 477.1,79.2 477.5,79.3 477.9,79.4 478.2,79.6 478.6,79.7 478.9,79.8 479.3,80.0 479.7,80.1 480.0,80.2 480.4,80.3 480.8,80.4 481.1,80.6 481.5,80.7 481.8,80.8 482.2,80.9 482.6,81.0 482.9,81.1 483.3,81.2 483.6,81.3 484.0,81.4 484.4,81.5 484.7,81.7 485.1,81.8 485.4,81.9 485.8,81.9 486.1,82.0 486.5,82.1 486.9,82.2 487.2,82.3 487.6,82.4 487.9,82.5 488.3,82.6 488.7,82.7 489.0,82.8 489.4,82.8 489.8,82.9 490.1,83.0 490.5,83.1 490.8,83.2 491.2,83.3 491.6,83.3 491.9,83.4 492.3,83.5 492.6,83.6 493.0,83.6 493.4,83.7 493.7,83.8 494.1,83.8 494.4,83.9 494.8,84.0 495.1,84.0 495.5,84.1 495.9,84.2 496.2,84.2 496.6,84.3 496.9,84.3 497.3,84.4 497.7,84.4 498.0,84.5 498.4,84.5 498.8,84.6 499.1,84.7 499.5,84.7 499.8,84.7 500.2,84.8 500.6,84.8 500.9,84.9 501.3,84.9 501.6,85.0 502.0,85.0 502.4,85.0 502.7,85.1 503.1,85.1 503.4,85.1 503.8,85.1 504.1,85.2 504.5,85.2 504.9,85.2 505.2,85.2 505.6,85.2 506.0,85.2 506.3,85.2 506.7,85.3 507.0,85.3 507.4,85.3 507.8,85.3 508.1,85.3 508.5,85.3 508.8,85.3 509.2,85.3 509.6,85.3 509.9,85.3 510.3,85.3 510.6,85.3 511.0,85.3 511.4,85.3 511.7,85.3 512.1,85.3 512.4,85.3 512.8,85.3 513.1,85.2 513.5,85.2 513.9,85.2 514.2,85.2 514.6,85.2 515.0,85.2 515.3,85.2 515.7,85.2 516.0,85.2 516.4,85.2 516.8,85.2 517.1,85.1 517.5,85.1 517.8,85.1 518.2,85.1 518.5,85.1 518.9,85.1 519.3,85.1 519.6,85.1 520.0,85.1 520.4,85.1 520.7,85.1 521.1,85.0 521.4,85.0 521.8,85.0 522.1,85.0 522.5,85.0 522.9,85.0 523.2,85.0 523.6,85.0 524.0,85.0 524.3,85.0 524.7,85.0 525.0,85.0 525.4,85.0 525.8,85.0 526.1,85.0 526.5,85.0 526.8,85.0 527.2,85.0 527.5,85.0 527.9,85.0 528.3,85.0 528.6,85.0 529.0,85.0 529.4,85.0 529.7,85.0 530.1,85.0 530.4,85.0 530.8,85.0 531.1,85.0 531.5,85.0 531.9,85.0 532.2,85.0 532.6,85.0 533.0,84.9 533.3,84.9 533.7,84.9 534.0,84.9 534.4,84.9 534.8,84.9 535.1,84.9 535.5,84.8 535.8,84.8 536.2,84.8 536.5,84.8 536.9,84.8 537.3,84.7 537.6,84.7 538.0,84.7 538.4,84.7 538.7,84.6 539.1,84.6 539.4,84.6 539.8,84.6 540.1,84.5 540.5,84.5 540.9,84.5 541.2,84.4 541.6,84.4 542.0,84.4 542.3,84.3 542.7,84.3 543.0,84.2 543.4,84.2 543.8,84.2 544.1,84.1 544.5,84.1 544.8,84.0 545.2,84.0 545.5,84.0 545.9,83.9 546.3,83.9 546.6,83.8 547.0,83.8 547.4,83.7 547.7,83.6 548.1,83.6 548.4,83.5 548.8,83.5 549.1,83.4 549.5,83.4 549.9,83.3 550.2,83.2 550.6,83.2 551.0,83.1 551.3,83.0 551.7,83.0 552.0,82.9 552.4,82.8 552.8,82.8 553.1,82.7 553.5,82.6 553.8,82.5 554.2,82.5 554.5,82.4 554.9,82.3 555.3,82.2 555.6,82.1 556.0,82.0 556.4,81.9 556.7,81.9 557.1,81.8 557.4,81.7 557.8,81.6 558.2,81.5 558.5,81.4 558.9,81.3 559.2,81.2 559.6,81.1 560.0,81.0 560.3,80.9 560.7,80.7 561.0,80.6 561.4,80.5 561.8,80.4 562.1,80.3 562.5,80.2 562.8,80.0 563.2,79.9 563.5,79.8 563.9,79.7 564.3,79.5 564.6,79.4 565.0,79.3 565.4,79.1 565.7,79.0 566.1,78.8 566.4,78.7 566.8,78.5 567.2,78.4 567.5,78.2 567.9,78.1 568.2,77.9 568.6,77.8 569.0,77.6 569.3,77.4 569.7,77.3 570.0,77.1 570.4,76.9 570.8,76.8 571.1,76.6 571.5,76.5 571.8,76.3 572.2,76.2 572.5,76.1 572.9,76.1 573.3,76.0 573.6,75.9 574.0,75.9 574.4,75.8 574.7,75.8 575.1,75.7 575.4,75.7 575.8,75.6 576.1,75.6 576.5,75.5 576.9,75.5 577.2,75.5 577.6,75.4 578.0,75.4 578.3,75.3 578.7,75.3 579.0,75.2 579.4,75.1 579.8,75.0 579.4,76.7 579.0,78.4 578.7,79.9 578.3,81.4 578.0,82.9 577.6,84.3 577.2,85.6 576.9,86.9 576.5,88.1 576.1,89.3 575.8,90.4 575.4,91.5 575.1,92.5 574.7,93.5 574.4,94.5 574.0,95.4 573.6,96.3 573.3,97.1 572.9,97.9 572.5,98.7 572.2,99.4 571.8,100.2 571.5,100.8 571.1,101.5 570.8,102.1 570.4,102.7 570.0,103.3 569.7,103.9 569.3,104.4 569.0,104.9 568.6,105.4 568.2,105.9 567.9,106.3 567.5,106.8 567.1,107.2 566.8,107.6 566.4,108.0 566.1,108.3 565.7,108.7 565.4,109.0 565.0,109.4 564.6,109.7 564.3,110.0 563.9,110.3 563.5,110.5 563.2,110.8 562.8,111.1 562.5,111.3 562.1,111.5 561.8,111.8 561.4,112.0 561.0,112.2 560.7,112.4 560.3,112.6 560.0,112.8 559.6,112.9 559.2,113.1 558.9,113.3 558.5,113.4 558.1,113.6 557.8,113.7 557.4,113.9 557.1,114.0 556.7,114.1 556.4,114.3 556.0,114.4 555.6,114.5 555.3,114.6 554.9,114.7 554.5,114.8 554.2,114.9 553.8,115.0 553.5,115.1 553.1,115.2 552.8,115.3 552.4,115.4 552.0,115.4 551.7,115.5 551.3,115.6 551.0,115.7 550.6,115.7 550.2,115.8 549.9,115.9 549.5,115.9 549.1,116.0 548.8,116.0 548.4,116.1 548.1,116.2 547.7,116.2 547.4,116.3 547.0,116.3 546.6,116.3 546.3,116.4 545.9,116.4 545.5,116.5 545.2,116.5 544.8,116.6 544.5,116.6 544.1,116.6 543.8,116.7 543.4,116.7 543.0,116.7 542.7,116.8 542.3,116.8 542.0,116.8 541.6,116.9 541.2,116.9 540.9,116.9 540.5,117.0 540.1,117.0 539.8,117.0 539.4,117.0 539.1,117.1 538.7,117.1 538.4,117.1 538.0,117.1 537.6,117.1 537.3,117.2 536.9,117.2 536.5,117.2 536.2,117.2 535.8,117.3 535.5,117.3 535.1,117.3 534.8,117.3 534.4,117.3 534.0,117.3 533.7,117.4 533.3,117.4 533.0,117.4 532.6,117.4 532.2,117.4 531.9,117.5 531.5,117.5 531.1,117.5 530.8,117.5 530.4,117.5 530.1,117.5 529.7,117.5 529.4,117.6 529.0,117.6 528.6,117.6 528.3,117.6 527.9,117.6 527.5,117.6 527.2,117.6 526.8,117.7 526.5,117.7 526.1,117.7 525.8,117.7 525.4,117.7 525.0,117.7 524.7,117.7 524.3,117.7 524.0,117.8 523.6,117.8 523.2,117.8 522.9,117.8 522.5,117.8 522.1,117.8 521.8,117.8 521.4,117.8 521.1,117.8 520.7,117.8 520.4,117.9 520.0,117.9 519.6,117.9 519.3,117.9 518.9,117.9 518.5,117.9 518.2,117.9 517.8,117.9 517.5,117.9 517.1,117.9 516.8,117.9 516.4,117.9 516.0,117.9 515.7,117.9 515.3,118.0 515.0,118.0 514.6,118.0 514.2,118.0 513.9,118.0 513.5,118.0 513.1,118.0 512.8,118.0 512.4,118.0 512.1,118.0 511.7,118.0 511.4,118.0 511.0,118.0 510.6,118.0 510.3,118.0 509.9,118.0 509.6,118.0 509.2,118.1 508.8,118.1 508.5,118.1 508.1,118.1 507.8,118.1 507.4,118.1 507.0,118.1 506.7,118.1 506.3,118.1 505.9,118.1 505.6,118.1 505.2,118.1 504.9,118.1 504.5,118.1 504.1,118.2 503.8,118.2 503.4,118.2 503.1,118.2 502.7,118.2 502.4,118.2 502.0,118.2 501.6,118.2 501.3,118.2 500.9,118.2 500.6,118.3 500.2,118.3 499.8,118.3 499.5,118.3 499.1,118.3 498.8,118.3 498.4,118.3 498.0,118.3 497.7,118.3 497.3,118.4 496.9,118.4 496.6,118.4 496.2,118.4 495.9,118.4 495.5,118.4 495.1,118.5 494.8,118.5 494.4,118.5 494.1,118.5 493.7,118.5 493.4,118.5 493.0,118.6 492.6,118.6 492.3,118.6 491.9,118.6 491.6,118.6 491.2,118.7 490.8,118.7 490.5,118.7 490.1,118.7 489.8,118.7 489.4,118.8 489.0,118.8 488.7,118.8 488.3,118.8 487.9,118.9 487.6,118.9 487.2,118.9 486.9,118.9 486.5,119.0 486.1,119.0 485.8,119.0 485.4,119.0 485.1,119.1 484.7,119.1 484.4,119.1 484.0,119.1 483.6,119.1 483.3,119.2 482.9,119.2 482.6,119.2 482.2,119.2 481.8,119.3 481.5,119.3 481.1,119.3 480.8,119.3 480.4,119.4 480.0,119.4 479.7,119.4 479.3,119.4 478.9,119.5 478.6,119.5 478.2,119.5 477.9,119.6 477.5,119.6 477.1,119.6 476.8,119.6 476.4,119.7 476.1,119.7 475.7,119.7 475.4,119.7 475.0,119.8 474.6,119.8 474.3,119.8 473.9,119.9 473.6,119.9 473.2,119.9 472.8,119.9 472.5,120.0 472.1,120.0 471.8,120.0 471.4,120.1 471.0,120.1 470.7,120.1 470.3,120.2 469.9,120.2 469.6,120.2 469.2,120.3 468.9,120.3 468.5,120.3 468.1,120.3 467.8,120.4 467.4,120.4 467.1,120.4 466.7,120.5 466.4,120.5 466.0,120.5 465.6,120.6 465.3,120.6 464.9,120.7 464.6,120.7 464.2,120.7 463.8,120.8 463.5,120.8 463.1,120.8 462.8,120.9 462.4,120.9 462.0,121.0 461.7,121.0 461.3,121.0 460.9,121.1 460.6,121.1 460.2,121.2 459.9,121.2 459.5,121.3 459.1,121.3 458.8,121.4 458.4,121.4 458.1,121.5 457.7,121.5 457.4,121.6 457.0,121.7 456.6,121.7 456.3,121.8 455.9,121.9 455.6,121.9 455.2,122.0 454.8,122.1 454.5,122.2 454.1,122.3 453.8,122.3 453.4,122.4 453.0,122.6 452.7,122.7 452.3,122.8 451.9,122.9 451.6,123.0 451.2,123.2 450.9,123.3 450.5,123.5 450.1,123.7 449.8,123.8 449.4,124.0 449.1,124.2 448.7,124.4 448.4,124.6 448.0,124.9 447.6,125.1 447.3,125.3 446.9,125.6 446.6,125.9 446.2,126.2 445.8,126.4 445.5,126.8 445.1,127.1 444.8,127.4 444.4,127.7 444.0,128.1 443.7,128.5 443.3,128.8 442.9,129.2 442.6,129.6 442.2,130.0 441.9,130.4 441.5,130.9 441.1,131.3 440.8,131.7 440.4,132.2 440.1,132.7 439.7,133.1 439.4,133.6 439.0,134.1 438.6,134.6 438.3,135.1 437.9,135.6 437.6,136.1 437.2,136.6 436.8,137.2 436.5,137.7 436.1,138.2 435.8,138.8 435.4,139.3 435.0,139.8 434.7,140.4 434.3,140.9 433.9,141.4 433.6,141.9 433.2,142.5 432.9,143.0 432.5,143.5 432.1,144.0 431.8,144.5 431.4,145.0 431.1,145.5 430.7,146.0 430.3,146.5 430.0,146.9 429.6,147.4 429.3,147.8 428.9,148.2 428.6,148.6 428.2,149.0 427.8,149.4 427.5,149.7 427.1,150.1 426.8,150.4 426.4,150.7 426.0,150.9 425.7,151.1 425.3,151.4 424.9,151.5 424.6,151.7 424.2,151.8 423.9,151.9 423.5,151.9 423.1,151.9 422.8,151.9 422.4,151.9 422.1,151.8 421.7,151.7 421.4,151.6 421.0,151.4 420.6,151.2 420.3,151.0 419.9,150.7 419.6,150.5 419.2,150.2 418.8,149.9 418.5,149.6 418.1,149.3 417.8,149.0 417.4,148.7 417.0,148.4 416.7,148.0 416.3,147.7 415.9,147.4 415.6,147.1 415.2,146.8 414.9,146.5 414.5,146.3 414.1,146.0 413.8,145.7 413.4,145.5 413.1,145.2 412.7,145.0 412.3,144.8 412.0,144.5 411.6,144.3 411.3,144.1 410.9,143.9 410.6,143.7 410.2,143.5 409.8,143.3 409.5,143.2 409.1,143.0 408.8,142.8 408.4,142.7 408.0,142.5 407.7,142.4 407.3,142.2 406.9,142.1 406.6,142.0 406.2,141.9 405.9,141.7 405.5,141.6 405.1,141.5 404.8,141.4 404.4,141.3 404.1,141.2 403.7,141.1 403.4,141.0 403.0,140.9 402.6,140.8 402.3,140.7 401.9,140.7 401.6,140.6 401.2,140.5 400.8,140.4 400.5,140.4 400.1,140.3 399.8,140.2 399.4,140.2 399.0,140.1 398.7,140.1 398.3,140.0 397.9,140.0 397.6,140.0 397.2,139.9 396.9,139.9 396.5,139.9 396.1,139.8 395.8,139.8 395.4,139.8 395.1,139.8 394.7,139.8 394.4,139.7 394.0,139.7 393.6,139.7 393.3,139.7 392.9,139.7 392.6,139.7 392.2,139.7 391.8,139.7 391.5,139.7 391.1,139.7 390.8,139.8 390.4,139.8 390.0,139.8 389.7,139.8 389.3,139.8 388.9,139.8 388.6,139.8 388.2,139.8 387.9,139.9 387.5,139.9 387.1,139.9 386.8,139.9 386.4,139.9 386.1,140.0 385.7,140.0 385.3,140.0 385.0,140.0 384.6,140.1 384.3,140.1 383.9,140.1 383.6,140.1 383.2,140.1 382.8,140.2 382.5,140.2 382.1,140.2 381.8,140.2 381.4,140.3 381.0,140.3 380.7,140.3 380.3,140.3 379.9,140.4 379.6,140.4 379.2,140.4 378.9,140.4 378.5,140.5 378.1,140.5 377.8,140.5 377.4,140.5 377.1,140.6 376.7,140.6 376.3,140.6 376.0,140.6 375.6,140.7 375.3,140.7 374.9,140.7 374.5,140.8 374.2,140.8 373.8,140.8 373.5,140.9 373.1,140.9 372.8,140.9 372.4,141.0 372.0,141.0 371.7,141.0 371.3,141.1 370.9,141.1 370.6,141.2 370.2,141.2 369.9,141.2 369.5,141.3 369.2,141.3 368.8,141.3 368.4,141.4 368.1,141.4 367.7,141.5 367.4,141.5 367.0,141.5 366.6,141.6 366.3,141.6 365.9,141.7 365.6,141.7 365.2,141.7 364.8,141.8 364.5,141.8 364.1,141.9 363.8,141.9" fill="none" stroke="#00ffff" stroke-width="1.75" stroke-linejoin="round" stroke-linecap="round"/>
<polyline points="363.8,113.1 364.1,110.7 364.5,108.6 364.8,106.8 365.2,105.1 365.6,103.7 365.9,102.4 366.3,101.3 366.6,100.3 367.0,99.4 367.4,98.6 367.7,97.9 368.1,97.2 368.4,96.7 368.8,96.1 369.1,95.7 369.5,95.2 369.9,94.8 370.2,94.4 370.6,94.1 370.9,93.8 371.3,93.5 371.7,93.2 372.0,93.0 372.4,92.7 372.8,92.5 373.1,92.3 373.5,92.1 373.8,91.9 374.2,91.7 374.6,91.5 374.9,91.3 375.3,91.2 375.6,91.0 376.0,90.8 376.4,90.7 376.7,90.6 377.1,90.4 377.4,90.3 377.8,90.1 378.1,90.0 378.5,89.9 378.9,89.7 379.2,89.6 379.6,89.5 379.9,89.4 380.3,89.3 380.7,89.2 381.0,89.0 381.4,88.9 381.8,88.8 382.1,88.7 382.5,88.6 382.8,88.5 383.2,88.4 383.6,88.3 383.9,88.2 384.3,88.2 384.6,88.1 385.0,88.0 385.4,87.9 385.7,87.8 386.1,87.7 386.4,87.6 386.8,87.6 387.1,87.5 387.5,87.4 387.9,87.3 388.2,87.3 388.6,87.2 388.9,87.1 389.3,87.1 389.7,87.0 390.0,86.9 390.4,86.9 390.8,86.8 391.1,86.8 391.5,86.7 391.8,86.6 392.2,86.6 392.6,86.5 392.9,86.5 393.3,86.4 393.6,86.4 394.0,86.3 394.4,86.3 394.7,86.3 395.1,86.2 395.4,86.2 395.8,86.1 396.1,86.1 396.5,86.1 396.9,86.0 397.2,86.0 397.6,86.0 397.9,85.9 398.3,85.9 398.7,85.9 399.0,85.9 399.4,85.8 399.8,85.8 400.1,85.8 400.5,85.8 400.8,85.7 401.2,85.7 401.6,85.7 401.9,85.7 402.3,85.7 402.6,85.6 403.0,85.6 403.4,85.6 403.7,85.6 404.1,85.6 404.4,85.6 404.8,85.6 405.1,85.6 405.5,85.6 405.9,85.6 406.2,85.6 406.6,85.6 406.9,85.6 407.3,85.6 407.7,85.6 408.0,85.6 408.4,85.6 408.8,85.6 409.1,85.6 409.5,85.6 409.8,85.6 410.2,85.6 410.6,85.6 410.9,85.6 411.3,85.6 411.6,85.6 412.0,85.6 412.4,85.6 412.7,85.6 413.1,85.6 413.4,85.7 413.8,85.7 414.1,85.7 414.5,85.7 414.9,85.7 415.2,85.7 415.6,85.7 415.9,85.7 416.3,85.7 416.7,85.7 417.0,85.7 417.4,85.8 417.8,85.8 418.1,85.8 418.5,85.8 418.8,85.8 419.2,85.8 419.6,85.8 419.9,85.8 420.3,85.8 420.6,85.8 421.0,85.8 421.4,85.8 421.7,85.8 422.1,85.8 422.4,85.8 422.8,85.8 423.1,85.8 423.5,85.7 423.9,85.7 424.2,85.7 424.6,85.7 424.9,85.6 425.3,85.6 425.7,85.6 426.0,85.5 426.4,85.5 426.8,85.5 427.1,85.4 427.5,85.3 427.8,85.3 428.2,85.2 428.6,85.1 428.9,85.0 429.3,84.9 429.6,84.8 430.0,84.7 430.4,84.6 430.7,84.5 431.1,84.4 431.4,84.2 431.8,84.0 432.1,83.9 432.5,83.7 432.9,83.5 433.2,83.3 433.6,83.1 433.9,82.9 434.3,82.6 434.7,82.4 435.0,82.1 435.4,81.9 435.8,81.6 436.1,81.3 436.5,81.0 436.8,80.7 437.2,80.3 437.6,80.0 437.9,79.6 438.3,79.3 438.6,78.9 439.0,78.5 439.4,78.1 439.7,77.7 440.1,77.3 440.4,76.8 440.8,76.4 441.1,76.0 441.5,75.5 441.9,75.0 442.2,74.6 442.6,74.1 442.9,73.6 443.3,73.1 443.7,72.6 444.0,72.1 444.4,71.7 444.8,71.2 445.1,70.6 445.5,70.1 445.8,69.6 446.2,69.1 446.6,68.6 446.9,68.1 447.3,67.6 447.6,67.1 448.0,66.6 448.4,66.2 448.7,65.7 449.1,65.2 449.4,64.7 449.8,64.3 450.1,63.8 450.5,63.4 450.9,63.0 451.2,62.5 451.6,62.1 451.9,61.8 452.3,61.4 452.7,61.0 453.0,60.7 453.4,60.4 453.8,60.1 454.1,59.9 454.5,59.6 454.8,59.4 455.2,59.2 455.6,59.1 455.9,58.9 456.3,58.9 456.6,58.8 457.0,58.8 457.4,58.8 457.7,58.8 458.1,58.9 458.4,59.1 458.8,59.2 459.1,59.4 459.5,59.6 459.9,59.9 460.2,60.2 460.6,60.5 460.9,60.9 461.3,61.2 461.7,61.6 462.0,62.0 462.4,62.4 462.8,62.8 463.1,63.2 463.5,63.7 463.8,64.1 464.2,64.5 464.6,64.9 464.9,65.3 465.3,65.6 465.6,66.0 466.0,66.4 466.4,66.7 466.7,67.1 467.1,67.4 467.4,67.8 467.8,68.1 468.1,68.4 468.5,68.7 468.9,69.0 469.2,69.3 469.6,69.5 469.9,69.8 470.3,70.1 470.7,70.3 471.0,70.6 471.4,70.8 471.8,71.0 472.1,71.3 472.5,71.5 472.8,71.7 473.2,71.9 473.6,72.1 473.9,72.3 474.3,72.5 474.6,72.7 475.0,72.9 475.4,73.1 475.7,73.3 476.1,73.5 476.4,73.6 476.8,73.8 477.1,74.0 477.5,74.1 477.9,74.3 478.2,74.5 478.6,74.6 478.9,74.8 479.3,74.9 479.7,75.1 480.0,75.2 480.4,75.4 480.8,75.5 481.1,75.7 481.5,75.8 481.8,75.9 482.2,76.1 482.6,76.2 482.9,76.3 483.3,76.5 483.6,76.6 484.0,76.7 484.4,76.8 484.7,76.9 485.1,77.1 485.4,77.2 485.8,77.3 486.1,77.4 486.5,77.5 486.9,77.6 487.2,77.7 487.6,77.9 487.9,78.0 488.3,78.1 488.7,78.2 489.0,78.3 489.4,78.4 489.8,78.5 490.1,78.6 490.5,78.7 490.8,78.7 491.2,78.8 491.6,78.9 491.9,79.0 492.3,79.1 492.6,79.2 493.0,79.3 493.4,79.4 493.7,79.4 494.1,79.5 494.4,79.6 494.8,79.7 495.1,79.8 495.5,79.8 495.9,79.9 496.2,80.0 496.6,80.1 496.9,80.1 497.3,80.2 497.7,80.3 498.0,80.3 498.4,80.4 498.8,80.4 499.1,80.5 499.5,80.6 499.8,80.6 500.2,80.7 500.6,80.7 500.9,80.8 501.3,80.8 501.6,80.9 502.0,80.9 502.4,81.0 502.7,81.0 503.1,81.0 503.4,81.1 503.8,81.1 504.1,81.1 504.5,81.2 504.9,81.2 505.2,81.2 505.6,81.2 506.0,81.2 506.3,81.3 506.7,81.3 507.0,81.3 507.4,81.3 507.8,81.3 508.1,81.3 508.5,81.3 508.8,81.4 509.2,81.4 509.6,81.4 509.9,81.4 510.3,81.4 510.6,81.4 511.0,81.4 511.4,81.4 511.7,81.4 512.1,81.4 512.4,81.4 512.8,81.4 513.1,81.4 513.5,81.4 513.9,81.4 514.2,81.4 514.6,81.3 515.0,81.3 515.3,81.3 515.7,81.3 516.0,81.3 516.4,81.3 516.8,81.3 517.1,81.3 517.5,81.3 517.8,81.3 518.2,81.3 518.5,81.3 518.9,81.3 519.3,81.3 519.6,81.3 520.0,81.3 520.4,81.3 520.7,81.3 521.1,81.3 521.4,81.3 521.8,81.3 522.1,81.3 522.5,81.3 522.9,81.3 523.2,81.3 523.6,81.3 524.0,81.3 524.3,81.3 524.7,81.3 525.0,81.3 525.4,81.3 525.8,81.3 526.1,81.3 526.5,81.3 526.8,81.3 527.2,81.3 527.5,81.3 527.9,81.3 528.3,81.4 528.6,81.4 529.0,81.4 529.4,81.4 529.7,81.4 530.1,81.4 530.4,81.4 530.8,81.4 531.1,81.3 531.5,81.3 531.9,81.3 532.2,81.3 532.6,81.3 533.0,81.3 533.3,81.3 533.7,81.3 534.0,81.3 534.4,81.3 534.8,81.3 535.1,81.3 535.5,81.2 535.8,81.2 536.2,81.2 536.5,81.2 536.9,81.2 537.3,81.2 537.6,81.1 538.0,81.1 538.4,81.1 538.7,81.1 539.1,81.0 539.4,81.0 539.8,81.0 540.1,81.0 540.5,80.9 540.9,80.9 541.2,80.9 541.6,80.8 542.0,80.8 542.3,80.8 542.7,80.7 543.0,80.7 543.4,80.7 543.8,80.6 544.1,80.6 544.5,80.5 544.8,80.5 545.2,80.5 545.5,80.4 545.9,80.4 546.3,80.3 546.6,80.3 547.0,80.2 547.4,80.2 547.7,80.1 548.1,80.1 548.4,80.0 548.8,79.9 549.1,79.9 549.5,79.8 549.9,79.8 550.2,79.7 550.6,79.6 551.0,79.6 551.3,79.5 551.7,79.4 552.0,79.3 552.4,79.3 552.8,79.2 553.1,79.1 553.5,79.0 553.8,79.0 554.2,78.9 554.5,78.8 554.9,78.7 555.3,78.6 555.6,78.5 556.0,78.5 556.4,78.4 556.7,78.3 557.1,78.2 557.4,78.1 557.8,78.0 558.2,77.9 558.5,77.8 558.9,77.7 559.2,77.6 559.6,77.4 560.0,77.3 560.3,77.2 560.7,77.1 561.0,77.0 561.4,76.9 561.8,76.7 562.1,76.6 562.5,76.5 562.8,76.4 563.2,76.2 563.5,76.1 563.9,76.0 564.3,75.8 564.6,75.7 565.0,75.5 565.4,75.4 565.7,75.2 566.1,75.1 566.4,74.9 566.8,74.8 567.2,74.6 567.5,74.5 567.9,74.3 568.2,74.1 568.6,74.0 569.0,73.8 569.3,73.6 569.7,73.4 570.0,73.2 570.4,73.1 570.8,72.9 571.1,72.7 571.5,72.6 571.8,72.4 572.2,72.3 572.5,72.2 572.9,72.1 573.3,72.0 573.6,72.0 574.0,71.9 574.4,71.8 574.7,71.8 575.1,71.7 575.4,71.6 575.8,71.6 576.1,71.5 576.5,71.5 576.9,71.4 577.2,71.4 577.6,71.3 578.0,71.3 578.3,71.2 578.7,71.1 579.0,71.0 579.4,70.9 579.8,70.8 579.4,72.7 579.0,74.5 578.7,76.3 578.3,77.9 578.0,79.5 577.6,81.0 577.2,82.5 576.9,83.9 576.5,85.3 576.1,86.6 575.8,87.8 575.4,89.0 575.1,90.2 574.7,91.3 574.4,92.4 574.0,93.4 573.6,94.4 573.3,95.3 572.9,96.2 572.5,97.1 572.2,97.9 571.8,98.7 571.5,99.5 571.1,100.2 570.8,101.0 570.4,101.6 570.0,102.3 569.7,102.9 569.3,103.5 569.0,104.1 568.6,104.7 568.2,105.2 567.9,105.7 567.5,106.2 567.1,106.7 566.8,107.2 566.4,107.6 566.1,108.0 565.7,108.4 565.4,108.8 565.0,109.2 564.6,109.6 564.3,109.9 563.9,110.3 563.5,110.6 563.2,110.9 562.8,111.2 562.5,111.5 562.1,111.8 561.8,112.0 561.4,112.3 561.0,112.5 560.7,112.8 560.3,113.0 560.0,113.2 559.6,113.4 559.2,113.6 558.9,113.8 558.5,114.0 558.1,114.2 557.8,114.4 557.4,114.6 557.1,114.7 556.7,114.9 556.4,115.0 556.0,115.2 555.6,115.3 555.3,115.5 554.9,115.6 554.5,115.7 554.2,115.8 553.8,116.0 553.5,116.1 553.1,116.2 552.8,116.3 552.4,116.4 552.0,116.5 551.7,116.6 551.3,116.7 551.0,116.8 550.6,116.9 550.2,116.9 549.9,117.0 549.5,117.1 549.1,117.2 548.8,117.3 548.4,117.3 548.1,117.4 547.7,117.5 547.4,117.5 547.0,117.6 546.6,117.7 546.3,117.7 545.9,117.8 545.5,117.8 545.2,117.9 544.8,117.9 544.5,118.0 544.1,118.1 543.8,118.1 543.4,118.2 543.0,118.2 542.7,118.2 542.3,118.3 542.0,118.3 541.6,118.4 541.2,118.4 540.9,118.5 540.5,118.5 540.1,118.5 539.8,118.6 539.4,118.6 539.1,118.6 538.7,118.7 538.4,118.7 538.0,118.7 537.6,118.8 537.3,118.8 536.9,118.8 536.5,118.9 536.2,118.9 535.8,118.9 535.5,119.0 535.1,119.0 534.8,119.0 534.4,119.1 534.0,119.1 533.7,119.1 533.3,119.1 533.0,119.2 532.6,119.2 532.2,119.2 531.9,119.2 531.5,119.3 531.1,119.3 530.8,119.3 530.4,119.3 530.1,119.4 529.7,119.4 529.4,119.4 529.0,119.4 528.6,119.4 528.3,119.5 527.9,119.5 527.5,119.5 527.2,119.5 526.8,119.5 526.5,119.6 526.1,119.6 525.8,119.6 525.4,119.6 525.0,119.6 524.7,119.7 524.3,119.7 524.0,119.7 523.6,119.7 523.2,119.7 522.9,119.8 522.5,119.8 522.1,119.8 521.8,119.8 521.4,119.8 521.1,119.8 520.7,119.8 520.4,119.8 520.0,119.9 519.6,119.9 519.3,119.9 518.9,119.9 518.5,119.9 518.2,119.9 517.8,119.9 517.5,119.9 517.1,119.9 516.8,120.0 516.4,120.0 516.0,120.0 515.7,120.0 515.3,120.0 515.0,120.0 514.6,120.0 514.2,120.0 513.9,120.0 513.5,120.0 513.1,120.0 512.8,120.0 512.4,120.0 512.1,120.0 511.7,120.1 511.4,120.1 511.0,120.1 510.6,120.1 510.3,120.1 509.9,120.1 509.6,120.1 509.2,120.1 508.8,120.1 508.5,120.1 508.1,120.1 507.8,120.1 507.4,120.1 507.0,120.1 506.7,120.1 506.3,120.1 505.9,120.2 505.6,120.2 505.2,120.2 504.9,120.2 504.5,120.2 504.1,120.2 503.8,120.2 503.4,120.2 503.1,120.2 502.7,120.2 502.4,120.2 502.0,120.3 501.6,120.3 501.3,120.3 500.9,120.3 500.6,120.3 500.2,120.3 499.8,120.3 499.5,120.3 499.1,120.4 498.8,120.4 498.4,120.4 498.0,120.4 497.7,120.4 497.3,120.4 496.9,120.4 496.6,120.5 496.2,120.5 495.9,120.5 495.5,120.5 495.1,120.5 494.8,120.6 494.4,120.6 494.1,120.6 493.7,120.6 493.4,120.7 493.0,120.7 492.6,120.7 492.3,120.7 491.9,120.8 491.6,120.8 491.2,120.8 490.8,120.8 490.5,120.9 490.1,120.9 489.8,120.9 489.4,121.0 489.0,121.0 488.7,121.0 488.3,121.1 487.9,121.1 487.6,121.1 487.2,121.2 486.9,121.2 486.5,121.2 486.1,121.3 485.8,121.3 485.4,121.3 485.1,121.4 484.7,121.4 484.4,121.4 484.0,121.5 483.6,121.5 483.3,121.5 482.9,121.6 482.6,121.6 482.2,121.6 481.8,121.7 481.5,121.7 481.1,121.7 480.8,121.8 480.4,121.8 480.0,121.8 479.7,121.9 479.3,121.9 478.9,121.9 478.6,122.0 478.2,122.0 477.9,122.0 477.5,122.1 477.1,122.1 476.8,122.1 476.4,122.2 476.1,122.2 475.7,122.2 475.4,122.3 475.0,122.3 474.6,122.3 474.3,122.4 473.9,122.4 473.6,122.4 473.2,122.5 472.8,122.5 472.5,122.5 472.1,122.6 471.8,122.6 471.4,122.6 471.0,122.7 470.7,122.7 470.3,122.7 469.9,122.8 469.6,122.8 469.2,122.8 468.9,122.9 468.5,122.9 468.1,122.9 467.8,123.0 467.4,123.0 467.1,123.0 466.7,123.0 466.4,123.1 466.0,123.1 465.6,123.1 465.3,123.2 464.9,123.2 464.6,123.2 464.2,123.3 463.8,123.3 463.5,123.3 463.1,123.4 462.8,123.4 462.4,123.4 462.0,123.5 461.7,123.5 461.3,123.5 460.9,123.6 460.6,123.6 460.2,123.7 459.9,123.7 459.5,123.7 459.1,123.8 458.8,123.8 458.4,123.9 458.1,123.9 457.7,124.0 457.4,124.1 457.0,124.1 456.6,124.2 456.3,124.2 455.9,124.3 455.6,124.4 455.2,124.5 454.8,124.5 454.5,124.6 454.1,124.7 453.8,124.8 453.4,124.9 453.0,125.0 452.7,125.1 452.3,125.2 451.9,125.4 451.6,125.5 451.2,125.6 450.9,125.8 450.5,125.9 450.1,126.1 449.8,126.3 449.4,126.5 449.1,126.6 448.7,126.8 448.4,127.1 448.0,127.3 447.6,127.5 447.3,127.8 446.9,128.0 446.6,128.3 446.2,128.6 445.8,128.9 445.5,129.2 445.1,129.5 444.8,129.8 444.4,130.1 444.0,130.5 443.7,130.9 443.3,131.2 442.9,131.6 442.6,132.0 442.2,132.4 441.9,132.9 441.5,133.3 441.1,133.7 440.8,134.2 440.4,134.6 440.1,135.1 439.7,135.6 439.4,136.1 439.0,136.6 438.6,137.1 438.3,137.6 437.9,138.1 437.6,138.7 437.2,139.2 436.8,139.7 436.5,140.3 436.1,140.8 435.8,141.4 435.4,142.0 435.0,142.5 434.7,143.1 434.3,143.6 433.9,144.2 433.6,144.8 433.2,145.3 432.9,145.9 432.5,146.5 432.1,147.0 431.8,147.6 431.4,148.1 431.1,148.7 430.7,149.2 430.3,149.7 430.0,150.3 429.6,150.8 429.3,151.3 428.9,151.8 428.6,152.3 428.2,152.7 427.8,153.2 427.5,153.6 427.1,154.1 426.8,154.5 426.4,154.9 426.0,155.2 425.7,155.6 425.3,155.9 424.9,156.2 424.6,156.5 424.2,156.7 423.9,156.9 423.5,157.1 423.1,157.3 422.8,157.4 422.4,157.5 422.1,157.6 421.7,157.6 421.4,157.6 421.0,157.6 420.6,157.5 420.3,157.4 419.9,157.2 419.6,157.0 419.2,156.8 418.8,156.6 418.5,156.3 418.1,156.1 417.8,155.8 417.4,155.4 417.0,155.1 416.7,154.8 416.3,154.4 415.9,154.1 415.6,153.7 415.2,153.4 414.9,153.1 414.5,152.7 414.1,152.4 413.8,152.1 413.4,151.8 413.1,151.5 412.7,151.2 412.3,150.9 412.0,150.6 411.6,150.3 411.3,150.1 410.9,149.8 410.6,149.6 410.2,149.3 409.8,149.1 409.5,148.9 409.1,148.7 408.8,148.5 408.4,148.3 408.0,148.1 407.7,147.9 407.3,147.7 406.9,147.6 406.6,147.4 406.2,147.2 405.9,147.1 405.5,146.9 405.1,146.8 404.8,146.7 404.4,146.5 404.1,146.4 403.7,146.3 403.4,146.2 403.0,146.1 402.6,146.0 402.3,145.8 401.9,145.8 401.6,145.7 401.2,145.6 400.8,145.5 400.5,145.4 400.1,145.3 399.8,145.3 399.4,145.2 399.0,145.1 398.7,145.1 398.3,145.0 397.9,145.0 397.6,144.9 397.2,144.9 396.9,144.8 396.5,144.8 396.1,144.8 395.8,144.8 395.4,144.7 395.1,144.7 394.7,144.7 394.4,144.7 394.0,144.7 393.6,144.7 393.3,144.7 392.9,144.7 392.6,144.7 392.2,144.7 391.8,144.7 391.5,144.7 391.1,144.7 390.8,144.7 390.4,144.7 390.0,144.7 389.7,144.7 389.3,144.7 388.9,144.8 388.6,144.8 388.2,144.8 387.9,144.8 387.5,144.8 387.1,144.9 386.8,144.9 386.4,144.9 386.1,144.9 385.7,145.0 385.3,145.0 385.0,145.0 384.6,145.1 384.3,145.1 383.9,145.1 383.6,145.1 383.2,145.2 382.8,145.2 382.5,145.2 382.1,145.2 381.8,145.3 381.4,145.3 381.0,145.3 380.7,145.3 380.3,145.4 379.9,145.4 379.6,145.4 379.2,145.4 378.9,145.5 378.5,145.5 378.1,145.5 377.8,145.6 377.4,145.6 377.1,145.6 376.7,145.6 376.3,145.7 376.0,145.7 375.6,145.7 375.3,145.8 374.9,145.8 374.5,145.8 374.2,145.9 373.8,145.9 373.5,146.0 373.1,146.0 372.8,146.0 372.4,146.1 372.0,146.1 371.7,146.1 371.3,146.2 370.9,146.2 370.6,146.3 370.2,146.3 369.9,146.3 369.5,146.4 369.2,146.4 368.8,146.5 368.4,146.5 368.1,146.5 367.7,146.6 367.4,146.6 367.0,146.7 366.6,146.7 366.3,146.7 365.9,146.8 365.6,146.8 365.2,146.9 364.8,146.9 364.5,147.0 364.1,147.0 363.8,147.1" fill="none" stroke="#ff00ff" stroke-width="1.75" stroke-linejoin="round" stroke-linecap="round"/>
<polyline points="363.8,113.1 364.1,110.8 364.5,108.8 364.8,106.9 365.2,105.3 365.6,103.8 365.9,102.4 366.3,101.2 366.6,100.0 367.0,99.0 367.4,98.1 367.7,97.3 368.1,96.5 368.4,95.8 368.8,95.1 369.1,94.5 369.5,94.0 369.9,93.5 370.2,93.0 370.6,92.5 370.9,92.1 371.3,91.8 371.7,91.4 372.0,91.1 372.4,90.7 372.8,90.4 373.1,90.1 373.5,89.9 373.8,89.6 374.2,89.4 374.6,89.1 374.9,88.9 375.3,88.7 375.6,88.5 376.0,88.3 376.4,88.1 376.7,87.9 377.1,87.7 377.4,87.5 377.8,87.4 378.1,87.2 378.5,87.0 378.9,86.9 379.2,86.7 379.6,86.6 379.9,86.4 380.3,86.3 380.7,86.1 381.0,86.0 381.4,85.8 381.8,85.7 382.1,85.6 382.5,85.5 382.8,85.3 383.2,85.2 383.6,85.1 383.9,85.0 384.3,84.8 384.6,84.7 385.0,84.6 385.4,84.5 385.7,84.4 386.1,84.3 386.4,84.2 386.8,84.1 387.1,84.0 387.5,83.9 387.9,83.8 388.2,83.7 388.6,83.6 388.9,83.5 389.3,83.4 389.7,83.4 390.0,83.3 390.4,83.2 390.8,83.1 391.1,83.0 391.5,83.0 391.8,82.9 392.2,82.8 392.6,82.8 392.9,82.7 393.3,82.6 393.6,82.6 394.0,82.5 394.4,82.4 394.7,82.4 395.1,82.3 395.4,82.3 395.8,82.2 396.1,82.2 396.5,82.1 396.9,82.1 397.2,82.1 397.6,82.0 397.9,82.0 398.3,81.9 398.7,81.9 399.0,81.9 399.4,81.8 399.8,81.8 400.1,81.8 400.5,81.8 400.8,81.7 401.2,81.7 401.6,81.7 401.9,81.7 402.3,81.7 402.6,81.6 403.0,81.6 403.4,81.6 403.7,81.6 404.1,81.6 404.4,81.6 404.8,81.6 405.1,81.6 405.5,81.6 405.9,81.5 406.2,81.5 406.6,81.5 406.9,81.5 407.3,81.5 407.7,81.5 408.0,81.5 408.4,81.5 408.8,81.5 409.1,81.5 409.5,81.6 409.8,81.6 410.2,81.6 410.6,81.6 410.9,81.6 411.3,81.6 411.6,81.6 412.0,81.6 412.4,81.6 412.7,81.6 413.1,81.6 413.4,81.6 413.8,81.6 414.1,81.7 414.5,81.7 414.9,81.7 415.2,81.7 415.6,81.7 415.9,81.7 416.3,81.7 416.7,81.7 417.0,81.7 417.4,81.7 417.8,81.8 418.1,81.8 418.5,81.8 418.8,81.8 419.2,81.8 419.6,81.8 419.9,81.8 420.3,81.8 420.6,81.8 421.0,81.8 421.4,81.8 421.7,81.8 422.1,81.8 422.4,81.8 422.8,81.8 423.1,81.8 423.5,81.8 423.9,81.7 424.2,81.7 424.6,81.7 424.9,81.7 425.3,81.7 425.7,81.6 426.0,81.6 426.4,81.6 426.8,81.5 427.1,81.5 427.5,81.4 427.8,81.3 428.2,81.3 428.6,81.2 428.9,81.1 429.3,81.0 429.6,81.0 430.0,80.9 430.4,80.7 430.7,80.6 431.1,80.5 431.4,80.4 431.8,80.2 432.1,80.1 432.5,79.9 432.9,79.7 433.2,79.5 433.6,79.3 433.9,79.1 434.3,78.9 434.7,78.7 435.0,78.4 435.4,78.1 435.8,77.9 436.1,77.6 436.5,77.3 436.8,77.0 437.2,76.7 437.6,76.3 437.9,76.0 438.3,75.6 438.6,75.2 439.0,74.9 439.4,74.5 439.7,74.1 440.1,73.6 440.4,73.2 440.8,72.8 441.1,72.3 441.5,71.9 441.9,71.4 442.2,70.9 442.6,70.5 442.9,70.0 443.3,69.5 443.7,69.0 444.0,68.5 444.4,68.0 444.8,67.4 445.1,66.9 445.5,66.4 445.8,65.9 446.2,65.3 446.6,64.8 446.9,64.3 447.3,63.7 447.6,63.2 448.0,62.7 448.4,62.1 448.7,61.6 449.1,61.1 449.4,60.6 449.8,60.1 450.1,59.6 450.5,59.1 450.9,58.6 451.2,58.1 451.6,57.6 451.9,57.2 452.3,56.7 452.7,56.3 453.0,55.9 453.4,55.5 453.8,55.1 454.1,54.7 454.5,54.4 454.8,54.1 455.2,53.8 455.6,53.5 455.9,53.2 456.3,53.0 456.6,52.8 457.0,52.6 457.4,52.5 457.7,52.4 458.1,52.4 458.4,52.3 458.8,52.4 459.1,52.4 459.5,52.5 459.9,52.6 460.2,52.8 460.6,53.0 460.9,53.3 461.3,53.6 461.7,53.9 462.0,54.2 462.4,54.6 462.8,55.0 463.1,55.4 463.5,55.8 463.8,56.3 464.2,56.7 464.6,57.2 464.9,57.6 465.3,58.1 465.6,58.5 466.0,59.0 466.4,59.4 466.7,59.8 467.1,60.2 467.4,60.6 467.8,61.0 468.1,61.4 468.5,61.8 468.9,62.1 469.2,62.5 469.6,62.8 469.9,63.2 470.3,63.5 470.7,63.8 471.0,64.1 471.4,64.4 471.8,64.7 472.1,64.9 472.5,65.2 472.8,65.5 473.2,65.7 473.6,66.0 473.9,66.2 474.3,66.5 474.6,66.7 475.0,67.0 475.4,67.2 475.7,67.4 476.1,67.6 476.4,67.8 476.8,68.0 477.1,68.2 477.5,68.4 477.9,68.6 478.2,68.8 478.6,69.0 478.9,69.2 479.3,69.4 479.7,69.6 480.0,69.8 480.4,69.9 480.8,70.1 481.1,70.3 481.5,70.4 481.8,70.6 482.2,70.8 482.6,70.9 482.9,71.1 483.3,71.2 483.6,71.4 484.0,71.5 484.4,71.7 484.7,71.8 485.1,72.0 485.4,72.1 485.8,72.3 486.1,72.4 486.5,72.5 486.9,72.7 487.2,72.8 487.6,72.9 487.9,73.0 488.3,73.2 488.7,73.3 489.0,73.4 489.4,73.5 489.8,73.7 490.1,73.8 490.5,73.9 490.8,74.0 491.2,74.1 491.6,74.2 491.9,74.3 492.3,74.4 492.6,74.5 493.0,74.6 493.4,74.7 493.7,74.8 494.1,74.9 494.4,75.0 494.8,75.1 495.1,75.2 495.5,75.3 495.9,75.4 496.2,75.5 496.6,75.6 496.9,75.7 497.3,75.7 497.7,75.8 498.0,75.9 498.4,76.0 498.8,76.0 499.1,76.1 499.5,76.2 499.8,76.2 500.2,76.3 500.6,76.4 500.9,76.4 501.3,76.5 501.6,76.5 502.0,76.6 502.4,76.7 502.7,76.7 503.1,76.7 503.4,76.8 503.8,76.8 504.1,76.9 504.5,76.9 504.9,76.9 505.2,77.0 505.6,77.0 506.0,77.0 506.3,77.1 506.7,77.1 507.0,77.1 507.4,77.1 507.8,77.2 508.1,77.2 508.5,77.2 508.8,77.2 509.2,77.2 509.6,77.3 509.9,77.3 510.3,77.3 510.6,77.3 511.0,77.3 511.4,77.3 511.7,77.3 512.1,77.3 512.4,77.3 512.8,77.4 513.1,77.4 513.5,77.4 513.9,77.4 514.2,77.4 514.6,77.4 515.0,77.4 515.3,77.4 515.7,77.4 516.0,77.4 516.4,77.4 516.8,77.4 517.1,77.4 517.5,77.4 517.8,77.4 518.2,77.4 518.5,77.4 518.9,77.4 519.3,77.4 519.6,77.4 520.0,77.4 520.4,77.4 520.7,77.4 521.1,77.4 521.4,77.4 521.8,77.4 522.1,77.4 522.5,77.4 522.9,77.4 523.2,77.5 523.6,77.5 524.0,77.5 524.3,77.5 524.7,77.5 525.0,77.5 525.4,77.5 525.8,77.5 526.1,77.5 526.5,77.5 526.8,77.6 527.2,77.6 527.5,77.6 527.9,77.6 528.3,77.6 528.6,77.6 529.0,77.6 529.4,77.6 529.7,77.6 530.1,77.6 530.4,77.6 530.8,77.6 531.1,77.6 531.5,77.6 531.9,77.6 532.2,77.6 532.6,77.6 533.0,77.6 533.3,77.6 533.7,77.6 534.0,77.5 534.4,77.5 534.8,77.5 535.1,77.5 535.5,77.5 535.8,77.5 536.2,77.5 536.5,77.5 536.9,77.4 537.3,77.4 537.6,77.4 538.0,77.4 538.4,77.4 538.7,77.3 539.1,77.3 539.4,77.3 539.8,77.3 540.1,77.3 540.5,77.2 540.9,77.2 541.2,77.2 541.6,77.1 542.0,77.1 542.3,77.1 542.7,77.0 543.0,77.0 543.4,77.0 543.8,76.9 544.1,76.9 544.5,76.9 544.8,76.8 545.2,76.8 545.5,76.7 545.9,76.7 546.3,76.6 546.6,76.6 547.0,76.5 547.4,76.5 547.7,76.4 548.1,76.4 548.4,76.3 548.8,76.3 549.1,76.2 549.5,76.2 549.9,76.1 550.2,76.0 550.6,76.0 551.0,75.9 551.3,75.8 551.7,75.8 552.0,75.7 552.4,75.6 552.8,75.6 553.1,75.5 553.5,75.4 553.8,75.3 554.2,75.2 554.5,75.2 554.9,75.1 555.3,75.0 555.6,74.9 556.0,74.8 556.4,74.7 556.7,74.6 557.1,74.5 557.4,74.4 557.8,74.3 558.2,74.2 558.5,74.1 558.9,74.0 559.2,73.9 559.6,73.8 560.0,73.7 560.3,73.6 560.7,73.5 561.0,73.4 561.4,73.2 561.8,73.1 562.1,73.0 562.5,72.9 562.8,72.7 563.2,72.6 563.5,72.5 563.9,72.3 564.3,72.2 564.6,72.1 565.0,71.9 565.4,71.8 565.7,71.6 566.1,71.5 566.4,71.3 566.8,71.2 567.2,71.0 567.5,70.9 567.9,70.7 568.2,70.5 568.6,70.4 569.0,70.2 569.3,70.0 569.7,69.8 570.0,69.6 570.4,69.5 570.8,69.3 571.1,69.1 571.5,69.0 571.8,68.8 572.2,68.7 572.5,68.6 572.9,68.5 573.3,68.4 573.6,68.3 574.0,68.2 574.4,68.1 574.7,68.1 575.1,68.0 575.4,67.9 575.8,67.9 576.1,67.8 576.5,67.7 576.9,67.7 577.2,67.6 577.6,67.5 578.0,67.4 578.3,67.3 578.7,67.2 579.0,67.1 579.4,67.0 579.8,66.9 579.4,69.0 579.0,70.9 578.7,72.8 578.3,74.6 578.0,76.4 577.6,78.0 577.2,79.6 576.9,81.2 576.5,82.7 576.1,84.1 575.8,85.5 575.4,86.8 575.1,88.0 574.7,89.3 574.4,90.4 574.0,91.6 573.6,92.6 573.3,93.7 572.9,94.7 572.5,95.6 572.2,96.6 571.8,97.4 571.5,98.3 571.1,99.1 570.8,99.9 570.4,100.7 570.0,101.4 569.7,102.1 569.3,102.8 569.0,103.4 568.6,104.0 568.2,104.7 567.9,105.2 567.5,105.8 567.1,106.3 566.8,106.8 566.4,107.3 566.1,107.8 565.7,108.3 565.4,108.7 565.0,109.1 564.6,109.6 564.3,109.9 563.9,110.3 563.5,110.7 563.2,111.1 562.8,111.4 562.5,111.7 562.1,112.0 561.8,112.3 561.4,112.6 561.0,112.9 560.7,113.2 560.3,113.5 560.0,113.7 559.6,114.0 559.2,114.2 558.9,114.4 558.5,114.6 558.1,114.9 557.8,115.1 557.4,115.3 557.1,115.4 556.7,115.6 556.4,115.8 556.0,116.0 555.6,116.1 555.3,116.3 554.9,116.5 554.5,116.6 554.2,116.8 553.8,116.9 553.5,117.0 553.1,117.2 552.8,117.3 552.4,117.4 552.0,117.5 551.7,117.7 551.3,117.8 551.0,117.9 550.6,118.0 550.2,118.1 549.9,118.2 549.5,118.3 549.1,118.4 548.8,118.5 548.4,118.6 548.1,118.6 547.7,118.7 547.4,118.8 547.0,118.9 546.6,119.0 546.3,119.0 545.9,119.1 545.5,119.2 545.2,119.3 544.8,119.3 544.5,119.4 544.1,119.5 543.8,119.5 543.4,119.6 543.0,119.6 542.7,119.7 542.3,119.8 542.0,119.8 541.6,119.9 541.2,119.9 540.9,120.0 540.5,120.0 540.1,120.1 539.8,120.1 539.4,120.2 539.1,120.2 538.7,120.3 538.4,120.3 538.0,120.3 537.6,120.4 537.3,120.4 536.9,120.5 536.5,120.5 536.2,120.6 535.8,120.6 535.5,120.6 535.1,120.7 534.8,120.7 534.4,120.8 534.0,120.8 533.7,120.8 533.3,120.9 533.0,120.9 532.6,120.9 532.2,121.0 531.9,121.0 531.5,121.0 531.1,121.1 530.8,121.1 530.4,121.1 530.1,121.2 529.7,121.2 529.4,121.2 529.0,121.3 528.6,121.3 528.3,121.3 527.9,121.3 527.5,121.4 527.2,121.4 526.8,121.4 526.5,121.5 526.1,121.5 525.8,121.5 525.4,121.5 525.0,121.6 524.7,121.6 524.3,121.6 524.0,121.7 523.6,121.7 523.2,121.7 522.9,121.7 522.5,121.8 522.1,121.8 521.8,121.8 521.4,121.8 521.1,121.8 520.7,121.9 520.4,121.9 520.0,121.9 519.6,121.9 519.3,121.9 518.9,121.9 518.5,122.0 518.2,122.0 517.8,122.0 517.5,122.0 517.1,122.0 516.8,122.0 516.4,122.1 516.0,122.1 515.7,122.1 515.3,122.1 515.0,122.1 514.6,122.1 514.2,122.1 513.9,122.1 513.5,122.2 513.1,122.2 512.8,122.2 512.4,122.2 512.1,122.2 511.7,122.2 511.4,122.2 511.0,122.2 510.6,122.2 510.3,122.3 509.9,122.3 509.6,122.3 509.2,122.3 508.8,122.3 508.5,122.3 508.1,122.3 507.8,122.3 507.4,122.3 507.0,122.3 506.7,122.4 506.3,122.4 505.9,122.4 505.6,122.4 505.2,122.4 504.9,122.4 504.5,122.4 504.1,122.4 503.8,122.4 503.4,122.5 503.1,122.5 502.7,122.5 502.4,122.5 502.0,122.5 501.6,122.5 501.3,122.5 500.9,122.6 500.6,122.6 500.2,122.6 499.8,122.6 499.5,122.6 499.1,122.6 498.8,122.6 498.4,122.7 498.0,122.7 497.7,122.7 497.3,122.7 496.9,122.7 496.6,122.8 496.2,122.8 495.9,122.8 495.5,122.8 495.1,122.8 494.8,122.9 494.4,122.9 494.1,122.9 493.7,122.9 493.4,123.0 493.0,123.0 492.6,123.0 492.3,123.0 491.9,123.1 491.6,123.1 491.2,123.1 490.8,123.2 490.5,123.2 490.1,123.2 489.8,123.3 489.4,123.3 489.0,123.3 488.7,123.4 488.3,123.4 487.9,123.4 487.6,123.5 487.2,123.5 486.9,123.5 486.5,123.6 486.1,123.6 485.8,123.6 485.4,123.7 485.1,123.7 484.7,123.7 484.4,123.8 484.0,123.8 483.6,123.8 483.3,123.9 482.9,123.9 482.6,124.0 482.2,124.0 481.8,124.0 481.5,124.1 481.1,124.1 480.8,124.1 480.4,124.2 480.0,124.2 479.7,124.3 479.3,124.3 478.9,124.3 478.6,124.4 478.2,124.4 477.9,124.4 477.5,124.5 477.1,124.5 476.8,124.5 476.4,124.6 476.1,124.6 475.7,124.7 475.4,124.7 475.0,124.7 474.6,124.8 474.3,124.8 473.9,124.8 473.6,124.9 473.2,124.9 472.8,124.9 472.5,125.0 472.1,125.0 471.8,125.1 471.4,125.1 471.0,125.1 470.7,125.2 470.3,125.2 469.9,125.2 469.6,125.3 469.2,125.3 468.9,125.3 468.5,125.4 468.1,125.4 467.8,125.4 467.4,125.5 467.1,125.5 466.7,125.5 466.4,125.6 466.0,125.6 465.6,125.6 465.3,125.7 464.9,125.7 464.6,125.7 464.2,125.8 463.8,125.8 463.5,125.8 463.1,125.9 462.8,125.9 462.4,125.9 462.0,126.0 461.7,126.0 461.3,126.1 460.9,126.1 460.6,126.1 460.2,126.2 459.9,126.2 459.5,126.3 459.1,126.3 458.8,126.4 458.4,126.4 458.1,126.5 457.7,126.5 457.4,126.6 457.0,126.7 456.6,126.7 456.3,126.8 455.9,126.9 455.6,126.9 455.2,127.0 454.8,127.1 454.5,127.2 454.1,127.3 453.8,127.4 453.4,127.5 453.0,127.6 452.7,127.7 452.3,127.8 451.9,127.9 451.6,128.1 451.2,128.2 450.9,128.3 450.5,128.5 450.1,128.7 449.8,128.8 449.4,129.0 449.1,129.2 448.7,129.4 448.4,129.6 448.0,129.8 447.6,130.1 447.3,130.3 446.9,130.6 446.6,130.8 446.2,131.1 445.8,131.4 445.5,131.7 445.1,132.0 444.8,132.3 444.4,132.7 444.0,133.0 443.7,133.4 443.3,133.7 442.9,134.1 442.6,134.5 442.2,134.9 441.9,135.4 441.5,135.8 441.1,136.2 440.8,136.7 440.4,137.1 440.1,137.6 439.7,138.1 439.4,138.6 439.0,139.1 438.6,139.6 438.3,140.1 437.9,140.7 437.6,141.2 437.2,141.8 436.8,142.3 436.5,142.9 436.1,143.4 435.8,144.0 435.4,144.6 435.0,145.2 434.7,145.7 434.3,146.3 433.9,146.9 433.6,147.5 433.2,148.1 432.9,148.7 432.5,149.3 432.1,149.9 431.8,150.5 431.4,151.1 431.1,151.7 430.7,152.2 430.3,152.8 430.0,153.4 429.6,154.0 429.3,154.5 428.9,155.1 428.6,155.6 428.2,156.2 427.8,156.7 427.5,157.2 427.1,157.7 426.8,158.2 426.4,158.7 426.0,159.1 425.7,159.6 425.3,160.0 424.9,160.4 424.6,160.8 424.2,161.2 423.9,161.5 423.5,161.8 423.1,162.1 422.8,162.3 422.4,162.6 422.1,162.8 421.7,162.9 421.4,163.1 421.0,163.2 420.6,163.2 420.3,163.3 419.9,163.3 419.6,163.2 419.2,163.1 418.8,163.0 418.5,162.9 418.1,162.7 417.8,162.4 417.4,162.2 417.0,161.9 416.7,161.6 416.3,161.3 415.9,160.9 415.6,160.6 415.2,160.2 414.9,159.8 414.5,159.5 414.1,159.1 413.8,158.7 413.4,158.3 413.1,158.0 412.7,157.6 412.3,157.3 412.0,156.9 411.6,156.6 411.3,156.3 410.9,155.9 410.6,155.6 410.2,155.3 409.8,155.1 409.5,154.8 409.1,154.5 408.8,154.3 408.4,154.0 408.0,153.8 407.7,153.6 407.3,153.3 406.9,153.1 406.6,152.9 406.2,152.7 405.9,152.5 405.5,152.3 405.1,152.2 404.8,152.0 404.4,151.8 404.1,151.7 403.7,151.5 403.4,151.4 403.0,151.2 402.6,151.1 402.3,151.0 401.9,150.9 401.6,150.8 401.2,150.7 400.8,150.5 400.5,150.5 400.1,150.4 399.8,150.3 399.4,150.2 399.0,150.1 398.7,150.1 398.3,150.0 397.9,149.9 397.6,149.9 397.2,149.8 396.9,149.8 396.5,149.7 396.1,149.7 395.8,149.7 395.4,149.7 395.1,149.6 394.7,149.6 394.4,149.6 394.0,149.6 393.6,149.6 393.3,149.6 392.9,149.6 392.6,149.6 392.2,149.6 391.8,149.6 391.5,149.6 391.1,149.6 390.8,149.6 390.4,149.6 390.0,149.6 389.7,149.7 389.3,149.7 388.9,149.7 388.6,149.7 388.2,149.7 387.9,149.8 387.5,149.8 387.1,149.8 386.8,149.9 386.4,149.9 386.1,149.9 385.7,149.9 385.3,150.0 385.0,150.0 384.6,150.0 384.3,150.1 383.9,150.1 383.6,150.1 383.2,150.2 382.8,150.2 382.5,150.2 382.1,150.2 381.8,150.3 381.4,150.3 381.0,150.3 380.7,150.4 380.3,150.4 379.9,150.4 379.6,150.5 379.2,150.5 378.9,150.5 378.5,150.6 378.1,150.6 377.8,150.6 377.4,150.7 377.1,150.7 376.7,150.7 376.3,150.8 376.0,150.8 375.6,150.8 375.3,150.9 374.9,150.9 374.5,151.0 374.2,151.0 373.8,151.0 373.5,151.1 373.1,151.1 372.8,151.2 372.4,151.2 372.0,151.2 371.7,151.3 371.3,151.3 370.9,151.4 370.6,151.4 370.2,151.5 369.9,151.5 369.5,151.6 369.2,151.6 368.8,151.6 368.4,151.7 368.1,151.7 367.7,151.8 367.4,151.8 367.0,151.9 366.6,151.9 366.3,152.0 365.9,152.0 365.6,152.1 365.2,152.1 364.8,152.2 364.5,152.2 364.1,152.3 363.8,152.3" fill="none" stroke="#ffff00" stroke-width="1.75" stroke-linejoin="round" stroke-linecap="round"/>
<polyline points="363.8,113.1 364.1,110.9 364.5,108.9 364.8,107.1 365.2,105.4 365.6,103.8 365.9,102.4 366.3,101.1 366.6,99.9 367.0,98.8 367.4,97.8 367.7,96.8 368.1,95.9 368.4,95.1 368.8,94.3 369.1,93.6 369.5,93.0 369.9,92.3 370.2,91.8 370.6,91.2 370.9,90.7 371.3,90.2 371.7,89.7 372.0,89.3 372.4,88.9 372.8,88.5 373.1,88.1 373.5,87.8 373.8,87.4 374.2,87.1 374.6,86.8 374.9,86.5 375.3,86.2 375.6,85.9 376.0,85.6 376.4,85.4 376.7,85.1 377.1,84.9 377.4,84.6 377.8,84.4 378.1,84.2 378.5,84.0 378.9,83.7 379.2,83.5 379.6,83.3 379.9,83.1 380.3,82.9 380.7,82.7 381.0,82.6 381.4,82.4 381.8,82.2 382.1,82.0 382.5,81.8 382.8,81.7 383.2,81.5 383.6,81.3 383.9,81.2 384.3,81.0 384.6,80.9 385.0,80.7 385.4,80.6 385.7,80.4 386.1,80.3 386.4,80.1 386.8,80.0 387.1,79.9 387.5,79.7 387.9,79.6 388.2,79.5 388.6,79.3 388.9,79.2 389.3,79.1 389.7,79.0 390.0,78.9 390.4,78.8 390.8,78.6 391.1,78.5 391.5,78.4 391.8,78.3 392.2,78.2 392.6,78.2 392.9,78.1 393.3,78.0 393.6,77.9 394.0,77.8 394.4,77.7 394.7,77.7 395.1,77.6 395.4,77.5 395.8,77.5 396.1,77.4 396.5,77.3 396.9,77.3 397.2,77.2 397.6,77.2 397.9,77.1 398.3,77.1 398.7,77.0 399.0,77.0 399.4,77.0 399.8,76.9 400.1,76.9 400.5,76.9 400.8,76.8 401.2,76.8 401.6,76.8 401.9,76.8 402.3,76.8 402.6,76.7 403.0,76.7 403.4,76.7 403.7,76.7 404.1,76.7 404.4,76.7 404.8,76.7 405.1,76.7 405.5,76.7 405.9,76.7 406.2,76.7 406.6,76.7 406.9,76.7 407.3,76.7 407.7,76.7 408.0,76.7 408.4,76.7 408.8,76.7 409.1,76.7 409.5,76.7 409.8,76.7 410.2,76.7 410.6,76.8 410.9,76.8 411.3,76.8 411.6,76.8 412.0,76.8 412.4,76.8 412.7,76.9 413.1,76.9 413.4,76.9 413.8,76.9 414.1,76.9 414.5,76.9 414.9,77.0 415.2,77.0 415.6,77.0 415.9,77.0 416.3,77.0 416.7,77.1 417.0,77.1 417.4,77.1 417.8,77.1 418.1,77.1 418.5,77.2 418.8,77.2 419.2,77.2 419.6,77.2 419.9,77.2 420.3,77.2 420.6,77.2 421.0,77.3 421.4,77.3 421.7,77.3 422.1,77.3 422.4,77.3 422.8,77.3 423.1,77.3 423.5,77.3 423.9,77.3 424.2,77.3 424.6,77.3 424.9,77.3 425.3,77.3 425.7,77.2 426.0,77.2 426.4,77.2 426.8,77.2 427.1,77.1 427.5,77.1 427.8,77.0 428.2,77.0 428.6,76.9 428.9,76.9 429.3,76.8 429.6,76.7 430.0,76.7 430.4,76.6 430.7,76.5 431.1,76.4 431.4,76.2 431.8,76.1 432.1,76.0 432.5,75.8 432.9,75.7 433.2,75.5 433.6,75.3 433.9,75.1 434.3,74.9 434.7,74.7 435.0,74.5 435.4,74.3 435.8,74.0 436.1,73.8 436.5,73.5 436.8,73.2 437.2,72.9 437.6,72.6 437.9,72.2 438.3,71.9 438.6,71.6 439.0,71.2 439.4,70.8 439.7,70.4 440.1,70.0 440.4,69.6 440.8,69.2 441.1,68.7 441.5,68.3 441.9,67.8 442.2,67.4 442.6,66.9 442.9,66.4 443.3,65.9 443.7,65.4 444.0,64.9 444.4,64.4 444.8,63.9 445.1,63.4 445.5,62.8 445.8,62.3 446.2,61.8 446.6,61.2 446.9,60.7 447.3,60.1 447.6,59.6 448.0,59.0 448.4,58.5 448.7,57.9 449.1,57.4 449.4,56.8 449.8,56.3 450.1,55.7 450.5,55.2 450.9,54.7 451.2,54.2 451.6,53.6 451.9,53.1 452.3,52.6 452.7,52.1 453.0,51.7 453.4,51.2 453.8,50.7 454.1,50.3 454.5,49.9 454.8,49.4 455.2,49.1 455.6,48.7 455.9,48.3 456.3,48.0 456.6,47.7 457.0,47.4 457.4,47.2 457.7,46.9 458.1,46.7 458.4,46.6 458.8,46.5 459.1,46.4 459.5,46.3 459.9,46.3 460.2,46.3 460.6,46.4 460.9,46.5 461.3,46.6 461.7,46.8 462.0,47.1 462.4,47.3 462.8,47.6 463.1,48.0 463.5,48.4 463.8,48.8 464.2,49.2 464.6,49.7 464.9,50.1 465.3,50.6 465.6,51.1 466.0,51.6 466.4,52.1 466.7,52.5 467.1,53.0 467.4,53.5 467.8,54.0 468.1,54.4 468.5,54.9 468.9,55.3 469.2,55.7 469.6,56.1 469.9,56.5 470.3,56.9 470.7,57.3 471.0,57.6 471.4,58.0 471.8,58.3 472.1,58.7 472.5,59.0 472.8,59.3 473.2,59.6 473.6,59.9 473.9,60.2 474.3,60.5 474.6,60.8 475.0,61.1 475.4,61.3 475.7,61.6 476.1,61.9 476.4,62.1 476.8,62.3 477.1,62.6 477.5,62.8 477.9,63.1 478.2,63.3 478.6,63.5 478.9,63.7 479.3,63.9 479.7,64.1 480.0,64.4 480.4,64.6 480.8,64.8 481.1,65.0 481.5,65.1 481.8,65.3 482.2,65.5 482.6,65.7 482.9,65.9 483.3,66.1 483.6,66.3 484.0,66.4 484.4,66.6 484.7,66.8 485.1,66.9 485.4,67.1 485.8,67.3 486.1,67.4 486.5,67.6 486.9,67.7 487.2,67.9 487.6,68.0 487.9,68.2 488.3,68.3 488.7,68.5 489.0,68.6 489.4,68.7 489.8,68.9 490.1,69.0 490.5,69.2 490.8,69.3 491.2,69.4 491.6,69.5 491.9,69.7 492.3,69.8 492.6,69.9 493.0,70.0 493.4,70.1 493.7,70.3 494.1,70.4 494.4,70.5 494.8,70.6 495.1,70.7 495.5,70.8 495.9,70.9 496.2,71.0 496.6,71.1 496.9,71.2 497.3,71.3 497.7,71.4 498.0,71.5 498.4,71.5 498.8,71.6 499.1,71.7 499.5,71.8 499.8,71.9 500.2,71.9 500.6,72.0 500.9,72.1 501.3,72.1 501.6,72.2 502.0,72.3 502.4,72.3 502.7,72.4 503.1,72.5 503.4,72.5 503.8,72.6 504.1,72.6 504.5,72.7 504.9,72.7 505.2,72.8 505.6,72.8 506.0,72.8 506.3,72.9 506.7,72.9 507.0,72.9 507.4,73.0 507.8,73.0 508.1,73.0 508.5,73.1 508.8,73.1 509.2,73.1 509.6,73.2 509.9,73.2 510.3,73.2 510.6,73.2 511.0,73.3 511.4,73.3 511.7,73.3 512.1,73.3 512.4,73.3 512.8,73.4 513.1,73.4 513.5,73.4 513.9,73.4 514.2,73.4 514.6,73.4 515.0,73.4 515.3,73.5 515.7,73.5 516.0,73.5 516.4,73.5 516.8,73.5 517.1,73.5 517.5,73.5 517.8,73.5 518.2,73.5 518.5,73.5 518.9,73.5 519.3,73.6 519.6,73.6 520.0,73.6 520.4,73.6 520.7,73.6 521.1,73.6 521.4,73.6 521.8,73.6 522.1,73.6 522.5,73.6 522.9,73.6 523.2,73.7 523.6,73.7 524.0,73.7 524.3,73.7 524.7,73.7 525.0,73.7 525.4,73.7 525.8,73.7 526.1,73.7 526.5,73.7 526.8,73.8 527.2,73.8 527.5,73.8 527.9,73.8 528.3,73.8 528.6,73.8 529.0,73.8 529.4,73.8 529.7,73.8 530.1,73.8 530.4,73.8 530.8,73.8 531.1,73.8 531.5,73.8 531.9,73.8 532.2,73.8 532.6,73.8 533.0,73.8 533.3,73.8 533.7,73.7 534.0,73.7 534.4,73.7 534.8,73.7 535.1,73.7 535.5,73.7 535.8,73.7 536.2,73.7 536.5,73.6 536.9,73.6 537.3,73.6 537.6,73.6 538.0,73.6 538.4,73.6 538.7,73.5 539.1,73.5 539.4,73.5 539.8,73.5 540.1,73.4 540.5,73.4 540.9,73.4 541.2,73.3 541.6,73.3 542.0,73.3 542.3,73.2 542.7,73.2 543.0,73.2 543.4,73.1 543.8,73.1 544.1,73.1 544.5,73.0 544.8,73.0 545.2,72.9 545.5,72.9 545.9,72.8 546.3,72.8 546.6,72.8 547.0,72.7 547.4,72.7 547.7,72.6 548.1,72.5 548.4,72.5 548.8,72.4 549.1,72.4 549.5,72.3 549.9,72.3 550.2,72.2 550.6,72.1 551.0,72.1 551.3,72.0 551.7,71.9 552.0,71.9 552.4,71.8 552.8,71.7 553.1,71.6 553.5,71.6 553.8,71.5 554.2,71.4 554.5,71.3 554.9,71.2 555.3,71.1 555.6,71.1 556.0,71.0 556.4,70.9 556.7,70.8 557.1,70.7 557.4,70.6 557.8,70.5 558.2,70.4 558.5,70.3 558.9,70.2 559.2,70.1 559.6,70.0 560.0,69.9 560.3,69.7 560.7,69.6 561.0,69.5 561.4,69.4 561.8,69.3 562.1,69.1 562.5,69.0 562.8,68.9 563.2,68.8 563.5,68.6 563.9,68.5 564.3,68.3 564.6,68.2 565.0,68.1 565.4,67.9 565.7,67.8 566.1,67.6 566.4,67.5 566.8,67.3 567.2,67.2 567.5,67.0 567.9,66.8 568.2,66.7 568.6,66.5 569.0,66.3 569.3,66.1 569.7,66.0 570.0,65.8 570.4,65.6 570.8,65.4 571.1,65.3 571.5,65.1 571.8,65.0 572.2,64.8 572.5,64.7 572.9,64.6 573.3,64.5 573.6,64.4 574.0,64.3 574.4,64.2 574.7,64.1 575.1,64.0 575.4,63.9 575.8,63.9 576.1,63.8 576.5,63.7 576.9,63.6 577.2,63.5 577.6,63.4 578.0,63.3 578.3,63.2 578.7,63.1 579.0,63.0 579.4,62.9 579.8,62.7 579.4,64.9 579.0,67.1 578.7,69.1 578.3,71.0 578.0,72.9 577.6,74.7 577.2,76.5 576.9,78.1 576.5,79.8 576.1,81.3 575.8,82.8 575.4,84.2 575.1,85.6 574.7,86.9 574.4,88.2 574.0,89.4 573.6,90.6 573.3,91.7 572.9,92.8 572.5,93.9 572.2,94.9 571.8,95.9 571.5,96.8 571.1,97.7 570.8,98.6 570.4,99.4 570.0,100.2 569.7,101.0 569.3,101.7 569.0,102.4 568.6,103.1 568.2,103.8 567.9,104.4 567.5,105.0 567.1,105.6 566.8,106.2 566.4,106.8 566.1,107.3 565.7,107.8 565.4,108.3 565.0,108.8 564.6,109.2 564.3,109.7 563.9,110.1 563.5,110.5 563.2,110.9 562.8,111.3 562.5,111.7 562.1,112.0 561.8,112.4 561.4,112.7 561.0,113.0 560.7,113.3 560.3,113.6 560.0,113.9 559.6,114.2 559.2,114.5 558.9,114.7 558.5,115.0 558.1,115.2 557.8,115.5 557.4,115.7 557.1,115.9 556.7,116.1 556.4,116.3 556.0,116.5 555.6,116.7 555.3,116.9 554.9,117.1 554.5,117.3 554.2,117.4 553.8,117.6 553.5,117.8 553.1,117.9 552.8,118.1 552.4,118.2 552.0,118.4 551.7,118.5 551.3,118.6 551.0,118.8 550.6,118.9 550.2,119.0 549.9,119.1 549.5,119.3 549.1,119.4 548.8,119.5 548.4,119.6 548.1,119.7 547.7,119.8 547.4,119.9 547.0,120.0 546.6,120.1 546.3,120.2 545.9,120.3 545.5,120.4 545.2,120.4 544.8,120.5 544.5,120.6 544.1,120.7 543.8,120.8 543.4,120.8 543.0,120.9 542.7,121.0 542.3,121.1 542.0,121.1 541.6,121.2 541.2,121.3 540.9,121.3 540.5,121.4 540.1,121.5 539.8,121.5 539.4,121.6 539.1,121.7 538.7,121.7 538.4,121.8 538.0,121.8 537.6,121.9 537.3,121.9 536.9,122.0 536.5,122.1 536.2,122.1 535.8,122.2 535.5,122.2 535.1,122.3 534.8,122.3 534.4,122.4 534.0,122.4 533.7,122.5 533.3,122.5 533.0,122.6 532.6,122.6 532.2,122.7 531.9,122.7 531.5,122.7 531.1,122.8 530.8,122.8 530.4,122.9 530.1,122.9 529.7,123.0 529.4,123.0 529.0,123.1 528.6,123.1 528.3,123.1 527.9,123.2 527.5,123.2 527.2,123.3 526.8,123.3 526.5,123.3 526.1,123.4 525.8,123.4 525.4,123.5 525.0,123.5 524.7,123.5 524.3,123.6 524.0,123.6 523.6,123.7 523.2,123.7 522.9,123.7 522.5,123.8 522.1,123.8 521.8,123.8 521.4,123.9 521.1,123.9 520.7,123.9 520.4,124.0 520.0,124.0 519.6,124.0 519.3,124.0 518.9,124.1 518.5,124.1 518.2,124.1 517.8,124.1 517.5,124.2 517.1,124.2 516.8,124.2 516.4,124.2 516.0,124.3 515.7,124.3 515.3,124.3 515.0,124.3 514.6,124.4 514.2,124.4 513.9,124.4 513.5,124.4 513.1,124.4 512.8,124.5 512.4,124.5 512.1,124.5 511.7,124.5 511.4,124.5 511.0,124.6 510.6,124.6 510.3,124.6 509.9,124.6 509.6,124.6 509.2,124.7 508.8,124.7 508.5,124.7 508.1,124.7 507.8,124.7 507.4,124.7 507.0,124.8 506.7,124.8 506.3,124.8 505.9,124.8 505.6,124.8 505.2,124.8 504.9,124.9 504.5,124.9 504.1,124.9 503.8,124.9 503.4,124.9 503.1,124.9 502.7,124.9 502.4,125.0 502.0,125.0 501.6,125.0 501.3,125.0 500.9,125.0 500.6,125.1 500.2,125.1 499.8,125.1 499.5,125.1 499.1,125.1 498.8,125.1 498.4,125.2 498.0,125.2 497.7,125.2 497.3,125.2 496.9,125.2 496.6,125.3 496.2,125.3 495.9,125.3 495.5,125.3 495.1,125.3 494.8,125.4 494.4,125.4 494.1,125.4 493.7,125.4 493.4,125.4 493.0,125.5 492.6,125.5 492.3,125.5 491.9,125.5 491.6,125.6 491.2,125.6 490.8,125.6 490.5,125.6 490.1,125.7 489.8,125.7 489.4,125.7 489.0,125.8 488.7,125.8 488.3,125.8 487.9,125.8 487.6,125.9 487.2,125.9 486.9,125.9 486.5,126.0 486.1,126.0 485.8,126.0 485.4,126.0 485.1,126.1 484.7,126.1 484.4,126.1 484.0,126.2 483.6,126.2 483.3,126.2 482.9,126.2 482.6,126.3 482.2,126.3 481.8,126.3 481.5,126.4 481.1,126.4 480.8,126.4 480.4,126.5 480.0,126.5 479.7,126.5 479.3,126.6 478.9,126.6 478.6,126.6 478.2,126.7 477.9,126.7 477.5,126.7 477.1,126.7 476.8,126.8 476.4,126.8 476.1,126.8 475.7,126.9 475.4,126.9 475.0,126.9 474.6,127.0 474.3,127.0 473.9,127.0 473.6,127.1 473.2,127.1 472.8,127.1 472.5,127.2 472.1,127.2 471.8,127.2 471.4,127.3 471.0,127.3 470.7,127.3 470.3,127.4 469.9,127.4 469.6,127.4 469.2,127.5 468.9,127.5 468.5,127.5 468.1,127.6 467.8,127.6 467.4,127.6 467.1,127.7 466.7,127.7 466.4,127.7 466.0,127.8 465.6,127.8 465.3,127.8 464.9,127.9 464.6,127.9 464.2,127.9 463.8,128.0 463.5,128.0 463.1,128.0 462.8,128.1 462.4,128.1 462.0,128.1 461.7,128.2 461.3,128.2 460.9,128.3 460.6,128.3 460.2,128.4 459.9,128.4 459.5,128.5 459.1,128.5 458.8,128.6 458.4,128.6 458.1,128.7 457.7,128.7 457.4,128.8 457.0,128.8 456.6,128.9 456.3,129.0 455.9,129.0 455.6,129.1 455.2,129.2 454.8,129.3 454.5,129.4 454.1,129.5 453.8,129.6 453.4,129.7 453.0,129.8 452.7,129.9 452.3,130.0 451.9,130.1 451.6,130.3 451.2,130.4 450.9,130.5 450.5,130.7 450.1,130.9 449.8,131.0 449.4,131.2 449.1,131.4 448.7,131.6 448.4,131.8 448.0,132.0 447.6,132.3 447.3,132.5 446.9,132.7 446.6,133.0 446.2,133.3 445.8,133.6 445.5,133.9 445.1,134.2 444.8,134.5 444.4,134.8 444.0,135.2 443.7,135.5 443.3,135.9 442.9,136.3 442.6,136.7 442.2,137.1 441.9,137.5 441.5,137.9 441.1,138.4 440.8,138.8 440.4,139.3 440.1,139.8 439.7,140.3 439.4,140.8 439.0,141.3 438.6,141.8 438.3,142.3 437.9,142.9 437.6,143.4 437.2,144.0 436.8,144.6 436.5,145.1 436.1,145.7 435.8,146.3 435.4,146.9 435.0,147.5 434.7,148.1 434.3,148.7 433.9,149.3 433.6,149.9 433.2,150.6 432.9,151.2 432.5,151.8 432.1,152.4 431.8,153.0 431.4,153.7 431.1,154.3 430.7,154.9 430.3,155.5 430.0,156.2 429.6,156.8 429.3,157.4 428.9,158.0 428.6,158.6 428.2,159.2 427.8,159.8 427.5,160.3 427.1,160.9 426.8,161.5 426.4,162.0 426.0,162.5 425.7,163.1 425.3,163.6 424.9,164.1 424.6,164.5 424.2,165.0 423.9,165.4 423.5,165.9 423.1,166.3 422.8,166.6 422.4,167.0 422.1,167.3 421.7,167.6 421.4,167.9 421.0,168.1 420.6,168.3 420.3,168.5 419.9,168.6 419.6,168.7 419.2,168.8 418.8,168.8 418.5,168.8 418.1,168.7 417.8,168.7 417.4,168.5 417.0,168.4 416.7,168.2 416.3,167.9 415.9,167.7 415.6,167.4 415.2,167.0 414.9,166.7 414.5,166.3 414.1,166.0 413.8,165.6 413.4,165.2 413.1,164.8 412.7,164.4 412.3,164.0 412.0,163.6 411.6,163.2 411.3,162.8 410.9,162.5 410.6,162.1 410.2,161.8 409.8,161.4 409.5,161.1 409.1,160.8 408.8,160.5 408.4,160.2 408.0,159.9 407.7,159.7 407.3,159.4 406.9,159.1 406.6,158.9 406.2,158.7 405.9,158.4 405.5,158.2 405.1,158.0 404.8,157.8 404.4,157.6 404.1,157.5 403.7,157.3 403.4,157.1 403.0,156.9 402.6,156.8 402.3,156.6 401.9,156.5 401.6,156.4 401.2,156.3 400.8,156.1 400.5,156.0 400.1,155.9 399.8,155.8 399.4,155.7 399.0,155.6 398.7,155.5 398.3,155.5 397.9,155.4 397.6,155.3 397.2,155.3 396.9,155.2 396.5,155.2 396.1,155.1 395.8,155.1 395.4,155.0 395.1,155.0 394.7,155.0 394.4,155.0 394.0,154.9 393.6,154.9 393.3,154.9 392.9,154.9 392.6,154.9 392.2,154.9 391.8,154.9 391.5,154.9 391.1,154.9 390.8,154.9 390.4,154.9 390.0,154.9 389.7,154.9 389.3,154.9 388.9,154.9 388.6,155.0 388.2,155.0 387.9,155.0 387.5,155.0 387.1,155.0 386.8,155.1 386.4,155.1 386.1,155.1 385.7,155.1 385.3,155.2 385.0,155.2 384.6,155.2 384.3,155.2 383.9,155.3 383.6,155.3 383.2,155.3 382.8,155.3 382.5,155.4 382.1,155.4 381.8,155.4 381.4,155.4 381.0,155.5 380.7,155.5 380.3,155.5 379.9,155.6 379.6,155.6 379.2,155.6 378.9,155.6 378.5,155.7 378.1,155.7 377.8,155.7 377.4,155.8 377.1,155.8 376.7,155.8 376.3,155.9 376.0,155.9 375.6,155.9 375.3,156.0 374.9,156.0 374.5,156.0 374.2,156.1 373.8,156.1 373.5,156.2 373.1,156.2 372.8,156.2 372.4,156.3 372.0,156.3 371.7,156.4 371.3,156.4 370.9,156.4 370.6,156.5 370.2,156.5 369.9,156.6 369.5,156.6 369.2,156.7 368.8,156.7 368.4,156.7 368.1,156.8 367.7,156.8 367.4,156.9 367.0,156.9 366.6,157.0 366.3,157.0 365.9,157.1 365.6,157.1 365.2,157.2 364.8,157.2 364.5,157.3 364.1,157.3 363.8,157.4" fill="none" stroke="#808000" stroke-width="1.75" stroke-linejoin="round" stroke-linecap="round"/>
<polyline points="363.8,113.1 364.1,110.9 364.5,109.0 364.8,107.1 365.2,105.4 365.6,103.8 365.9,102.3 366.3,101.0 366.6,99.7 367.0,98.4 367.4,97.3 367.7,96.3 368.1,95.3 368.4,94.3 368.8,93.4 369.1,92.6 369.5,91.8 369.9,91.1 370.2,90.4 370.6,89.7 370.9,89.1 371.3,88.5 371.7,88.0 372.0,87.4 372.4,86.9 372.8,86.4 373.1,86.0 373.5,85.5 373.8,85.1 374.2,84.7 374.6,84.3 374.9,83.9 375.3,83.6 375.6,83.2 376.0,82.9 376.4,82.6 376.7,82.2 377.1,81.9 377.4,81.6 377.8,81.4 378.1,81.1 378.5,80.8 378.9,80.5 379.2,80.3 379.6,80.0 379.9,79.8 380.3,79.6 380.7,79.3 381.0,79.1 381.4,78.9 381.8,78.7 382.1,78.4 382.5,78.2 382.8,78.0 383.2,77.8 383.6,77.6 383.9,77.5 384.3,77.3 384.6,77.1 385.0,76.9 385.4,76.7 385.7,76.6 386.1,76.4 386.4,76.2 386.8,76.1 387.1,75.9 387.5,75.8 387.9,75.6 388.2,75.5 388.6,75.3 388.9,75.2 389.3,75.1 389.7,74.9 390.0,74.8 390.4,74.7 390.8,74.5 391.1,74.4 391.5,74.3 391.8,74.2 392.2,74.1 392.6,74.0 392.9,73.9 393.3,73.8 393.6,73.7 394.0,73.6 394.4,73.5 394.7,73.5 395.1,73.4 395.4,73.3 395.8,73.2 396.1,73.2 396.5,73.1 396.9,73.0 397.2,73.0 397.6,72.9 397.9,72.9 398.3,72.8 398.7,72.8 399.0,72.7 399.4,72.7 399.8,72.7 400.1,72.6 400.5,72.6 400.8,72.6 401.2,72.6 401.6,72.6 401.9,72.5 402.3,72.5 402.6,72.5 403.0,72.5 403.4,72.5 403.7,72.5 404.1,72.5 404.4,72.5 404.8,72.5 405.1,72.5 405.5,72.5 405.9,72.5 406.2,72.5 406.6,72.5 406.9,72.5 407.3,72.5 407.7,72.5 408.0,72.6 408.4,72.6 408.8,72.6 409.1,72.6 409.5,72.6 409.8,72.7 410.2,72.7 410.6,72.7 410.9,72.7 411.3,72.7 411.6,72.8 412.0,72.8 412.4,72.8 412.7,72.9 413.1,72.9 413.4,72.9 413.8,72.9 414.1,73.0 414.5,73.0 414.9,73.0 415.2,73.1 415.6,73.1 415.9,73.1 416.3,73.2 416.7,73.2 417.0,73.2 417.4,73.3 417.8,73.3 418.1,73.3 418.5,73.3 418.8,73.4 419.2,73.4 419.6,73.4 419.9,73.5 420.3,73.5 420.6,73.5 421.0,73.5 421.4,73.6 421.7,73.6 422.1,73.6 422.4,73.6 422.8,73.6 423.1,73.6 423.5,73.7 423.9,73.7 424.2,73.7 424.6,73.7 424.9,73.7 425.3,73.7 425.7,73.7 426.0,73.7 426.4,73.7 426.8,73.7 427.1,73.6 427.5,73.6 427.8,73.6 428.2,73.6 428.6,73.5 428.9,73.5 429.3,73.4 429.6,73.4 430.0,73.3 430.4,73.2 430.7,73.2 431.1,73.1 431.4,73.0 431.8,72.9 432.1,72.8 432.5,72.6 432.9,72.5 433.2,72.4 433.6,72.2 433.9,72.0 434.3,71.9 434.7,71.7 435.0,71.5 435.4,71.3 435.8,71.0 436.1,70.8 436.5,70.6 436.8,70.3 437.2,70.0 437.6,69.7 437.9,69.4 438.3,69.1 438.6,68.8 439.0,68.4 439.4,68.1 439.7,67.7 440.1,67.3 440.4,66.9 440.8,66.5 441.1,66.1 441.5,65.7 441.9,65.2 442.2,64.8 442.6,64.3 442.9,63.9 443.3,63.4 443.7,62.9 444.0,62.4 444.4,61.9 444.8,61.4 445.1,60.9 445.5,60.3 445.8,59.8 446.2,59.3 446.6,58.7 446.9,58.2 447.3,57.6 447.6,57.1 448.0,56.5 448.4,56.0 448.7,55.4 449.1,54.8 449.4,54.3 449.8,53.7 450.1,53.1 450.5,52.6 450.9,52.0 451.2,51.5 451.6,50.9 451.9,50.4 452.3,49.8 452.7,49.3 453.0,48.8 453.4,48.3 453.8,47.8 454.1,47.3 454.5,46.8 454.8,46.3 455.2,45.9 455.6,45.4 455.9,45.0 456.3,44.6 456.6,44.2 457.0,43.8 457.4,43.5 457.7,43.2 458.1,42.9 458.4,42.6 458.8,42.4 459.1,42.1 459.5,42.0 459.9,41.8 460.2,41.7 460.6,41.6 460.9,41.6 461.3,41.6 461.7,41.7 462.0,41.7 462.4,41.9 462.8,42.1 463.1,42.3 463.5,42.5 463.8,42.8 464.2,43.2 464.6,43.6 464.9,44.0 465.3,44.4 465.6,44.9 466.0,45.4 466.4,45.9 466.7,46.4 467.1,46.9 467.4,47.4 467.8,47.9 468.1,48.5 468.5,49.0 468.9,49.5 469.2,50.0 469.6,50.4 469.9,50.9 470.3,51.3 470.7,51.8 471.0,52.2 471.4,52.6 471.8,53.0 472.1,53.4 472.5,53.8 472.8,54.1 473.2,54.5 473.6,54.8 473.9,55.2 474.3,55.5 474.6,55.8 475.0,56.1 475.4,56.4 475.7,56.7 476.1,57.0 476.4,57.3 476.8,57.6 477.1,57.8 477.5,58.1 477.9,58.3 478.2,58.6 478.6,58.8 478.9,59.1 479.3,59.3 479.7,59.5 480.0,59.8 480.4,60.0 480.8,60.2 481.1,60.4 481.5,60.6 481.8,60.8 482.2,61.0 482.6,61.2 482.9,61.4 483.3,61.6 483.6,61.8 484.0,62.0 484.4,62.2 484.7,62.3 485.1,62.5 485.4,62.7 485.8,62.9 486.1,63.0 486.5,63.2 486.9,63.3 487.2,63.5 487.6,63.7 487.9,63.8 488.3,64.0 488.7,64.1 489.0,64.3 489.4,64.4 489.8,64.6 490.1,64.7 490.5,64.8 490.8,65.0 491.2,65.1 491.6,65.2 491.9,65.4 492.3,65.5 492.6,65.6 493.0,65.8 493.4,65.9 493.7,66.0 494.1,66.1 494.4,66.2 494.8,66.4 495.1,66.5 495.5,66.6 495.9,66.7 496.2,66.8 496.6,66.9 496.9,67.0 497.3,67.1 497.7,67.2 498.0,67.3 498.4,67.4 498.8,67.5 499.1,67.6 499.5,67.7 499.8,67.7 500.2,67.8 500.6,67.9 500.9,68.0 501.3,68.1 501.6,68.1 502.0,68.2 502.4,68.3 502.7,68.3 503.1,68.4 503.4,68.5 503.8,68.5 504.1,68.6 504.5,68.6 504.9,68.7 505.2,68.7 505.6,68.8 506.0,68.8 506.3,68.9 506.7,68.9 507.0,68.9 507.4,69.0 507.8,69.0 508.1,69.0 508.5,69.1 508.8,69.1 509.2,69.1 509.6,69.2 509.9,69.2 510.3,69.2 510.6,69.2 511.0,69.3 511.4,69.3 511.7,69.3 512.1,69.3 512.4,69.3 512.8,69.4 513.1,69.4 513.5,69.4 513.9,69.4 514.2,69.4 514.6,69.4 515.0,69.4 515.3,69.4 515.7,69.5 516.0,69.5 516.4,69.5 516.8,69.5 517.1,69.5 517.5,69.5 517.8,69.5 518.2,69.5 518.5,69.5 518.9,69.5 519.3,69.5 519.6,69.6 520.0,69.6 520.4,69.6 520.7,69.6 521.1,69.6 521.4,69.6 521.8,69.6 522.1,69.6 522.5,69.6 522.9,69.6 523.2,69.6 523.6,69.7 524.0,69.7 524.3,69.7 524.7,69.7 525.0,69.7 525.4,69.7 525.8,69.7 526.1,69.8 526.5,69.8 526.8,69.8 527.2,69.8 527.5,69.8 527.9,69.8 528.3,69.8 528.6,69.8 529.0,69.8 529.4,69.8 529.7,69.8 530.1,69.8 530.4,69.8 530.8,69.8 531.1,69.8 531.5,69.8 531.9,69.8 532.2,69.8 532.6,69.8 533.0,69.8 533.3,69.8 533.7,69.8 534.0,69.8 534.4,69.8 534.8,69.8 535.1,69.8 535.5,69.8 535.8,69.8 536.2,69.8 536.5,69.7 536.9,69.7 537.3,69.7 537.6,69.7 538.0,69.7 538.4,69.7 538.7,69.6 539.1,69.6 539.4,69.6 539.8,69.6 540.1,69.6 540.5,69.5 540.9,69.5 541.2,69.5 541.6,69.4 542.0,69.4 542.3,69.4 542.7,69.4 543.0,69.3 543.4,69.3 543.8,69.2 544.1,69.2 544.5,69.2 544.8,69.1 545.2,69.1 545.5,69.0 545.9,69.0 546.3,69.0 546.6,68.9 547.0,68.9 547.4,68.8 547.7,68.8 548.1,68.7 548.4,68.7 548.8,68.6 549.1,68.5 549.5,68.5 549.9,68.4 550.2,68.4 550.6,68.3 551.0,68.2 551.3,68.2 551.7,68.1 552.0,68.0 552.4,68.0 552.8,67.9 553.1,67.8 553.5,67.8 553.8,67.7 554.2,67.6 554.5,67.5 554.9,67.4 555.3,67.3 555.6,67.3 556.0,67.2 556.4,67.1 556.7,67.0 557.1,66.9 557.4,66.8 557.8,66.7 558.2,66.6 558.5,66.5 558.9,66.4 559.2,66.3 559.6,66.2 560.0,66.1 560.3,66.0 560.7,65.9 561.0,65.7 561.4,65.6 561.8,65.5 562.1,65.4 562.5,65.3 562.8,65.1 563.2,65.0 563.5,64.9 563.9,64.7 564.3,64.6 564.6,64.5 565.0,64.3 565.4,64.2 565.7,64.0 566.1,63.9 566.4,63.7 566.8,63.6 567.2,63.4 567.5,63.2 567.9,63.1 568.2,62.9 568.6,62.8 569.0,62.6 569.3,62.4 569.7,62.2 570.0,62.0 570.4,61.9 570.8,61.7 571.1,61.5 571.5,61.4 571.8,61.2 572.2,61.1 572.5,60.9 572.9,60.8 573.3,60.7 573.6,60.6 574.0,60.5 574.4,60.4 574.7,60.3 575.1,60.2 575.4,60.1 575.8,60.0 576.1,59.9 576.5,59.8 576.9,59.7 577.2,59.6 577.6,59.5 578.0,59.4 578.3,59.2 578.7,59.1 579.0,59.0 579.4,58.8 579.8,58.7 579.4,61.0 579.0,63.3 578.7,65.5 578.3,67.6 578.0,69.6 577.6,71.5 577.2,73.4 576.9,75.2 576.5,76.9 576.1,78.5 575.8,80.1 575.4,81.7 575.1,83.1 574.7,84.6 574.4,85.9 574.0,87.3 573.6,88.5 573.3,89.8 572.9,90.9 572.5,92.1 572.2,93.2 571.8,94.2 571.5,95.2 571.1,96.2 570.8,97.1 570.4,98.0 570.0,98.9 569.7,99.7 569.3,100.6 569.0,101.3 568.6,102.1 568.2,102.8 567.9,103.5 567.5,104.2 567.1,104.8 566.8,105.5 566.4,106.1 566.1,106.7 565.7,107.2 565.4,107.8 565.0,108.3 564.6,108.8 564.3,109.3 563.9,109.7 563.5,110.2 563.2,110.6 562.8,111.1 562.5,111.5 562.1,111.9 561.8,112.3 561.4,112.6 561.0,113.0 560.7,113.3 560.3,113.7 560.0,114.0 559.6,114.3 559.2,114.6 558.9,114.9 558.5,115.2 558.1,115.4 557.8,115.7 557.4,116.0 557.1,116.2 556.7,116.5 556.4,116.7 556.0,116.9 555.6,117.1 555.3,117.4 554.9,117.6 554.5,117.8 554.2,118.0 553.8,118.2 553.5,118.3 553.1,118.5 552.8,118.7 552.4,118.9 552.0,119.0 551.7,119.2 551.3,119.3 551.0,119.5 550.6,119.6 550.2,119.8 549.9,119.9 549.5,120.1 549.1,120.2 548.8,120.3 548.4,120.5 548.1,120.6 547.7,120.7 547.4,120.8 547.0,120.9 546.6,121.1 546.3,121.2 545.9,121.3 545.5,121.4 545.2,121.5 544.8,121.6 544.5,121.7 544.1,121.8 543.8,121.9 543.4,122.0 543.0,122.1 542.7,122.2 542.3,122.2 542.0,122.3 541.6,122.4 541.2,122.5 540.9,122.6 540.5,122.7 540.1,122.8 539.8,122.8 539.4,122.9 539.1,123.0 538.7,123.1 538.4,123.1 538.0,123.2 537.6,123.3 537.3,123.4 536.9,123.4 536.5,123.5 536.2,123.6 535.8,123.6 535.5,123.7 535.1,123.8 534.8,123.8 534.4,123.9 534.0,124.0 533.7,124.0 533.3,124.1 533.0,124.2 532.6,124.2 532.2,124.3 531.9,124.4 531.5,124.4 531.1,124.5 530.8,124.5 530.4,124.6 530.1,124.7 529.7,124.7 529.4,124.8 529.0,124.8 528.6,124.9 528.3,124.9 527.9,125.0 527.5,125.1 527.2,125.1 526.8,125.2 526.5,125.2 526.1,125.3 525.8,125.3 525.4,125.4 525.0,125.4 524.7,125.5 524.3,125.5 524.0,125.6 523.6,125.6 523.2,125.7 522.9,125.7 522.5,125.8 522.1,125.8 521.8,125.9 521.4,125.9 521.1,126.0 520.7,126.0 520.4,126.0 520.0,126.1 519.6,126.1 519.3,126.2 518.9,126.2 518.5,126.2 518.2,126.3 517.8,126.3 517.5,126.3 517.1,126.4 516.8,126.4 516.4,126.4 516.0,126.5 515.7,126.5 515.3,126.5 515.0,126.6 514.6,126.6 514.2,126.6 513.9,126.6 513.5,126.7 513.1,126.7 512.8,126.7 512.4,126.7 512.1,126.8 511.7,126.8 511.4,126.8 511.0,126.8 510.6,126.9 510.3,126.9 509.9,126.9 509.6,126.9 509.2,126.9 508.8,127.0 508.5,127.0 508.1,127.0 507.8,127.0 507.4,127.0 507.0,127.1 506.7,127.1 506.3,127.1 505.9,127.1 505.6,127.1 505.2,127.2 504.9,127.2 504.5,127.2 504.1,127.2 503.8,127.2 503.4,127.2 503.1,127.3 502.7,127.3 502.4,127.3 502.0,127.3 501.6,127.3 501.3,127.3 500.9,127.4 500.6,127.4 500.2,127.4 499.8,127.4 499.5,127.4 499.1,127.5 498.8,127.5 498.4,127.5 498.0,127.5 497.7,127.5 497.3,127.5 496.9,127.6 496.6,127.6 496.2,127.6 495.9,127.6 495.5,127.6 495.1,127.7 494.8,127.7 494.4,127.7 494.1,127.7 493.7,127.7 493.4,127.8 493.0,127.8 492.6,127.8 492.3,127.8 491.9,127.9 491.6,127.9 491.2,127.9 490.8,127.9 490.5,128.0 490.1,128.0 489.8,128.0 489.4,128.0 489.0,128.1 488.7,128.1 488.3,128.1 487.9,128.1 487.6,128.2 487.2,128.2 486.9,128.2 486.5,128.2 486.1,128.3 485.8,128.3 485.4,128.3 485.1,128.3 484.7,128.4 484.4,128.4 484.0,128.4 483.6,128.4 483.3,128.5 482.9,128.5 482.6,128.5 482.2,128.5 481.8,128.5 481.5,128.6 481.1,128.6 480.8,128.6 480.4,128.6 480.0,128.7 479.7,128.7 479.3,128.7 478.9,128.8 478.6,128.8 478.2,128.8 477.9,128.8 477.5,128.9 477.1,128.9 476.8,128.9 476.4,129.0 476.1,129.0 475.7,129.0 475.4,129.1 475.0,129.1 474.6,129.1 474.3,129.2 473.9,129.2 473.6,129.2 473.2,129.3 472.8,129.3 472.5,129.3 472.1,129.4 471.8,129.4 471.4,129.5 471.0,129.5 470.7,129.6 470.3,129.6 469.9,129.6 469.6,129.7 469.2,129.7 468.9,129.8 468.5,129.8 468.1,129.9 467.8,129.9 467.4,129.9 467.1,130.0 466.7,130.0 466.4,130.1 466.0,130.1 465.6,130.2 465.3,130.2 464.9,130.3 464.6,130.3 464.2,130.4 463.8,130.4 463.5,130.5 463.1,130.5 462.8,130.6 462.4,130.6 462.0,130.7 461.7,130.7 461.3,130.8 460.9,130.8 460.6,130.9 460.2,130.9 459.9,131.0 459.5,131.1 459.1,131.1 458.8,131.2 458.4,131.2 458.1,131.3 457.7,131.4 457.4,131.4 457.0,131.5 456.6,131.6 456.3,131.7 455.9,131.7 455.6,131.8 455.2,131.9 454.8,132.0 454.5,132.1 454.1,132.2 453.8,132.3 453.4,132.4 453.0,132.5 452.7,132.6 452.3,132.7 451.9,132.8 451.6,132.9 451.2,133.1 450.9,133.2 450.5,133.4 450.1,133.5 449.8,133.7 449.4,133.9 449.1,134.1 448.7,134.2 448.4,134.4 448.0,134.7 447.6,134.9 447.3,135.1 446.9,135.3 446.6,135.6 446.2,135.9 445.8,136.1 445.5,136.4 445.1,136.7 444.8,137.0 444.4,137.3 444.0,137.7 443.7,138.0 443.3,138.4 442.9,138.7 442.6,139.1 442.2,139.5 441.9,139.9 441.5,140.3 441.1,140.8 440.8,141.2 440.4,141.7 440.1,142.1 439.7,142.6 439.4,143.1 439.0,143.6 438.6,144.1 438.3,144.6 437.9,145.1 437.6,145.7 437.2,146.2 436.8,146.8 436.5,147.4 436.1,147.9 435.8,148.5 435.4,149.1 435.0,149.7 434.7,150.3 434.3,150.9 433.9,151.5 433.6,152.2 433.2,152.8 432.9,153.4 432.5,154.0 432.1,154.7 431.8,155.3 431.4,156.0 431.1,156.6 430.7,157.2 430.3,157.9 430.0,158.5 429.6,159.1 429.3,159.8 428.9,160.4 428.6,161.0 428.2,161.7 427.8,162.3 427.5,162.9 427.1,163.5 426.8,164.1 426.4,164.7 426.0,165.3 425.7,165.9 425.3,166.4 424.9,167.0 424.6,167.5 424.2,168.1 423.9,168.6 423.5,169.1 423.1,169.6 422.8,170.0 422.4,170.5 422.1,170.9 421.7,171.3 421.4,171.7 421.0,172.0 420.6,172.3 420.3,172.6 419.9,172.9 419.6,173.1 419.2,173.3 418.8,173.5 418.5,173.6 418.1,173.7 417.8,173.8 417.4,173.8 417.0,173.8 416.7,173.7 416.3,173.6 415.9,173.5 415.6,173.3 415.2,173.1 414.9,172.8 414.5,172.6 414.1,172.2 413.8,171.9 413.4,171.5 413.1,171.1 412.7,170.7 412.3,170.3 412.0,169.9 411.6,169.5 411.3,169.1 410.9,168.6 410.6,168.2 410.2,167.8 409.8,167.4 409.5,167.0 409.1,166.7 408.8,166.3 408.4,165.9 408.0,165.6 407.7,165.3 407.3,164.9 406.9,164.6 406.6,164.3 406.2,164.0 405.9,163.8 405.5,163.5 405.1,163.3 404.8,163.0 404.4,162.8 404.1,162.6 403.7,162.3 403.4,162.1 403.0,161.9 402.6,161.8 402.3,161.6 401.9,161.4 401.6,161.2 401.2,161.1 400.8,161.0 400.5,160.8 400.1,160.7 399.8,160.6 399.4,160.5 399.0,160.4 398.7,160.3 398.3,160.2 397.9,160.1 397.6,160.0 397.2,159.9 396.9,159.9 396.5,159.8 396.1,159.8 395.8,159.7 395.4,159.7 395.1,159.6 394.7,159.6 394.4,159.6 394.0,159.5 393.6,159.5 393.3,159.5 392.9,159.5 392.6,159.5 392.2,159.5 391.8,159.5 391.5,159.5 391.1,159.5 390.8,159.5 390.4,159.5 390.0,159.5 389.7,159.5 389.3,159.5 388.9,159.5 388.6,159.5 388.2,159.6 387.9,159.6 387.5,159.6 387.1,159.6 386.8,159.7 386.4,159.7 386.1,159.7 385.7,159.7 385.3,159.8 385.0,159.8 384.6,159.8 384.3,159.9 383.9,159.9 383.6,159.9 383.2,159.9 382.8,160.0 382.5,160.0 382.1,160.0 381.8,160.1 381.4,160.1 381.0,160.1 380.7,160.1 380.3,160.2 379.9,160.2 379.6,160.2 379.2,160.3 378.9,160.3 378.5,160.3 378.1,160.4 377.8,160.4 377.4,160.4 377.1,160.5 376.7,160.5 376.3,160.6 376.0,160.6 375.6,160.6 375.3,160.7 374.9,160.7 374.5,160.8 374.2,160.8 373.8,160.8 373.5,160.9 373.1,160.9 372.8,161.0 372.4,161.0 372.0,161.1 371.7,161.1 371.3,161.2 370.9,161.2 370.6,161.3 370.2,161.3 369.9,161.4 369.5,161.4 369.2,161.4 368.8,161.5 368.4,161.5 368.1,161.6 367.7,161.7 367.4,161.7 367.0,161.8 366.6,161.8 366.3,161.9 365.9,161.9 365.6,162.0 365.2,162.0 364.8,162.1 364.5,162.1 364.1,162.2 363.8,162.2" fill="none" stroke="#000080" stroke-width="1.75" stroke-linejoin="round" stroke-linecap="round"/>
<polyline points="363.8,113.1 364.1,111.0 364.5,109.0 364.8,107.2 365.2,105.5 365.6,103.9 365.9,102.3 366.3,100.9 366.6,99.5 367.0,98.2 367.4,97.0 367.7,95.9 368.1,94.8 368.4,93.8 368.8,92.8 369.1,91.9 369.5,91.0 369.9,90.2 370.2,89.4 370.6,88.6 370.9,87.9 371.3,87.2 371.7,86.6 372.0,85.9 372.4,85.3 372.8,84.8 373.1,84.2 373.5,83.7 373.8,83.2 374.2,82.7 374.6,82.2 374.9,81.8 375.3,81.3 375.6,80.9 376.0,80.5 376.4,80.1 376.7,79.8 377.1,79.4 377.4,79.0 377.8,78.7 378.1,78.4 378.5,78.1 378.9,77.7 379.2,77.4 379.6,77.2 379.9,76.9 380.3,76.6 380.7,76.3 381.0,76.1 381.4,75.8 381.8,75.6 382.1,75.3 382.5,75.1 382.8,74.9 383.2,74.6 383.6,74.4 383.9,74.2 384.3,74.0 384.6,73.8 385.0,73.6 385.4,73.4 385.7,73.2 386.1,73.1 386.4,72.9 386.8,72.7 387.1,72.5 387.5,72.4 387.9,72.2 388.2,72.1 388.6,71.9 388.9,71.8 389.3,71.6 389.7,71.5 390.0,71.4 390.4,71.2 390.8,71.1 391.1,71.0 391.5,70.9 391.8,70.8 392.2,70.6 392.6,70.5 392.9,70.4 393.3,70.3 393.6,70.2 394.0,70.2 394.4,70.1 394.7,70.0 395.1,69.9 395.4,69.8 395.8,69.8 396.1,69.7 396.5,69.6 396.9,69.6 397.2,69.5 397.6,69.5 397.9,69.4 398.3,69.4 398.7,69.3 399.0,69.3 399.4,69.2 399.8,69.2 400.1,69.2 400.5,69.1 400.8,69.1 401.2,69.1 401.6,69.1 401.9,69.1 402.3,69.0 402.6,69.0 403.0,69.0 403.4,69.0 403.7,69.0 404.1,69.0 404.4,69.0 404.8,69.0 405.1,69.0 405.5,69.0 405.9,69.0 406.2,69.0 406.6,69.1 406.9,69.1 407.3,69.1 407.7,69.1 408.0,69.1 408.4,69.1 408.8,69.2 409.1,69.2 409.5,69.2 409.8,69.2 410.2,69.3 410.6,69.3 410.9,69.3 411.3,69.4 411.6,69.4 412.0,69.4 412.4,69.5 412.7,69.5 413.1,69.5 413.4,69.6 413.8,69.6 414.1,69.6 414.5,69.7 414.9,69.7 415.2,69.7 415.6,69.8 415.9,69.8 416.3,69.9 416.7,69.9 417.0,69.9 417.4,70.0 417.8,70.0 418.1,70.0 418.5,70.1 418.8,70.1 419.2,70.1 419.6,70.2 419.9,70.2 420.3,70.2 420.6,70.3 421.0,70.3 421.4,70.3 421.7,70.4 422.1,70.4 422.4,70.4 422.8,70.4 423.1,70.4 423.5,70.5 423.9,70.5 424.2,70.5 424.6,70.5 424.9,70.5 425.3,70.5 425.7,70.5 426.0,70.5 426.4,70.5 426.8,70.5 427.1,70.5 427.5,70.5 427.8,70.5 428.2,70.4 428.6,70.4 428.9,70.4 429.3,70.3 429.6,70.3 430.0,70.2 430.4,70.2 430.7,70.1 431.1,70.0 431.4,69.9 431.8,69.9 432.1,69.8 432.5,69.6 432.9,69.5 433.2,69.4 433.6,69.3 433.9,69.1 434.3,68.9 434.7,68.8 435.0,68.6 435.4,68.4 435.8,68.2 436.1,67.9 436.5,67.7 436.8,67.5 437.2,67.2 437.6,66.9 437.9,66.6 438.3,66.3 438.6,66.0 439.0,65.7 439.4,65.3 439.7,65.0 440.1,64.6 440.4,64.2 440.8,63.8 441.1,63.4 441.5,63.0 441.9,62.6 442.2,62.1 442.6,61.7 442.9,61.2 443.3,60.7 443.7,60.3 444.0,59.8 444.4,59.3 444.8,58.7 445.1,58.2 445.5,57.7 445.8,57.1 446.2,56.6 446.6,56.1 446.9,55.5 447.3,54.9 447.6,54.4 448.0,53.8 448.4,53.2 448.7,52.6 449.1,52.1 449.4,51.5 449.8,50.9 450.1,50.3 450.5,49.7 450.9,49.1 451.2,48.5 451.6,48.0 451.9,47.4 452.3,46.8 452.7,46.2 453.0,45.7 453.4,45.1 453.8,44.6 454.1,44.0 454.5,43.5 454.8,42.9 455.2,42.4 455.6,41.9 455.9,41.4 456.3,40.9 456.6,40.5 457.0,40.0 457.4,39.6 457.7,39.2 458.1,38.8 458.4,38.4 458.8,38.0 459.1,37.7 459.5,37.4 459.9,37.1 460.2,36.9 460.6,36.7 460.9,36.5 461.3,36.4 461.7,36.3 462.0,36.2 462.4,36.2 462.8,36.2 463.1,36.3 463.5,36.4 463.8,36.5 464.2,36.7 464.6,37.0 464.9,37.3 465.3,37.6 465.6,38.0 466.0,38.4 466.4,38.9 466.7,39.3 467.1,39.8 467.4,40.4 467.8,40.9 468.1,41.4 468.5,42.0 468.9,42.5 469.2,43.1 469.6,43.6 469.9,44.1 470.3,44.6 470.7,45.2 471.0,45.7 471.4,46.1 471.8,46.6 472.1,47.1 472.5,47.5 472.8,47.9 473.2,48.3 473.6,48.7 473.9,49.1 474.3,49.5 474.6,49.9 475.0,50.2 475.4,50.6 475.7,50.9 476.1,51.3 476.4,51.6 476.8,51.9 477.1,52.2 477.5,52.5 477.9,52.8 478.2,53.1 478.6,53.4 478.9,53.6 479.3,53.9 479.7,54.2 480.0,54.4 480.4,54.7 480.8,54.9 481.1,55.2 481.5,55.4 481.8,55.6 482.2,55.9 482.6,56.1 482.9,56.3 483.3,56.5 483.6,56.8 484.0,57.0 484.4,57.2 484.7,57.4 485.1,57.6 485.4,57.8 485.8,58.0 486.1,58.2 486.5,58.3 486.9,58.5 487.2,58.7 487.6,58.9 487.9,59.1 488.3,59.2 488.7,59.4 489.0,59.6 489.4,59.7 489.8,59.9 490.1,60.1 490.5,60.2 490.8,60.4 491.2,60.5 491.6,60.7 491.9,60.8 492.3,61.0 492.6,61.1 493.0,61.3 493.4,61.4 493.7,61.5 494.1,61.7 494.4,61.8 494.8,61.9 495.1,62.1 495.5,62.2 495.9,62.3 496.2,62.4 496.6,62.5 496.9,62.7 497.3,62.8 497.7,62.9 498.0,63.0 498.4,63.1 498.8,63.2 499.1,63.3 499.5,63.4 499.8,63.5 500.2,63.6 500.6,63.7 500.9,63.8 501.3,63.8 501.6,63.9 502.0,64.0 502.4,64.1 502.7,64.2 503.1,64.2 503.4,64.3 503.8,64.4 504.1,64.4 504.5,64.5 504.9,64.6 505.2,64.6 505.6,64.7 506.0,64.7 506.3,64.8 506.7,64.8 507.0,64.9 507.4,64.9 507.8,65.0 508.1,65.0 508.5,65.0 508.8,65.1 509.2,65.1 509.6,65.1 509.9,65.2 510.3,65.2 510.6,65.2 511.0,65.3 511.4,65.3 511.7,65.3 512.1,65.4 512.4,65.4 512.8,65.4 513.1,65.4 513.5,65.4 513.9,65.5 514.2,65.5 514.6,65.5 515.0,65.5 515.3,65.5 515.7,65.6 516.0,65.6 516.4,65.6 516.8,65.6 517.1,65.6 517.5,65.6 517.8,65.7 518.2,65.7 518.5,65.7 518.9,65.7 519.3,65.7 519.6,65.7 520.0,65.8 520.4,65.8 520.7,65.8 521.1,65.8 521.4,65.8 521.8,65.8 522.1,65.8 522.5,65.9 522.9,65.9 523.2,65.9 523.6,65.9 524.0,65.9 524.3,65.9 524.7,66.0 525.0,66.0 525.4,66.0 525.8,66.0 526.1,66.0 526.5,66.1 526.8,66.1 527.2,66.1 527.5,66.1 527.9,66.1 528.3,66.1 528.6,66.1 529.0,66.1 529.4,66.2 529.7,66.2 530.1,66.2 530.4,66.2 530.8,66.2 531.1,66.2 531.5,66.2 531.9,66.2 532.2,66.2 532.6,66.2 533.0,66.2 533.3,66.2 533.7,66.2 534.0,66.2 534.4,66.2 534.8,66.2 535.1,66.2 535.5,66.2 535.8,66.2 536.2,66.2 536.5,66.2 536.9,66.1 537.3,66.1 537.6,66.1 538.0,66.1 538.4,66.1 538.7,66.1 539.1,66.1 539.4,66.0 539.8,66.0 540.1,66.0 540.5,66.0 540.9,66.0 541.2,65.9 541.6,65.9 542.0,65.9 542.3,65.9 542.7,65.8 543.0,65.8 543.4,65.8 543.8,65.7 544.1,65.7 544.5,65.7 544.8,65.6 545.2,65.6 545.5,65.5 545.9,65.5 546.3,65.5 546.6,65.4 547.0,65.4 547.4,65.3 547.7,65.3 548.1,65.2 548.4,65.2 548.8,65.1 549.1,65.1 549.5,65.0 549.9,65.0 550.2,64.9 550.6,64.8 551.0,64.8 551.3,64.7 551.7,64.7 552.0,64.6 552.4,64.5 552.8,64.5 553.1,64.4 553.5,64.3 553.8,64.2 554.2,64.2 554.5,64.1 554.9,64.0 555.3,63.9 555.6,63.8 556.0,63.8 556.4,63.7 556.7,63.6 557.1,63.5 557.4,63.4 557.8,63.3 558.2,63.2 558.5,63.1 558.9,63.0 559.2,62.9 559.6,62.8 560.0,62.7 560.3,62.6 560.7,62.5 561.0,62.4 561.4,62.2 561.8,62.1 562.1,62.0 562.5,61.9 562.8,61.7 563.2,61.6 563.5,61.5 563.9,61.4 564.3,61.2 564.6,61.1 565.0,60.9 565.4,60.8 565.7,60.7 566.1,60.5 566.4,60.4 566.8,60.2 567.2,60.1 567.5,59.9 567.9,59.7 568.2,59.6 568.6,59.4 569.0,59.2 569.3,59.1 569.7,58.9 570.0,58.7 570.4,58.5 570.8,58.3 571.1,58.2 571.5,58.0 571.8,57.9 572.2,57.7 572.5,57.6 572.9,57.4 573.3,57.3 573.6,57.2 574.0,57.1 574.4,57.0 574.7,56.8 575.1,56.7 575.4,56.6 575.8,56.5 576.1,56.4 576.5,56.3 576.9,56.2 577.2,56.0 577.6,55.9 578.0,55.8 578.3,55.6 578.7,55.5 579.0,55.4 579.4,55.2 579.8,55.0 579.4,57.5 579.0,59.9 578.7,62.2 578.3,64.4 578.0,66.6 577.6,68.6 577.2,70.6 576.9,72.5 576.5,74.4 576.1,76.1 575.8,77.8 575.4,79.5 575.1,81.1 574.7,82.6 574.4,84.0 574.0,85.5 573.6,86.8 573.3,88.1 572.9,89.4 572.5,90.6 572.2,91.8 571.8,92.9 571.5,94.0 571.1,95.0 570.8,96.0 570.4,97.0 570.0,98.0 569.7,98.9 569.3,99.7 569.0,100.6 568.6,101.4 568.2,102.2 567.9,102.9 567.5,103.6 567.1,104.4 566.8,105.0 566.4,105.7 566.1,106.3 565.7,106.9 565.4,107.5 565.0,108.1 564.6,108.6 564.3,109.2 563.9,109.7 563.5,110.2 563.2,110.6 562.8,111.1 562.5,111.6 562.1,112.0 561.8,112.4 561.4,112.8 561.0,113.2 560.7,113.6 560.3,113.9 560.0,114.3 559.6,114.6 559.2,115.0 558.9,115.3 558.5,115.6 558.1,115.9 557.8,116.2 557.4,116.5 557.1,116.8 556.7,117.0 556.4,117.3 556.0,117.5 555.6,117.8 555.3,118.0 554.9,118.3 554.5,118.5 554.2,118.7 553.8,118.9 553.5,119.1 553.1,119.3 552.8,119.5 552.4,119.7 552.0,119.9 551.7,120.1 551.3,120.2 551.0,120.4 550.6,120.6 550.2,120.7 549.9,120.9 549.5,121.1 549.1,121.2 548.8,121.4 548.4,121.5 548.1,121.6 547.7,121.8 547.4,121.9 547.0,122.0 546.6,122.2 546.3,122.3 545.9,122.4 545.5,122.6 545.2,122.7 544.8,122.8 544.5,122.9 544.1,123.0 543.8,123.1 543.4,123.2 543.0,123.3 542.7,123.5 542.3,123.6 542.0,123.7 541.6,123.8 541.2,123.9 540.9,124.0 540.5,124.1 540.1,124.1 539.8,124.2 539.4,124.3 539.1,124.4 538.7,124.5 538.4,124.6 538.0,124.7 537.6,124.8 537.3,124.9 536.9,124.9 536.5,125.0 536.2,125.1 535.8,125.2 535.5,125.3 535.1,125.4 534.8,125.4 534.4,125.5 534.0,125.6 533.7,125.7 533.3,125.7 533.0,125.8 532.6,125.9 532.2,126.0 531.9,126.0 531.5,126.1 531.1,126.2 530.8,126.3 530.4,126.3 530.1,126.4 529.7,126.5 529.4,126.5 529.0,126.6 528.6,126.7 528.3,126.8 527.9,126.8 527.5,126.9 527.2,127.0 526.8,127.0 526.5,127.1 526.1,127.2 525.8,127.2 525.4,127.3 525.0,127.4 524.7,127.4 524.3,127.5 524.0,127.6 523.6,127.6 523.2,127.7 522.9,127.7 522.5,127.8 522.1,127.8 521.8,127.9 521.4,128.0 521.1,128.0 520.7,128.1 520.4,128.1 520.0,128.1 519.6,128.2 519.3,128.2 518.9,128.3 518.5,128.3 518.2,128.4 517.8,128.4 517.5,128.4 517.1,128.5 516.8,128.5 516.4,128.6 516.0,128.6 515.7,128.6 515.3,128.7 515.0,128.7 514.6,128.7 514.2,128.7 513.9,128.8 513.5,128.8 513.1,128.8 512.8,128.9 512.4,128.9 512.1,128.9 511.7,128.9 511.4,129.0 511.0,129.0 510.6,129.0 510.3,129.0 509.9,129.1 509.6,129.1 509.2,129.1 508.8,129.1 508.5,129.1 508.1,129.2 507.8,129.2 507.4,129.2 507.0,129.2 506.7,129.2 506.3,129.3 505.9,129.3 505.6,129.3 505.2,129.3 504.9,129.3 504.5,129.3 504.1,129.4 503.8,129.4 503.4,129.4 503.1,129.4 502.7,129.4 502.4,129.4 502.0,129.5 501.6,129.5 501.3,129.5 500.9,129.5 500.6,129.5 500.2,129.5 499.8,129.6 499.5,129.6 499.1,129.6 498.8,129.6 498.4,129.6 498.0,129.7 497.7,129.7 497.3,129.7 496.9,129.7 496.6,129.7 496.2,129.8 495.9,129.8 495.5,129.8 495.1,129.8 494.8,129.8 494.4,129.9 494.1,129.9 493.7,129.9 493.4,129.9 493.0,130.0 492.6,130.0 492.3,130.0 491.9,130.0 491.6,130.1 491.2,130.1 490.8,130.1 490.5,130.1 490.1,130.2 489.8,130.2 489.4,130.2 489.0,130.3 488.7,130.3 488.3,130.3 487.9,130.4 487.6,130.4 487.2,130.4 486.9,130.4 486.5,130.5 486.1,130.5 485.8,130.5 485.4,130.6 485.1,130.6 484.7,130.6 484.4,130.7 484.0,130.7 483.6,130.7 483.3,130.8 482.9,130.8 482.6,130.8 482.2,130.8 481.8,130.9 481.5,130.9 481.1,130.9 480.8,131.0 480.4,131.0 480.0,131.0 479.7,131.1 479.3,131.1 478.9,131.1 478.6,131.2 478.2,131.2 477.9,131.2 477.5,131.3 477.1,131.3 476.8,131.3 476.4,131.4 476.1,131.4 475.7,131.5 475.4,131.5 475.0,131.5 474.6,131.6 474.3,131.6 473.9,131.6 473.6,131.7 473.2,131.7 472.8,131.8 472.5,131.8 472.1,131.8 471.8,131.9 471.4,131.9 471.0,132.0 470.7,132.0 470.3,132.0 469.9,132.1 469.6,132.1 469.2,132.2 468.9,132.2 468.5,132.2 468.1,132.3 467.8,132.3 467.4,132.4 467.1,132.4 466.7,132.4 466.4,132.5 466.0,132.5 465.6,132.6 465.3,132.6 464.9,132.6 464.6,132.7 464.2,132.7 463.8,132.8 463.5,132.8 463.1,132.9 462.8,132.9 462.4,133.0 462.0,133.0 461.7,133.1 461.3,133.1 460.9,133.2 460.6,133.2 460.2,133.3 459.9,133.3 459.5,133.4 459.1,133.4 458.8,133.5 458.4,133.6 458.1,133.6 457.7,133.7 457.4,133.8 457.0,133.8 456.6,133.9 456.3,134.0 455.9,134.0 455.6,134.1 455.2,134.2 454.8,134.3 454.5,134.4 454.1,134.5 453.8,134.6 453.4,134.7 453.0,134.8 452.7,134.9 452.3,135.0 451.9,135.1 451.6,135.3 451.2,135.4 450.9,135.5 450.5,135.7 450.1,135.8 449.8,136.0 449.4,136.2 449.1,136.4 448.7,136.5 448.4,136.7 448.0,136.9 447.6,137.2 447.3,137.4 446.9,137.6 446.6,137.8 446.2,138.1 445.8,138.4 445.5,138.6 445.1,138.9 444.8,139.2 444.4,139.5 444.0,139.9 443.7,140.2 443.3,140.5 442.9,140.9 442.6,141.3 442.2,141.7 441.9,142.1 441.5,142.5 441.1,142.9 440.8,143.3 440.4,143.8 440.1,144.2 439.7,144.7 439.4,145.2 439.0,145.7 438.6,146.2 438.3,146.7 437.9,147.2 437.6,147.8 437.2,148.3 436.8,148.9 436.5,149.4 436.1,150.0 435.8,150.6 435.4,151.2 435.0,151.8 434.7,152.4 434.3,153.0 433.9,153.6 433.6,154.3 433.2,154.9 432.9,155.5 432.5,156.2 432.1,156.8 431.8,157.5 431.4,158.1 431.1,158.8 430.7,159.4 430.3,160.1 430.0,160.8 429.6,161.4 429.3,162.1 428.9,162.7 428.6,163.4 428.2,164.1 427.8,164.7 427.5,165.4 427.1,166.0 426.8,166.7 426.4,167.3 426.0,167.9 425.7,168.6 425.3,169.2 424.9,169.8 424.6,170.4 424.2,171.0 423.9,171.5 423.5,172.1 423.1,172.7 422.8,173.2 422.4,173.7 422.1,174.2 421.7,174.7 421.4,175.2 421.0,175.6 420.6,176.1 420.3,176.5 419.9,176.8 419.6,177.2 419.2,177.5 418.8,177.8 418.5,178.1 418.1,178.3 417.8,178.5 417.4,178.7 417.0,178.8 416.7,178.9 416.3,179.0 415.9,179.0 415.6,178.9 415.2,178.9 414.9,178.7 414.5,178.6 414.1,178.4 413.8,178.1 413.4,177.8 413.1,177.5 412.7,177.2 412.3,176.8 412.0,176.4 411.6,176.0 411.3,175.5 410.9,175.1 410.6,174.6 410.2,174.2 409.8,173.7 409.5,173.3 409.1,172.8 408.8,172.4 408.4,172.0 408.0,171.5 407.7,171.1 407.3,170.7 406.9,170.4 406.6,170.0 406.2,169.6 405.9,169.3 405.5,169.0 405.1,168.6 404.8,168.3 404.4,168.1 404.1,167.8 403.7,167.5 403.4,167.3 403.0,167.0 402.6,166.8 402.3,166.6 401.9,166.4 401.6,166.2 401.2,166.0 400.8,165.8 400.5,165.6 400.1,165.5 399.8,165.3 399.4,165.2 399.0,165.1 398.7,165.0 398.3,164.9 397.9,164.8 397.6,164.7 397.2,164.6 396.9,164.5 396.5,164.5 396.1,164.4 395.8,164.4 395.4,164.3 395.1,164.3 394.7,164.2 394.4,164.2 394.0,164.2 393.6,164.2 393.3,164.2 392.9,164.2 392.6,164.2 392.2,164.2 391.8,164.2 391.5,164.2 391.1,164.2 390.8,164.2 390.4,164.2 390.0,164.3 389.7,164.3 389.3,164.3 388.9,164.3 388.6,164.4 388.2,164.4 387.9,164.4 387.5,164.5 387.1,164.5 386.8,164.6 386.4,164.6 386.1,164.6 385.7,164.7 385.3,164.7 385.0,164.8 384.6,164.8 384.3,164.8 383.9,164.9 383.6,164.9 383.2,164.9 382.8,165.0 382.5,165.0 382.1,165.0 381.8,165.1 381.4,165.1 381.0,165.1 380.7,165.2 380.3,165.2 379.9,165.2 379.6,165.3 379.2,165.3 378.9,165.3 378.5,165.4 378.1,165.4 377.8,165.4 377.4,165.5 377.1,165.5 376.7,165.6 376.3,165.6 376.0,165.6 375.6,165.7 375.3,165.7 374.9,165.8 374.5,165.8 374.2,165.8 373.8,165.9 373.5,165.9 373.1,166.0 372.8,166.0 372.4,166.0 372.0,166.1 371.7,166.1 371.3,166.2 370.9,166.2 370.6,166.3 370.2,166.3 369.9,166.4 369.5,166.4 369.2,166.4 368.8,166.5 368.4,166.5 368.1,166.6 367.7,166.6 367.4,166.7 367.0,166.7 366.6,166.8 366.3,166.8 365.9,166.9 365.6,166.9 365.2,166.9 364.8,167.0 364.5,167.0 364.1,167.1 363.8,167.1" fill="none" stroke="#800080" stroke-width="1.75" stroke-linejoin="round" stroke-linecap="round"/>
<polyline points="363.8,113.1 364.1,111.0 364.5,109.0 364.8,107.2 365.2,105.4 365.6,103.7 365.9,102.1 366.3,100.6 366.6,99.2 367.0,97.8 367.4,96.5 367.7,95.3 368.1,94.1 368.4,92.9 368.8,91.9 369.1,90.8 369.5,89.8 369.9,88.9 370.2,88.0 370.6,87.1 370.9,86.3 371.3,85.5 371.7,84.8 372.0,84.1 372.4,83.4 372.8,82.7 373.1,82.1 373.5,81.5 373.8,80.9 374.2,80.3 374.6,79.8 374.9,79.3 375.3,78.8 375.6,78.3 376.0,77.8 376.4,77.4 376.7,76.9 377.1,76.5 377.4,76.1 377.8,75.7 378.1,75.4 378.5,75.0 378.9,74.7 379.2,74.3 379.6,74.0 379.9,73.7 380.3,73.4 380.7,73.1 381.0,72.8 381.4,72.5 381.8,72.3 382.1,72.0 382.5,71.8 382.8,71.5 383.2,71.3 383.6,71.1 383.9,70.8 384.3,70.6 384.6,70.4 385.0,70.2 385.4,70.0 385.7,69.8 386.1,69.7 386.4,69.5 386.8,69.3 387.1,69.2 387.5,69.0 387.9,68.8 388.2,68.7 388.6,68.6 388.9,68.4 389.3,68.3 389.7,68.2 390.0,68.0 390.4,67.9 390.8,67.8 391.1,67.7 391.5,67.6 391.8,67.5 392.2,67.4 392.6,67.3 392.9,67.2 393.3,67.1 393.6,67.0 394.0,67.0 394.4,66.9 394.7,66.8 395.1,66.7 395.4,66.7 395.8,66.6 396.1,66.6 396.5,66.5 396.9,66.4 397.2,66.4 397.6,66.3 397.9,66.3 398.3,66.3 398.7,66.2 399.0,66.2 399.4,66.1 399.8,66.1 400.1,66.1 400.5,66.1 400.8,66.0 401.2,66.0 401.6,66.0 401.9,66.0 402.3,66.0 402.6,66.0 403.0,65.9 403.4,65.9 403.7,65.9 404.1,65.9 404.4,65.9 404.8,66.0 405.1,66.0 405.5,66.0 405.9,66.0 406.2,66.0 406.6,66.0 406.9,66.0 407.3,66.1 407.7,66.1 408.0,66.1 408.4,66.1 408.8,66.2 409.1,66.2 409.5,66.2 409.8,66.3 410.2,66.3 410.6,66.3 410.9,66.4 411.3,66.4 411.6,66.4 412.0,66.5 412.4,66.5 412.7,66.6 413.1,66.6 413.4,66.6 413.8,66.7 414.1,66.7 414.5,66.8 414.9,66.8 415.2,66.9 415.6,66.9 415.9,66.9 416.3,67.0 416.7,67.0 417.0,67.1 417.4,67.1 417.8,67.2 418.1,67.2 418.5,67.2 418.8,67.3 419.2,67.3 419.6,67.3 419.9,67.4 420.3,67.4 420.6,67.5 421.0,67.5 421.4,67.5 421.7,67.5 422.1,67.6 422.4,67.6 422.8,67.6 423.1,67.7 423.5,67.7 423.9,67.7 424.2,67.7 424.6,67.7 424.9,67.7 425.3,67.8 425.7,67.8 426.0,67.8 426.4,67.8 426.8,67.8 427.1,67.8 427.5,67.7 427.8,67.7 428.2,67.7 428.6,67.7 428.9,67.7 429.3,67.6 429.6,67.6 430.0,67.5 430.4,67.5 430.7,67.4 431.1,67.4 431.4,67.3 431.8,67.2 432.1,67.1 432.5,67.0 432.9,66.9 433.2,66.8 433.6,66.7 433.9,66.5 434.3,66.4 434.7,66.2 435.0,66.0 435.4,65.9 435.8,65.7 436.1,65.5 436.5,65.2 436.8,65.0 437.2,64.8 437.6,64.5 437.9,64.2 438.3,63.9 438.6,63.6 439.0,63.3 439.4,63.0 439.7,62.6 440.1,62.3 440.4,61.9 440.8,61.5 441.1,61.1 441.5,60.7 441.9,60.3 442.2,59.9 442.6,59.4 442.9,59.0 443.3,58.5 443.7,58.0 444.0,57.5 444.4,57.0 444.8,56.5 445.1,56.0 445.5,55.5 445.8,54.9 446.2,54.4 446.6,53.8 446.9,53.3 447.3,52.7 447.6,52.1 448.0,51.5 448.4,51.0 448.7,50.4 449.1,49.8 449.4,49.2 449.8,48.6 450.1,48.0 450.5,47.4 450.9,46.8 451.2,46.2 451.6,45.6 451.9,45.0 452.3,44.4 452.7,43.8 453.0,43.2 453.4,42.6 453.8,42.0 454.1,41.4 454.5,40.8 454.8,40.2 455.2,39.7 455.6,39.1 455.9,38.6 456.3,38.0 456.6,37.5 457.0,37.0 457.4,36.5 457.7,36.0 458.1,35.5 458.4,35.1 458.8,34.6 459.1,34.2 459.5,33.8 459.9,33.5 460.2,33.1 460.6,32.8 460.9,32.5 461.3,32.3 461.7,32.0 462.0,31.8 462.4,31.7 462.8,31.6 463.1,31.5 463.5,31.4 463.8,31.4 464.2,31.5 464.6,31.6 464.9,31.7 465.3,31.9 465.6,32.2 466.0,32.4 466.4,32.8 466.7,33.2 467.1,33.6 467.4,34.0 467.8,34.5 468.1,35.0 468.5,35.6 468.9,36.1 469.2,36.7 469.6,37.2 469.9,37.8 470.3,38.4 470.7,39.0 471.0,39.5 471.4,40.1 471.8,40.6 472.1,41.1 472.5,41.6 472.8,42.1 473.2,42.6 473.6,43.1 473.9,43.5 474.3,44.0 474.6,44.4 475.0,44.8 475.4,45.2 475.7,45.6 476.1,45.9 476.4,46.3 476.8,46.7 477.1,47.0 477.5,47.4 477.9,47.7 478.2,48.0 478.6,48.3 478.9,48.6 479.3,48.9 479.7,49.2 480.0,49.5 480.4,49.8 480.8,50.0 481.1,50.3 481.5,50.6 481.8,50.8 482.2,51.1 482.6,51.3 482.9,51.6 483.3,51.8 483.6,52.0 484.0,52.3 484.4,52.5 484.7,52.7 485.1,52.9 485.4,53.1 485.8,53.3 486.1,53.5 486.5,53.7 486.9,53.9 487.2,54.1 487.6,54.3 487.9,54.5 488.3,54.7 488.7,54.9 489.0,55.1 489.4,55.3 489.8,55.4 490.1,55.6 490.5,55.8 490.8,55.9 491.2,56.1 491.6,56.3 491.9,56.4 492.3,56.6 492.6,56.7 493.0,56.9 493.4,57.0 493.7,57.2 494.1,57.3 494.4,57.5 494.8,57.6 495.1,57.7 495.5,57.9 495.9,58.0 496.2,58.1 496.6,58.3 496.9,58.4 497.3,58.5 497.7,58.6 498.0,58.8 498.4,58.9 498.8,59.0 499.1,59.1 499.5,59.2 499.8,59.3 500.2,59.4 500.6,59.5 500.9,59.6 501.3,59.7 501.6,59.8 502.0,59.9 502.4,60.0 502.7,60.1 503.1,60.1 503.4,60.2 503.8,60.3 504.1,60.4 504.5,60.4 504.9,60.5 505.2,60.6 505.6,60.6 506.0,60.7 506.3,60.8 506.7,60.8 507.0,60.9 507.4,60.9 507.8,61.0 508.1,61.0 508.5,61.1 508.8,61.1 509.2,61.2 509.6,61.2 509.9,61.3 510.3,61.3 510.6,61.4 511.0,61.4 511.4,61.5 511.7,61.5 512.1,61.5 512.4,61.6 512.8,61.6 513.1,61.6 513.5,61.7 513.9,61.7 514.2,61.7 514.6,61.8 515.0,61.8 515.3,61.8 515.7,61.9 516.0,61.9 516.4,61.9 516.8,61.9 517.1,62.0 517.5,62.0 517.8,62.0 518.2,62.0 518.5,62.1 518.9,62.1 519.3,62.1 519.6,62.1 520.0,62.2 520.4,62.2 520.7,62.2 521.1,62.2 521.4,62.3 521.8,62.3 522.1,62.3 522.5,62.3 522.9,62.4 523.2,62.4 523.6,62.4 524.0,62.4 524.3,62.5 524.7,62.5 525.0,62.5 525.4,62.5 525.8,62.6 526.1,62.6 526.5,62.6 526.8,62.6 527.2,62.6 527.5,62.7 527.9,62.7 528.3,62.7 528.6,62.7 529.0,62.7 529.4,62.8 529.7,62.8 530.1,62.8 530.4,62.8 530.8,62.8 531.1,62.8 531.5,62.8 531.9,62.8 532.2,62.8 532.6,62.9 533.0,62.9 533.3,62.9 533.7,62.9 534.0,62.9 534.4,62.9 534.8,62.9 535.1,62.9 535.5,62.9 535.8,62.9 536.2,62.9 536.5,62.9 536.9,62.9 537.3,62.9 537.6,62.8 538.0,62.8 538.4,62.8 538.7,62.8 539.1,62.8 539.4,62.8 539.8,62.8 540.1,62.8 540.5,62.7 540.9,62.7 541.2,62.7 541.6,62.7 542.0,62.7 542.3,62.6 542.7,62.6 543.0,62.6 543.4,62.6 543.8,62.5 544.1,62.5 544.5,62.5 544.8,62.4 545.2,62.4 545.5,62.4 545.9,62.3 546.3,62.3 546.6,62.3 547.0,62.2 547.4,62.2 547.7,62.1 548.1,62.1 548.4,62.0 548.8,62.0 549.1,61.9 549.5,61.9 549.9,61.8 550.2,61.8 550.6,61.7 551.0,61.7 551.3,61.6 551.7,61.6 552.0,61.5 552.4,61.4 552.8,61.4 553.1,61.3 553.5,61.2 553.8,61.2 554.2,61.1 554.5,61.0 554.9,60.9 555.3,60.9 555.6,60.8 556.0,60.7 556.4,60.6 556.7,60.5 557.1,60.4 557.4,60.3 557.8,60.3 558.2,60.2 558.5,60.1 558.9,60.0 559.2,59.9 559.6,59.8 560.0,59.7 560.3,59.6 560.7,59.4 561.0,59.3 561.4,59.2 561.8,59.1 562.1,59.0 562.5,58.9 562.8,58.7 563.2,58.6 563.5,58.5 563.9,58.4 564.3,58.2 564.6,58.1 565.0,58.0 565.4,57.8 565.7,57.7 566.1,57.5 566.4,57.4 566.8,57.2 567.2,57.1 567.5,56.9 567.9,56.8 568.2,56.6 568.6,56.4 569.0,56.3 569.3,56.1 569.7,55.9 570.0,55.7 570.4,55.6 570.8,55.4 571.1,55.2 571.5,55.0 571.8,54.9 572.2,54.7 572.5,54.6 572.9,54.5 573.3,54.3 573.6,54.2 574.0,54.1 574.4,53.9 574.7,53.8 575.1,53.7 575.4,53.5 575.8,53.4 576.1,53.3 576.5,53.1 576.9,53.0 577.2,52.9 577.6,52.7 578.0,52.6 578.3,52.4 578.7,52.3 579.0,52.1 579.4,51.9 579.8,51.8 579.4,54.4 579.0,56.9 578.7,59.4 578.3,61.7 578.0,64.0 577.6,66.2 577.2,68.3 576.9,70.3 576.5,72.3 576.1,74.1 575.8,75.9 575.4,77.7 575.1,79.4 574.7,81.0 574.4,82.5 574.0,84.0 573.6,85.5 573.3,86.9 572.9,88.2 572.5,89.5 572.2,90.8 571.8,92.0 571.5,93.1 571.1,94.3 570.8,95.3 570.4,96.4 570.0,97.4 569.7,98.4 569.3,99.3 569.0,100.2 568.6,101.1 568.2,101.9 567.9,102.7 567.5,103.5 567.1,104.3 566.8,105.0 566.4,105.7 566.1,106.4 565.7,107.0 565.4,107.7 565.0,108.3 564.6,108.9 564.3,109.4 563.9,110.0 563.5,110.5 563.2,111.0 562.8,111.5 562.5,112.0 562.1,112.5 561.8,112.9 561.4,113.4 561.0,113.8 560.7,114.2 560.3,114.6 560.0,115.0 559.6,115.4 559.2,115.7 558.9,116.1 558.5,116.4 558.1,116.7 557.8,117.1 557.4,117.4 557.1,117.7 556.7,118.0 556.4,118.2 556.0,118.5 555.6,118.8 555.3,119.0 554.9,119.3 554.5,119.5 554.2,119.8 553.8,120.0 553.5,120.2 553.1,120.5 552.8,120.7 552.4,120.9 552.0,121.1 551.7,121.3 551.3,121.5 551.0,121.7 550.6,121.8 550.2,122.0 549.9,122.2 549.5,122.4 549.1,122.5 548.8,122.7 548.4,122.9 548.1,123.0 547.7,123.2 547.4,123.3 547.0,123.5 546.6,123.6 546.3,123.7 545.9,123.9 545.5,124.0 545.2,124.1 544.8,124.3 544.5,124.4 544.1,124.5 543.8,124.6 543.4,124.8 543.0,124.9 542.7,125.0 542.3,125.1 542.0,125.2 541.6,125.3 541.2,125.4 540.9,125.6 540.5,125.7 540.1,125.8 539.8,125.9 539.4,126.0 539.1,126.1 538.7,126.2 538.4,126.3 538.0,126.4 537.6,126.5 537.3,126.5 536.9,126.6 536.5,126.7 536.2,126.8 535.8,126.9 535.5,127.0 535.1,127.1 534.8,127.2 534.4,127.3 534.0,127.3 533.7,127.4 533.3,127.5 533.0,127.6 532.6,127.7 532.2,127.8 531.9,127.8 531.5,127.9 531.1,128.0 530.8,128.1 530.4,128.2 530.1,128.2 529.7,128.3 529.4,128.4 529.0,128.5 528.6,128.6 528.3,128.6 527.9,128.7 527.5,128.8 527.2,128.9 526.8,128.9 526.5,129.0 526.1,129.1 525.8,129.2 525.4,129.2 525.0,129.3 524.7,129.4 524.3,129.4 524.0,129.5 523.6,129.6 523.2,129.6 522.9,129.7 522.5,129.8 522.1,129.8 521.8,129.9 521.4,130.0 521.1,130.0 520.7,130.1 520.4,130.1 520.0,130.2 519.6,130.2 519.3,130.3 518.9,130.3 518.5,130.4 518.2,130.4 517.8,130.5 517.5,130.5 517.1,130.6 516.8,130.6 516.4,130.7 516.0,130.7 515.7,130.7 515.3,130.8 515.0,130.8 514.6,130.9 514.2,130.9 513.9,130.9 513.5,131.0 513.1,131.0 512.8,131.0 512.4,131.1 512.1,131.1 511.7,131.1 511.4,131.2 511.0,131.2 510.6,131.2 510.3,131.3 509.9,131.3 509.6,131.3 509.2,131.3 508.8,131.4 508.5,131.4 508.1,131.4 507.8,131.5 507.4,131.5 507.0,131.5 506.7,131.5 506.3,131.6 505.9,131.6 505.6,131.6 505.2,131.6 504.9,131.6 504.5,131.7 504.1,131.7 503.8,131.7 503.4,131.7 503.1,131.8 502.7,131.8 502.4,131.8 502.0,131.8 501.6,131.8 501.3,131.9 500.9,131.9 500.6,131.9 500.2,131.9 499.8,132.0 499.5,132.0 499.1,132.0 498.8,132.0 498.4,132.0 498.0,132.1 497.7,132.1 497.3,132.1 496.9,132.1 496.6,132.2 496.2,132.2 495.9,132.2 495.5,132.2 495.1,132.2 494.8,132.3 494.4,132.3 494.1,132.3 493.7,132.3 493.4,132.4 493.0,132.4 492.6,132.4 492.3,132.4 491.9,132.5 491.6,132.5 491.2,132.5 490.8,132.6 490.5,132.6 490.1,132.6 489.8,132.6 489.4,132.7 489.0,132.7 488.7,132.7 488.3,132.8 487.9,132.8 487.6,132.8 487.2,132.8 486.9,132.9 486.5,132.9 486.1,132.9 485.8,132.9 485.4,133.0 485.1,133.0 484.7,133.0 484.4,133.0 484.0,133.1 483.6,133.1 483.3,133.1 482.9,133.1 482.6,133.1 482.2,133.2 481.8,133.2 481.5,133.2 481.1,133.2 480.8,133.3 480.4,133.3 480.0,133.3 479.7,133.3 479.3,133.4 478.9,133.4 478.6,133.4 478.2,133.4 477.9,133.5 477.5,133.5 477.1,133.5 476.8,133.5 476.4,133.6 476.1,133.6 475.7,133.6 475.4,133.7 475.0,133.7 474.6,133.7 474.3,133.8 473.9,133.8 473.6,133.9 473.2,133.9 472.8,133.9 472.5,134.0 472.1,134.0 471.8,134.1 471.4,134.1 471.0,134.2 470.7,134.2 470.3,134.2 469.9,134.3 469.6,134.3 469.2,134.4 468.9,134.4 468.5,134.5 468.1,134.5 467.8,134.6 467.4,134.6 467.1,134.7 466.7,134.7 466.4,134.7 466.0,134.8 465.6,134.8 465.3,134.9 464.9,134.9 464.6,135.0 464.2,135.0 463.8,135.1 463.5,135.1 463.1,135.2 462.8,135.2 462.4,135.3 462.0,135.4 461.7,135.4 461.3,135.5 460.9,135.5 460.6,135.6 460.2,135.6 459.9,135.7 459.5,135.8 459.1,135.8 458.8,135.9 458.4,136.0 458.1,136.0 457.7,136.1 457.4,136.2 457.0,136.2 456.6,136.3 456.3,136.4 455.9,136.5 455.6,136.6 455.2,136.6 454.8,136.7 454.5,136.8 454.1,136.9 453.8,137.0 453.4,137.1 453.0,137.2 452.7,137.3 452.3,137.5 451.9,137.6 451.6,137.7 451.2,137.8 450.9,138.0 450.5,138.1 450.1,138.3 449.8,138.4 449.4,138.6 449.1,138.8 448.7,138.9 448.4,139.1 448.0,139.3 447.6,139.5 447.3,139.7 446.9,139.9 446.6,140.2 446.2,140.4 445.8,140.7 445.5,140.9 445.1,141.2 444.8,141.5 444.4,141.8 444.0,142.1 443.7,142.4 443.3,142.7 442.9,143.1 442.6,143.4 442.2,143.8 441.9,144.2 441.5,144.6 441.1,145.0 440.8,145.4 440.4,145.8 440.1,146.2 439.7,146.7 439.4,147.2 439.0,147.6 438.6,148.1 438.3,148.6 437.9,149.1 437.6,149.7 437.2,150.2 436.8,150.7 436.5,151.3 436.1,151.8 435.8,152.4 435.4,153.0 435.0,153.6 434.7,154.2 434.3,154.8 433.9,155.4 433.6,156.0 433.2,156.7 432.9,157.3 432.5,157.9 432.1,158.6 431.8,159.2 431.4,159.9 431.1,160.5 430.7,161.2 430.3,161.9 430.0,162.5 429.6,163.2 429.3,163.9 428.9,164.6 428.6,165.2 428.2,165.9 427.8,166.6 427.5,167.2 427.1,167.9 426.8,168.6 426.4,169.2 426.0,169.9 425.7,170.6 425.3,171.2 424.9,171.8 424.6,172.5 424.2,173.1 423.9,173.7 423.5,174.3 423.1,174.9 422.8,175.5 422.4,176.1 422.1,176.7 421.7,177.2 421.4,177.8 421.0,178.3 420.6,178.8 420.3,179.3 419.9,179.8 419.6,180.2 419.2,180.6 418.8,181.0 418.5,181.4 418.1,181.8 417.8,182.1 417.4,182.4 417.0,182.6 416.7,182.9 416.3,183.1 415.9,183.2 415.6,183.3 415.2,183.4 414.9,183.5 414.5,183.5 414.1,183.4 413.8,183.3 413.4,183.2 413.1,183.0 412.7,182.8 412.3,182.5 412.0,182.2 411.6,181.9 411.3,181.5 410.9,181.2 410.6,180.7 410.2,180.3 409.8,179.9 409.5,179.4 409.1,178.9 408.8,178.5 408.4,178.0 408.0,177.6 407.7,177.1 407.3,176.7 406.9,176.2 406.6,175.8 406.2,175.4 405.9,175.0 405.5,174.7 405.1,174.3 404.8,174.0 404.4,173.6 404.1,173.3 403.7,173.0 403.4,172.7 403.0,172.4 402.6,172.2 402.3,171.9 401.9,171.7 401.6,171.4 401.2,171.2 400.8,171.0 400.5,170.8 400.1,170.6 399.8,170.5 399.4,170.3 399.0,170.2 398.7,170.0 398.3,169.9 397.9,169.8 397.6,169.7 397.2,169.6 396.9,169.5 396.5,169.4 396.1,169.4 395.8,169.3 395.4,169.2 395.1,169.2 394.7,169.1 394.4,169.1 394.0,169.1 393.6,169.1 393.3,169.0 392.9,169.0 392.6,169.0 392.2,169.0 391.8,169.0 391.5,169.0 391.1,169.0 390.8,169.0 390.4,169.0 390.0,169.1 389.7,169.1 389.3,169.1 388.9,169.1 388.6,169.2 388.2,169.2 387.9,169.2 387.5,169.2 387.1,169.3 386.8,169.3 386.4,169.4 386.1,169.4 385.7,169.4 385.3,169.5 385.0,169.5 384.6,169.5 384.3,169.6 383.9,169.6 383.6,169.7 383.2,169.7 382.8,169.7 382.5,169.8 382.1,169.8 381.8,169.8 381.4,169.9 381.0,169.9 380.7,169.9 380.3,170.0 379.9,170.0 379.6,170.0 379.2,170.1 378.9,170.1 378.5,170.2 378.1,170.2 377.8,170.2 377.4,170.3 377.1,170.3 376.7,170.4 376.3,170.4 376.0,170.4 375.6,170.5 375.3,170.5 374.9,170.6 374.5,170.6 374.2,170.7 373.8,170.7 373.5,170.8 373.1,170.8 372.8,170.9 372.4,170.9 372.0,171.0 371.7,171.0 371.3,171.1 370.9,171.1 370.6,171.2 370.2,171.2 369.9,171.3 369.5,171.3 369.2,171.4 368.8,171.4 368.4,171.5 368.1,171.5 367.7,171.6 367.4,171.6 367.0,171.7 366.6,171.7 366.3,171.8 365.9,171.8 365.6,171.9 365.2,171.9 364.8,172.0 364.5,172.0 364.1,172.1 363.8,172.2" fill="none" stroke="#800000" stroke-width="1.75" stroke-linejoin="round" stroke-linecap="round"/>
<polyline points="363.8,113.1 364.1,111.0 364.5,109.0 364.8,107.1 365.2,105.3 365.6,103.6 365.9,101.9 366.3,100.3 366.6,98.8 367.0,97.3 367.4,95.9 367.7,94.6 368.1,93.3 368.4,92.1 368.8,90.9 369.1,89.7 369.5,88.7 369.9,87.6 370.2,86.6 370.6,85.6 370.9,84.7 371.3,83.8 371.7,83.0 372.0,82.2 372.4,81.4 372.8,80.7 373.1,79.9 373.5,79.2 373.8,78.6 374.2,77.9 374.6,77.3 374.9,76.7 375.3,76.1 375.6,75.6 376.0,75.0 376.4,74.5 376.7,74.0 377.1,73.5 377.4,73.1 377.8,72.6 378.1,72.2 378.5,71.7 378.9,71.3 379.2,70.9 379.6,70.5 379.9,70.1 380.3,69.8 380.7,69.4 381.0,69.1 381.4,68.7 381.8,68.4 382.1,68.1 382.5,67.8 382.8,67.5 383.2,67.2 383.6,66.9 383.9,66.6 384.3,66.4 384.6,66.1 385.0,65.9 385.4,65.6 385.7,65.4 386.1,65.2 386.4,64.9 386.8,64.7 387.1,64.5 387.5,64.3 387.9,64.1 388.2,63.9 388.6,63.8 388.9,63.6 389.3,63.4 389.7,63.3 390.0,63.1 390.4,62.9 390.8,62.8 391.1,62.7 391.5,62.5 391.8,62.4 392.2,62.3 392.6,62.2 392.9,62.0 393.3,61.9 393.6,61.8 394.0,61.7 394.4,61.6 394.7,61.5 395.1,61.5 395.4,61.4 395.8,61.3 396.1,61.2 396.5,61.2 396.9,61.1 397.2,61.0 397.6,61.0 397.9,60.9 398.3,60.9 398.7,60.8 399.0,60.8 399.4,60.7 399.8,60.7 400.1,60.7 400.5,60.6 400.8,60.6 401.2,60.6 401.6,60.6 401.9,60.6 402.3,60.6 402.6,60.6 403.0,60.6 403.4,60.6 403.7,60.6 404.1,60.6 404.4,60.6 404.8,60.6 405.1,60.6 405.5,60.6 405.9,60.6 406.2,60.7 406.6,60.7 406.9,60.7 407.3,60.8 407.7,60.8 408.0,60.8 408.4,60.9 408.8,60.9 409.1,60.9 409.5,61.0 409.8,61.0 410.2,61.1 410.6,61.1 410.9,61.2 411.3,61.2 411.6,61.3 412.0,61.3 412.4,61.4 412.7,61.4 413.1,61.5 413.4,61.6 413.8,61.6 414.1,61.7 414.5,61.7 414.9,61.8 415.2,61.8 415.6,61.9 415.9,61.9 416.3,62.0 416.7,62.1 417.0,62.1 417.4,62.2 417.8,62.2 418.1,62.3 418.5,62.3 418.8,62.4 419.2,62.4 419.6,62.5 419.9,62.5 420.3,62.6 420.6,62.6 421.0,62.7 421.4,62.7 421.7,62.8 422.1,62.8 422.4,62.9 422.8,62.9 423.1,63.0 423.5,63.0 423.9,63.0 424.2,63.1 424.6,63.1 424.9,63.1 425.3,63.1 425.7,63.2 426.0,63.2 426.4,63.2 426.8,63.2 427.1,63.2 427.5,63.2 427.8,63.2 428.2,63.2 428.6,63.2 428.9,63.2 429.3,63.2 429.6,63.2 430.0,63.1 430.4,63.1 430.7,63.1 431.1,63.0 431.4,63.0 431.8,62.9 432.1,62.8 432.5,62.8 432.9,62.7 433.2,62.6 433.6,62.5 433.9,62.4 434.3,62.2 434.7,62.1 435.0,61.9 435.4,61.8 435.8,61.6 436.1,61.4 436.5,61.2 436.8,61.0 437.2,60.8 437.6,60.6 437.9,60.3 438.3,60.1 438.6,59.8 439.0,59.5 439.4,59.2 439.7,58.9 440.1,58.5 440.4,58.2 440.8,57.8 441.1,57.5 441.5,57.1 441.9,56.7 442.2,56.3 442.6,55.8 442.9,55.4 443.3,55.0 443.7,54.5 444.0,54.0 444.4,53.5 444.8,53.0 445.1,52.5 445.5,52.0 445.8,51.5 446.2,51.0 446.6,50.4 446.9,49.9 447.3,49.3 447.6,48.7 448.0,48.2 448.4,47.6 448.7,47.0 449.1,46.4 449.4,45.8 449.8,45.2 450.1,44.6 450.5,44.0 450.9,43.4 451.2,42.8 451.6,42.1 451.9,41.5 452.3,40.9 452.7,40.3 453.0,39.7 453.4,39.1 453.8,38.5 454.1,37.8 454.5,37.2 454.8,36.6 455.2,36.0 455.6,35.4 455.9,34.9 456.3,34.3 456.6,33.7 457.0,33.2 457.4,32.6 457.7,32.1 458.1,31.6 458.4,31.0 458.8,30.5 459.1,30.1 459.5,29.6 459.9,29.2 460.2,28.7 460.6,28.3 460.9,27.9 461.3,27.6 461.7,27.3 462.0,26.9 462.4,26.7 462.8,26.4 463.1,26.2 463.5,26.1 463.8,25.9 464.2,25.8 464.6,25.8 464.9,25.8 465.3,25.8 465.6,25.9 466.0,26.0 466.4,26.2 466.7,26.5 467.1,26.7 467.4,27.1 467.8,27.5 468.1,27.9 468.5,28.4 468.9,28.9 469.2,29.4 469.6,30.0 469.9,30.6 470.3,31.1 470.7,31.8 471.0,32.4 471.4,33.0 471.8,33.6 472.1,34.2 472.5,34.8 472.8,35.3 473.2,35.9 473.6,36.4 473.9,37.0 474.3,37.5 474.6,38.0 475.0,38.5 475.4,39.0 475.7,39.4 476.1,39.9 476.4,40.3 476.8,40.7 477.1,41.1 477.5,41.5 477.9,41.9 478.2,42.3 478.6,42.7 478.9,43.0 479.3,43.4 479.7,43.7 480.0,44.1 480.4,44.4 480.8,44.7 481.1,45.0 481.5,45.3 481.8,45.6 482.2,45.9 482.6,46.2 482.9,46.5 483.3,46.8 483.6,47.1 484.0,47.3 484.4,47.6 484.7,47.8 485.1,48.1 485.4,48.4 485.8,48.6 486.1,48.8 486.5,49.1 486.9,49.3 487.2,49.5 487.6,49.8 487.9,50.0 488.3,50.2 488.7,50.4 489.0,50.6 489.4,50.8 489.8,51.1 490.1,51.3 490.5,51.5 490.8,51.6 491.2,51.8 491.6,52.0 491.9,52.2 492.3,52.4 492.6,52.6 493.0,52.8 493.4,52.9 493.7,53.1 494.1,53.3 494.4,53.4 494.8,53.6 495.1,53.7 495.5,53.9 495.9,54.1 496.2,54.2 496.6,54.3 496.9,54.5 497.3,54.6 497.7,54.8 498.0,54.9 498.4,55.0 498.8,55.1 499.1,55.3 499.5,55.4 499.8,55.5 500.2,55.6 500.6,55.7 500.9,55.8 501.3,55.9 501.6,56.0 502.0,56.1 502.4,56.2 502.7,56.3 503.1,56.4 503.4,56.5 503.8,56.6 504.1,56.6 504.5,56.7 504.9,56.8 505.2,56.9 505.6,56.9 506.0,57.0 506.3,57.1 506.7,57.1 507.0,57.2 507.4,57.2 507.8,57.3 508.1,57.3 508.5,57.4 508.8,57.4 509.2,57.5 509.6,57.5 509.9,57.6 510.3,57.6 510.6,57.7 511.0,57.7 511.4,57.7 511.7,57.8 512.1,57.8 512.4,57.8 512.8,57.9 513.1,57.9 513.5,57.9 513.9,58.0 514.2,58.0 514.6,58.0 515.0,58.0 515.3,58.1 515.7,58.1 516.0,58.1 516.4,58.2 516.8,58.2 517.1,58.2 517.5,58.2 517.8,58.3 518.2,58.3 518.5,58.3 518.9,58.3 519.3,58.3 519.6,58.4 520.0,58.4 520.4,58.4 520.7,58.4 521.1,58.5 521.4,58.5 521.8,58.5 522.1,58.5 522.5,58.6 522.9,58.6 523.2,58.6 523.6,58.7 524.0,58.7 524.3,58.7 524.7,58.7 525.0,58.8 525.4,58.8 525.8,58.8 526.1,58.9 526.5,58.9 526.8,58.9 527.2,59.0 527.5,59.0 527.9,59.0 528.3,59.0 528.6,59.1 529.0,59.1 529.4,59.1 529.7,59.1 530.1,59.1 530.4,59.2 530.8,59.2 531.1,59.2 531.5,59.2 531.9,59.2 532.2,59.2 532.6,59.3 533.0,59.3 533.3,59.3 533.7,59.3 534.0,59.3 534.4,59.3 534.8,59.3 535.1,59.3 535.5,59.3 535.8,59.3 536.2,59.3 536.5,59.3 536.9,59.3 537.3,59.3 537.6,59.3 538.0,59.3 538.4,59.3 538.7,59.3 539.1,59.3 539.4,59.3 539.8,59.3 540.1,59.3 540.5,59.3 540.9,59.3 541.2,59.2 541.6,59.2 542.0,59.2 542.3,59.2 542.7,59.2 543.0,59.2 543.4,59.1 543.8,59.1 544.1,59.1 544.5,59.1 544.8,59.0 545.2,59.0 545.5,59.0 545.9,59.0 546.3,58.9 546.6,58.9 547.0,58.9 547.4,58.8 547.7,58.8 548.1,58.7 548.4,58.7 548.8,58.7 549.1,58.6 549.5,58.6 549.9,58.5 550.2,58.5 550.6,58.4 551.0,58.4 551.3,58.3 551.7,58.3 552.0,58.2 552.4,58.2 552.8,58.1 553.1,58.0 553.5,58.0 553.8,57.9 554.2,57.8 554.5,57.8 554.9,57.7 555.3,57.6 555.6,57.5 556.0,57.5 556.4,57.4 556.7,57.3 557.1,57.2 557.4,57.1 557.8,57.0 558.2,57.0 558.5,56.9 558.9,56.8 559.2,56.7 559.6,56.6 560.0,56.5 560.3,56.4 560.7,56.3 561.0,56.2 561.4,56.1 561.8,55.9 562.1,55.8 562.5,55.7 562.8,55.6 563.2,55.5 563.5,55.4 563.9,55.2 564.3,55.1 564.6,55.0 565.0,54.8 565.4,54.7 565.7,54.6 566.1,54.4 566.4,54.3 566.8,54.1 567.2,54.0 567.5,53.8 567.9,53.7 568.2,53.5 568.6,53.3 569.0,53.2 569.3,53.0 569.7,52.8 570.0,52.6 570.4,52.5 570.8,52.3 571.1,52.1 571.5,52.0 571.8,51.8 572.2,51.6 572.5,51.5 572.9,51.3 573.3,51.2 573.6,51.0 574.0,50.9 574.4,50.8 574.7,50.6 575.1,50.5 575.4,50.3 575.8,50.2 576.1,50.0 576.5,49.9 576.9,49.7 577.2,49.6 577.6,49.4 578.0,49.3 578.3,49.1 578.7,48.9 579.0,48.7 579.4,48.5 579.8,48.4 579.4,51.1 579.0,53.8 578.7,56.4 578.3,58.9 578.0,61.3 577.6,63.6 577.2,65.9 576.9,68.0 576.5,70.1 576.1,72.1 575.8,74.0 575.4,75.9 575.1,77.7 574.7,79.4 574.4,81.1 574.0,82.7 573.6,84.2 573.3,85.7 572.9,87.2 572.5,88.5 572.2,89.9 571.8,91.2 571.5,92.4 571.1,93.6 570.8,94.8 570.4,95.9 570.0,97.0 569.7,98.0 569.3,99.0 569.0,100.0 568.6,100.9 568.2,101.8 567.9,102.7 567.5,103.6 567.1,104.4 566.8,105.2 566.4,105.9 566.1,106.7 565.7,107.4 565.4,108.0 565.0,108.7 564.6,109.4 564.3,110.0 563.9,110.6 563.5,111.2 563.2,111.7 562.8,112.3 562.5,112.8 562.1,113.3 561.8,113.8 561.4,114.3 561.0,114.7 560.7,115.2 560.3,115.6 560.0,116.0 559.6,116.4 559.2,116.8 558.9,117.2 558.5,117.6 558.1,117.9 557.8,118.3 557.4,118.6 557.1,119.0 556.7,119.3 556.4,119.6 556.0,119.9 555.6,120.2 555.3,120.5 554.9,120.7 554.5,121.0 554.2,121.3 553.8,121.5 553.5,121.8 553.1,122.0 552.8,122.3 552.4,122.5 552.0,122.7 551.7,122.9 551.3,123.1 551.0,123.3 550.6,123.5 550.2,123.7 549.9,123.9 549.5,124.1 549.1,124.3 548.8,124.5 548.4,124.7 548.1,124.8 547.7,125.0 547.4,125.2 547.0,125.3 546.6,125.5 546.3,125.6 545.9,125.8 545.5,125.9 545.2,126.1 544.8,126.2 544.5,126.4 544.1,126.5 543.8,126.6 543.4,126.8 543.0,126.9 542.7,127.0 542.3,127.2 542.0,127.3 541.6,127.4 541.2,127.5 540.9,127.6 540.5,127.8 540.1,127.9 539.8,128.0 539.4,128.1 539.1,128.2 538.7,128.3 538.4,128.4 538.0,128.5 537.6,128.6 537.3,128.7 536.9,128.8 536.5,128.9 536.2,129.0 535.8,129.1 535.5,129.2 535.1,129.3 534.8,129.4 534.4,129.5 534.0,129.6 533.7,129.7 533.3,129.8 533.0,129.9 532.6,130.0 532.2,130.1 531.9,130.2 531.5,130.2 531.1,130.3 530.8,130.4 530.4,130.5 530.1,130.6 529.7,130.7 529.4,130.8 529.0,130.8 528.6,130.9 528.3,131.0 527.9,131.1 527.5,131.2 527.2,131.3 526.8,131.3 526.5,131.4 526.1,131.5 525.8,131.6 525.4,131.7 525.0,131.7 524.7,131.8 524.3,131.9 524.0,132.0 523.6,132.0 523.2,132.1 522.9,132.2 522.5,132.3 522.1,132.3 521.8,132.4 521.4,132.5 521.1,132.5 520.7,132.6 520.4,132.6 520.0,132.7 519.6,132.7 519.3,132.8 518.9,132.9 518.5,132.9 518.2,133.0 517.8,133.0 517.5,133.1 517.1,133.1 516.8,133.1 516.4,133.2 516.0,133.2 515.7,133.3 515.3,133.3 515.0,133.4 514.6,133.4 514.2,133.4 513.9,133.5 513.5,133.5 513.1,133.6 512.8,133.6 512.4,133.6 512.1,133.7 511.7,133.7 511.4,133.7 511.0,133.8 510.6,133.8 510.3,133.8 509.9,133.8 509.6,133.9 509.2,133.9 508.8,133.9 508.5,134.0 508.1,134.0 507.8,134.0 507.4,134.0 507.0,134.1 506.7,134.1 506.3,134.1 505.9,134.1 505.6,134.2 505.2,134.2 504.9,134.2 504.5,134.2 504.1,134.3 503.8,134.3 503.4,134.3 503.1,134.3 502.7,134.3 502.4,134.4 502.0,134.4 501.6,134.4 501.3,134.4 500.9,134.5 500.6,134.5 500.2,134.5 499.8,134.5 499.5,134.5 499.1,134.6 498.8,134.6 498.4,134.6 498.0,134.6 497.7,134.6 497.3,134.7 496.9,134.7 496.6,134.7 496.2,134.7 495.9,134.8 495.5,134.8 495.1,134.8 494.8,134.8 494.4,134.9 494.1,134.9 493.7,134.9 493.4,134.9 493.0,135.0 492.6,135.0 492.3,135.0 491.9,135.0 491.6,135.1 491.2,135.1 490.8,135.1 490.5,135.2 490.1,135.2 489.8,135.2 489.4,135.2 489.0,135.3 488.7,135.3 488.3,135.3 487.9,135.4 487.6,135.4 487.2,135.4 486.9,135.4 486.5,135.5 486.1,135.5 485.8,135.5 485.4,135.5 485.1,135.6 484.7,135.6 484.4,135.6 484.0,135.6 483.6,135.7 483.3,135.7 482.9,135.7 482.6,135.7 482.2,135.7 481.8,135.8 481.5,135.8 481.1,135.8 480.8,135.8 480.4,135.9 480.0,135.9 479.7,135.9 479.3,135.9 478.9,136.0 478.6,136.0 478.2,136.0 477.9,136.0 477.5,136.1 477.1,136.1 476.8,136.1 476.4,136.2 476.1,136.2 475.7,136.2 475.4,136.3 475.0,136.3 474.6,136.4 474.3,136.4 473.9,136.5 473.6,136.5 473.2,136.5 472.8,136.6 472.5,136.7 472.1,136.7 471.8,136.8 471.4,136.8 471.0,136.9 470.7,136.9 470.3,137.0 469.9,137.1 469.6,137.1 469.2,137.2 468.9,137.2 468.5,137.3 468.1,137.3 467.8,137.4 467.4,137.5 467.1,137.5 466.7,137.6 466.4,137.6 466.0,137.7 465.6,137.8 465.3,137.8 464.9,137.9 464.6,138.0 464.2,138.0 463.8,138.1 463.5,138.1 463.1,138.2 462.8,138.3 462.4,138.3 462.0,138.4 461.7,138.5 461.3,138.5 460.9,138.6 460.6,138.7 460.2,138.7 459.9,138.8 459.5,138.9 459.1,139.0 458.8,139.0 458.4,139.1 458.1,139.2 457.7,139.3 457.4,139.3 457.0,139.4 456.6,139.5 456.3,139.6 455.9,139.7 455.6,139.8 455.2,139.9 454.8,139.9 454.5,140.0 454.1,140.1 453.8,140.2 453.4,140.3 453.0,140.4 452.7,140.6 452.3,140.7 451.9,140.8 451.6,140.9 451.2,141.0 450.9,141.2 450.5,141.3 450.1,141.4 449.8,141.6 449.4,141.7 449.1,141.9 448.7,142.1 448.4,142.2 448.0,142.4 447.6,142.6 447.3,142.8 446.9,143.0 446.6,143.2 446.2,143.5 445.8,143.7 445.5,143.9 445.1,144.2 444.8,144.4 444.4,144.7 444.0,145.0 443.7,145.3 443.3,145.6 442.9,145.9 442.6,146.2 442.2,146.6 441.9,146.9 441.5,147.3 441.1,147.7 440.8,148.1 440.4,148.5 440.1,148.9 439.7,149.3 439.4,149.7 439.0,150.2 438.6,150.7 438.3,151.1 437.9,151.6 437.6,152.1 437.2,152.6 436.8,153.1 436.5,153.7 436.1,154.2 435.8,154.8 435.4,155.3 435.0,155.9 434.7,156.5 434.3,157.1 433.9,157.7 433.6,158.3 433.2,158.9 432.9,159.5 432.5,160.1 432.1,160.7 431.8,161.4 431.4,162.0 431.1,162.7 430.7,163.3 430.3,164.0 430.0,164.7 429.6,165.3 429.3,166.0 428.9,166.7 428.6,167.3 428.2,168.0 427.8,168.7 427.5,169.4 427.1,170.0 426.8,170.7 426.4,171.4 426.0,172.1 425.7,172.7 425.3,173.4 424.9,174.1 424.6,174.7 424.2,175.4 423.9,176.0 423.5,176.7 423.1,177.3 422.8,177.9 422.4,178.5 422.1,179.1 421.7,179.7 421.4,180.3 421.0,180.9 420.6,181.5 420.3,182.0 419.9,182.6 419.6,183.1 419.2,183.6 418.8,184.1 418.5,184.5 418.1,185.0 417.8,185.4 417.4,185.8 417.0,186.2 416.7,186.5 416.3,186.8 415.9,187.1 415.6,187.4 415.2,187.6 414.9,187.8 414.5,187.9 414.1,188.0 413.8,188.1 413.4,188.1 413.1,188.1 412.7,188.0 412.3,187.9 412.0,187.8 411.6,187.6 411.3,187.4 410.9,187.1 410.6,186.8 410.2,186.5 409.8,186.1 409.5,185.8 409.1,185.4 408.8,184.9 408.4,184.5 408.0,184.1 407.7,183.6 407.3,183.2 406.9,182.8 406.6,182.3 406.2,181.9 405.9,181.5 405.5,181.1 405.1,180.7 404.8,180.3 404.4,180.0 404.1,179.6 403.7,179.3 403.4,179.0 403.0,178.7 402.6,178.4 402.3,178.1 401.9,177.9 401.6,177.6 401.2,177.4 400.8,177.2 400.5,176.9 400.1,176.7 399.8,176.5 399.4,176.3 399.0,176.2 398.7,176.0 398.3,175.9 397.9,175.7 397.6,175.6 397.2,175.5 396.9,175.4 396.5,175.3 396.1,175.2 395.8,175.1 395.4,175.0 395.1,175.0 394.7,174.9 394.4,174.8 394.0,174.8 393.6,174.8 393.3,174.7 392.9,174.7 392.6,174.7 392.2,174.7 391.8,174.7 391.5,174.7 391.1,174.7 390.8,174.7 390.4,174.7 390.0,174.7 389.7,174.7 389.3,174.7 388.9,174.7 388.6,174.7 388.2,174.8 387.9,174.8 387.5,174.8 387.1,174.8 386.8,174.9 386.4,174.9 386.1,174.9 385.7,174.9 385.3,175.0 385.0,175.0 384.6,175.0 384.3,175.1 383.9,175.1 383.6,175.1 383.2,175.1 382.8,175.2 382.5,175.2 382.1,175.2 381.8,175.2 381.4,175.3 381.0,175.3 380.7,175.3 380.3,175.3 379.9,175.4 379.6,175.4 379.2,175.4 378.9,175.4 378.5,175.5 378.1,175.5 377.8,175.5 377.4,175.5 377.1,175.6 376.7,175.6 376.3,175.6 376.0,175.7 375.6,175.7 375.3,175.7 374.9,175.8 374.5,175.8 374.2,175.8 373.8,175.9 373.5,175.9 373.1,175.9 372.8,176.0 372.4,176.0 372.0,176.0 371.7,176.1 371.3,176.1 370.9,176.2 370.6,176.2 370.2,176.2 369.9,176.3 369.5,176.3 369.2,176.3 368.8,176.4 368.4,176.4 368.1,176.5 367.7,176.5 367.4,176.5 367.0,176.6 366.6,176.6 366.3,176.6 365.9,176.7 365.6,176.7 365.2,176.8 364.8,176.8 364.5,176.8 364.1,176.9 363.8,176.9" fill="none" stroke="#008000" stroke-width="2.3" stroke-linejoin="round" stroke-linecap="round"/>
<path d="M345.5,4.7H597.5V210.5" fill="none" stroke="#d9d9d9" stroke-width="1.2"/>
<path d="M345.5,4.7V210.5H597.5" fill="none" stroke="#2a2a2a" stroke-width="1.1"/>
<path d="M341.5,210.50H345.5M341.5,184.76H345.5M341.5,159.03H345.5M341.5,133.29H345.5M341.5,107.55H345.5M341.5,81.81H345.5M341.5,56.07H345.5M341.5,30.34H345.5M341.5,4.60H345.5M343.5,197.63H345.5M343.5,171.89H345.5M343.5,146.16H345.5M343.5,120.42H345.5M343.5,94.68H345.5M343.5,68.94H345.5M343.5,43.20H345.5M343.5,17.47H345.5M363.75,210.5V214.5M399.75,210.5V214.5M435.75,210.5V214.5M471.75,210.5V214.5M507.75,210.5V214.5M543.75,210.5V214.5M579.75,210.5V214.5M381.75,210.5V212.5M417.75,210.5V212.5M453.75,210.5V212.5M489.75,210.5V212.5M525.75,210.5V212.5M561.75,210.5V212.5M597.75,210.5V212.5" stroke="#2a2a2a" stroke-width="1"/>
<text x="339.3" y="214.65" text-anchor="end" font-size="12.2">-800</text>
<text x="339.3" y="188.91" text-anchor="end" font-size="12.2">-600</text>
<text x="339.3" y="163.17" text-anchor="end" font-size="12.2">-400</text>
<text x="339.3" y="137.44" text-anchor="end" font-size="12.2">-200</text>
<text x="339.3" y="111.70" text-anchor="end" font-size="12.2">0</text>
<text x="339.3" y="85.96" text-anchor="end" font-size="12.2">200</text>
<text x="339.3" y="60.22" text-anchor="end" font-size="12.2">400</text>
<text x="339.3" y="34.48" text-anchor="end" font-size="12.2">600</text>
<text x="339.3" y="8.75" text-anchor="end" font-size="12.2">800</text>
<text x="363.75" y="225.5" text-anchor="middle" font-size="12.2">-0.2</text>
<text x="399.75" y="225.5" text-anchor="middle" font-size="12.2">0.0</text>
<text x="435.75" y="225.5" text-anchor="middle" font-size="12.2">0.2</text>
<text x="471.75" y="225.5" text-anchor="middle" font-size="12.2">0.4</text>
<text x="507.75" y="225.5" text-anchor="middle" font-size="12.2">0.6</text>
<text x="543.75" y="225.5" text-anchor="middle" font-size="12.2">0.8</text>
<text x="579.75" y="225.5" text-anchor="middle" font-size="12.2">1.0</text>
<path d="M40,269.3H290.5V479.3" fill="none" stroke="#d9d9d9" stroke-width="1.2"/>
<path d="M40,269.3V479.3H290.5" fill="none" stroke="#2a2a2a" stroke-width="1.1"/>
<path d="M36,470.90H40M36,445.80H40M36,420.70H40M36,395.60H40M36,370.50H40M36,345.40H40M36,320.30H40M36,295.20H40M36,270.10H40M38,458.35H40M38,433.25H40M38,408.15H40M38,383.05H40M38,357.95H40M38,332.85H40M38,307.75H40M38,282.65H40M40.00,479.3V483.3M73.42,479.3V483.3M106.84,479.3V483.3M140.26,479.3V483.3M173.68,479.3V483.3M207.10,479.3V483.3M240.52,479.3V483.3M273.94,479.3V483.3M56.71,479.3V481.3M90.13,479.3V481.3M123.55,479.3V481.3M156.97,479.3V481.3M190.39,479.3V481.3M223.81,479.3V481.3M257.23,479.3V481.3M290.65,479.3V481.3" stroke="#2a2a2a" stroke-width="1"/>
<text x="33.2" y="474.91" text-anchor="end" font-size="11.8">-320</text>
<text x="33.2" y="449.81" text-anchor="end" font-size="11.8">-240</text>
<text x="33.2" y="424.71" text-anchor="end" font-size="11.8">-160</text>
<text x="33.2" y="399.61" text-anchor="end" font-size="11.8">-80</text>
<text x="33.2" y="374.51" text-anchor="end" font-size="11.8">0</text>
<text x="33.2" y="349.41" text-anchor="end" font-size="11.8">80</text>
<text x="33.2" y="324.31" text-anchor="end" font-size="11.8">160</text>
<text x="33.2" y="299.21" text-anchor="end" font-size="11.8">240</text>
<text x="33.2" y="274.11" text-anchor="end" font-size="11.8">320</text>
<text x="40.00" y="495.8" text-anchor="middle" font-size="11.8">4</text>
<text x="73.42" y="495.8" text-anchor="middle" font-size="11.8">6</text>
<text x="106.84" y="495.8" text-anchor="middle" font-size="11.8">8</text>
<text x="140.26" y="495.8" text-anchor="middle" font-size="11.8">10</text>
<text x="173.68" y="495.8" text-anchor="middle" font-size="11.8">12</text>
<text x="207.10" y="495.8" text-anchor="middle" font-size="11.8">14</text>
<text x="240.52" y="495.8" text-anchor="middle" font-size="11.8">16</text>
<text x="273.94" y="495.8" text-anchor="middle" font-size="11.8">18</text>
<path d="M344.7,271.2H600.5V479.8" fill="none" stroke="#d9d9d9" stroke-width="1.2"/>
<path d="M344.7,271.2V479.8H600.5" fill="none" stroke="#2a2a2a" stroke-width="1.1"/>
<path d="M340.7,472.45H344.7M340.7,453.00H344.7M340.7,433.55H344.7M340.7,414.10H344.7M340.7,394.65H344.7M340.7,375.20H344.7M340.7,355.75H344.7M340.7,336.30H344.7M340.7,316.85H344.7M340.7,297.40H344.7M340.7,277.95H344.7M342.7,462.73H344.7M342.7,443.28H344.7M342.7,423.83H344.7M342.7,404.38H344.7M342.7,384.93H344.7M342.7,365.47H344.7M342.7,346.02H344.7M342.7,326.57H344.7M342.7,307.12H344.7M342.7,287.67H344.7M344.75,479.8V483.8M378.89,479.8V483.8M413.03,479.8V483.8M447.17,479.8V483.8M481.31,479.8V483.8M515.45,479.8V483.8M549.59,479.8V483.8M583.73,479.8V483.8M361.82,479.8V481.8M395.96,479.8V481.8M430.10,479.8V481.8M464.24,479.8V481.8M498.38,479.8V481.8M532.52,479.8V481.8M566.66,479.8V481.8M600.80,479.8V481.8" stroke="#2a2a2a" stroke-width="1"/>
<text x="337.9" y="476.46" text-anchor="end" font-size="11.8">-650</text>
<text x="337.9" y="457.01" text-anchor="end" font-size="11.8">-520</text>
<text x="337.9" y="437.56" text-anchor="end" font-size="11.8">-390</text>
<text x="337.9" y="418.11" text-anchor="end" font-size="11.8">-260</text>
<text x="337.9" y="398.66" text-anchor="end" font-size="11.8">-130</text>
<text x="337.9" y="379.21" text-anchor="end" font-size="11.8">0</text>
<text x="337.9" y="359.76" text-anchor="end" font-size="11.8">130</text>
<text x="337.9" y="340.31" text-anchor="end" font-size="11.8">260</text>
<text x="337.9" y="320.86" text-anchor="end" font-size="11.8">390</text>
<text x="337.9" y="301.41" text-anchor="end" font-size="11.8">520</text>
<text x="337.9" y="281.96" text-anchor="end" font-size="11.8">650</text>
<text x="344.75" y="496.3" text-anchor="middle" font-size="11.8">4</text>
<text x="378.89" y="496.3" text-anchor="middle" font-size="11.8">6</text>
<text x="413.03" y="496.3" text-anchor="middle" font-size="11.8">8</text>
<text x="447.17" y="496.3" text-anchor="middle" font-size="11.8">10</text>
<text x="481.31" y="496.3" text-anchor="middle" font-size="11.8">12</text>
<text x="515.45" y="496.3" text-anchor="middle" font-size="11.8">14</text>
<text x="549.59" y="496.3" text-anchor="middle" font-size="11.8">16</text>
<text x="583.73" y="496.3" text-anchor="middle" font-size="11.8">18</text>
<rect x="53.81" y="354.40" width="5.8" height="5.8" fill="#000"/>
<rect x="88.42" y="343.90" width="5.8" height="5.8" fill="#000"/>
<rect x="114.97" y="334.00" width="5.8" height="5.8" fill="#000"/>
<rect x="137.36" y="326.50" width="5.8" height="5.8" fill="#000"/>
<rect x="157.08" y="318.00" width="5.8" height="5.8" fill="#000"/>
<rect x="174.91" y="312.00" width="5.8" height="5.8" fill="#000"/>
<rect x="191.31" y="305.00" width="5.8" height="5.8" fill="#000"/>
<rect x="206.58" y="298.60" width="5.8" height="5.8" fill="#000"/>
<rect x="220.91" y="291.80" width="5.8" height="5.8" fill="#000"/>
<rect x="234.47" y="285.60" width="5.8" height="5.8" fill="#000"/>
<rect x="247.36" y="279.10" width="5.8" height="5.8" fill="#000"/>
<rect x="259.69" y="273.70" width="5.8" height="5.8" fill="#000"/>
<circle cx="56.71" cy="390.00" r="3.1" fill="#ff0000"/>
<circle cx="91.32" cy="400.40" r="3.1" fill="#ff0000"/>
<circle cx="117.87" cy="409.20" r="3.1" fill="#ff0000"/>
<circle cx="140.26" cy="418.10" r="3.1" fill="#ff0000"/>
<circle cx="159.98" cy="426.10" r="3.1" fill="#ff0000"/>
<circle cx="177.81" cy="433.50" r="3.1" fill="#ff0000"/>
<circle cx="194.21" cy="440.00" r="3.1" fill="#ff0000"/>
<circle cx="209.48" cy="447.00" r="3.1" fill="#ff0000"/>
<circle cx="223.81" cy="454.70" r="3.1" fill="#ff0000"/>
<circle cx="237.37" cy="460.40" r="3.1" fill="#ff0000"/>
<circle cx="250.26" cy="466.90" r="3.1" fill="#ff0000"/>
<circle cx="262.59" cy="472.90" r="3.1" fill="#ff0000"/>
<path d="M40.3,367.8L283.8,270.9M40.3,378.7L283.8,478.8" stroke="#ff0000" stroke-width="1.5" fill="none"/>
<rect x="358.92" y="359.40" width="5.8" height="5.8" fill="#000"/>
<rect x="394.27" y="347.70" width="5.8" height="5.8" fill="#000"/>
<rect x="421.40" y="338.20" width="5.8" height="5.8" fill="#000"/>
<rect x="444.27" y="330.00" width="5.8" height="5.8" fill="#000"/>
<rect x="464.42" y="322.30" width="5.8" height="5.8" fill="#000"/>
<rect x="482.63" y="315.10" width="5.8" height="5.8" fill="#000"/>
<rect x="499.38" y="308.00" width="5.8" height="5.8" fill="#000"/>
<rect x="514.98" y="300.70" width="5.8" height="5.8" fill="#000"/>
<rect x="529.62" y="295.20" width="5.8" height="5.8" fill="#000"/>
<rect x="543.47" y="288.20" width="5.8" height="5.8" fill="#000"/>
<rect x="556.64" y="282.90" width="5.8" height="5.8" fill="#000"/>
<rect x="569.23" y="276.80" width="5.8" height="5.8" fill="#000"/>
<circle cx="361.82" cy="392.00" r="3.1" fill="#ff0000"/>
<circle cx="397.17" cy="402.40" r="3.1" fill="#ff0000"/>
<circle cx="424.30" cy="411.70" r="3.1" fill="#ff0000"/>
<circle cx="447.17" cy="419.10" r="3.1" fill="#ff0000"/>
<circle cx="467.32" cy="427.00" r="3.1" fill="#ff0000"/>
<circle cx="485.53" cy="433.50" r="3.1" fill="#ff0000"/>
<circle cx="502.28" cy="440.30" r="3.1" fill="#ff0000"/>
<circle cx="517.88" cy="446.60" r="3.1" fill="#ff0000"/>
<circle cx="532.52" cy="452.30" r="3.1" fill="#ff0000"/>
<circle cx="546.37" cy="458.30" r="3.1" fill="#ff0000"/>
<circle cx="559.54" cy="463.60" r="3.1" fill="#ff0000"/>
<circle cx="572.13" cy="469.00" r="3.1" fill="#ff0000"/>
<path d="M345,372L593.6,273.4M345,383L593.5,475" stroke="#ff0000" stroke-width="1.5" fill="none"/>
<text x="70.5" y="286.4" font-size="11.15"><tspan font-style="italic">I</tspan>pa = 627.4 <tspan font-style="italic">v</tspan><tspan font-size="6.7" dy="-6.6">1/2</tspan><tspan dy="6.6"> - 76.593</tspan></text>
<text x="70.8" y="306.6" font-size="11"><tspan font-style="italic" font-size="12.1">R</tspan><tspan dy="-5.2">2</tspan><tspan dy="5.2"> = 0.99759</tspan></text>
<text x="49.8" y="451.5" font-size="11"><tspan font-style="italic">I</tspan>pc = -695.47 <tspan font-style="italic">v</tspan><tspan font-size="6.6" dy="-6.6">1/2</tspan><tspan dy="6.6">+ 60.472</tspan></text>
<text x="49.8" y="471.7" font-size="11"><tspan font-style="italic" font-size="12.1">R</tspan><tspan dy="-5.2">2</tspan><tspan dy="5.2"> = 0.99733</tspan></text>
<text x="347.6" y="286.6" font-size="11.3"><tspan font-style="italic">I</tspan>pa = 1,431.2 <tspan font-style="italic">v</tspan><tspan font-size="6.8" dy="-6.6">1/2</tspan><tspan dy="6.6"> - 157.60</tspan></text>
<text x="347.2" y="306" font-size="11"><tspan font-style="italic" font-size="12.1">R</tspan><tspan dy="-5.2">2</tspan><tspan dy="5.2"> = 0.99847</tspan></text>
<text x="349" y="447.4" font-size="11.25"><tspan font-style="italic">I</tspan>pc = -1,339.10 <tspan font-style="italic">v</tspan><tspan font-size="6.8" dy="-6.6">1/2</tspan><tspan dy="6.6">+ 119.09</tspan></text>
<text x="349" y="466.4" font-size="11"><tspan font-style="italic" font-size="12.1">R</tspan><tspan dy="-5.2">2</tspan><tspan dy="5.2"> = 0.99834</tspan></text>
<text x="215.5" y="27.8" font-size="16" style="font-weight:normal;stroke-width:0.45px">a</text>
<text x="541.6" y="25" font-size="12">b</text>
<text x="242.6" y="376.8" font-size="17">c</text>
<text x="568" y="356.5" font-size="16">d</text>
<text x="176" y="245" font-size="11" text-anchor="middle">Potential (V)</text>
<text x="473.4" y="245.7" font-size="11" text-anchor="middle">Potential (V)</text>
<text transform="translate(10.6,106.7) rotate(-90)" font-size="11" text-anchor="middle">Current (μA)</text>
<text transform="translate(307.4,108) rotate(-90)" font-size="11" text-anchor="middle">Current (μA)</text>
<text transform="translate(8.0,362.2) rotate(-90)" font-size="11" text-anchor="middle"><tspan font-style="italic">I</tspan> (μA)</text>
<text transform="translate(308.2,351.7) rotate(-90)" font-size="11" text-anchor="middle"><tspan font-style="italic">I</tspan> (μA)</text>
<text x="139.3" y="517.1" font-size="10.5">(v/mVs<tspan font-size="7" dy="-5">-1</tspan><tspan dy="5">)</tspan><tspan font-size="7" dy="-6.5">1/2</tspan></text>
<text x="441.4" y="518.3" font-size="10.5">(v/mVs<tspan font-size="7" dy="-5">-1</tspan><tspan dy="5">)</tspan><tspan font-size="7" dy="-6.5">1/2</tspan></text>
</svg></body></html>
